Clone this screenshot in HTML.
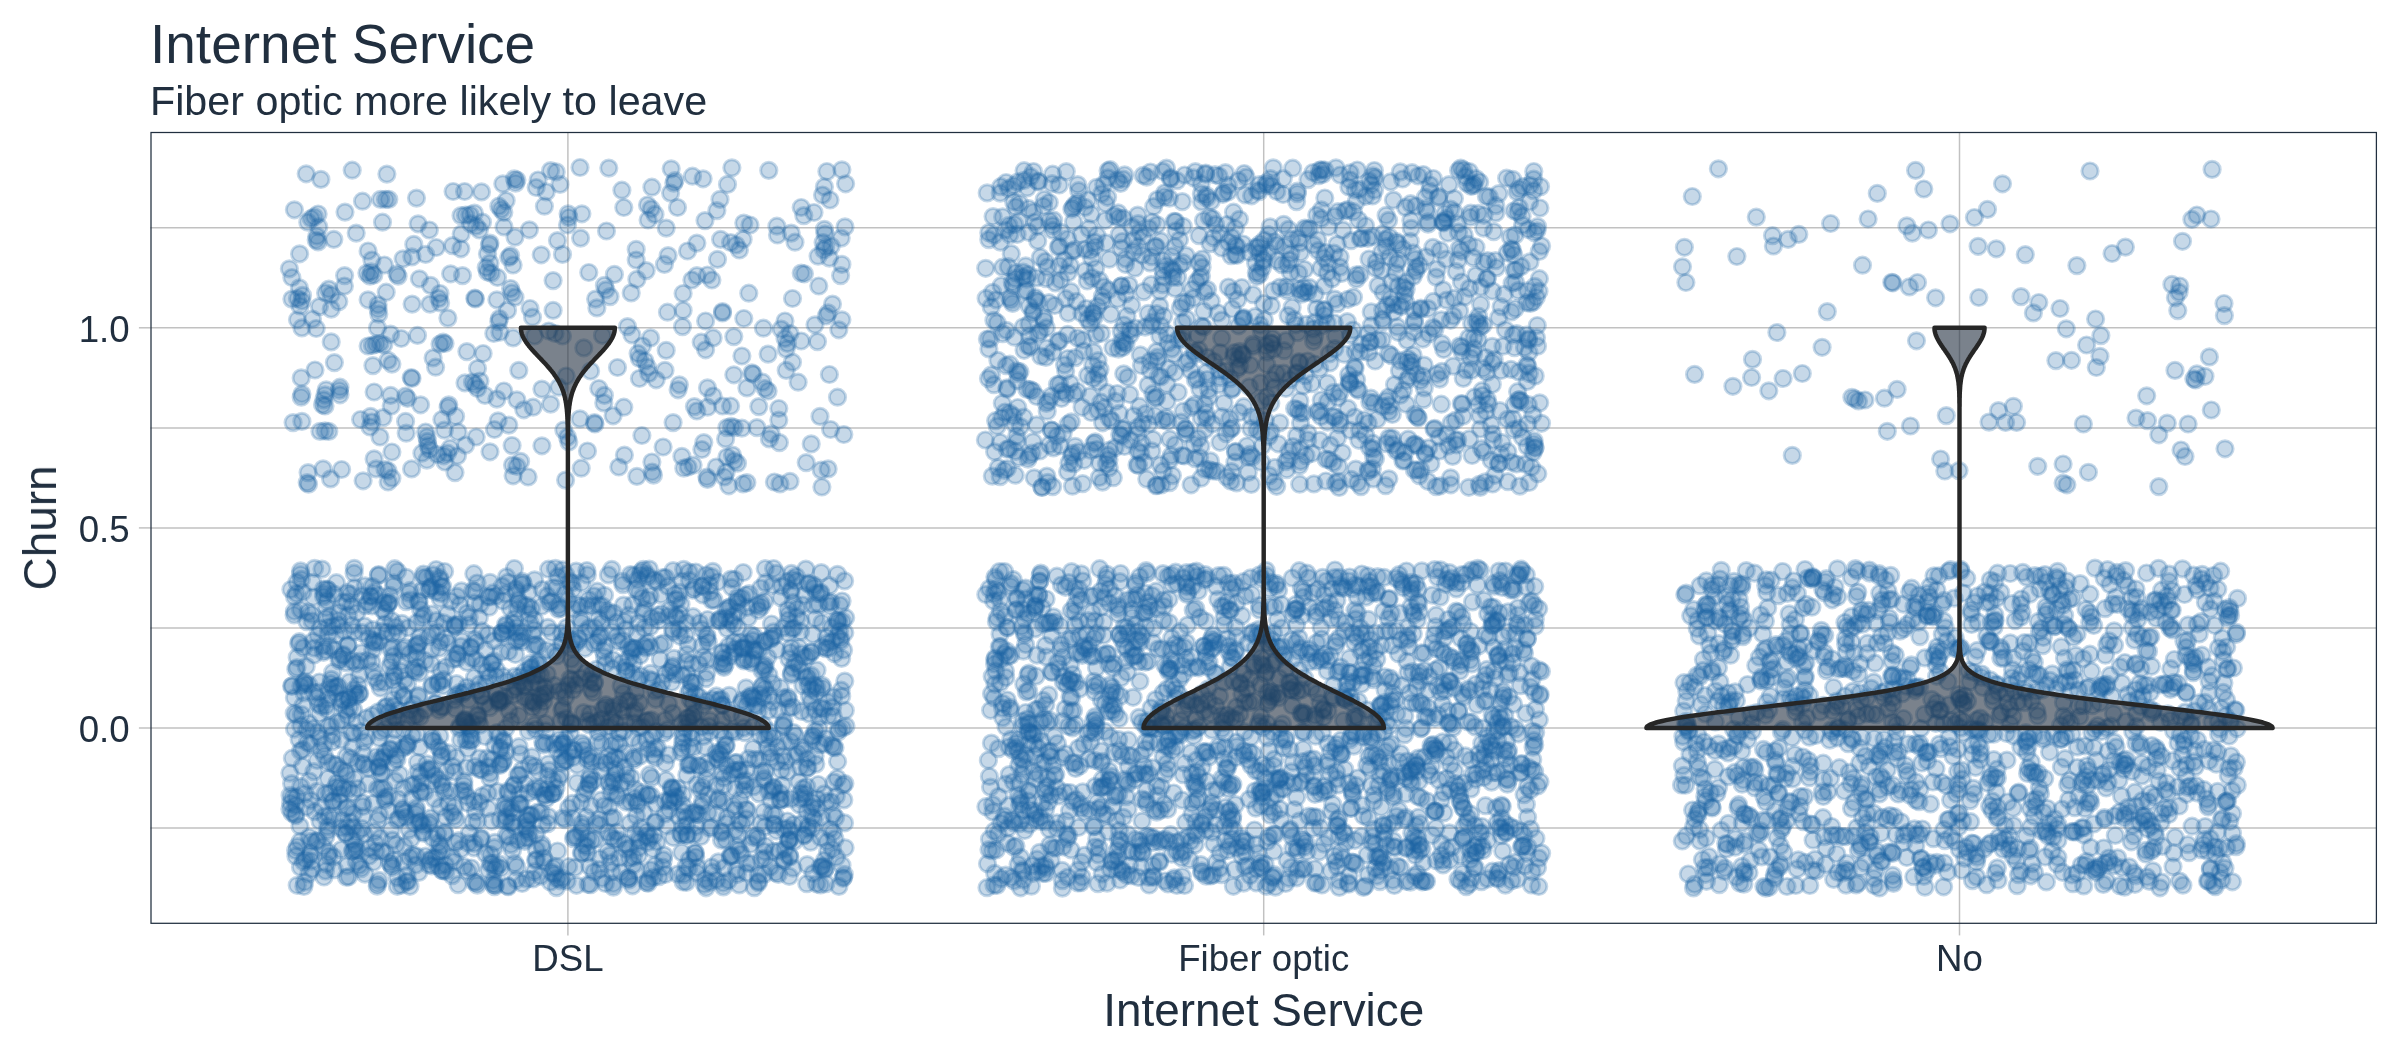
<!DOCTYPE html>
<html><head><meta charset="utf-8"><title>Internet Service</title>
<style>html,body{margin:0;padding:0;background:#fff}svg{display:block}text{font-family:"Liberation Sans",sans-serif;fill:#212f3f}</style></head>
<body>
<svg width="2400" height="1050" viewBox="0 0 2400 1050">
<defs><filter id="f" filterUnits="userSpaceOnUse" x="0" y="0" width="2400" height="1050" color-interpolation-filters="sRGB"><feOffset dx="0" dy="0"/></filter></defs>
<rect width="2400" height="1050" fill="#fff"/>
<g filter="url(#f)"><text x="150" y="63" font-size="55">Internet Service</text></g>
<g filter="url(#f)"><text x="150" y="115" font-size="41.25">Fiber optic more likely to leave</text></g>
<g stroke="#c1c1c1" stroke-width="1.48" fill="none">
<path d="M150.4 828.0H2377.0"/>
<path d="M150.4 728.0H2377.0"/>
<path d="M150.4 628.0H2377.0"/>
<path d="M150.4 527.9H2377.0"/>
<path d="M150.4 427.9H2377.0"/>
<path d="M150.4 327.8H2377.0"/>
<path d="M150.4 227.8H2377.0"/>
<path d="M567.9 131.9V923.9"/>
<path d="M1263.7 131.9V923.9"/>
<path d="M1959.5 131.9V923.9"/>
<path d="M138.9 728.0H150.4"/>
<path d="M138.9 527.9H150.4"/>
<path d="M138.9 327.8H150.4"/>
<path d="M567.9 923.9V935.4"/>
<path d="M1263.7 923.9V935.4"/>
<path d="M1959.5 923.9V935.4"/>
</g>
<g fill="#1b63a5" fill-opacity=".25" stroke="#1b63a5" stroke-opacity=".25" stroke-width="2.95">
<circle cx="1994.1" cy="626.9" r="8.14"/><circle cx="1739.0" cy="584.8" r="8.14"/><circle cx="1060.3" cy="445.7" r="8.14"/><circle cx="1073.8" cy="463.7" r="8.14"/><circle cx="1098.1" cy="374.1" r="8.14"/><circle cx="1870.4" cy="837.0" r="8.14"/>
<circle cx="331.3" cy="679.4" r="8.14"/><circle cx="1380.1" cy="775.4" r="8.14"/><circle cx="1720.0" cy="579.0" r="8.14"/><circle cx="329.7" cy="792.9" r="8.14"/><circle cx="1434.6" cy="811.2" r="8.14"/><circle cx="841.6" cy="658.4" r="8.14"/>
<circle cx="1065.2" cy="709.0" r="8.14"/><circle cx="1460.7" cy="168.0" r="8.14"/><circle cx="1300.5" cy="423.1" r="8.14"/><circle cx="1541.5" cy="423.3" r="8.14"/><circle cx="1825.2" cy="581.9" r="8.14"/><circle cx="1411.8" cy="833.3" r="8.14"/>
<circle cx="548.4" cy="816.6" r="8.14"/><circle cx="1105.0" cy="731.4" r="8.14"/><circle cx="1236.0" cy="757.5" r="8.14"/><circle cx="1088.0" cy="733.1" r="8.14"/><circle cx="1270.1" cy="226.9" r="8.14"/><circle cx="1272.5" cy="338.7" r="8.14"/>
<circle cx="1291.8" cy="690.1" r="8.14"/><circle cx="2124.6" cy="887.2" r="8.14"/><circle cx="2170.0" cy="628.1" r="8.14"/><circle cx="1719.6" cy="863.8" r="8.14"/><circle cx="1862.1" cy="784.2" r="8.14"/><circle cx="1524.9" cy="624.9" r="8.14"/>
<circle cx="1327.4" cy="272.8" r="8.14"/><circle cx="365.0" cy="874.1" r="8.14"/><circle cx="1137.9" cy="427.4" r="8.14"/><circle cx="328.3" cy="698.7" r="8.14"/><circle cx="843.6" cy="877.3" r="8.14"/><circle cx="1127.4" cy="599.9" r="8.14"/>
<circle cx="1350.5" cy="697.0" r="8.14"/><circle cx="2006.9" cy="760.1" r="8.14"/><circle cx="2137.7" cy="619.8" r="8.14"/><circle cx="1539.1" cy="669.9" r="8.14"/><circle cx="1804.5" cy="796.6" r="8.14"/><circle cx="2226.7" cy="647.0" r="8.14"/>
<circle cx="1989.7" cy="806.2" r="8.14"/><circle cx="534.6" cy="620.3" r="8.14"/><circle cx="1004.4" cy="470.4" r="8.14"/><circle cx="2075.9" cy="655.3" r="8.14"/><circle cx="1507.3" cy="252.8" r="8.14"/><circle cx="777.0" cy="762.0" r="8.14"/>
<circle cx="571.3" cy="722.6" r="8.14"/><circle cx="515.9" cy="632.5" r="8.14"/><circle cx="739.6" cy="770.1" r="8.14"/><circle cx="1061.9" cy="391.3" r="8.14"/><circle cx="1138.4" cy="661.9" r="8.14"/><circle cx="1492.5" cy="871.2" r="8.14"/>
<circle cx="2221.8" cy="879.6" r="8.14"/><circle cx="673.0" cy="632.3" r="8.14"/><circle cx="443.6" cy="679.7" r="8.14"/><circle cx="1497.5" cy="740.4" r="8.14"/><circle cx="391.1" cy="829.8" r="8.14"/><circle cx="1942.3" cy="634.3" r="8.14"/>
<circle cx="1362.2" cy="675.0" r="8.14"/><circle cx="394.7" cy="568.7" r="8.14"/><circle cx="1019.4" cy="823.7" r="8.14"/><circle cx="1407.8" cy="627.9" r="8.14"/><circle cx="1790.2" cy="624.5" r="8.14"/><circle cx="623.5" cy="605.1" r="8.14"/>
<circle cx="533.0" cy="635.0" r="8.14"/><circle cx="1760.7" cy="830.8" r="8.14"/><circle cx="1071.1" cy="610.7" r="8.14"/><circle cx="1285.6" cy="738.3" r="8.14"/><circle cx="493.3" cy="884.3" r="8.14"/><circle cx="1091.3" cy="412.5" r="8.14"/>
<circle cx="1042.2" cy="607.9" r="8.14"/><circle cx="2141.2" cy="608.6" r="8.14"/><circle cx="310.8" cy="800.3" r="8.14"/><circle cx="504.9" cy="804.2" r="8.14"/><circle cx="1955.2" cy="724.1" r="8.14"/><circle cx="385.4" cy="800.1" r="8.14"/>
<circle cx="1500.8" cy="718.3" r="8.14"/><circle cx="1475.1" cy="867.3" r="8.14"/><circle cx="640.1" cy="755.9" r="8.14"/><circle cx="1270.8" cy="582.6" r="8.14"/><circle cx="808.7" cy="584.2" r="8.14"/><circle cx="2157.4" cy="751.0" r="8.14"/>
<circle cx="1700.9" cy="704.4" r="8.14"/><circle cx="1014.0" cy="847.1" r="8.14"/><circle cx="1831.6" cy="826.5" r="8.14"/><circle cx="1304.7" cy="846.8" r="8.14"/><circle cx="1470.2" cy="217.2" r="8.14"/><circle cx="586.9" cy="570.5" r="8.14"/>
<circle cx="1214.4" cy="673.1" r="8.14"/><circle cx="1267.4" cy="841.5" r="8.14"/><circle cx="1763.6" cy="651.0" r="8.14"/><circle cx="481.7" cy="769.8" r="8.14"/><circle cx="2031.6" cy="700.8" r="8.14"/><circle cx="1243.6" cy="317.7" r="8.14"/>
<circle cx="1414.4" cy="836.8" r="8.14"/><circle cx="424.6" cy="792.3" r="8.14"/><circle cx="1178.4" cy="339.1" r="8.14"/><circle cx="803.9" cy="835.7" r="8.14"/><circle cx="1433.3" cy="744.6" r="8.14"/><circle cx="1348.3" cy="580.9" r="8.14"/>
<circle cx="1071.6" cy="571.6" r="8.14"/><circle cx="625.6" cy="666.8" r="8.14"/><circle cx="1406.9" cy="661.4" r="8.14"/><circle cx="1505.5" cy="571.0" r="8.14"/><circle cx="655.9" cy="822.1" r="8.14"/><circle cx="1145.5" cy="413.6" r="8.14"/>
<circle cx="741.0" cy="703.1" r="8.14"/><circle cx="1234.9" cy="652.9" r="8.14"/><circle cx="752.6" cy="640.3" r="8.14"/><circle cx="1971.6" cy="624.5" r="8.14"/><circle cx="1107.1" cy="392.6" r="8.14"/><circle cx="1126.8" cy="875.3" r="8.14"/>
<circle cx="2109.1" cy="640.9" r="8.14"/><circle cx="1959.5" cy="719.5" r="8.14"/><circle cx="479.5" cy="769.5" r="8.14"/><circle cx="540.8" cy="674.8" r="8.14"/><circle cx="1482.1" cy="390.7" r="8.14"/><circle cx="289.9" cy="773.1" r="8.14"/>
<circle cx="1499.8" cy="660.8" r="8.14"/><circle cx="804.6" cy="793.9" r="8.14"/><circle cx="1286.8" cy="469.6" r="8.14"/><circle cx="1202.2" cy="259.0" r="8.14"/><circle cx="322.9" cy="645.9" r="8.14"/><circle cx="2132.7" cy="825.4" r="8.14"/>
<circle cx="1893.5" cy="883.4" r="8.14"/><circle cx="820.3" cy="593.6" r="8.14"/><circle cx="1442.3" cy="703.8" r="8.14"/><circle cx="1478.9" cy="753.8" r="8.14"/><circle cx="1096.8" cy="838.9" r="8.14"/><circle cx="993.7" cy="601.0" r="8.14"/>
<circle cx="646.5" cy="739.5" r="8.14"/><circle cx="1044.2" cy="199.5" r="8.14"/><circle cx="1208.3" cy="700.7" r="8.14"/><circle cx="809.5" cy="696.2" r="8.14"/><circle cx="1316.8" cy="882.7" r="8.14"/><circle cx="628.6" cy="877.9" r="8.14"/>
<circle cx="2106.9" cy="684.2" r="8.14"/><circle cx="1385.2" cy="631.2" r="8.14"/><circle cx="733.4" cy="624.5" r="8.14"/><circle cx="1423.5" cy="399.6" r="8.14"/><circle cx="764.0" cy="811.7" r="8.14"/><circle cx="1978.1" cy="729.4" r="8.14"/>
<circle cx="1290.5" cy="272.6" r="8.14"/><circle cx="343.4" cy="700.0" r="8.14"/><circle cx="328.0" cy="762.1" r="8.14"/><circle cx="1494.0" cy="624.0" r="8.14"/><circle cx="611.0" cy="792.5" r="8.14"/><circle cx="501.1" cy="652.3" r="8.14"/>
<circle cx="1876.0" cy="777.0" r="8.14"/><circle cx="1011.3" cy="253.7" r="8.14"/><circle cx="1347.0" cy="690.4" r="8.14"/><circle cx="1208.9" cy="397.0" r="8.14"/><circle cx="2237.5" cy="598.4" r="8.14"/><circle cx="1328.5" cy="227.0" r="8.14"/>
<circle cx="811.4" cy="651.8" r="8.14"/><circle cx="1078.7" cy="190.7" r="8.14"/><circle cx="1253.3" cy="346.5" r="8.14"/><circle cx="687.2" cy="835.4" r="8.14"/><circle cx="1007.7" cy="627.6" r="8.14"/><circle cx="1313.5" cy="786.7" r="8.14"/>
<circle cx="546.0" cy="743.2" r="8.14"/><circle cx="1038.0" cy="181.2" r="8.14"/><circle cx="1766.1" cy="802.2" r="8.14"/><circle cx="1030.1" cy="389.6" r="8.14"/><circle cx="1717.7" cy="701.1" r="8.14"/><circle cx="363.0" cy="763.6" r="8.14"/>
<circle cx="828.3" cy="715.8" r="8.14"/><circle cx="1128.1" cy="783.8" r="8.14"/><circle cx="1087.7" cy="200.0" r="8.14"/><circle cx="2182.4" cy="755.0" r="8.14"/><circle cx="558.7" cy="605.4" r="8.14"/><circle cx="1469.6" cy="690.8" r="8.14"/>
<circle cx="481.2" cy="695.9" r="8.14"/><circle cx="1301.6" cy="294.1" r="8.14"/><circle cx="1897.1" cy="758.6" r="8.14"/><circle cx="2053.0" cy="837.2" r="8.14"/><circle cx="1290.0" cy="689.5" r="8.14"/><circle cx="1198.6" cy="667.8" r="8.14"/>
<circle cx="1153.1" cy="877.5" r="8.14"/><circle cx="429.1" cy="589.7" r="8.14"/><circle cx="2236.3" cy="843.6" r="8.14"/><circle cx="1233.6" cy="583.2" r="8.14"/><circle cx="1764.0" cy="796.6" r="8.14"/><circle cx="333.4" cy="856.9" r="8.14"/>
<circle cx="472.0" cy="723.1" r="8.14"/><circle cx="1407.1" cy="380.3" r="8.14"/><circle cx="2193.5" cy="761.9" r="8.14"/><circle cx="1348.4" cy="681.6" r="8.14"/><circle cx="1887.9" cy="786.6" r="8.14"/><circle cx="1292.1" cy="307.4" r="8.14"/>
<circle cx="1106.8" cy="653.5" r="8.14"/><circle cx="493.0" cy="592.9" r="8.14"/><circle cx="1525.0" cy="865.7" r="8.14"/><circle cx="328.1" cy="778.5" r="8.14"/><circle cx="1501.3" cy="805.1" r="8.14"/><circle cx="1370.3" cy="737.5" r="8.14"/>
<circle cx="2105.4" cy="655.2" r="8.14"/><circle cx="2034.3" cy="662.4" r="8.14"/><circle cx="1502.3" cy="587.5" r="8.14"/><circle cx="1390.4" cy="298.6" r="8.14"/><circle cx="2060.6" cy="725.4" r="8.14"/><circle cx="378.1" cy="682.3" r="8.14"/>
<circle cx="1842.8" cy="872.9" r="8.14"/><circle cx="1365.1" cy="675.1" r="8.14"/><circle cx="2083.2" cy="658.8" r="8.14"/><circle cx="1919.6" cy="686.9" r="8.14"/><circle cx="2154.7" cy="832.0" r="8.14"/><circle cx="1340.1" cy="257.0" r="8.14"/>
<circle cx="485.1" cy="704.0" r="8.14"/><circle cx="593.0" cy="692.5" r="8.14"/><circle cx="831.3" cy="802.0" r="8.14"/><circle cx="1489.3" cy="196.8" r="8.14"/><circle cx="1347.7" cy="209.7" r="8.14"/><circle cx="2098.1" cy="780.5" r="8.14"/>
<circle cx="1920.2" cy="834.3" r="8.14"/><circle cx="1926.2" cy="752.9" r="8.14"/><circle cx="2209.2" cy="692.9" r="8.14"/><circle cx="1316.6" cy="642.8" r="8.14"/><circle cx="514.4" cy="568.5" r="8.14"/><circle cx="655.4" cy="757.8" r="8.14"/>
<circle cx="668.6" cy="616.1" r="8.14"/><circle cx="1977.5" cy="650.3" r="8.14"/><circle cx="665.3" cy="874.5" r="8.14"/><circle cx="1022.7" cy="721.0" r="8.14"/><circle cx="754.5" cy="651.2" r="8.14"/><circle cx="1440.6" cy="569.9" r="8.14"/>
<circle cx="410.0" cy="590.3" r="8.14"/><circle cx="1372.5" cy="196.0" r="8.14"/><circle cx="1167.6" cy="809.3" r="8.14"/><circle cx="1707.5" cy="617.4" r="8.14"/><circle cx="1121.3" cy="286.1" r="8.14"/><circle cx="1044.9" cy="789.6" r="8.14"/>
<circle cx="716.4" cy="695.9" r="8.14"/><circle cx="1270.5" cy="646.8" r="8.14"/><circle cx="527.7" cy="605.6" r="8.14"/><circle cx="1376.9" cy="876.1" r="8.14"/><circle cx="834.6" cy="653.6" r="8.14"/><circle cx="2081.5" cy="783.6" r="8.14"/>
<circle cx="306.7" cy="729.8" r="8.14"/><circle cx="1035.3" cy="608.5" r="8.14"/><circle cx="2217.4" cy="832.2" r="8.14"/><circle cx="1995.9" cy="683.9" r="8.14"/><circle cx="605.5" cy="646.8" r="8.14"/><circle cx="1077.7" cy="184.6" r="8.14"/>
<circle cx="2024.8" cy="689.2" r="8.14"/><circle cx="1388.8" cy="763.0" r="8.14"/><circle cx="1893.1" cy="880.4" r="8.14"/><circle cx="1765.7" cy="585.6" r="8.14"/><circle cx="1211.3" cy="649.6" r="8.14"/><circle cx="1523.9" cy="835.3" r="8.14"/>
<circle cx="768.8" cy="791.2" r="8.14"/><circle cx="1530.4" cy="303.4" r="8.14"/><circle cx="1487.2" cy="278.3" r="8.14"/><circle cx="295.8" cy="669.2" r="8.14"/><circle cx="336.6" cy="686.7" r="8.14"/><circle cx="833.7" cy="696.9" r="8.14"/>
<circle cx="1519.7" cy="672.7" r="8.14"/><circle cx="1321.0" cy="416.5" r="8.14"/><circle cx="1936.6" cy="676.3" r="8.14"/><circle cx="1431.1" cy="745.4" r="8.14"/><circle cx="529.6" cy="764.3" r="8.14"/><circle cx="594.6" cy="682.2" r="8.14"/>
<circle cx="1439.4" cy="667.6" r="8.14"/><circle cx="1703.3" cy="670.3" r="8.14"/><circle cx="1436.4" cy="860.7" r="8.14"/><circle cx="1145.7" cy="742.0" r="8.14"/><circle cx="1376.4" cy="261.8" r="8.14"/><circle cx="1881.0" cy="861.3" r="8.14"/>
<circle cx="1338.0" cy="397.7" r="8.14"/><circle cx="1891.6" cy="652.8" r="8.14"/><circle cx="2233.4" cy="668.0" r="8.14"/><circle cx="359.7" cy="693.6" r="8.14"/><circle cx="1341.8" cy="754.0" r="8.14"/><circle cx="1535.1" cy="447.1" r="8.14"/>
<circle cx="1524.1" cy="794.6" r="8.14"/><circle cx="1440.4" cy="692.1" r="8.14"/><circle cx="1685.5" cy="785.2" r="8.14"/><circle cx="1323.7" cy="310.2" r="8.14"/><circle cx="1851.5" cy="616.6" r="8.14"/><circle cx="1132.4" cy="617.4" r="8.14"/>
<circle cx="1113.3" cy="477.7" r="8.14"/><circle cx="576.5" cy="885.3" r="8.14"/><circle cx="1075.3" cy="357.6" r="8.14"/><circle cx="1539.0" cy="291.3" r="8.14"/><circle cx="1329.3" cy="353.9" r="8.14"/><circle cx="707.4" cy="762.8" r="8.14"/>
<circle cx="1076.1" cy="682.5" r="8.14"/><circle cx="1006.1" cy="182.5" r="8.14"/><circle cx="561.6" cy="632.9" r="8.14"/><circle cx="1712.3" cy="672.5" r="8.14"/><circle cx="325.5" cy="618.3" r="8.14"/><circle cx="1071.6" cy="697.9" r="8.14"/>
<circle cx="1131.8" cy="609.7" r="8.14"/><circle cx="1349.6" cy="577.0" r="8.14"/><circle cx="1191.3" cy="700.6" r="8.14"/><circle cx="474.0" cy="801.0" r="8.14"/><circle cx="456.8" cy="653.5" r="8.14"/><circle cx="1246.1" cy="177.1" r="8.14"/>
<circle cx="1909.9" cy="795.1" r="8.14"/><circle cx="1512.1" cy="283.3" r="8.14"/><circle cx="430.1" cy="587.6" r="8.14"/><circle cx="1230.9" cy="481.2" r="8.14"/><circle cx="690.9" cy="682.0" r="8.14"/><circle cx="1421.5" cy="652.8" r="8.14"/>
<circle cx="469.2" cy="617.4" r="8.14"/><circle cx="1418.8" cy="675.6" r="8.14"/><circle cx="1425.5" cy="454.3" r="8.14"/><circle cx="1298.6" cy="273.3" r="8.14"/><circle cx="2044.9" cy="574.5" r="8.14"/><circle cx="1483.5" cy="324.8" r="8.14"/>
<circle cx="1273.5" cy="632.7" r="8.14"/><circle cx="363.0" cy="806.5" r="8.14"/><circle cx="1049.4" cy="829.2" r="8.14"/><circle cx="432.1" cy="686.2" r="8.14"/><circle cx="1290.2" cy="829.1" r="8.14"/><circle cx="338.6" cy="620.1" r="8.14"/>
<circle cx="1261.0" cy="805.5" r="8.14"/><circle cx="1018.6" cy="221.2" r="8.14"/><circle cx="1106.9" cy="814.9" r="8.14"/><circle cx="1428.4" cy="690.7" r="8.14"/><circle cx="1107.8" cy="455.3" r="8.14"/><circle cx="1442.5" cy="221.7" r="8.14"/>
<circle cx="1313.9" cy="483.9" r="8.14"/><circle cx="773.6" cy="737.6" r="8.14"/><circle cx="1370.9" cy="398.2" r="8.14"/><circle cx="1148.1" cy="385.1" r="8.14"/><circle cx="548.1" cy="764.0" r="8.14"/><circle cx="1481.8" cy="743.4" r="8.14"/>
<circle cx="2223.0" cy="651.6" r="8.14"/><circle cx="1858.4" cy="850.1" r="8.14"/><circle cx="729.2" cy="695.3" r="8.14"/><circle cx="760.8" cy="823.1" r="8.14"/><circle cx="1327.3" cy="671.0" r="8.14"/><circle cx="1157.3" cy="199.6" r="8.14"/>
<circle cx="2121.9" cy="683.1" r="8.14"/><circle cx="1082.1" cy="877.0" r="8.14"/><circle cx="1389.2" cy="598.7" r="8.14"/><circle cx="549.3" cy="602.6" r="8.14"/><circle cx="2069.4" cy="681.0" r="8.14"/><circle cx="543.8" cy="794.9" r="8.14"/>
<circle cx="733.5" cy="805.7" r="8.14"/><circle cx="2232.4" cy="881.8" r="8.14"/><circle cx="1880.2" cy="758.1" r="8.14"/><circle cx="1325.9" cy="481.0" r="8.14"/><circle cx="1016.2" cy="743.3" r="8.14"/><circle cx="1446.8" cy="778.5" r="8.14"/>
<circle cx="448.2" cy="802.9" r="8.14"/><circle cx="347.5" cy="827.3" r="8.14"/><circle cx="1225.6" cy="807.3" r="8.14"/><circle cx="1466.0" cy="370.0" r="8.14"/><circle cx="518.1" cy="840.2" r="8.14"/><circle cx="2140.9" cy="668.8" r="8.14"/>
<circle cx="1846.8" cy="626.6" r="8.14"/><circle cx="1332.7" cy="804.4" r="8.14"/><circle cx="1940.5" cy="710.4" r="8.14"/><circle cx="737.3" cy="846.4" r="8.14"/><circle cx="1186.5" cy="302.3" r="8.14"/><circle cx="2154.1" cy="600.6" r="8.14"/>
<circle cx="636.4" cy="816.0" r="8.14"/><circle cx="1096.5" cy="667.8" r="8.14"/><circle cx="2146.6" cy="573.0" r="8.14"/><circle cx="1361.1" cy="634.1" r="8.14"/><circle cx="581.6" cy="743.0" r="8.14"/><circle cx="1957.7" cy="771.5" r="8.14"/>
<circle cx="2087.2" cy="688.4" r="8.14"/><circle cx="1410.9" cy="606.9" r="8.14"/><circle cx="1027.8" cy="723.6" r="8.14"/><circle cx="1159.3" cy="842.0" r="8.14"/><circle cx="336.4" cy="582.7" r="8.14"/><circle cx="485.6" cy="853.7" r="8.14"/>
<circle cx="1520.2" cy="831.2" r="8.14"/><circle cx="1961.7" cy="870.3" r="8.14"/><circle cx="479.3" cy="617.7" r="8.14"/><circle cx="1042.0" cy="487.1" r="8.14"/><circle cx="1099.1" cy="847.9" r="8.14"/><circle cx="1682.3" cy="841.0" r="8.14"/>
<circle cx="1436.2" cy="615.2" r="8.14"/><circle cx="347.7" cy="807.4" r="8.14"/><circle cx="442.6" cy="586.3" r="8.14"/><circle cx="1987.9" cy="783.2" r="8.14"/><circle cx="1239.2" cy="412.5" r="8.14"/><circle cx="2114.6" cy="742.4" r="8.14"/>
<circle cx="839.5" cy="631.0" r="8.14"/><circle cx="1153.7" cy="206.5" r="8.14"/><circle cx="1861.4" cy="610.0" r="8.14"/><circle cx="1015.3" cy="451.4" r="8.14"/><circle cx="440.8" cy="670.7" r="8.14"/><circle cx="1932.0" cy="615.7" r="8.14"/>
<circle cx="620.0" cy="704.0" r="8.14"/><circle cx="382.4" cy="773.2" r="8.14"/><circle cx="657.8" cy="615.7" r="8.14"/><circle cx="2191.0" cy="725.0" r="8.14"/><circle cx="1374.0" cy="794.8" r="8.14"/><circle cx="1512.5" cy="587.4" r="8.14"/>
<circle cx="1476.1" cy="851.7" r="8.14"/><circle cx="1029.3" cy="824.4" r="8.14"/><circle cx="1803.7" cy="698.1" r="8.14"/><circle cx="1786.9" cy="661.9" r="8.14"/><circle cx="697.5" cy="867.5" r="8.14"/><circle cx="1196.3" cy="760.2" r="8.14"/>
<circle cx="2065.5" cy="736.5" r="8.14"/><circle cx="2077.4" cy="767.5" r="8.14"/><circle cx="572.9" cy="589.3" r="8.14"/><circle cx="2178.0" cy="786.7" r="8.14"/><circle cx="1419.8" cy="823.6" r="8.14"/><circle cx="317.8" cy="635.3" r="8.14"/>
<circle cx="1216.2" cy="810.2" r="8.14"/><circle cx="2227.6" cy="800.8" r="8.14"/><circle cx="1351.1" cy="736.4" r="8.14"/><circle cx="1420.8" cy="309.3" r="8.14"/><circle cx="1786.2" cy="640.8" r="8.14"/><circle cx="1300.4" cy="252.6" r="8.14"/>
<circle cx="380.9" cy="731.6" r="8.14"/><circle cx="1686.8" cy="691.3" r="8.14"/><circle cx="373.3" cy="641.9" r="8.14"/><circle cx="2159.9" cy="684.9" r="8.14"/><circle cx="1496.4" cy="267.6" r="8.14"/><circle cx="319.5" cy="713.5" r="8.14"/>
<circle cx="1299.2" cy="362.8" r="8.14"/><circle cx="1791.2" cy="802.3" r="8.14"/><circle cx="739.3" cy="884.9" r="8.14"/><circle cx="1336.8" cy="600.6" r="8.14"/><circle cx="1767.7" cy="607.9" r="8.14"/><circle cx="1488.4" cy="404.0" r="8.14"/>
<circle cx="1978.0" cy="742.9" r="8.14"/><circle cx="1166.5" cy="168.1" r="8.14"/><circle cx="1422.2" cy="881.8" r="8.14"/><circle cx="1845.6" cy="643.9" r="8.14"/><circle cx="387.1" cy="632.0" r="8.14"/><circle cx="1223.8" cy="781.3" r="8.14"/>
<circle cx="501.8" cy="632.7" r="8.14"/><circle cx="681.8" cy="722.9" r="8.14"/><circle cx="1777.0" cy="646.3" r="8.14"/><circle cx="358.1" cy="685.2" r="8.14"/><circle cx="1200.8" cy="864.6" r="8.14"/><circle cx="1408.8" cy="646.7" r="8.14"/>
<circle cx="1399.6" cy="613.2" r="8.14"/><circle cx="1138.0" cy="632.1" r="8.14"/><circle cx="500.9" cy="868.2" r="8.14"/><circle cx="725.7" cy="745.9" r="8.14"/><circle cx="304.8" cy="681.5" r="8.14"/><circle cx="1495.4" cy="678.4" r="8.14"/>
<circle cx="660.3" cy="659.4" r="8.14"/><circle cx="638.6" cy="847.9" r="8.14"/><circle cx="1155.6" cy="699.6" r="8.14"/><circle cx="1879.4" cy="793.9" r="8.14"/><circle cx="1260.1" cy="792.7" r="8.14"/><circle cx="1493.7" cy="647.5" r="8.14"/>
<circle cx="1035.4" cy="299.8" r="8.14"/><circle cx="1340.6" cy="667.1" r="8.14"/><circle cx="1788.6" cy="651.4" r="8.14"/><circle cx="438.4" cy="866.2" r="8.14"/><circle cx="721.7" cy="652.8" r="8.14"/><circle cx="1267.1" cy="352.1" r="8.14"/>
<circle cx="738.7" cy="835.0" r="8.14"/><circle cx="304.0" cy="692.9" r="8.14"/><circle cx="1128.0" cy="809.2" r="8.14"/><circle cx="530.5" cy="815.2" r="8.14"/><circle cx="746.2" cy="818.8" r="8.14"/><circle cx="604.1" cy="805.8" r="8.14"/>
<circle cx="1537.6" cy="786.0" r="8.14"/><circle cx="1231.8" cy="785.8" r="8.14"/><circle cx="2114.2" cy="630.8" r="8.14"/><circle cx="1221.8" cy="248.0" r="8.14"/><circle cx="333.3" cy="819.3" r="8.14"/><circle cx="1428.2" cy="770.8" r="8.14"/>
<circle cx="717.8" cy="800.3" r="8.14"/><circle cx="1465.4" cy="755.9" r="8.14"/><circle cx="1297.5" cy="409.5" r="8.14"/><circle cx="1444.9" cy="690.6" r="8.14"/><circle cx="1417.2" cy="873.5" r="8.14"/><circle cx="2213.3" cy="884.9" r="8.14"/>
<circle cx="1179.5" cy="239.8" r="8.14"/><circle cx="2150.2" cy="612.0" r="8.14"/><circle cx="2209.1" cy="760.8" r="8.14"/><circle cx="1411.5" cy="366.0" r="8.14"/><circle cx="441.0" cy="750.4" r="8.14"/><circle cx="1117.9" cy="856.9" r="8.14"/>
<circle cx="2109.9" cy="584.5" r="8.14"/><circle cx="743.9" cy="660.9" r="8.14"/><circle cx="1033.4" cy="211.9" r="8.14"/><circle cx="1836.7" cy="853.8" r="8.14"/><circle cx="1101.1" cy="806.6" r="8.14"/><circle cx="1909.6" cy="592.0" r="8.14"/>
<circle cx="985.9" cy="806.7" r="8.14"/><circle cx="811.4" cy="652.4" r="8.14"/><circle cx="1102.2" cy="301.0" r="8.14"/><circle cx="611.8" cy="569.4" r="8.14"/><circle cx="534.6" cy="579.8" r="8.14"/><circle cx="294.4" cy="697.8" r="8.14"/>
<circle cx="1278.6" cy="590.0" r="8.14"/><circle cx="2104.4" cy="817.7" r="8.14"/><circle cx="1789.2" cy="801.7" r="8.14"/><circle cx="377.9" cy="820.2" r="8.14"/><circle cx="667.9" cy="586.4" r="8.14"/><circle cx="2193.3" cy="670.6" r="8.14"/>
<circle cx="585.0" cy="648.3" r="8.14"/><circle cx="1891.9" cy="852.2" r="8.14"/><circle cx="2052.9" cy="593.9" r="8.14"/><circle cx="568.6" cy="751.8" r="8.14"/><circle cx="2229.2" cy="607.6" r="8.14"/><circle cx="2034.0" cy="735.0" r="8.14"/>
<circle cx="1488.8" cy="636.6" r="8.14"/><circle cx="635.4" cy="648.5" r="8.14"/><circle cx="1875.7" cy="622.7" r="8.14"/><circle cx="1381.3" cy="645.4" r="8.14"/><circle cx="1481.8" cy="826.5" r="8.14"/><circle cx="1330.3" cy="445.2" r="8.14"/>
<circle cx="2049.5" cy="590.8" r="8.14"/><circle cx="1503.7" cy="695.0" r="8.14"/><circle cx="747.1" cy="810.1" r="8.14"/><circle cx="693.1" cy="616.7" r="8.14"/><circle cx="1023.4" cy="879.8" r="8.14"/><circle cx="1509.4" cy="864.5" r="8.14"/>
<circle cx="1533.1" cy="747.2" r="8.14"/><circle cx="558.5" cy="691.5" r="8.14"/><circle cx="811.1" cy="675.3" r="8.14"/><circle cx="317.6" cy="732.2" r="8.14"/><circle cx="1327.8" cy="401.5" r="8.14"/><circle cx="1537.6" cy="226.6" r="8.14"/>
<circle cx="306.3" cy="807.1" r="8.14"/><circle cx="1242.1" cy="354.0" r="8.14"/><circle cx="1409.9" cy="693.0" r="8.14"/><circle cx="1271.2" cy="798.3" r="8.14"/><circle cx="1731.9" cy="599.2" r="8.14"/><circle cx="1276.3" cy="585.4" r="8.14"/>
<circle cx="1534.7" cy="586.5" r="8.14"/><circle cx="1263.3" cy="727.7" r="8.14"/><circle cx="488.0" cy="808.4" r="8.14"/><circle cx="1187.7" cy="592.2" r="8.14"/><circle cx="737.5" cy="627.3" r="8.14"/><circle cx="1153.1" cy="439.5" r="8.14"/>
<circle cx="591.7" cy="762.2" r="8.14"/><circle cx="292.1" cy="813.0" r="8.14"/><circle cx="1428.0" cy="717.1" r="8.14"/><circle cx="1105.8" cy="242.9" r="8.14"/><circle cx="615.6" cy="769.4" r="8.14"/><circle cx="1110.2" cy="169.7" r="8.14"/>
<circle cx="1153.1" cy="865.6" r="8.14"/><circle cx="998.6" cy="796.5" r="8.14"/><circle cx="1892.1" cy="661.1" r="8.14"/><circle cx="1519.8" cy="486.1" r="8.14"/><circle cx="2003.1" cy="849.3" r="8.14"/><circle cx="1383.3" cy="824.8" r="8.14"/>
<circle cx="686.3" cy="817.4" r="8.14"/><circle cx="356.2" cy="721.8" r="8.14"/><circle cx="844.5" cy="822.9" r="8.14"/><circle cx="994.8" cy="659.8" r="8.14"/><circle cx="438.6" cy="681.5" r="8.14"/><circle cx="343.0" cy="655.7" r="8.14"/>
<circle cx="1371.2" cy="785.7" r="8.14"/><circle cx="2132.3" cy="615.0" r="8.14"/><circle cx="1103.7" cy="184.6" r="8.14"/><circle cx="547.2" cy="674.1" r="8.14"/><circle cx="1016.7" cy="436.0" r="8.14"/><circle cx="1486.6" cy="764.4" r="8.14"/>
<circle cx="1250.2" cy="875.5" r="8.14"/><circle cx="1360.9" cy="651.2" r="8.14"/><circle cx="1164.0" cy="606.5" r="8.14"/><circle cx="1289.9" cy="830.9" r="8.14"/><circle cx="1271.7" cy="185.7" r="8.14"/><circle cx="825.9" cy="738.5" r="8.14"/>
<circle cx="2062.0" cy="809.2" r="8.14"/><circle cx="1740.5" cy="606.8" r="8.14"/><circle cx="359.9" cy="661.2" r="8.14"/><circle cx="1882.8" cy="778.9" r="8.14"/><circle cx="1175.6" cy="746.9" r="8.14"/><circle cx="527.8" cy="815.0" r="8.14"/>
<circle cx="632.7" cy="673.5" r="8.14"/><circle cx="1265.8" cy="346.0" r="8.14"/><circle cx="1133.7" cy="251.7" r="8.14"/><circle cx="459.6" cy="692.7" r="8.14"/><circle cx="618.8" cy="732.7" r="8.14"/><circle cx="1227.4" cy="638.6" r="8.14"/>
<circle cx="1375.3" cy="868.4" r="8.14"/><circle cx="665.3" cy="720.1" r="8.14"/><circle cx="2146.1" cy="650.4" r="8.14"/><circle cx="1338.5" cy="466.5" r="8.14"/><circle cx="1180.2" cy="631.6" r="8.14"/><circle cx="1053.4" cy="447.9" r="8.14"/>
<circle cx="631.2" cy="777.6" r="8.14"/><circle cx="591.7" cy="757.7" r="8.14"/><circle cx="2124.7" cy="814.7" r="8.14"/><circle cx="1122.1" cy="756.1" r="8.14"/><circle cx="1271.7" cy="343.6" r="8.14"/><circle cx="1292.0" cy="640.3" r="8.14"/>
<circle cx="1074.5" cy="249.7" r="8.14"/><circle cx="1305.2" cy="375.7" r="8.14"/><circle cx="1505.7" cy="831.9" r="8.14"/><circle cx="525.2" cy="784.1" r="8.14"/><circle cx="604.5" cy="595.3" r="8.14"/><circle cx="445.7" cy="817.1" r="8.14"/>
<circle cx="1411.0" cy="772.2" r="8.14"/><circle cx="2172.1" cy="590.6" r="8.14"/><circle cx="1401.6" cy="306.4" r="8.14"/><circle cx="346.5" cy="756.3" r="8.14"/><circle cx="306.2" cy="666.4" r="8.14"/><circle cx="338.5" cy="625.0" r="8.14"/>
<circle cx="1348.9" cy="186.9" r="8.14"/><circle cx="542.8" cy="742.2" r="8.14"/><circle cx="1302.4" cy="731.6" r="8.14"/><circle cx="735.0" cy="809.9" r="8.14"/><circle cx="2029.5" cy="642.8" r="8.14"/><circle cx="1052.7" cy="486.6" r="8.14"/>
<circle cx="669.8" cy="671.3" r="8.14"/><circle cx="1131.5" cy="875.7" r="8.14"/><circle cx="446.4" cy="771.5" r="8.14"/><circle cx="1041.4" cy="763.3" r="8.14"/><circle cx="1028.7" cy="731.4" r="8.14"/><circle cx="1529.6" cy="201.9" r="8.14"/>
<circle cx="1700.0" cy="841.0" r="8.14"/><circle cx="2234.7" cy="709.6" r="8.14"/><circle cx="1372.2" cy="754.5" r="8.14"/><circle cx="1891.6" cy="675.6" r="8.14"/><circle cx="636.1" cy="589.2" r="8.14"/><circle cx="718.5" cy="620.4" r="8.14"/>
<circle cx="1145.4" cy="612.8" r="8.14"/><circle cx="1369.9" cy="768.4" r="8.14"/><circle cx="1102.4" cy="779.4" r="8.14"/><circle cx="1833.5" cy="594.5" r="8.14"/><circle cx="346.4" cy="662.7" r="8.14"/><circle cx="581.5" cy="582.8" r="8.14"/>
<circle cx="1529.0" cy="352.5" r="8.14"/><circle cx="1010.6" cy="655.4" r="8.14"/><circle cx="2190.8" cy="735.8" r="8.14"/><circle cx="1722.8" cy="651.9" r="8.14"/><circle cx="625.2" cy="843.6" r="8.14"/><circle cx="523.8" cy="685.9" r="8.14"/>
<circle cx="1116.2" cy="795.5" r="8.14"/><circle cx="1892.7" cy="697.5" r="8.14"/><circle cx="843.0" cy="878.3" r="8.14"/><circle cx="464.6" cy="719.2" r="8.14"/><circle cx="1881.1" cy="751.1" r="8.14"/><circle cx="1202.1" cy="267.3" r="8.14"/>
<circle cx="1107.0" cy="786.7" r="8.14"/><circle cx="1976.5" cy="862.3" r="8.14"/><circle cx="1383.1" cy="771.4" r="8.14"/><circle cx="674.0" cy="658.3" r="8.14"/><circle cx="1534.8" cy="286.4" r="8.14"/><circle cx="1725.7" cy="843.5" r="8.14"/>
<circle cx="1355.9" cy="733.6" r="8.14"/><circle cx="368.8" cy="638.1" r="8.14"/><circle cx="503.2" cy="741.6" r="8.14"/><circle cx="1434.8" cy="718.4" r="8.14"/><circle cx="1400.5" cy="580.6" r="8.14"/><circle cx="1832.4" cy="711.0" r="8.14"/>
<circle cx="1111.9" cy="861.9" r="8.14"/><circle cx="1134.5" cy="656.4" r="8.14"/><circle cx="2136.5" cy="597.3" r="8.14"/><circle cx="595.4" cy="822.9" r="8.14"/><circle cx="466.7" cy="796.3" r="8.14"/><circle cx="1135.5" cy="839.4" r="8.14"/>
<circle cx="1436.2" cy="648.7" r="8.14"/><circle cx="1354.7" cy="417.1" r="8.14"/><circle cx="398.8" cy="690.5" r="8.14"/><circle cx="470.9" cy="647.7" r="8.14"/><circle cx="1386.4" cy="443.7" r="8.14"/><circle cx="689.3" cy="859.5" r="8.14"/>
<circle cx="1038.2" cy="333.8" r="8.14"/><circle cx="1029.5" cy="335.9" r="8.14"/><circle cx="1749.0" cy="815.3" r="8.14"/><circle cx="1982.7" cy="687.4" r="8.14"/><circle cx="1092.8" cy="365.3" r="8.14"/><circle cx="2023.3" cy="651.3" r="8.14"/>
<circle cx="2167.9" cy="713.9" r="8.14"/><circle cx="1535.3" cy="619.3" r="8.14"/><circle cx="590.5" cy="884.6" r="8.14"/><circle cx="2030.8" cy="827.1" r="8.14"/><circle cx="1498.8" cy="463.3" r="8.14"/><circle cx="1499.1" cy="571.1" r="8.14"/>
<circle cx="308.8" cy="873.8" r="8.14"/><circle cx="1231.5" cy="589.1" r="8.14"/><circle cx="2058.1" cy="824.9" r="8.14"/><circle cx="1977.0" cy="719.9" r="8.14"/><circle cx="1377.9" cy="733.6" r="8.14"/><circle cx="1187.3" cy="700.5" r="8.14"/>
<circle cx="599.6" cy="869.5" r="8.14"/><circle cx="1467.9" cy="721.9" r="8.14"/><circle cx="1095.1" cy="716.5" r="8.14"/><circle cx="1184.5" cy="647.7" r="8.14"/><circle cx="1515.1" cy="235.1" r="8.14"/><circle cx="682.9" cy="805.2" r="8.14"/>
<circle cx="389.8" cy="748.8" r="8.14"/><circle cx="607.0" cy="727.2" r="8.14"/><circle cx="1371.4" cy="593.0" r="8.14"/><circle cx="378.5" cy="766.8" r="8.14"/><circle cx="764.0" cy="777.9" r="8.14"/><circle cx="1778.5" cy="595.6" r="8.14"/>
<circle cx="1157.5" cy="795.5" r="8.14"/><circle cx="1168.4" cy="739.7" r="8.14"/><circle cx="1121.6" cy="436.1" r="8.14"/><circle cx="640.2" cy="655.4" r="8.14"/><circle cx="1714.9" cy="769.3" r="8.14"/><circle cx="1114.2" cy="215.7" r="8.14"/>
<circle cx="1504.2" cy="294.4" r="8.14"/><circle cx="704.4" cy="884.4" r="8.14"/><circle cx="1313.5" cy="828.3" r="8.14"/><circle cx="1211.2" cy="201.2" r="8.14"/><circle cx="508.5" cy="792.6" r="8.14"/><circle cx="1201.6" cy="201.9" r="8.14"/>
<circle cx="1980.0" cy="730.8" r="8.14"/><circle cx="1211.2" cy="301.2" r="8.14"/><circle cx="324.1" cy="744.2" r="8.14"/><circle cx="1433.4" cy="301.4" r="8.14"/><circle cx="2110.8" cy="725.8" r="8.14"/><circle cx="2221.4" cy="708.5" r="8.14"/>
<circle cx="522.2" cy="581.4" r="8.14"/><circle cx="802.6" cy="605.0" r="8.14"/><circle cx="1156.4" cy="246.8" r="8.14"/><circle cx="1179.9" cy="265.3" r="8.14"/><circle cx="394.6" cy="676.2" r="8.14"/><circle cx="2066.8" cy="669.7" r="8.14"/>
<circle cx="1072.4" cy="453.4" r="8.14"/><circle cx="1046.1" cy="623.2" r="8.14"/><circle cx="496.5" cy="866.5" r="8.14"/><circle cx="395.5" cy="626.9" r="8.14"/><circle cx="1041.9" cy="803.2" r="8.14"/><circle cx="1112.9" cy="347.8" r="8.14"/>
<circle cx="1393.2" cy="794.1" r="8.14"/><circle cx="1538.7" cy="608.8" r="8.14"/><circle cx="409.7" cy="857.5" r="8.14"/><circle cx="308.1" cy="612.2" r="8.14"/><circle cx="2041.9" cy="690.1" r="8.14"/><circle cx="705.8" cy="678.7" r="8.14"/>
<circle cx="1687.1" cy="723.7" r="8.14"/><circle cx="1358.3" cy="701.3" r="8.14"/><circle cx="1998.9" cy="837.1" r="8.14"/><circle cx="423.4" cy="833.2" r="8.14"/><circle cx="1195.1" cy="729.4" r="8.14"/><circle cx="507.9" cy="582.3" r="8.14"/>
<circle cx="1192.4" cy="730.9" r="8.14"/><circle cx="1170.3" cy="669.1" r="8.14"/><circle cx="703.8" cy="656.6" r="8.14"/><circle cx="1093.4" cy="312.3" r="8.14"/><circle cx="525.2" cy="686.1" r="8.14"/><circle cx="644.2" cy="645.6" r="8.14"/>
<circle cx="615.2" cy="757.1" r="8.14"/><circle cx="1798.8" cy="813.6" r="8.14"/><circle cx="1280.7" cy="789.0" r="8.14"/><circle cx="1685.0" cy="726.0" r="8.14"/><circle cx="1068.1" cy="424.2" r="8.14"/><circle cx="1191.1" cy="484.8" r="8.14"/>
<circle cx="524.8" cy="697.4" r="8.14"/><circle cx="2083.7" cy="885.9" r="8.14"/><circle cx="1268.5" cy="234.7" r="8.14"/><circle cx="1797.3" cy="593.3" r="8.14"/><circle cx="1441.4" cy="319.8" r="8.14"/><circle cx="686.6" cy="654.4" r="8.14"/>
<circle cx="1148.9" cy="228.3" r="8.14"/><circle cx="380.5" cy="773.3" r="8.14"/><circle cx="1921.7" cy="763.0" r="8.14"/><circle cx="1126.0" cy="343.8" r="8.14"/><circle cx="694.5" cy="713.2" r="8.14"/><circle cx="1743.5" cy="767.5" r="8.14"/>
<circle cx="1271.3" cy="305.7" r="8.14"/><circle cx="1175.5" cy="689.3" r="8.14"/><circle cx="623.0" cy="710.7" r="8.14"/><circle cx="1842.1" cy="836.5" r="8.14"/><circle cx="1968.3" cy="852.4" r="8.14"/><circle cx="1080.8" cy="882.7" r="8.14"/>
<circle cx="1120.6" cy="573.5" r="8.14"/><circle cx="1285.8" cy="461.7" r="8.14"/><circle cx="1219.5" cy="696.1" r="8.14"/><circle cx="695.7" cy="857.0" r="8.14"/><circle cx="1433.3" cy="178.5" r="8.14"/><circle cx="440.2" cy="807.2" r="8.14"/>
<circle cx="317.8" cy="840.2" r="8.14"/><circle cx="341.4" cy="739.9" r="8.14"/><circle cx="2204.2" cy="749.4" r="8.14"/><circle cx="1973.7" cy="672.5" r="8.14"/><circle cx="1924.5" cy="714.4" r="8.14"/><circle cx="1071.6" cy="456.0" r="8.14"/>
<circle cx="1157.9" cy="608.6" r="8.14"/><circle cx="1020.4" cy="426.6" r="8.14"/><circle cx="662.9" cy="577.6" r="8.14"/><circle cx="2213.6" cy="575.5" r="8.14"/><circle cx="1522.5" cy="437.2" r="8.14"/><circle cx="1097.9" cy="883.6" r="8.14"/>
<circle cx="1150.2" cy="361.1" r="8.14"/><circle cx="1371.8" cy="842.5" r="8.14"/><circle cx="1360.4" cy="676.5" r="8.14"/><circle cx="1184.7" cy="175.0" r="8.14"/><circle cx="627.2" cy="671.1" r="8.14"/><circle cx="1687.5" cy="726.7" r="8.14"/>
<circle cx="1075.4" cy="724.3" r="8.14"/><circle cx="2091.8" cy="732.5" r="8.14"/><circle cx="2075.8" cy="831.8" r="8.14"/><circle cx="1014.5" cy="224.5" r="8.14"/><circle cx="542.3" cy="847.7" r="8.14"/><circle cx="1746.3" cy="570.6" r="8.14"/>
<circle cx="1526.6" cy="335.2" r="8.14"/><circle cx="1241.6" cy="855.7" r="8.14"/><circle cx="986.1" cy="298.4" r="8.14"/><circle cx="496.9" cy="732.5" r="8.14"/><circle cx="1441.3" cy="404.2" r="8.14"/><circle cx="735.3" cy="732.0" r="8.14"/>
<circle cx="1534.7" cy="744.9" r="8.14"/><circle cx="313.3" cy="597.0" r="8.14"/><circle cx="1902.2" cy="693.7" r="8.14"/><circle cx="2063.5" cy="716.1" r="8.14"/><circle cx="1339.2" cy="637.8" r="8.14"/><circle cx="1353.0" cy="330.0" r="8.14"/>
<circle cx="377.5" cy="883.8" r="8.14"/><circle cx="1936.8" cy="702.8" r="8.14"/><circle cx="1124.4" cy="446.5" r="8.14"/><circle cx="1055.5" cy="282.9" r="8.14"/><circle cx="764.7" cy="668.9" r="8.14"/><circle cx="373.1" cy="629.6" r="8.14"/>
<circle cx="1207.5" cy="289.6" r="8.14"/><circle cx="1369.8" cy="402.1" r="8.14"/><circle cx="1177.0" cy="180.7" r="8.14"/><circle cx="576.7" cy="836.6" r="8.14"/><circle cx="1174.9" cy="246.6" r="8.14"/><circle cx="1173.3" cy="271.2" r="8.14"/>
<circle cx="654.8" cy="822.0" r="8.14"/><circle cx="1810.1" cy="771.7" r="8.14"/><circle cx="1405.6" cy="207.4" r="8.14"/><circle cx="1741.3" cy="614.7" r="8.14"/><circle cx="1396.4" cy="450.9" r="8.14"/><circle cx="651.4" cy="719.9" r="8.14"/>
<circle cx="778.0" cy="710.2" r="8.14"/><circle cx="1345.0" cy="210.8" r="8.14"/><circle cx="1387.0" cy="305.3" r="8.14"/><circle cx="385.0" cy="707.5" r="8.14"/><circle cx="1151.9" cy="256.7" r="8.14"/><circle cx="721.6" cy="840.2" r="8.14"/>
<circle cx="1469.3" cy="883.9" r="8.14"/><circle cx="1461.6" cy="347.2" r="8.14"/><circle cx="1831.9" cy="659.2" r="8.14"/><circle cx="1068.9" cy="640.1" r="8.14"/><circle cx="1166.4" cy="265.9" r="8.14"/><circle cx="1334.8" cy="348.7" r="8.14"/>
<circle cx="1068.6" cy="835.6" r="8.14"/><circle cx="529.0" cy="613.9" r="8.14"/><circle cx="1423.2" cy="174.5" r="8.14"/><circle cx="990.5" cy="787.1" r="8.14"/><circle cx="1236.8" cy="848.0" r="8.14"/><circle cx="539.8" cy="787.9" r="8.14"/>
<circle cx="1257.9" cy="853.2" r="8.14"/><circle cx="1490.4" cy="607.0" r="8.14"/><circle cx="2161.0" cy="822.6" r="8.14"/><circle cx="2210.5" cy="609.1" r="8.14"/><circle cx="1738.7" cy="804.7" r="8.14"/><circle cx="1141.4" cy="365.5" r="8.14"/>
<circle cx="1337.0" cy="778.9" r="8.14"/><circle cx="1683.7" cy="711.1" r="8.14"/><circle cx="1230.3" cy="666.7" r="8.14"/><circle cx="1236.7" cy="636.9" r="8.14"/><circle cx="530.4" cy="668.5" r="8.14"/><circle cx="1185.7" cy="429.2" r="8.14"/>
<circle cx="1288.1" cy="315.6" r="8.14"/><circle cx="1775.1" cy="811.2" r="8.14"/><circle cx="1495.7" cy="212.9" r="8.14"/><circle cx="436.9" cy="631.9" r="8.14"/><circle cx="1435.3" cy="670.0" r="8.14"/><circle cx="1915.2" cy="687.6" r="8.14"/>
<circle cx="673.0" cy="665.9" r="8.14"/><circle cx="1068.0" cy="272.8" r="8.14"/><circle cx="1294.3" cy="319.6" r="8.14"/><circle cx="1458.5" cy="711.5" r="8.14"/><circle cx="1832.0" cy="732.3" r="8.14"/><circle cx="2166.0" cy="684.3" r="8.14"/>
<circle cx="1060.3" cy="625.8" r="8.14"/><circle cx="791.2" cy="798.8" r="8.14"/><circle cx="1418.9" cy="781.3" r="8.14"/><circle cx="814.0" cy="735.8" r="8.14"/><circle cx="1721.5" cy="696.0" r="8.14"/><circle cx="2210.3" cy="838.7" r="8.14"/>
<circle cx="2014.6" cy="691.4" r="8.14"/><circle cx="765.3" cy="858.3" r="8.14"/><circle cx="1510.5" cy="236.9" r="8.14"/><circle cx="314.7" cy="811.7" r="8.14"/><circle cx="1895.3" cy="655.1" r="8.14"/><circle cx="1446.7" cy="434.5" r="8.14"/>
<circle cx="1201.6" cy="326.0" r="8.14"/><circle cx="1261.4" cy="462.2" r="8.14"/><circle cx="497.2" cy="791.7" r="8.14"/><circle cx="683.6" cy="874.6" r="8.14"/><circle cx="706.9" cy="672.6" r="8.14"/><circle cx="1077.5" cy="595.8" r="8.14"/>
<circle cx="798.8" cy="647.3" r="8.14"/><circle cx="1729.7" cy="610.2" r="8.14"/><circle cx="1924.9" cy="657.9" r="8.14"/><circle cx="1381.8" cy="251.7" r="8.14"/><circle cx="1977.8" cy="595.8" r="8.14"/><circle cx="1409.8" cy="770.8" r="8.14"/>
<circle cx="1115.4" cy="713.6" r="8.14"/><circle cx="693.0" cy="703.0" r="8.14"/><circle cx="312.6" cy="582.4" r="8.14"/><circle cx="1437.2" cy="686.2" r="8.14"/><circle cx="1766.6" cy="820.5" r="8.14"/><circle cx="454.0" cy="816.5" r="8.14"/>
<circle cx="1826.5" cy="670.6" r="8.14"/><circle cx="642.2" cy="792.7" r="8.14"/><circle cx="616.7" cy="832.1" r="8.14"/><circle cx="1375.0" cy="177.7" r="8.14"/><circle cx="2226.5" cy="699.7" r="8.14"/><circle cx="649.3" cy="569.1" r="8.14"/>
<circle cx="1470.5" cy="631.5" r="8.14"/><circle cx="539.9" cy="708.7" r="8.14"/><circle cx="530.0" cy="663.7" r="8.14"/><circle cx="371.8" cy="662.1" r="8.14"/><circle cx="1227.2" cy="715.0" r="8.14"/><circle cx="1425.3" cy="453.2" r="8.14"/>
<circle cx="307.3" cy="742.5" r="8.14"/><circle cx="2000.8" cy="658.1" r="8.14"/><circle cx="1077.7" cy="202.6" r="8.14"/><circle cx="1501.1" cy="370.5" r="8.14"/><circle cx="1000.2" cy="476.6" r="8.14"/><circle cx="1454.4" cy="198.6" r="8.14"/>
<circle cx="788.8" cy="840.4" r="8.14"/><circle cx="333.5" cy="764.3" r="8.14"/><circle cx="1440.3" cy="485.8" r="8.14"/><circle cx="808.2" cy="826.3" r="8.14"/><circle cx="1374.0" cy="402.9" r="8.14"/><circle cx="1135.3" cy="328.1" r="8.14"/>
<circle cx="1035.7" cy="779.2" r="8.14"/><circle cx="474.4" cy="677.6" r="8.14"/><circle cx="290.6" cy="803.2" r="8.14"/><circle cx="1990.3" cy="602.3" r="8.14"/><circle cx="1277.1" cy="260.6" r="8.14"/><circle cx="1182.3" cy="201.6" r="8.14"/>
<circle cx="1398.0" cy="449.6" r="8.14"/><circle cx="1457.9" cy="223.9" r="8.14"/><circle cx="1391.6" cy="281.9" r="8.14"/><circle cx="2093.7" cy="625.5" r="8.14"/><circle cx="1303.1" cy="386.0" r="8.14"/><circle cx="1204.6" cy="429.9" r="8.14"/>
<circle cx="639.4" cy="702.9" r="8.14"/><circle cx="1836.7" cy="701.1" r="8.14"/><circle cx="624.5" cy="621.5" r="8.14"/><circle cx="1261.8" cy="632.2" r="8.14"/><circle cx="1914.5" cy="828.9" r="8.14"/><circle cx="1160.1" cy="291.4" r="8.14"/>
<circle cx="1314.7" cy="765.7" r="8.14"/><circle cx="409.0" cy="593.2" r="8.14"/><circle cx="2150.8" cy="636.8" r="8.14"/><circle cx="653.4" cy="754.9" r="8.14"/><circle cx="1942.7" cy="650.9" r="8.14"/><circle cx="843.8" cy="799.9" r="8.14"/>
<circle cx="1688.9" cy="730.2" r="8.14"/><circle cx="672.7" cy="629.5" r="8.14"/><circle cx="1761.4" cy="677.2" r="8.14"/><circle cx="1137.8" cy="450.8" r="8.14"/><circle cx="551.8" cy="632.5" r="8.14"/><circle cx="683.1" cy="882.0" r="8.14"/>
<circle cx="1255.9" cy="770.9" r="8.14"/><circle cx="1777.0" cy="773.4" r="8.14"/><circle cx="1505.4" cy="329.8" r="8.14"/><circle cx="1706.5" cy="881.3" r="8.14"/><circle cx="823.6" cy="709.2" r="8.14"/><circle cx="1118.6" cy="349.1" r="8.14"/>
<circle cx="1332.1" cy="589.0" r="8.14"/><circle cx="2020.9" cy="747.3" r="8.14"/><circle cx="2192.1" cy="826.2" r="8.14"/><circle cx="477.3" cy="885.1" r="8.14"/><circle cx="1414.1" cy="310.7" r="8.14"/><circle cx="1322.9" cy="709.9" r="8.14"/>
<circle cx="1191.3" cy="667.9" r="8.14"/><circle cx="1209.0" cy="662.2" r="8.14"/><circle cx="1442.7" cy="860.4" r="8.14"/><circle cx="651.4" cy="617.7" r="8.14"/><circle cx="1081.3" cy="573.8" r="8.14"/><circle cx="1105.6" cy="203.5" r="8.14"/>
<circle cx="1833.6" cy="687.5" r="8.14"/><circle cx="1180.3" cy="307.9" r="8.14"/><circle cx="2154.8" cy="796.6" r="8.14"/><circle cx="1367.8" cy="238.4" r="8.14"/><circle cx="348.6" cy="698.6" r="8.14"/><circle cx="466.4" cy="740.2" r="8.14"/>
<circle cx="1351.8" cy="789.8" r="8.14"/><circle cx="1482.2" cy="846.5" r="8.14"/><circle cx="1289.9" cy="749.5" r="8.14"/><circle cx="1538.7" cy="886.5" r="8.14"/><circle cx="1474.1" cy="184.0" r="8.14"/><circle cx="2010.3" cy="642.9" r="8.14"/>
<circle cx="1272.1" cy="876.7" r="8.14"/><circle cx="1270.5" cy="178.6" r="8.14"/><circle cx="1506.1" cy="832.7" r="8.14"/><circle cx="2032.2" cy="863.7" r="8.14"/><circle cx="2180.4" cy="734.9" r="8.14"/><circle cx="320.1" cy="821.4" r="8.14"/>
<circle cx="746.1" cy="687.9" r="8.14"/><circle cx="1260.9" cy="716.6" r="8.14"/><circle cx="516.0" cy="589.0" r="8.14"/><circle cx="1064.3" cy="260.0" r="8.14"/><circle cx="1372.4" cy="836.9" r="8.14"/><circle cx="1482.9" cy="728.1" r="8.14"/>
<circle cx="1036.6" cy="424.9" r="8.14"/><circle cx="1492.0" cy="749.2" r="8.14"/><circle cx="1439.7" cy="379.1" r="8.14"/><circle cx="502.6" cy="763.0" r="8.14"/><circle cx="1906.8" cy="857.5" r="8.14"/><circle cx="1273.7" cy="812.1" r="8.14"/>
<circle cx="1417.7" cy="838.2" r="8.14"/><circle cx="335.6" cy="787.2" r="8.14"/><circle cx="1962.4" cy="703.3" r="8.14"/><circle cx="406.2" cy="577.3" r="8.14"/><circle cx="1915.2" cy="690.8" r="8.14"/><circle cx="998.0" cy="591.7" r="8.14"/>
<circle cx="1435.0" cy="329.0" r="8.14"/><circle cx="1728.4" cy="706.3" r="8.14"/><circle cx="1330.8" cy="870.7" r="8.14"/><circle cx="566.3" cy="718.6" r="8.14"/><circle cx="1809.8" cy="885.5" r="8.14"/><circle cx="1940.8" cy="748.6" r="8.14"/>
<circle cx="1194.5" cy="404.7" r="8.14"/><circle cx="768.6" cy="710.4" r="8.14"/><circle cx="1449.0" cy="184.6" r="8.14"/><circle cx="1406.4" cy="847.2" r="8.14"/><circle cx="506.5" cy="835.4" r="8.14"/><circle cx="1023.8" cy="417.2" r="8.14"/>
<circle cx="1388.7" cy="353.6" r="8.14"/><circle cx="467.1" cy="662.4" r="8.14"/><circle cx="1533.1" cy="302.0" r="8.14"/><circle cx="2182.9" cy="885.2" r="8.14"/><circle cx="1707.7" cy="633.2" r="8.14"/><circle cx="454.8" cy="861.6" r="8.14"/>
<circle cx="2018.1" cy="793.4" r="8.14"/><circle cx="1159.7" cy="306.1" r="8.14"/><circle cx="1284.4" cy="246.4" r="8.14"/><circle cx="633.3" cy="864.9" r="8.14"/><circle cx="1120.5" cy="840.6" r="8.14"/><circle cx="314.2" cy="648.0" r="8.14"/>
<circle cx="600.5" cy="761.1" r="8.14"/><circle cx="1361.8" cy="574.0" r="8.14"/><circle cx="1280.6" cy="738.8" r="8.14"/><circle cx="731.8" cy="730.7" r="8.14"/><circle cx="1428.5" cy="708.0" r="8.14"/><circle cx="1515.4" cy="647.5" r="8.14"/>
<circle cx="416.5" cy="807.9" r="8.14"/><circle cx="2028.8" cy="738.0" r="8.14"/><circle cx="1273.3" cy="290.8" r="8.14"/><circle cx="556.5" cy="749.3" r="8.14"/><circle cx="1432.9" cy="247.4" r="8.14"/><circle cx="1270.6" cy="342.8" r="8.14"/>
<circle cx="642.6" cy="726.9" r="8.14"/><circle cx="1063.1" cy="433.4" r="8.14"/><circle cx="1259.2" cy="191.6" r="8.14"/><circle cx="380.3" cy="838.0" r="8.14"/><circle cx="1075.6" cy="768.5" r="8.14"/><circle cx="1123.3" cy="817.3" r="8.14"/>
<circle cx="1156.1" cy="485.7" r="8.14"/><circle cx="1251.1" cy="765.4" r="8.14"/><circle cx="378.2" cy="711.8" r="8.14"/><circle cx="1068.9" cy="463.0" r="8.14"/><circle cx="1203.7" cy="646.0" r="8.14"/><circle cx="1192.4" cy="586.3" r="8.14"/>
<circle cx="2039.5" cy="675.2" r="8.14"/><circle cx="1245.2" cy="194.8" r="8.14"/><circle cx="1384.3" cy="832.3" r="8.14"/><circle cx="838.4" cy="620.2" r="8.14"/><circle cx="1499.2" cy="827.3" r="8.14"/><circle cx="723.9" cy="667.5" r="8.14"/>
<circle cx="1533.9" cy="740.7" r="8.14"/><circle cx="1291.0" cy="867.5" r="8.14"/><circle cx="1163.3" cy="756.6" r="8.14"/><circle cx="1388.5" cy="397.0" r="8.14"/><circle cx="1171.2" cy="455.6" r="8.14"/><circle cx="1515.8" cy="862.1" r="8.14"/>
<circle cx="1126.1" cy="796.6" r="8.14"/><circle cx="1395.7" cy="272.8" r="8.14"/><circle cx="1927.3" cy="602.1" r="8.14"/><circle cx="2193.5" cy="575.2" r="8.14"/><circle cx="1175.2" cy="735.7" r="8.14"/><circle cx="328.0" cy="830.4" r="8.14"/>
<circle cx="1759.0" cy="850.2" r="8.14"/><circle cx="1505.5" cy="758.5" r="8.14"/><circle cx="2186.5" cy="765.0" r="8.14"/><circle cx="650.1" cy="596.1" r="8.14"/><circle cx="1915.8" cy="845.7" r="8.14"/><circle cx="747.0" cy="863.2" r="8.14"/>
<circle cx="1482.8" cy="769.9" r="8.14"/><circle cx="1771.1" cy="580.2" r="8.14"/><circle cx="1929.5" cy="597.0" r="8.14"/><circle cx="719.8" cy="621.2" r="8.14"/><circle cx="1123.7" cy="342.5" r="8.14"/><circle cx="1729.5" cy="747.7" r="8.14"/>
<circle cx="2199.2" cy="633.9" r="8.14"/><circle cx="1381.5" cy="270.3" r="8.14"/><circle cx="1922.9" cy="867.1" r="8.14"/><circle cx="1826.4" cy="578.7" r="8.14"/><circle cx="1368.5" cy="818.0" r="8.14"/><circle cx="1919.9" cy="789.1" r="8.14"/>
<circle cx="405.1" cy="812.8" r="8.14"/><circle cx="1183.2" cy="674.3" r="8.14"/><circle cx="1445.9" cy="259.2" r="8.14"/><circle cx="2140.2" cy="611.8" r="8.14"/><circle cx="613.4" cy="887.2" r="8.14"/><circle cx="2064.3" cy="624.5" r="8.14"/>
<circle cx="1960.9" cy="647.7" r="8.14"/><circle cx="294.5" cy="729.1" r="8.14"/><circle cx="1313.8" cy="759.0" r="8.14"/><circle cx="1272.7" cy="694.1" r="8.14"/><circle cx="685.4" cy="634.9" r="8.14"/><circle cx="765.5" cy="640.9" r="8.14"/>
<circle cx="1419.3" cy="612.0" r="8.14"/><circle cx="1265.0" cy="864.2" r="8.14"/><circle cx="1393.7" cy="822.9" r="8.14"/><circle cx="1406.3" cy="404.2" r="8.14"/><circle cx="1534.4" cy="605.5" r="8.14"/><circle cx="2194.4" cy="711.2" r="8.14"/>
<circle cx="1366.8" cy="709.8" r="8.14"/><circle cx="474.3" cy="843.4" r="8.14"/><circle cx="431.7" cy="649.7" r="8.14"/><circle cx="992.2" cy="850.7" r="8.14"/><circle cx="394.2" cy="706.1" r="8.14"/><circle cx="1182.1" cy="665.5" r="8.14"/>
<circle cx="1164.9" cy="665.4" r="8.14"/><circle cx="1321.2" cy="400.0" r="8.14"/><circle cx="2042.0" cy="831.0" r="8.14"/><circle cx="635.5" cy="709.8" r="8.14"/><circle cx="1193.5" cy="782.4" r="8.14"/><circle cx="1316.5" cy="611.9" r="8.14"/>
<circle cx="1958.1" cy="784.1" r="8.14"/><circle cx="1493.4" cy="718.1" r="8.14"/><circle cx="770.7" cy="639.4" r="8.14"/><circle cx="1379.1" cy="758.2" r="8.14"/><circle cx="1989.9" cy="778.4" r="8.14"/><circle cx="1198.8" cy="349.9" r="8.14"/>
<circle cx="798.1" cy="753.5" r="8.14"/><circle cx="744.8" cy="732.7" r="8.14"/><circle cx="511.0" cy="823.2" r="8.14"/><circle cx="561.1" cy="756.6" r="8.14"/><circle cx="1841.9" cy="668.4" r="8.14"/><circle cx="1277.5" cy="647.2" r="8.14"/>
<circle cx="1119.8" cy="750.6" r="8.14"/><circle cx="1471.4" cy="878.3" r="8.14"/><circle cx="1204.6" cy="404.8" r="8.14"/><circle cx="1045.9" cy="357.4" r="8.14"/><circle cx="489.5" cy="676.7" r="8.14"/><circle cx="1205.7" cy="413.3" r="8.14"/>
<circle cx="447.3" cy="614.1" r="8.14"/><circle cx="1170.4" cy="178.8" r="8.14"/><circle cx="1337.2" cy="244.3" r="8.14"/><circle cx="1266.5" cy="575.7" r="8.14"/><circle cx="1350.1" cy="739.6" r="8.14"/><circle cx="1206.8" cy="418.3" r="8.14"/>
<circle cx="336.4" cy="765.1" r="8.14"/><circle cx="1958.9" cy="694.5" r="8.14"/><circle cx="1428.0" cy="224.1" r="8.14"/><circle cx="547.2" cy="595.9" r="8.14"/><circle cx="754.0" cy="698.5" r="8.14"/><circle cx="1186.5" cy="572.7" r="8.14"/>
<circle cx="1085.0" cy="249.4" r="8.14"/><circle cx="404.4" cy="679.9" r="8.14"/><circle cx="313.9" cy="655.0" r="8.14"/><circle cx="2087.0" cy="785.9" r="8.14"/><circle cx="1419.7" cy="681.4" r="8.14"/><circle cx="1916.6" cy="608.7" r="8.14"/>
<circle cx="319.7" cy="737.6" r="8.14"/><circle cx="1230.3" cy="429.4" r="8.14"/><circle cx="1162.6" cy="284.6" r="8.14"/><circle cx="1743.7" cy="620.1" r="8.14"/><circle cx="1837.5" cy="568.8" r="8.14"/><circle cx="799.0" cy="781.8" r="8.14"/>
<circle cx="746.4" cy="872.9" r="8.14"/><circle cx="1396.6" cy="263.8" r="8.14"/><circle cx="1383.9" cy="862.0" r="8.14"/><circle cx="1434.7" cy="428.3" r="8.14"/><circle cx="2157.1" cy="770.3" r="8.14"/><circle cx="730.3" cy="855.9" r="8.14"/>
<circle cx="2228.3" cy="775.8" r="8.14"/><circle cx="1278.9" cy="779.0" r="8.14"/><circle cx="2225.8" cy="801.9" r="8.14"/><circle cx="494.1" cy="641.0" r="8.14"/><circle cx="1537.3" cy="325.5" r="8.14"/><circle cx="546.5" cy="650.3" r="8.14"/>
<circle cx="450.7" cy="791.3" r="8.14"/><circle cx="804.5" cy="835.0" r="8.14"/><circle cx="1205.8" cy="621.3" r="8.14"/><circle cx="1329.0" cy="459.7" r="8.14"/><circle cx="1727.4" cy="844.3" r="8.14"/><circle cx="1046.4" cy="403.4" r="8.14"/>
<circle cx="1413.2" cy="276.4" r="8.14"/><circle cx="1416.8" cy="469.8" r="8.14"/><circle cx="805.2" cy="798.4" r="8.14"/><circle cx="2057.4" cy="579.2" r="8.14"/><circle cx="422.3" cy="590.6" r="8.14"/><circle cx="1005.5" cy="671.0" r="8.14"/>
<circle cx="494.7" cy="745.2" r="8.14"/><circle cx="327.7" cy="826.7" r="8.14"/><circle cx="625.5" cy="722.5" r="8.14"/><circle cx="1208.5" cy="757.1" r="8.14"/><circle cx="1006.4" cy="330.4" r="8.14"/><circle cx="1420.7" cy="470.0" r="8.14"/>
<circle cx="837.9" cy="732.1" r="8.14"/><circle cx="1924.9" cy="887.1" r="8.14"/><circle cx="1090.5" cy="323.5" r="8.14"/><circle cx="573.9" cy="665.0" r="8.14"/><circle cx="1267.4" cy="723.7" r="8.14"/><circle cx="455.1" cy="626.8" r="8.14"/>
<circle cx="2007.6" cy="802.0" r="8.14"/><circle cx="1894.4" cy="816.7" r="8.14"/><circle cx="1196.4" cy="571.1" r="8.14"/><circle cx="1516.4" cy="464.0" r="8.14"/><circle cx="1214.0" cy="361.5" r="8.14"/><circle cx="2013.1" cy="855.9" r="8.14"/>
<circle cx="1980.6" cy="759.9" r="8.14"/><circle cx="406.1" cy="601.6" r="8.14"/><circle cx="2098.7" cy="690.2" r="8.14"/><circle cx="1185.7" cy="363.0" r="8.14"/><circle cx="1495.5" cy="750.8" r="8.14"/><circle cx="2106.5" cy="880.9" r="8.14"/>
<circle cx="1045.5" cy="821.7" r="8.14"/><circle cx="1503.4" cy="726.1" r="8.14"/><circle cx="608.4" cy="782.1" r="8.14"/><circle cx="612.4" cy="668.5" r="8.14"/><circle cx="1225.7" cy="720.1" r="8.14"/><circle cx="1759.4" cy="657.2" r="8.14"/>
<circle cx="1286.7" cy="781.2" r="8.14"/><circle cx="1417.6" cy="446.2" r="8.14"/><circle cx="2201.3" cy="849.7" r="8.14"/><circle cx="1045.9" cy="278.6" r="8.14"/><circle cx="1782.7" cy="571.5" r="8.14"/><circle cx="764.1" cy="874.4" r="8.14"/>
<circle cx="541.0" cy="698.1" r="8.14"/><circle cx="985.8" cy="594.5" r="8.14"/><circle cx="1536.5" cy="337.7" r="8.14"/><circle cx="561.9" cy="878.1" r="8.14"/><circle cx="1706.2" cy="838.0" r="8.14"/><circle cx="1879.2" cy="573.7" r="8.14"/>
<circle cx="1375.8" cy="268.3" r="8.14"/><circle cx="469.1" cy="624.7" r="8.14"/><circle cx="677.7" cy="599.4" r="8.14"/><circle cx="289.9" cy="809.0" r="8.14"/><circle cx="1711.7" cy="806.6" r="8.14"/><circle cx="494.4" cy="847.7" r="8.14"/>
<circle cx="1118.6" cy="794.8" r="8.14"/><circle cx="1288.5" cy="229.4" r="8.14"/><circle cx="1169.0" cy="599.2" r="8.14"/><circle cx="1888.2" cy="708.9" r="8.14"/><circle cx="1946.8" cy="640.8" r="8.14"/><circle cx="380.4" cy="688.0" r="8.14"/>
<circle cx="720.3" cy="618.5" r="8.14"/><circle cx="1782.7" cy="826.6" r="8.14"/><circle cx="1480.7" cy="304.5" r="8.14"/><circle cx="1856.2" cy="884.9" r="8.14"/><circle cx="488.1" cy="596.6" r="8.14"/><circle cx="629.5" cy="657.8" r="8.14"/>
<circle cx="1709.7" cy="644.9" r="8.14"/><circle cx="1534.9" cy="448.5" r="8.14"/><circle cx="1249.4" cy="386.8" r="8.14"/><circle cx="808.3" cy="583.2" r="8.14"/><circle cx="1067.7" cy="334.3" r="8.14"/><circle cx="1327.5" cy="761.5" r="8.14"/>
<circle cx="442.8" cy="870.7" r="8.14"/><circle cx="392.7" cy="647.4" r="8.14"/><circle cx="1736.3" cy="877.1" r="8.14"/><circle cx="1041.9" cy="487.5" r="8.14"/><circle cx="1053.0" cy="230.3" r="8.14"/><circle cx="507.3" cy="681.6" r="8.14"/>
<circle cx="1329.4" cy="602.7" r="8.14"/><circle cx="764.7" cy="601.2" r="8.14"/><circle cx="1404.5" cy="734.7" r="8.14"/><circle cx="1109.4" cy="603.0" r="8.14"/><circle cx="1450.8" cy="484.8" r="8.14"/><circle cx="1377.0" cy="591.6" r="8.14"/>
<circle cx="668.4" cy="703.8" r="8.14"/><circle cx="1957.7" cy="813.9" r="8.14"/><circle cx="2147.6" cy="828.8" r="8.14"/><circle cx="837.6" cy="761.5" r="8.14"/><circle cx="2232.5" cy="833.3" r="8.14"/><circle cx="297.0" cy="582.2" r="8.14"/>
<circle cx="1242.8" cy="319.8" r="8.14"/><circle cx="393.4" cy="680.5" r="8.14"/><circle cx="797.0" cy="616.9" r="8.14"/><circle cx="2068.7" cy="671.1" r="8.14"/><circle cx="568.6" cy="807.8" r="8.14"/><circle cx="498.9" cy="736.0" r="8.14"/>
<circle cx="998.1" cy="833.7" r="8.14"/><circle cx="520.4" cy="753.8" r="8.14"/><circle cx="725.3" cy="664.1" r="8.14"/><circle cx="1330.5" cy="751.8" r="8.14"/><circle cx="1686.1" cy="593.1" r="8.14"/><circle cx="2230.5" cy="615.5" r="8.14"/>
<circle cx="1350.1" cy="172.8" r="8.14"/><circle cx="460.9" cy="849.2" r="8.14"/><circle cx="1134.9" cy="773.9" r="8.14"/><circle cx="737.1" cy="601.2" r="8.14"/><circle cx="545.1" cy="795.0" r="8.14"/><circle cx="384.7" cy="624.1" r="8.14"/>
<circle cx="1992.2" cy="810.7" r="8.14"/><circle cx="532.6" cy="707.4" r="8.14"/><circle cx="726.6" cy="765.5" r="8.14"/><circle cx="788.5" cy="614.6" r="8.14"/><circle cx="432.4" cy="857.9" r="8.14"/><circle cx="996.2" cy="849.9" r="8.14"/>
<circle cx="1409.1" cy="376.7" r="8.14"/><circle cx="835.0" cy="838.9" r="8.14"/><circle cx="1076.5" cy="301.4" r="8.14"/><circle cx="1205.9" cy="650.3" r="8.14"/><circle cx="1434.0" cy="429.3" r="8.14"/><circle cx="1253.1" cy="294.7" r="8.14"/>
<circle cx="827.3" cy="841.6" r="8.14"/><circle cx="1228.4" cy="583.1" r="8.14"/><circle cx="396.0" cy="844.7" r="8.14"/><circle cx="831.9" cy="745.0" r="8.14"/><circle cx="544.2" cy="861.3" r="8.14"/><circle cx="1324.6" cy="309.6" r="8.14"/>
<circle cx="1072.9" cy="207.5" r="8.14"/><circle cx="1111.5" cy="691.8" r="8.14"/><circle cx="1081.2" cy="808.1" r="8.14"/><circle cx="1212.1" cy="790.7" r="8.14"/><circle cx="1153.2" cy="642.7" r="8.14"/><circle cx="844.9" cy="783.5" r="8.14"/>
<circle cx="552.2" cy="793.7" r="8.14"/><circle cx="1320.0" cy="440.3" r="8.14"/><circle cx="1118.7" cy="217.9" r="8.14"/><circle cx="1039.7" cy="852.3" r="8.14"/><circle cx="732.0" cy="855.4" r="8.14"/><circle cx="1313.0" cy="329.0" r="8.14"/>
<circle cx="1005.7" cy="677.5" r="8.14"/><circle cx="1254.4" cy="663.9" r="8.14"/><circle cx="1354.9" cy="610.2" r="8.14"/><circle cx="1314.7" cy="785.9" r="8.14"/><circle cx="801.1" cy="671.4" r="8.14"/><circle cx="1228.0" cy="818.9" r="8.14"/>
<circle cx="416.8" cy="652.2" r="8.14"/><circle cx="488.2" cy="766.7" r="8.14"/><circle cx="1136.2" cy="655.5" r="8.14"/><circle cx="2168.1" cy="792.5" r="8.14"/><circle cx="310.5" cy="744.3" r="8.14"/><circle cx="671.4" cy="787.4" r="8.14"/>
<circle cx="1812.5" cy="824.7" r="8.14"/><circle cx="413.6" cy="716.0" r="8.14"/><circle cx="1088.4" cy="620.7" r="8.14"/><circle cx="1773.3" cy="668.7" r="8.14"/><circle cx="458.1" cy="654.1" r="8.14"/><circle cx="1135.8" cy="599.5" r="8.14"/>
<circle cx="991.4" cy="374.9" r="8.14"/><circle cx="1299.5" cy="465.6" r="8.14"/><circle cx="722.5" cy="750.0" r="8.14"/><circle cx="1908.0" cy="775.3" r="8.14"/><circle cx="1482.4" cy="395.5" r="8.14"/><circle cx="1940.2" cy="671.6" r="8.14"/>
<circle cx="1024.1" cy="350.3" r="8.14"/><circle cx="505.5" cy="820.9" r="8.14"/><circle cx="2080.2" cy="583.6" r="8.14"/><circle cx="1402.9" cy="461.0" r="8.14"/><circle cx="1534.2" cy="440.8" r="8.14"/><circle cx="1918.5" cy="622.1" r="8.14"/>
<circle cx="2095.0" cy="568.1" r="8.14"/><circle cx="1405.5" cy="793.9" r="8.14"/><circle cx="1348.7" cy="884.2" r="8.14"/><circle cx="1016.5" cy="609.8" r="8.14"/><circle cx="1510.9" cy="369.4" r="8.14"/><circle cx="472.8" cy="590.8" r="8.14"/>
<circle cx="826.6" cy="637.4" r="8.14"/><circle cx="1186.8" cy="586.5" r="8.14"/><circle cx="1006.5" cy="650.9" r="8.14"/><circle cx="343.6" cy="788.2" r="8.14"/><circle cx="1526.3" cy="574.7" r="8.14"/><circle cx="1917.0" cy="603.4" r="8.14"/>
<circle cx="357.6" cy="762.6" r="8.14"/><circle cx="2012.5" cy="669.8" r="8.14"/><circle cx="1121.3" cy="331.4" r="8.14"/><circle cx="1026.4" cy="691.9" r="8.14"/><circle cx="1014.7" cy="424.3" r="8.14"/><circle cx="1109.4" cy="779.4" r="8.14"/>
<circle cx="1141.6" cy="866.7" r="8.14"/><circle cx="1333.3" cy="462.6" r="8.14"/><circle cx="1400.3" cy="171.9" r="8.14"/><circle cx="613.9" cy="817.9" r="8.14"/><circle cx="352.5" cy="747.1" r="8.14"/><circle cx="1503.8" cy="749.8" r="8.14"/>
<circle cx="329.3" cy="815.7" r="8.14"/><circle cx="1046.1" cy="599.0" r="8.14"/><circle cx="1203.5" cy="220.6" r="8.14"/><circle cx="1062.0" cy="870.3" r="8.14"/><circle cx="439.2" cy="648.1" r="8.14"/><circle cx="1294.4" cy="809.5" r="8.14"/>
<circle cx="2043.3" cy="637.5" r="8.14"/><circle cx="2065.7" cy="587.7" r="8.14"/><circle cx="1335.1" cy="417.2" r="8.14"/><circle cx="751.1" cy="634.9" r="8.14"/><circle cx="2160.3" cy="601.3" r="8.14"/><circle cx="1335.5" cy="861.3" r="8.14"/>
<circle cx="407.2" cy="746.3" r="8.14"/><circle cx="313.4" cy="692.2" r="8.14"/><circle cx="1502.9" cy="636.8" r="8.14"/><circle cx="1009.8" cy="234.6" r="8.14"/><circle cx="756.6" cy="835.5" r="8.14"/><circle cx="587.3" cy="759.4" r="8.14"/>
<circle cx="1222.0" cy="416.7" r="8.14"/><circle cx="1463.8" cy="808.5" r="8.14"/><circle cx="1480.2" cy="487.4" r="8.14"/><circle cx="479.6" cy="802.7" r="8.14"/><circle cx="675.3" cy="616.1" r="8.14"/><circle cx="1225.4" cy="172.6" r="8.14"/>
<circle cx="425.8" cy="856.2" r="8.14"/><circle cx="1823.0" cy="817.7" r="8.14"/><circle cx="1071.9" cy="209.2" r="8.14"/><circle cx="770.8" cy="800.5" r="8.14"/><circle cx="1054.7" cy="305.5" r="8.14"/><circle cx="1530.1" cy="185.3" r="8.14"/>
<circle cx="1462.1" cy="693.9" r="8.14"/><circle cx="1499.2" cy="870.5" r="8.14"/><circle cx="1314.7" cy="364.0" r="8.14"/><circle cx="1383.1" cy="233.6" r="8.14"/><circle cx="1038.4" cy="181.9" r="8.14"/><circle cx="996.9" cy="885.4" r="8.14"/>
<circle cx="2043.4" cy="739.2" r="8.14"/><circle cx="805.9" cy="569.1" r="8.14"/><circle cx="1198.4" cy="798.3" r="8.14"/><circle cx="1216.8" cy="471.3" r="8.14"/><circle cx="1383.8" cy="838.5" r="8.14"/><circle cx="1830.5" cy="778.4" r="8.14"/>
<circle cx="1127.0" cy="649.2" r="8.14"/><circle cx="589.2" cy="783.9" r="8.14"/><circle cx="1477.9" cy="843.8" r="8.14"/><circle cx="1023.3" cy="651.1" r="8.14"/><circle cx="1408.0" cy="672.8" r="8.14"/><circle cx="590.4" cy="775.9" r="8.14"/>
<circle cx="1523.3" cy="650.0" r="8.14"/><circle cx="616.8" cy="794.5" r="8.14"/><circle cx="601.6" cy="743.5" r="8.14"/><circle cx="1868.9" cy="841.3" r="8.14"/><circle cx="1186.4" cy="433.8" r="8.14"/><circle cx="1294.6" cy="408.5" r="8.14"/>
<circle cx="994.2" cy="831.2" r="8.14"/><circle cx="623.3" cy="693.4" r="8.14"/><circle cx="1782.9" cy="729.4" r="8.14"/><circle cx="531.4" cy="814.9" r="8.14"/><circle cx="1029.3" cy="455.8" r="8.14"/><circle cx="1147.9" cy="602.3" r="8.14"/>
<circle cx="1099.7" cy="463.3" r="8.14"/><circle cx="1216.0" cy="673.9" r="8.14"/><circle cx="1520.9" cy="763.5" r="8.14"/><circle cx="992.9" cy="811.9" r="8.14"/><circle cx="1508.1" cy="611.9" r="8.14"/><circle cx="1165.2" cy="839.4" r="8.14"/>
<circle cx="1314.8" cy="882.9" r="8.14"/><circle cx="1203.9" cy="646.3" r="8.14"/><circle cx="311.0" cy="853.0" r="8.14"/><circle cx="1420.8" cy="308.1" r="8.14"/><circle cx="1534.6" cy="771.2" r="8.14"/><circle cx="2186.0" cy="655.5" r="8.14"/>
<circle cx="1980.2" cy="718.0" r="8.14"/><circle cx="2123.6" cy="760.7" r="8.14"/><circle cx="681.8" cy="852.5" r="8.14"/><circle cx="1125.9" cy="661.0" r="8.14"/><circle cx="1040.3" cy="821.3" r="8.14"/><circle cx="431.1" cy="769.2" r="8.14"/>
<circle cx="1056.6" cy="787.5" r="8.14"/><circle cx="1062.0" cy="757.5" r="8.14"/><circle cx="1462.6" cy="838.8" r="8.14"/><circle cx="1688.3" cy="874.0" r="8.14"/><circle cx="432.0" cy="684.9" r="8.14"/><circle cx="1936.9" cy="651.4" r="8.14"/>
<circle cx="1813.1" cy="840.2" r="8.14"/><circle cx="1805.3" cy="676.1" r="8.14"/><circle cx="608.2" cy="613.6" r="8.14"/><circle cx="1485.2" cy="481.8" r="8.14"/><circle cx="1996.6" cy="598.2" r="8.14"/><circle cx="394.0" cy="582.8" r="8.14"/>
<circle cx="1098.0" cy="360.6" r="8.14"/><circle cx="477.1" cy="690.5" r="8.14"/><circle cx="302.7" cy="592.0" r="8.14"/><circle cx="554.4" cy="793.2" r="8.14"/><circle cx="1324.8" cy="170.1" r="8.14"/><circle cx="1093.9" cy="681.3" r="8.14"/>
<circle cx="637.3" cy="870.2" r="8.14"/><circle cx="1845.3" cy="836.7" r="8.14"/><circle cx="365.2" cy="585.9" r="8.14"/><circle cx="739.2" cy="850.1" r="8.14"/><circle cx="1206.1" cy="656.7" r="8.14"/><circle cx="2135.4" cy="664.9" r="8.14"/>
<circle cx="499.9" cy="765.5" r="8.14"/><circle cx="1779.0" cy="747.9" r="8.14"/><circle cx="1373.8" cy="679.6" r="8.14"/><circle cx="364.6" cy="764.9" r="8.14"/><circle cx="686.2" cy="661.4" r="8.14"/><circle cx="1858.1" cy="622.8" r="8.14"/>
<circle cx="1087.3" cy="281.0" r="8.14"/><circle cx="1413.2" cy="850.0" r="8.14"/><circle cx="529.4" cy="701.3" r="8.14"/><circle cx="1268.9" cy="436.4" r="8.14"/><circle cx="1118.2" cy="868.6" r="8.14"/><circle cx="747.4" cy="660.3" r="8.14"/>
<circle cx="560.4" cy="608.3" r="8.14"/><circle cx="1356.3" cy="201.6" r="8.14"/><circle cx="1073.1" cy="801.4" r="8.14"/><circle cx="1069.9" cy="679.7" r="8.14"/><circle cx="706.1" cy="887.8" r="8.14"/><circle cx="399.0" cy="818.3" r="8.14"/>
<circle cx="547.2" cy="788.8" r="8.14"/><circle cx="993.9" cy="320.4" r="8.14"/><circle cx="1430.9" cy="463.6" r="8.14"/><circle cx="769.4" cy="695.1" r="8.14"/><circle cx="1743.9" cy="884.1" r="8.14"/><circle cx="1389.6" cy="257.0" r="8.14"/>
<circle cx="1733.5" cy="729.3" r="8.14"/><circle cx="2090.7" cy="802.8" r="8.14"/><circle cx="1142.3" cy="423.5" r="8.14"/><circle cx="723.5" cy="777.7" r="8.14"/><circle cx="473.9" cy="847.8" r="8.14"/><circle cx="2006.3" cy="692.9" r="8.14"/>
<circle cx="806.8" cy="786.5" r="8.14"/><circle cx="1100.9" cy="591.0" r="8.14"/><circle cx="1532.7" cy="759.5" r="8.14"/><circle cx="1231.9" cy="427.9" r="8.14"/><circle cx="985.7" cy="268.3" r="8.14"/><circle cx="625.9" cy="629.3" r="8.14"/>
<circle cx="1161.9" cy="711.3" r="8.14"/><circle cx="1371.3" cy="184.6" r="8.14"/><circle cx="594.7" cy="839.4" r="8.14"/><circle cx="764.0" cy="641.5" r="8.14"/><circle cx="2119.8" cy="885.6" r="8.14"/><circle cx="835.0" cy="747.7" r="8.14"/>
<circle cx="507.2" cy="807.8" r="8.14"/><circle cx="1286.0" cy="668.9" r="8.14"/><circle cx="1129.6" cy="865.2" r="8.14"/><circle cx="433.2" cy="574.8" r="8.14"/><circle cx="1507.5" cy="419.4" r="8.14"/><circle cx="1161.1" cy="376.8" r="8.14"/>
<circle cx="462.3" cy="641.2" r="8.14"/><circle cx="2073.5" cy="670.4" r="8.14"/><circle cx="2161.7" cy="590.2" r="8.14"/><circle cx="1382.4" cy="319.0" r="8.14"/><circle cx="1142.0" cy="799.2" r="8.14"/><circle cx="1256.3" cy="272.7" r="8.14"/>
<circle cx="1251.3" cy="416.5" r="8.14"/><circle cx="1407.0" cy="636.7" r="8.14"/><circle cx="1540.5" cy="186.6" r="8.14"/><circle cx="528.8" cy="592.3" r="8.14"/><circle cx="1851.4" cy="738.3" r="8.14"/><circle cx="605.3" cy="883.5" r="8.14"/>
<circle cx="1273.3" cy="167.8" r="8.14"/><circle cx="1958.3" cy="789.5" r="8.14"/><circle cx="796.2" cy="576.3" r="8.14"/><circle cx="1413.6" cy="614.6" r="8.14"/><circle cx="2045.9" cy="606.9" r="8.14"/><circle cx="1119.3" cy="830.3" r="8.14"/>
<circle cx="1898.3" cy="794.0" r="8.14"/><circle cx="562.9" cy="817.9" r="8.14"/><circle cx="1718.0" cy="585.2" r="8.14"/><circle cx="1335.9" cy="641.9" r="8.14"/><circle cx="1993.8" cy="734.1" r="8.14"/><circle cx="1370.3" cy="342.2" r="8.14"/>
<circle cx="1384.1" cy="577.4" r="8.14"/><circle cx="1530.0" cy="261.9" r="8.14"/><circle cx="1210.4" cy="460.9" r="8.14"/><circle cx="651.6" cy="777.7" r="8.14"/><circle cx="1005.5" cy="784.1" r="8.14"/><circle cx="1224.1" cy="617.0" r="8.14"/>
<circle cx="696.8" cy="872.9" r="8.14"/><circle cx="760.1" cy="694.7" r="8.14"/><circle cx="1531.5" cy="467.2" r="8.14"/><circle cx="466.9" cy="613.1" r="8.14"/><circle cx="802.9" cy="685.6" r="8.14"/><circle cx="540.6" cy="876.1" r="8.14"/>
<circle cx="1506.4" cy="662.1" r="8.14"/><circle cx="1071.0" cy="849.8" r="8.14"/><circle cx="1145.1" cy="327.1" r="8.14"/><circle cx="1787.5" cy="808.6" r="8.14"/><circle cx="2201.1" cy="621.6" r="8.14"/><circle cx="1789.1" cy="613.9" r="8.14"/>
<circle cx="1850.7" cy="783.7" r="8.14"/><circle cx="506.5" cy="751.6" r="8.14"/><circle cx="1293.9" cy="783.3" r="8.14"/><circle cx="631.3" cy="648.9" r="8.14"/><circle cx="1743.9" cy="844.2" r="8.14"/><circle cx="1127.0" cy="627.6" r="8.14"/>
<circle cx="379.0" cy="880.4" r="8.14"/><circle cx="2216.3" cy="764.2" r="8.14"/><circle cx="1094.3" cy="685.8" r="8.14"/><circle cx="1269.5" cy="475.6" r="8.14"/><circle cx="367.7" cy="660.1" r="8.14"/><circle cx="1162.2" cy="725.2" r="8.14"/>
<circle cx="1132.0" cy="226.8" r="8.14"/><circle cx="597.3" cy="591.1" r="8.14"/><circle cx="1262.3" cy="445.7" r="8.14"/><circle cx="1090.0" cy="396.1" r="8.14"/><circle cx="662.8" cy="867.2" r="8.14"/><circle cx="1420.2" cy="702.3" r="8.14"/>
<circle cx="729.8" cy="656.4" r="8.14"/><circle cx="1233.8" cy="356.2" r="8.14"/><circle cx="1049.3" cy="221.0" r="8.14"/><circle cx="321.3" cy="706.3" r="8.14"/><circle cx="1504.7" cy="715.6" r="8.14"/><circle cx="1541.4" cy="671.5" r="8.14"/>
<circle cx="1219.1" cy="370.4" r="8.14"/><circle cx="988.4" cy="760.2" r="8.14"/><circle cx="800.5" cy="793.3" r="8.14"/><circle cx="402.5" cy="649.7" r="8.14"/><circle cx="664.0" cy="733.2" r="8.14"/><circle cx="1311.6" cy="383.6" r="8.14"/>
<circle cx="1105.3" cy="220.3" r="8.14"/><circle cx="2107.6" cy="569.7" r="8.14"/><circle cx="746.6" cy="705.4" r="8.14"/><circle cx="1881.0" cy="833.3" r="8.14"/><circle cx="416.9" cy="733.7" r="8.14"/><circle cx="1021.7" cy="626.6" r="8.14"/>
<circle cx="442.1" cy="755.3" r="8.14"/><circle cx="1119.2" cy="234.5" r="8.14"/><circle cx="1389.2" cy="726.1" r="8.14"/><circle cx="1428.9" cy="333.6" r="8.14"/><circle cx="2170.8" cy="668.7" r="8.14"/><circle cx="1841.5" cy="706.0" r="8.14"/>
<circle cx="1334.5" cy="855.8" r="8.14"/><circle cx="570.0" cy="678.5" r="8.14"/><circle cx="1196.6" cy="800.3" r="8.14"/><circle cx="1028.8" cy="208.7" r="8.14"/><circle cx="481.9" cy="630.9" r="8.14"/><circle cx="1170.5" cy="834.6" r="8.14"/>
<circle cx="1140.3" cy="354.9" r="8.14"/><circle cx="460.8" cy="646.5" r="8.14"/><circle cx="451.3" cy="812.5" r="8.14"/><circle cx="1024.7" cy="830.5" r="8.14"/><circle cx="633.2" cy="648.2" r="8.14"/><circle cx="1032.0" cy="733.9" r="8.14"/>
<circle cx="1347.3" cy="321.6" r="8.14"/><circle cx="1864.7" cy="862.6" r="8.14"/><circle cx="362.6" cy="816.7" r="8.14"/><circle cx="682.3" cy="675.2" r="8.14"/><circle cx="1385.6" cy="485.7" r="8.14"/><circle cx="2137.8" cy="698.6" r="8.14"/>
<circle cx="1881.8" cy="600.2" r="8.14"/><circle cx="1013.3" cy="416.1" r="8.14"/><circle cx="2110.2" cy="675.4" r="8.14"/><circle cx="1400.3" cy="867.5" r="8.14"/><circle cx="1009.8" cy="364.2" r="8.14"/><circle cx="816.6" cy="883.8" r="8.14"/>
<circle cx="2000.6" cy="647.5" r="8.14"/><circle cx="2116.9" cy="572.3" r="8.14"/><circle cx="2237.3" cy="785.1" r="8.14"/><circle cx="519.7" cy="804.5" r="8.14"/><circle cx="1075.2" cy="446.3" r="8.14"/><circle cx="1539.2" cy="251.5" r="8.14"/>
<circle cx="1039.4" cy="774.5" r="8.14"/><circle cx="1350.1" cy="180.0" r="8.14"/><circle cx="384.1" cy="682.3" r="8.14"/><circle cx="1236.4" cy="603.2" r="8.14"/><circle cx="1018.8" cy="765.3" r="8.14"/><circle cx="1520.3" cy="773.0" r="8.14"/>
<circle cx="1013.1" cy="750.1" r="8.14"/><circle cx="1756.7" cy="712.5" r="8.14"/><circle cx="1123.9" cy="325.0" r="8.14"/><circle cx="1335.6" cy="748.1" r="8.14"/><circle cx="1481.5" cy="881.7" r="8.14"/><circle cx="1316.7" cy="215.1" r="8.14"/>
<circle cx="1198.7" cy="776.6" r="8.14"/><circle cx="510.9" cy="721.2" r="8.14"/><circle cx="394.8" cy="730.0" r="8.14"/><circle cx="1023.4" cy="326.8" r="8.14"/><circle cx="1155.0" cy="415.6" r="8.14"/><circle cx="1388.6" cy="220.3" r="8.14"/>
<circle cx="1323.4" cy="709.0" r="8.14"/><circle cx="560.8" cy="720.7" r="8.14"/><circle cx="339.6" cy="802.1" r="8.14"/><circle cx="1466.2" cy="574.6" r="8.14"/><circle cx="1760.7" cy="679.5" r="8.14"/><circle cx="1997.4" cy="867.9" r="8.14"/>
<circle cx="2142.9" cy="696.0" r="8.14"/><circle cx="997.9" cy="360.4" r="8.14"/><circle cx="379.2" cy="738.0" r="8.14"/><circle cx="1046.1" cy="793.4" r="8.14"/><circle cx="1474.7" cy="571.7" r="8.14"/><circle cx="1177.6" cy="277.4" r="8.14"/>
<circle cx="1107.0" cy="574.4" r="8.14"/><circle cx="2109.5" cy="769.9" r="8.14"/><circle cx="734.8" cy="649.0" r="8.14"/><circle cx="1238.2" cy="358.9" r="8.14"/><circle cx="621.1" cy="685.9" r="8.14"/><circle cx="1349.3" cy="672.7" r="8.14"/>
<circle cx="1287.7" cy="264.4" r="8.14"/><circle cx="2141.8" cy="763.3" r="8.14"/><circle cx="1467.2" cy="643.5" r="8.14"/><circle cx="591.6" cy="840.5" r="8.14"/><circle cx="1719.9" cy="618.9" r="8.14"/><circle cx="417.8" cy="772.3" r="8.14"/>
<circle cx="333.2" cy="800.8" r="8.14"/><circle cx="1207.5" cy="379.5" r="8.14"/><circle cx="1967.5" cy="701.3" r="8.14"/><circle cx="2158.5" cy="568.3" r="8.14"/><circle cx="442.1" cy="785.9" r="8.14"/><circle cx="319.4" cy="682.0" r="8.14"/>
<circle cx="1241.8" cy="615.6" r="8.14"/><circle cx="1531.9" cy="770.1" r="8.14"/><circle cx="1214.4" cy="640.9" r="8.14"/><circle cx="1157.1" cy="224.8" r="8.14"/><circle cx="2115.3" cy="835.4" r="8.14"/><circle cx="1143.2" cy="237.1" r="8.14"/>
<circle cx="1248.2" cy="457.2" r="8.14"/><circle cx="1235.4" cy="452.0" r="8.14"/><circle cx="1322.6" cy="577.3" r="8.14"/><circle cx="742.6" cy="648.2" r="8.14"/><circle cx="1392.3" cy="438.1" r="8.14"/><circle cx="1204.1" cy="710.7" r="8.14"/>
<circle cx="300.8" cy="725.7" r="8.14"/><circle cx="1057.0" cy="822.9" r="8.14"/><circle cx="1204.3" cy="579.8" r="8.14"/><circle cx="1327.9" cy="711.1" r="8.14"/><circle cx="1418.1" cy="176.0" r="8.14"/><circle cx="1499.5" cy="613.2" r="8.14"/>
<circle cx="1460.6" cy="665.3" r="8.14"/><circle cx="780.0" cy="793.0" r="8.14"/><circle cx="1477.7" cy="568.3" r="8.14"/><circle cx="1113.9" cy="705.4" r="8.14"/><circle cx="1485.7" cy="357.5" r="8.14"/><circle cx="1773.5" cy="785.3" r="8.14"/>
<circle cx="1087.8" cy="375.4" r="8.14"/><circle cx="793.2" cy="602.5" r="8.14"/><circle cx="1280.7" cy="777.5" r="8.14"/><circle cx="1905.2" cy="765.3" r="8.14"/><circle cx="415.7" cy="813.9" r="8.14"/><circle cx="1243.6" cy="883.1" r="8.14"/>
<circle cx="1228.5" cy="651.1" r="8.14"/><circle cx="1383.3" cy="292.6" r="8.14"/><circle cx="1780.2" cy="866.4" r="8.14"/><circle cx="474.6" cy="602.9" r="8.14"/><circle cx="1045.6" cy="809.3" r="8.14"/><circle cx="1146.0" cy="775.0" r="8.14"/>
<circle cx="415.8" cy="645.8" r="8.14"/><circle cx="1404.0" cy="772.4" r="8.14"/><circle cx="1017.4" cy="380.7" r="8.14"/><circle cx="538.2" cy="646.0" r="8.14"/><circle cx="1095.0" cy="847.0" r="8.14"/><circle cx="706.9" cy="769.2" r="8.14"/>
<circle cx="1292.5" cy="659.4" r="8.14"/><circle cx="1240.0" cy="682.7" r="8.14"/><circle cx="756.9" cy="605.1" r="8.14"/><circle cx="640.1" cy="841.2" r="8.14"/><circle cx="1770.3" cy="696.2" r="8.14"/><circle cx="2186.4" cy="692.8" r="8.14"/>
<circle cx="2081.7" cy="827.9" r="8.14"/><circle cx="1022.1" cy="774.5" r="8.14"/><circle cx="2153.6" cy="848.1" r="8.14"/><circle cx="1526.8" cy="302.7" r="8.14"/><circle cx="1239.9" cy="366.1" r="8.14"/><circle cx="1217.2" cy="750.5" r="8.14"/>
<circle cx="1114.0" cy="663.8" r="8.14"/><circle cx="1942.5" cy="603.7" r="8.14"/><circle cx="397.3" cy="886.3" r="8.14"/><circle cx="550.4" cy="882.0" r="8.14"/><circle cx="1210.9" cy="807.5" r="8.14"/><circle cx="1031.4" cy="886.2" r="8.14"/>
<circle cx="1236.6" cy="746.6" r="8.14"/><circle cx="680.1" cy="614.4" r="8.14"/><circle cx="707.1" cy="660.1" r="8.14"/><circle cx="1418.3" cy="417.8" r="8.14"/><circle cx="1181.4" cy="840.0" r="8.14"/><circle cx="746.9" cy="769.5" r="8.14"/>
<circle cx="2224.9" cy="609.4" r="8.14"/><circle cx="1108.6" cy="290.2" r="8.14"/><circle cx="1234.2" cy="352.5" r="8.14"/><circle cx="1276.8" cy="781.4" r="8.14"/><circle cx="1366.2" cy="632.9" r="8.14"/><circle cx="2214.2" cy="601.1" r="8.14"/>
<circle cx="1228.5" cy="811.6" r="8.14"/><circle cx="1468.3" cy="688.9" r="8.14"/><circle cx="1884.1" cy="739.4" r="8.14"/><circle cx="1394.5" cy="384.6" r="8.14"/><circle cx="1409.9" cy="780.5" r="8.14"/><circle cx="1393.8" cy="846.8" r="8.14"/>
<circle cx="991.2" cy="306.9" r="8.14"/><circle cx="990.6" cy="710.3" r="8.14"/><circle cx="620.8" cy="872.2" r="8.14"/><circle cx="416.2" cy="810.8" r="8.14"/><circle cx="1881.8" cy="604.2" r="8.14"/><circle cx="1444.1" cy="653.8" r="8.14"/>
<circle cx="518.6" cy="803.6" r="8.14"/><circle cx="1388.9" cy="478.8" r="8.14"/><circle cx="1197.9" cy="335.3" r="8.14"/><circle cx="581.0" cy="801.9" r="8.14"/><circle cx="1432.2" cy="835.3" r="8.14"/><circle cx="2005.1" cy="825.4" r="8.14"/>
<circle cx="1878.4" cy="755.4" r="8.14"/><circle cx="1343.0" cy="230.1" r="8.14"/><circle cx="1355.1" cy="368.3" r="8.14"/><circle cx="1464.6" cy="296.9" r="8.14"/><circle cx="456.5" cy="683.6" r="8.14"/><circle cx="763.4" cy="725.2" r="8.14"/>
<circle cx="2151.9" cy="713.3" r="8.14"/><circle cx="1304.5" cy="269.5" r="8.14"/><circle cx="1174.9" cy="372.3" r="8.14"/><circle cx="615.6" cy="723.0" r="8.14"/><circle cx="765.2" cy="738.6" r="8.14"/><circle cx="1273.9" cy="851.2" r="8.14"/>
<circle cx="1232.6" cy="388.4" r="8.14"/><circle cx="621.7" cy="663.1" r="8.14"/><circle cx="347.2" cy="592.6" r="8.14"/><circle cx="1007.3" cy="700.0" r="8.14"/><circle cx="800.0" cy="767.0" r="8.14"/><circle cx="2234.2" cy="768.1" r="8.14"/>
<circle cx="587.4" cy="853.2" r="8.14"/><circle cx="1518.3" cy="290.6" r="8.14"/><circle cx="541.0" cy="812.4" r="8.14"/><circle cx="1243.1" cy="318.5" r="8.14"/><circle cx="1352.8" cy="633.3" r="8.14"/><circle cx="1994.8" cy="581.9" r="8.14"/>
<circle cx="487.2" cy="758.2" r="8.14"/><circle cx="1514.5" cy="404.4" r="8.14"/><circle cx="1354.1" cy="719.4" r="8.14"/><circle cx="1141.7" cy="722.3" r="8.14"/><circle cx="1269.7" cy="588.7" r="8.14"/><circle cx="1048.7" cy="694.9" r="8.14"/>
<circle cx="1302.0" cy="715.0" r="8.14"/><circle cx="1121.8" cy="340.8" r="8.14"/><circle cx="393.5" cy="586.1" r="8.14"/><circle cx="1164.5" cy="804.2" r="8.14"/><circle cx="1376.2" cy="856.5" r="8.14"/><circle cx="1028.2" cy="743.6" r="8.14"/>
<circle cx="1110.5" cy="737.2" r="8.14"/><circle cx="563.2" cy="743.5" r="8.14"/><circle cx="1539.7" cy="402.8" r="8.14"/><circle cx="1067.8" cy="238.9" r="8.14"/><circle cx="1990.0" cy="593.5" r="8.14"/><circle cx="523.3" cy="632.4" r="8.14"/>
<circle cx="418.0" cy="667.5" r="8.14"/><circle cx="1191.9" cy="407.3" r="8.14"/><circle cx="2228.3" cy="615.5" r="8.14"/><circle cx="1418.5" cy="603.6" r="8.14"/><circle cx="2026.3" cy="742.0" r="8.14"/><circle cx="1135.7" cy="640.9" r="8.14"/>
<circle cx="1469.9" cy="849.4" r="8.14"/><circle cx="2193.3" cy="672.7" r="8.14"/><circle cx="1483.1" cy="368.6" r="8.14"/><circle cx="304.7" cy="684.3" r="8.14"/><circle cx="485.9" cy="682.9" r="8.14"/><circle cx="637.3" cy="801.5" r="8.14"/>
<circle cx="1350.4" cy="334.7" r="8.14"/><circle cx="1315.6" cy="736.2" r="8.14"/><circle cx="350.9" cy="732.3" r="8.14"/><circle cx="311.0" cy="841.3" r="8.14"/><circle cx="2201.9" cy="655.2" r="8.14"/><circle cx="2073.0" cy="831.9" r="8.14"/>
<circle cx="1035.4" cy="297.5" r="8.14"/><circle cx="1144.1" cy="773.3" r="8.14"/><circle cx="1052.3" cy="848.1" r="8.14"/><circle cx="1191.9" cy="814.0" r="8.14"/><circle cx="1135.5" cy="582.7" r="8.14"/><circle cx="514.7" cy="676.4" r="8.14"/>
<circle cx="1254.5" cy="830.0" r="8.14"/><circle cx="470.6" cy="729.7" r="8.14"/><circle cx="349.5" cy="681.8" r="8.14"/><circle cx="406.4" cy="881.8" r="8.14"/><circle cx="1313.7" cy="776.5" r="8.14"/><circle cx="2038.4" cy="773.2" r="8.14"/>
<circle cx="2083.1" cy="780.1" r="8.14"/><circle cx="1162.9" cy="171.4" r="8.14"/><circle cx="1140.5" cy="641.9" r="8.14"/><circle cx="682.8" cy="826.8" r="8.14"/><circle cx="718.7" cy="798.0" r="8.14"/><circle cx="1431.1" cy="749.2" r="8.14"/>
<circle cx="2229.8" cy="721.1" r="8.14"/><circle cx="1992.8" cy="696.0" r="8.14"/><circle cx="372.2" cy="606.0" r="8.14"/><circle cx="1363.0" cy="737.0" r="8.14"/><circle cx="384.1" cy="601.9" r="8.14"/><circle cx="1067.0" cy="684.9" r="8.14"/>
<circle cx="372.7" cy="649.9" r="8.14"/><circle cx="1944.2" cy="863.0" r="8.14"/><circle cx="722.1" cy="773.2" r="8.14"/><circle cx="379.4" cy="814.9" r="8.14"/><circle cx="1919.9" cy="636.6" r="8.14"/><circle cx="749.2" cy="593.6" r="8.14"/>
<circle cx="1280.0" cy="287.1" r="8.14"/><circle cx="1938.9" cy="575.8" r="8.14"/><circle cx="1306.0" cy="455.6" r="8.14"/><circle cx="538.9" cy="664.9" r="8.14"/><circle cx="1095.7" cy="727.4" r="8.14"/><circle cx="2046.0" cy="582.2" r="8.14"/>
<circle cx="510.5" cy="608.5" r="8.14"/><circle cx="1472.5" cy="601.9" r="8.14"/><circle cx="1313.0" cy="172.5" r="8.14"/><circle cx="2174.0" cy="682.4" r="8.14"/><circle cx="1933.6" cy="708.8" r="8.14"/><circle cx="1415.1" cy="444.0" r="8.14"/>
<circle cx="1369.8" cy="341.9" r="8.14"/><circle cx="1175.1" cy="644.1" r="8.14"/><circle cx="1706.4" cy="580.8" r="8.14"/><circle cx="765.5" cy="582.7" r="8.14"/><circle cx="433.7" cy="741.5" r="8.14"/><circle cx="2123.6" cy="580.4" r="8.14"/>
<circle cx="822.0" cy="817.8" r="8.14"/><circle cx="1159.5" cy="862.3" r="8.14"/><circle cx="1523.9" cy="845.8" r="8.14"/><circle cx="1693.5" cy="826.9" r="8.14"/><circle cx="1081.9" cy="313.5" r="8.14"/><circle cx="1417.9" cy="589.0" r="8.14"/>
<circle cx="389.1" cy="602.8" r="8.14"/><circle cx="754.3" cy="636.4" r="8.14"/><circle cx="1168.1" cy="769.2" r="8.14"/><circle cx="1998.3" cy="816.7" r="8.14"/><circle cx="534.6" cy="766.3" r="8.14"/><circle cx="1503.1" cy="691.8" r="8.14"/>
<circle cx="1735.2" cy="847.2" r="8.14"/><circle cx="2028.9" cy="850.6" r="8.14"/><circle cx="1011.2" cy="300.4" r="8.14"/><circle cx="2089.9" cy="654.2" r="8.14"/><circle cx="1792.5" cy="702.2" r="8.14"/><circle cx="1201.8" cy="870.9" r="8.14"/>
<circle cx="1219.0" cy="384.7" r="8.14"/><circle cx="1493.5" cy="607.4" r="8.14"/><circle cx="1178.6" cy="694.0" r="8.14"/><circle cx="1283.2" cy="747.6" r="8.14"/><circle cx="2132.8" cy="731.7" r="8.14"/><circle cx="1707.1" cy="603.9" r="8.14"/>
<circle cx="1455.6" cy="440.0" r="8.14"/><circle cx="1357.3" cy="170.0" r="8.14"/><circle cx="2179.2" cy="806.0" r="8.14"/><circle cx="1231.1" cy="255.7" r="8.14"/><circle cx="1381.1" cy="704.4" r="8.14"/><circle cx="1450.6" cy="581.5" r="8.14"/>
<circle cx="2033.9" cy="772.3" r="8.14"/><circle cx="1147.2" cy="573.2" r="8.14"/><circle cx="2057.3" cy="864.2" r="8.14"/><circle cx="337.3" cy="722.7" r="8.14"/><circle cx="1766.7" cy="680.4" r="8.14"/><circle cx="1943.8" cy="621.2" r="8.14"/>
<circle cx="1150.1" cy="741.9" r="8.14"/><circle cx="814.3" cy="819.2" r="8.14"/><circle cx="1143.2" cy="612.8" r="8.14"/><circle cx="1023.0" cy="759.8" r="8.14"/><circle cx="1990.0" cy="640.8" r="8.14"/><circle cx="401.4" cy="885.2" r="8.14"/>
<circle cx="2204.9" cy="702.4" r="8.14"/><circle cx="613.7" cy="710.2" r="8.14"/><circle cx="1098.9" cy="381.8" r="8.14"/><circle cx="1202.2" cy="767.4" r="8.14"/><circle cx="1029.0" cy="324.0" r="8.14"/><circle cx="1487.6" cy="737.4" r="8.14"/>
<circle cx="1492.4" cy="362.8" r="8.14"/><circle cx="2136.4" cy="726.5" r="8.14"/><circle cx="719.9" cy="730.4" r="8.14"/><circle cx="507.6" cy="885.9" r="8.14"/><circle cx="1032.6" cy="390.8" r="8.14"/><circle cx="514.4" cy="619.0" r="8.14"/>
<circle cx="1417.5" cy="601.5" r="8.14"/><circle cx="1521.7" cy="764.3" r="8.14"/><circle cx="1038.5" cy="595.1" r="8.14"/><circle cx="757.3" cy="706.0" r="8.14"/><circle cx="1046.7" cy="786.3" r="8.14"/><circle cx="1259.0" cy="629.4" r="8.14"/>
<circle cx="1227.8" cy="850.3" r="8.14"/><circle cx="425.2" cy="709.7" r="8.14"/><circle cx="1755.8" cy="665.5" r="8.14"/><circle cx="752.7" cy="837.2" r="8.14"/><circle cx="702.1" cy="586.0" r="8.14"/><circle cx="519.4" cy="775.0" r="8.14"/>
<circle cx="826.9" cy="643.4" r="8.14"/><circle cx="681.7" cy="748.7" r="8.14"/><circle cx="1766.5" cy="752.3" r="8.14"/><circle cx="1072.1" cy="637.6" r="8.14"/><circle cx="1954.1" cy="598.2" r="8.14"/><circle cx="1183.2" cy="226.4" r="8.14"/>
<circle cx="1030.5" cy="347.0" r="8.14"/><circle cx="1867.0" cy="813.2" r="8.14"/><circle cx="1321.4" cy="209.8" r="8.14"/><circle cx="303.4" cy="647.6" r="8.14"/><circle cx="993.9" cy="384.7" r="8.14"/><circle cx="1220.0" cy="233.6" r="8.14"/>
<circle cx="1271.9" cy="697.0" r="8.14"/><circle cx="628.8" cy="615.2" r="8.14"/><circle cx="730.8" cy="774.3" r="8.14"/><circle cx="340.6" cy="769.4" r="8.14"/><circle cx="1502.0" cy="583.0" r="8.14"/><circle cx="572.5" cy="803.4" r="8.14"/>
<circle cx="1684.0" cy="775.4" r="8.14"/><circle cx="622.4" cy="640.3" r="8.14"/><circle cx="354.3" cy="568.3" r="8.14"/><circle cx="607.5" cy="851.5" r="8.14"/><circle cx="761.4" cy="606.8" r="8.14"/><circle cx="1035.0" cy="814.2" r="8.14"/>
<circle cx="1458.5" cy="232.1" r="8.14"/><circle cx="1284.2" cy="350.7" r="8.14"/><circle cx="1206.4" cy="195.3" r="8.14"/><circle cx="1446.6" cy="756.8" r="8.14"/><circle cx="2235.8" cy="710.3" r="8.14"/><circle cx="1331.0" cy="618.7" r="8.14"/>
<circle cx="1943.8" cy="829.7" r="8.14"/><circle cx="1368.2" cy="333.5" r="8.14"/><circle cx="2145.9" cy="854.0" r="8.14"/><circle cx="1107.6" cy="197.3" r="8.14"/><circle cx="829.9" cy="829.0" r="8.14"/><circle cx="2204.3" cy="839.6" r="8.14"/>
<circle cx="1299.0" cy="638.1" r="8.14"/><circle cx="1837.9" cy="872.5" r="8.14"/><circle cx="1158.2" cy="649.1" r="8.14"/><circle cx="1487.6" cy="260.5" r="8.14"/><circle cx="418.5" cy="695.1" r="8.14"/><circle cx="1025.8" cy="598.8" r="8.14"/>
<circle cx="1937.3" cy="647.0" r="8.14"/><circle cx="783.5" cy="726.2" r="8.14"/><circle cx="1392.9" cy="444.6" r="8.14"/><circle cx="646.9" cy="831.7" r="8.14"/><circle cx="659.0" cy="876.7" r="8.14"/><circle cx="1061.1" cy="644.6" r="8.14"/>
<circle cx="1244.9" cy="866.5" r="8.14"/><circle cx="1527.9" cy="846.9" r="8.14"/><circle cx="1309.5" cy="229.1" r="8.14"/><circle cx="346.6" cy="602.2" r="8.14"/><circle cx="1198.3" cy="438.4" r="8.14"/><circle cx="1735.2" cy="691.9" r="8.14"/>
<circle cx="469.3" cy="833.2" r="8.14"/><circle cx="1091.0" cy="730.7" r="8.14"/><circle cx="1172.6" cy="277.4" r="8.14"/><circle cx="1096.8" cy="633.7" r="8.14"/><circle cx="1119.1" cy="846.1" r="8.14"/><circle cx="339.1" cy="660.7" r="8.14"/>
<circle cx="1437.0" cy="374.1" r="8.14"/><circle cx="292.5" cy="797.2" r="8.14"/><circle cx="2091.6" cy="780.3" r="8.14"/><circle cx="2077.1" cy="633.9" r="8.14"/><circle cx="598.5" cy="618.4" r="8.14"/><circle cx="1161.4" cy="840.1" r="8.14"/>
<circle cx="1262.1" cy="764.8" r="8.14"/><circle cx="355.9" cy="696.4" r="8.14"/><circle cx="1000.1" cy="599.8" r="8.14"/><circle cx="1143.2" cy="175.4" r="8.14"/><circle cx="681.8" cy="581.0" r="8.14"/><circle cx="1317.4" cy="411.6" r="8.14"/>
<circle cx="1697.7" cy="620.4" r="8.14"/><circle cx="638.4" cy="679.3" r="8.14"/><circle cx="992.3" cy="476.1" r="8.14"/><circle cx="1497.1" cy="772.7" r="8.14"/><circle cx="1156.9" cy="786.0" r="8.14"/><circle cx="1505.4" cy="885.1" r="8.14"/>
<circle cx="1848.1" cy="743.7" r="8.14"/><circle cx="685.1" cy="727.8" r="8.14"/><circle cx="1487.8" cy="840.4" r="8.14"/><circle cx="716.2" cy="785.3" r="8.14"/><circle cx="1115.2" cy="596.2" r="8.14"/><circle cx="836.3" cy="796.1" r="8.14"/>
<circle cx="2003.8" cy="658.2" r="8.14"/><circle cx="1742.0" cy="866.4" r="8.14"/><circle cx="1109.3" cy="259.2" r="8.14"/><circle cx="1923.2" cy="867.4" r="8.14"/><circle cx="474.8" cy="766.6" r="8.14"/><circle cx="1406.2" cy="282.3" r="8.14"/>
<circle cx="2148.5" cy="651.4" r="8.14"/><circle cx="1805.0" cy="569.5" r="8.14"/><circle cx="744.0" cy="790.6" r="8.14"/><circle cx="1441.2" cy="650.3" r="8.14"/><circle cx="1711.9" cy="670.1" r="8.14"/><circle cx="343.6" cy="654.7" r="8.14"/>
<circle cx="1531.4" cy="601.2" r="8.14"/><circle cx="1339.5" cy="577.4" r="8.14"/><circle cx="683.3" cy="733.0" r="8.14"/><circle cx="1510.5" cy="764.6" r="8.14"/><circle cx="1337.2" cy="820.3" r="8.14"/><circle cx="1105.6" cy="584.6" r="8.14"/>
<circle cx="1071.3" cy="421.8" r="8.14"/><circle cx="1964.1" cy="704.4" r="8.14"/><circle cx="587.6" cy="720.7" r="8.14"/><circle cx="361.4" cy="652.9" r="8.14"/><circle cx="1399.2" cy="761.6" r="8.14"/><circle cx="1293.0" cy="614.3" r="8.14"/>
<circle cx="1185.3" cy="428.9" r="8.14"/><circle cx="1098.1" cy="854.8" r="8.14"/><circle cx="1474.2" cy="348.6" r="8.14"/><circle cx="1203.7" cy="311.2" r="8.14"/><circle cx="701.3" cy="806.2" r="8.14"/><circle cx="519.3" cy="794.1" r="8.14"/>
<circle cx="1320.6" cy="793.1" r="8.14"/><circle cx="401.9" cy="623.3" r="8.14"/><circle cx="565.5" cy="697.3" r="8.14"/><circle cx="1232.7" cy="816.3" r="8.14"/><circle cx="1460.8" cy="802.4" r="8.14"/><circle cx="709.8" cy="828.5" r="8.14"/>
<circle cx="788.4" cy="620.0" r="8.14"/><circle cx="1716.9" cy="793.5" r="8.14"/><circle cx="2057.3" cy="828.9" r="8.14"/><circle cx="1186.1" cy="255.6" r="8.14"/><circle cx="1777.1" cy="837.6" r="8.14"/><circle cx="1135.7" cy="624.9" r="8.14"/>
<circle cx="811.5" cy="807.1" r="8.14"/><circle cx="534.2" cy="702.6" r="8.14"/><circle cx="1412.1" cy="172.7" r="8.14"/><circle cx="1239.8" cy="714.0" r="8.14"/><circle cx="1038.4" cy="748.2" r="8.14"/><circle cx="1028.3" cy="732.1" r="8.14"/>
<circle cx="1121.3" cy="677.8" r="8.14"/><circle cx="1415.9" cy="583.7" r="8.14"/><circle cx="1269.2" cy="883.5" r="8.14"/><circle cx="1370.6" cy="639.9" r="8.14"/><circle cx="398.4" cy="799.0" r="8.14"/><circle cx="1497.4" cy="822.7" r="8.14"/>
<circle cx="1997.4" cy="777.9" r="8.14"/><circle cx="1792.0" cy="737.5" r="8.14"/><circle cx="1483.7" cy="680.9" r="8.14"/><circle cx="1927.3" cy="615.5" r="8.14"/><circle cx="387.8" cy="604.3" r="8.14"/><circle cx="1824.7" cy="635.3" r="8.14"/>
<circle cx="1189.5" cy="859.6" r="8.14"/><circle cx="1268.9" cy="837.1" r="8.14"/><circle cx="1097.6" cy="306.3" r="8.14"/><circle cx="2217.7" cy="791.4" r="8.14"/><circle cx="1752.4" cy="731.3" r="8.14"/><circle cx="1008.9" cy="225.4" r="8.14"/>
<circle cx="1715.1" cy="750.8" r="8.14"/><circle cx="1527.4" cy="638.4" r="8.14"/><circle cx="1821.3" cy="630.3" r="8.14"/><circle cx="1161.2" cy="786.7" r="8.14"/><circle cx="2008.9" cy="835.8" r="8.14"/><circle cx="1048.1" cy="751.9" r="8.14"/>
<circle cx="1266.6" cy="672.1" r="8.14"/><circle cx="1223.7" cy="575.3" r="8.14"/><circle cx="1944.8" cy="840.6" r="8.14"/><circle cx="498.9" cy="703.0" r="8.14"/><circle cx="1051.2" cy="795.3" r="8.14"/><circle cx="439.0" cy="852.4" r="8.14"/>
<circle cx="1858.3" cy="674.4" r="8.14"/><circle cx="513.5" cy="623.6" r="8.14"/><circle cx="2035.8" cy="805.8" r="8.14"/><circle cx="2057.9" cy="840.5" r="8.14"/><circle cx="1991.1" cy="842.6" r="8.14"/><circle cx="668.7" cy="754.8" r="8.14"/>
<circle cx="1360.2" cy="238.5" r="8.14"/><circle cx="1355.2" cy="715.9" r="8.14"/><circle cx="1498.3" cy="873.2" r="8.14"/><circle cx="1964.8" cy="858.4" r="8.14"/><circle cx="512.8" cy="822.5" r="8.14"/><circle cx="1450.3" cy="681.1" r="8.14"/>
<circle cx="1912.5" cy="619.3" r="8.14"/><circle cx="524.9" cy="838.3" r="8.14"/><circle cx="1745.4" cy="814.5" r="8.14"/><circle cx="1526.4" cy="804.4" r="8.14"/><circle cx="634.6" cy="798.2" r="8.14"/><circle cx="1368.1" cy="471.7" r="8.14"/>
<circle cx="774.4" cy="636.0" r="8.14"/><circle cx="2230.9" cy="755.9" r="8.14"/><circle cx="1353.0" cy="682.7" r="8.14"/><circle cx="1458.5" cy="786.4" r="8.14"/><circle cx="1736.4" cy="700.7" r="8.14"/><circle cx="789.6" cy="855.9" r="8.14"/>
<circle cx="332.7" cy="672.4" r="8.14"/><circle cx="690.0" cy="699.2" r="8.14"/><circle cx="1028.7" cy="690.8" r="8.14"/><circle cx="2144.3" cy="685.5" r="8.14"/><circle cx="1314.9" cy="869.0" r="8.14"/><circle cx="1372.9" cy="175.8" r="8.14"/>
<circle cx="2089.8" cy="622.4" r="8.14"/><circle cx="1224.0" cy="402.8" r="8.14"/><circle cx="1463.9" cy="826.6" r="8.14"/><circle cx="1000.1" cy="634.2" r="8.14"/><circle cx="1068.6" cy="726.3" r="8.14"/><circle cx="1173.6" cy="880.1" r="8.14"/>
<circle cx="816.5" cy="593.3" r="8.14"/><circle cx="1085.1" cy="648.5" r="8.14"/><circle cx="1121.3" cy="248.4" r="8.14"/><circle cx="820.5" cy="837.5" r="8.14"/><circle cx="1353.8" cy="746.1" r="8.14"/><circle cx="1325.7" cy="252.5" r="8.14"/>
<circle cx="2227.7" cy="618.1" r="8.14"/><circle cx="1700.3" cy="777.5" r="8.14"/><circle cx="1417.2" cy="619.9" r="8.14"/><circle cx="375.6" cy="643.3" r="8.14"/><circle cx="1414.8" cy="876.4" r="8.14"/><circle cx="1742.9" cy="636.7" r="8.14"/>
<circle cx="2149.4" cy="881.4" r="8.14"/><circle cx="2150.5" cy="793.6" r="8.14"/><circle cx="1224.0" cy="682.2" r="8.14"/><circle cx="1797.2" cy="868.9" r="8.14"/><circle cx="415.6" cy="865.0" r="8.14"/><circle cx="1455.6" cy="420.2" r="8.14"/>
<circle cx="686.2" cy="866.3" r="8.14"/><circle cx="1137.5" cy="773.3" r="8.14"/><circle cx="2069.6" cy="780.5" r="8.14"/><circle cx="1512.9" cy="419.0" r="8.14"/><circle cx="1512.4" cy="250.1" r="8.14"/><circle cx="1069.5" cy="810.7" r="8.14"/>
<circle cx="1302.7" cy="869.4" r="8.14"/><circle cx="1372.6" cy="443.1" r="8.14"/><circle cx="773.4" cy="787.0" r="8.14"/><circle cx="1371.2" cy="311.9" r="8.14"/><circle cx="348.7" cy="876.8" r="8.14"/><circle cx="1013.3" cy="579.7" r="8.14"/>
<circle cx="300.0" cy="826.1" r="8.14"/><circle cx="1508.3" cy="780.0" r="8.14"/><circle cx="477.4" cy="714.6" r="8.14"/><circle cx="1424.5" cy="670.7" r="8.14"/><circle cx="1865.5" cy="799.1" r="8.14"/><circle cx="1524.5" cy="347.6" r="8.14"/>
<circle cx="313.0" cy="641.3" r="8.14"/><circle cx="1266.2" cy="570.5" r="8.14"/><circle cx="1308.7" cy="816.2" r="8.14"/><circle cx="822.2" cy="867.2" r="8.14"/><circle cx="792.0" cy="628.7" r="8.14"/><circle cx="1959.3" cy="813.0" r="8.14"/>
<circle cx="1970.2" cy="800.6" r="8.14"/><circle cx="388.2" cy="602.8" r="8.14"/><circle cx="1032.4" cy="865.6" r="8.14"/><circle cx="845.3" cy="710.4" r="8.14"/><circle cx="565.0" cy="593.8" r="8.14"/><circle cx="1016.1" cy="747.7" r="8.14"/>
<circle cx="1340.0" cy="267.1" r="8.14"/><circle cx="1471.8" cy="854.6" r="8.14"/><circle cx="1365.9" cy="597.1" r="8.14"/><circle cx="2135.8" cy="875.8" r="8.14"/><circle cx="2072.5" cy="831.3" r="8.14"/><circle cx="1763.5" cy="749.4" r="8.14"/>
<circle cx="1177.5" cy="734.6" r="8.14"/><circle cx="1273.4" cy="834.2" r="8.14"/><circle cx="2072.0" cy="875.0" r="8.14"/><circle cx="399.5" cy="774.5" r="8.14"/><circle cx="2001.3" cy="712.6" r="8.14"/><circle cx="1354.5" cy="367.1" r="8.14"/>
<circle cx="1951.4" cy="720.7" r="8.14"/><circle cx="801.0" cy="621.0" r="8.14"/><circle cx="1263.4" cy="665.9" r="8.14"/><circle cx="1973.2" cy="788.4" r="8.14"/><circle cx="1404.8" cy="819.7" r="8.14"/><circle cx="735.4" cy="788.5" r="8.14"/>
<circle cx="686.4" cy="622.6" r="8.14"/><circle cx="1397.5" cy="777.2" r="8.14"/><circle cx="1412.0" cy="584.7" r="8.14"/><circle cx="1393.7" cy="312.0" r="8.14"/><circle cx="1267.6" cy="737.9" r="8.14"/><circle cx="1511.6" cy="880.6" r="8.14"/>
<circle cx="1241.8" cy="287.5" r="8.14"/><circle cx="1112.6" cy="806.3" r="8.14"/><circle cx="1404.6" cy="452.5" r="8.14"/><circle cx="1274.3" cy="759.3" r="8.14"/><circle cx="1132.3" cy="599.2" r="8.14"/><circle cx="795.5" cy="662.5" r="8.14"/>
<circle cx="1333.5" cy="685.2" r="8.14"/><circle cx="1152.4" cy="767.8" r="8.14"/><circle cx="1051.4" cy="395.9" r="8.14"/><circle cx="1055.8" cy="774.4" r="8.14"/><circle cx="1169.2" cy="622.6" r="8.14"/><circle cx="1770.5" cy="670.0" r="8.14"/>
<circle cx="1231.1" cy="657.1" r="8.14"/><circle cx="744.6" cy="648.2" r="8.14"/><circle cx="1845.7" cy="729.9" r="8.14"/><circle cx="1418.6" cy="817.1" r="8.14"/><circle cx="1889.2" cy="599.8" r="8.14"/><circle cx="1832.2" cy="599.8" r="8.14"/>
<circle cx="476.3" cy="882.7" r="8.14"/><circle cx="607.9" cy="611.1" r="8.14"/><circle cx="776.9" cy="649.8" r="8.14"/><circle cx="571.2" cy="724.5" r="8.14"/><circle cx="699.7" cy="622.9" r="8.14"/><circle cx="1949.3" cy="819.4" r="8.14"/>
<circle cx="1874.2" cy="885.5" r="8.14"/><circle cx="2201.6" cy="579.2" r="8.14"/><circle cx="1428.2" cy="308.6" r="8.14"/><circle cx="367.8" cy="783.9" r="8.14"/><circle cx="619.2" cy="858.0" r="8.14"/><circle cx="1051.7" cy="635.5" r="8.14"/>
<circle cx="670.2" cy="609.6" r="8.14"/><circle cx="1885.2" cy="747.3" r="8.14"/><circle cx="819.3" cy="717.2" r="8.14"/><circle cx="526.7" cy="830.0" r="8.14"/><circle cx="632.5" cy="651.2" r="8.14"/><circle cx="1385.2" cy="751.7" r="8.14"/>
<circle cx="1073.2" cy="681.9" r="8.14"/><circle cx="1528.5" cy="339.9" r="8.14"/><circle cx="661.6" cy="613.7" r="8.14"/><circle cx="1434.7" cy="811.0" r="8.14"/><circle cx="353.4" cy="850.3" r="8.14"/><circle cx="1082.8" cy="791.8" r="8.14"/>
<circle cx="1857.4" cy="571.0" r="8.14"/><circle cx="1267.5" cy="642.8" r="8.14"/><circle cx="1975.7" cy="854.3" r="8.14"/><circle cx="809.4" cy="713.9" r="8.14"/><circle cx="1292.3" cy="578.0" r="8.14"/><circle cx="422.2" cy="618.2" r="8.14"/>
<circle cx="1334.6" cy="577.5" r="8.14"/><circle cx="1270.5" cy="815.2" r="8.14"/><circle cx="354.0" cy="689.8" r="8.14"/><circle cx="487.9" cy="793.2" r="8.14"/><circle cx="543.8" cy="701.5" r="8.14"/><circle cx="2116.5" cy="575.7" r="8.14"/>
<circle cx="1386.8" cy="845.1" r="8.14"/><circle cx="682.8" cy="794.6" r="8.14"/><circle cx="1516.8" cy="574.6" r="8.14"/><circle cx="1528.5" cy="767.6" r="8.14"/><circle cx="1158.5" cy="376.4" r="8.14"/><circle cx="504.5" cy="808.3" r="8.14"/>
<circle cx="1383.1" cy="825.8" r="8.14"/><circle cx="1034.2" cy="744.4" r="8.14"/><circle cx="1017.2" cy="599.0" r="8.14"/><circle cx="443.8" cy="622.8" r="8.14"/><circle cx="600.7" cy="635.2" r="8.14"/><circle cx="1386.3" cy="400.7" r="8.14"/>
<circle cx="1336.6" cy="744.5" r="8.14"/><circle cx="1437.1" cy="750.2" r="8.14"/><circle cx="491.9" cy="663.2" r="8.14"/><circle cx="1151.2" cy="325.5" r="8.14"/><circle cx="432.0" cy="781.5" r="8.14"/><circle cx="2114.5" cy="645.2" r="8.14"/>
<circle cx="1275.2" cy="778.5" r="8.14"/><circle cx="455.3" cy="842.9" r="8.14"/><circle cx="2047.5" cy="808.5" r="8.14"/><circle cx="1070.4" cy="383.6" r="8.14"/><circle cx="1718.7" cy="643.7" r="8.14"/><circle cx="1183.2" cy="774.7" r="8.14"/>
<circle cx="1351.2" cy="479.4" r="8.14"/><circle cx="1188.5" cy="359.9" r="8.14"/><circle cx="1481.5" cy="448.7" r="8.14"/><circle cx="1228.3" cy="242.2" r="8.14"/><circle cx="2100.2" cy="865.6" r="8.14"/><circle cx="1443.7" cy="684.7" r="8.14"/>
<circle cx="1529.1" cy="482.5" r="8.14"/><circle cx="1051.3" cy="430.0" r="8.14"/><circle cx="992.2" cy="676.4" r="8.14"/><circle cx="1102.5" cy="482.1" r="8.14"/><circle cx="578.7" cy="637.8" r="8.14"/><circle cx="493.3" cy="880.5" r="8.14"/>
<circle cx="1206.4" cy="372.4" r="8.14"/><circle cx="1724.3" cy="649.3" r="8.14"/><circle cx="1783.1" cy="645.3" r="8.14"/><circle cx="2172.2" cy="610.2" r="8.14"/><circle cx="1105.0" cy="704.0" r="8.14"/><circle cx="601.1" cy="719.5" r="8.14"/>
<circle cx="2044.7" cy="778.6" r="8.14"/><circle cx="1435.0" cy="747.5" r="8.14"/><circle cx="1424.2" cy="653.3" r="8.14"/><circle cx="1132.8" cy="851.9" r="8.14"/><circle cx="1247.1" cy="688.9" r="8.14"/><circle cx="1726.8" cy="603.9" r="8.14"/>
<circle cx="1259.6" cy="771.5" r="8.14"/><circle cx="1875.2" cy="870.2" r="8.14"/><circle cx="2126.2" cy="759.3" r="8.14"/><circle cx="1493.8" cy="730.9" r="8.14"/><circle cx="1440.3" cy="250.3" r="8.14"/><circle cx="1148.6" cy="773.8" r="8.14"/>
<circle cx="665.7" cy="577.5" r="8.14"/><circle cx="1964.7" cy="696.0" r="8.14"/><circle cx="645.7" cy="648.0" r="8.14"/><circle cx="2018.7" cy="792.2" r="8.14"/><circle cx="783.7" cy="697.9" r="8.14"/><circle cx="562.7" cy="569.9" r="8.14"/>
<circle cx="1933.4" cy="838.7" r="8.14"/><circle cx="1225.5" cy="371.2" r="8.14"/><circle cx="1235.3" cy="245.0" r="8.14"/><circle cx="536.5" cy="859.7" r="8.14"/><circle cx="736.7" cy="762.3" r="8.14"/><circle cx="590.9" cy="805.7" r="8.14"/>
<circle cx="1391.2" cy="744.0" r="8.14"/><circle cx="2150.3" cy="692.5" r="8.14"/><circle cx="348.6" cy="789.0" r="8.14"/><circle cx="1193.7" cy="177.8" r="8.14"/><circle cx="328.2" cy="634.2" r="8.14"/><circle cx="506.0" cy="728.1" r="8.14"/>
<circle cx="710.0" cy="731.8" r="8.14"/><circle cx="650.8" cy="870.0" r="8.14"/><circle cx="1171.5" cy="268.9" r="8.14"/><circle cx="1059.6" cy="340.6" r="8.14"/><circle cx="2172.8" cy="760.6" r="8.14"/><circle cx="1118.1" cy="212.8" r="8.14"/>
<circle cx="2001.5" cy="650.3" r="8.14"/><circle cx="2197.1" cy="792.8" r="8.14"/><circle cx="467.9" cy="803.2" r="8.14"/><circle cx="1169.4" cy="841.9" r="8.14"/><circle cx="2087.1" cy="765.8" r="8.14"/><circle cx="2232.0" cy="790.8" r="8.14"/>
<circle cx="1911.2" cy="789.6" r="8.14"/><circle cx="1134.6" cy="779.6" r="8.14"/><circle cx="1162.7" cy="420.0" r="8.14"/><circle cx="807.7" cy="676.7" r="8.14"/><circle cx="495.0" cy="869.5" r="8.14"/><circle cx="712.8" cy="571.3" r="8.14"/>
<circle cx="1118.2" cy="613.8" r="8.14"/><circle cx="1213.5" cy="237.6" r="8.14"/><circle cx="1224.3" cy="624.5" r="8.14"/><circle cx="1705.6" cy="605.4" r="8.14"/><circle cx="494.5" cy="886.6" r="8.14"/><circle cx="1035.7" cy="709.5" r="8.14"/>
<circle cx="1343.6" cy="720.7" r="8.14"/><circle cx="1472.1" cy="455.5" r="8.14"/><circle cx="1434.7" cy="634.8" r="8.14"/><circle cx="2203.9" cy="789.7" r="8.14"/><circle cx="1535.4" cy="709.3" r="8.14"/><circle cx="1382.4" cy="406.4" r="8.14"/>
<circle cx="1418.2" cy="845.0" r="8.14"/><circle cx="1037.3" cy="733.3" r="8.14"/><circle cx="2020.9" cy="871.0" r="8.14"/><circle cx="1051.0" cy="860.4" r="8.14"/><circle cx="1517.7" cy="212.0" r="8.14"/><circle cx="1388.4" cy="618.6" r="8.14"/>
<circle cx="721.6" cy="832.7" r="8.14"/><circle cx="1197.6" cy="666.5" r="8.14"/><circle cx="626.7" cy="774.4" r="8.14"/><circle cx="1340.9" cy="755.0" r="8.14"/><circle cx="1127.8" cy="377.3" r="8.14"/><circle cx="403.7" cy="862.1" r="8.14"/>
<circle cx="438.7" cy="779.3" r="8.14"/><circle cx="602.1" cy="878.3" r="8.14"/><circle cx="1273.6" cy="349.3" r="8.14"/><circle cx="692.6" cy="590.1" r="8.14"/><circle cx="1471.6" cy="663.9" r="8.14"/><circle cx="2156.2" cy="618.3" r="8.14"/>
<circle cx="2012.1" cy="603.7" r="8.14"/><circle cx="1022.3" cy="869.9" r="8.14"/><circle cx="736.4" cy="870.3" r="8.14"/><circle cx="1425.1" cy="881.3" r="8.14"/><circle cx="2085.0" cy="808.7" r="8.14"/><circle cx="1378.4" cy="858.3" r="8.14"/>
<circle cx="308.4" cy="684.3" r="8.14"/><circle cx="1011.2" cy="583.5" r="8.14"/><circle cx="1502.5" cy="727.4" r="8.14"/><circle cx="1980.4" cy="753.7" r="8.14"/><circle cx="405.9" cy="817.3" r="8.14"/><circle cx="1991.3" cy="641.8" r="8.14"/>
<circle cx="643.3" cy="569.3" r="8.14"/><circle cx="1195.0" cy="844.7" r="8.14"/><circle cx="378.7" cy="574.6" r="8.14"/><circle cx="637.2" cy="633.4" r="8.14"/><circle cx="339.8" cy="658.6" r="8.14"/><circle cx="2135.9" cy="805.9" r="8.14"/>
<circle cx="608.4" cy="574.9" r="8.14"/><circle cx="556.5" cy="887.6" r="8.14"/><circle cx="820.1" cy="867.0" r="8.14"/><circle cx="1038.4" cy="709.2" r="8.14"/><circle cx="378.3" cy="595.1" r="8.14"/><circle cx="721.7" cy="831.2" r="8.14"/>
<circle cx="1372.4" cy="468.7" r="8.14"/><circle cx="994.2" cy="594.2" r="8.14"/><circle cx="2104.6" cy="819.5" r="8.14"/><circle cx="1356.6" cy="379.7" r="8.14"/><circle cx="1693.5" cy="887.9" r="8.14"/><circle cx="2056.4" cy="577.1" r="8.14"/>
<circle cx="1913.8" cy="876.7" r="8.14"/><circle cx="1311.4" cy="687.7" r="8.14"/><circle cx="663.9" cy="855.1" r="8.14"/><circle cx="2229.1" cy="736.0" r="8.14"/><circle cx="1971.9" cy="728.9" r="8.14"/><circle cx="516.2" cy="591.8" r="8.14"/>
<circle cx="669.3" cy="801.0" r="8.14"/><circle cx="1009.1" cy="746.8" r="8.14"/><circle cx="613.2" cy="883.8" r="8.14"/><circle cx="816.6" cy="692.5" r="8.14"/><circle cx="1128.4" cy="766.5" r="8.14"/><circle cx="2073.5" cy="637.2" r="8.14"/>
<circle cx="366.5" cy="718.2" r="8.14"/><circle cx="1044.2" cy="320.8" r="8.14"/><circle cx="545.4" cy="723.7" r="8.14"/><circle cx="1065.4" cy="587.3" r="8.14"/><circle cx="1150.3" cy="836.8" r="8.14"/><circle cx="1889.7" cy="815.5" r="8.14"/>
<circle cx="2151.8" cy="745.5" r="8.14"/><circle cx="1170.7" cy="177.7" r="8.14"/><circle cx="1406.2" cy="289.3" r="8.14"/><circle cx="1446.6" cy="300.2" r="8.14"/><circle cx="1102.2" cy="761.3" r="8.14"/><circle cx="1783.2" cy="698.9" r="8.14"/>
<circle cx="353.6" cy="709.8" r="8.14"/><circle cx="1794.9" cy="754.6" r="8.14"/><circle cx="730.0" cy="606.8" r="8.14"/><circle cx="1150.5" cy="172.0" r="8.14"/><circle cx="1357.0" cy="388.8" r="8.14"/><circle cx="388.8" cy="810.7" r="8.14"/>
<circle cx="432.1" cy="737.3" r="8.14"/><circle cx="1731.1" cy="700.6" r="8.14"/><circle cx="1860.7" cy="867.7" r="8.14"/><circle cx="834.0" cy="782.1" r="8.14"/><circle cx="1172.4" cy="475.6" r="8.14"/><circle cx="568.1" cy="685.1" r="8.14"/>
<circle cx="1369.7" cy="581.7" r="8.14"/><circle cx="1299.3" cy="570.7" r="8.14"/><circle cx="1469.3" cy="171.5" r="8.14"/><circle cx="318.7" cy="704.1" r="8.14"/><circle cx="1860.4" cy="663.6" r="8.14"/><circle cx="1411.2" cy="592.9" r="8.14"/>
<circle cx="1119.2" cy="413.3" r="8.14"/><circle cx="677.8" cy="788.1" r="8.14"/><circle cx="1337.3" cy="303.7" r="8.14"/><circle cx="316.9" cy="791.3" r="8.14"/><circle cx="2070.5" cy="722.6" r="8.14"/><circle cx="401.0" cy="671.3" r="8.14"/>
<circle cx="332.4" cy="735.3" r="8.14"/><circle cx="1251.2" cy="484.4" r="8.14"/><circle cx="2103.3" cy="884.4" r="8.14"/><circle cx="1076.5" cy="653.3" r="8.14"/><circle cx="1735.7" cy="838.9" r="8.14"/><circle cx="480.4" cy="604.1" r="8.14"/>
<circle cx="341.2" cy="849.6" r="8.14"/><circle cx="643.4" cy="612.3" r="8.14"/><circle cx="735.1" cy="762.8" r="8.14"/><circle cx="1818.9" cy="642.1" r="8.14"/><circle cx="456.2" cy="695.6" r="8.14"/><circle cx="1509.5" cy="673.0" r="8.14"/>
<circle cx="1267.5" cy="703.5" r="8.14"/><circle cx="1167.2" cy="333.9" r="8.14"/><circle cx="804.8" cy="595.4" r="8.14"/><circle cx="1250.7" cy="577.8" r="8.14"/><circle cx="1242.9" cy="840.8" r="8.14"/><circle cx="2031.5" cy="771.9" r="8.14"/>
<circle cx="1195.2" cy="786.2" r="8.14"/><circle cx="1040.8" cy="573.1" r="8.14"/><circle cx="1341.7" cy="273.4" r="8.14"/><circle cx="490.7" cy="854.5" r="8.14"/><circle cx="702.5" cy="586.4" r="8.14"/><circle cx="1380.0" cy="705.8" r="8.14"/>
<circle cx="1974.4" cy="602.6" r="8.14"/><circle cx="1730.5" cy="655.2" r="8.14"/><circle cx="599.6" cy="858.6" r="8.14"/><circle cx="1173.7" cy="793.0" r="8.14"/><circle cx="2064.5" cy="658.2" r="8.14"/><circle cx="1148.2" cy="313.4" r="8.14"/>
<circle cx="1985.0" cy="722.2" r="8.14"/><circle cx="1894.2" cy="752.4" r="8.14"/><circle cx="1467.1" cy="822.2" r="8.14"/><circle cx="1718.3" cy="743.8" r="8.14"/><circle cx="1857.3" cy="709.6" r="8.14"/><circle cx="495.0" cy="842.3" r="8.14"/>
<circle cx="1718.6" cy="787.6" r="8.14"/><circle cx="1321.3" cy="326.1" r="8.14"/><circle cx="665.4" cy="674.1" r="8.14"/><circle cx="1414.3" cy="470.0" r="8.14"/><circle cx="1948.8" cy="704.8" r="8.14"/><circle cx="1167.9" cy="576.4" r="8.14"/>
<circle cx="537.7" cy="812.0" r="8.14"/><circle cx="2123.7" cy="769.3" r="8.14"/><circle cx="521.9" cy="770.1" r="8.14"/><circle cx="1317.7" cy="589.0" r="8.14"/><circle cx="1201.9" cy="822.6" r="8.14"/><circle cx="807.8" cy="656.2" r="8.14"/>
<circle cx="1275.2" cy="242.0" r="8.14"/><circle cx="1123.2" cy="179.2" r="8.14"/><circle cx="500.0" cy="764.0" r="8.14"/><circle cx="2099.8" cy="702.8" r="8.14"/><circle cx="1304.0" cy="287.8" r="8.14"/><circle cx="1024.2" cy="767.2" r="8.14"/>
<circle cx="1435.7" cy="626.6" r="8.14"/><circle cx="753.1" cy="748.7" r="8.14"/><circle cx="801.3" cy="653.9" r="8.14"/><circle cx="698.2" cy="765.1" r="8.14"/><circle cx="1390.9" cy="705.7" r="8.14"/><circle cx="316.5" cy="697.8" r="8.14"/>
<circle cx="1340.1" cy="752.6" r="8.14"/><circle cx="1120.5" cy="183.4" r="8.14"/><circle cx="2100.7" cy="685.9" r="8.14"/><circle cx="390.7" cy="749.9" r="8.14"/><circle cx="2015.1" cy="620.7" r="8.14"/><circle cx="1250.8" cy="737.3" r="8.14"/>
<circle cx="812.9" cy="634.3" r="8.14"/><circle cx="1180.0" cy="735.2" r="8.14"/><circle cx="1903.4" cy="718.5" r="8.14"/><circle cx="1018.1" cy="864.5" r="8.14"/><circle cx="1407.2" cy="340.4" r="8.14"/><circle cx="1052.8" cy="352.0" r="8.14"/>
<circle cx="2049.3" cy="823.4" r="8.14"/><circle cx="1285.9" cy="388.5" r="8.14"/><circle cx="1522.9" cy="186.5" r="8.14"/><circle cx="1062.4" cy="880.7" r="8.14"/><circle cx="1473.3" cy="257.6" r="8.14"/><circle cx="1165.4" cy="745.8" r="8.14"/>
<circle cx="1261.1" cy="330.1" r="8.14"/><circle cx="1514.2" cy="270.3" r="8.14"/><circle cx="1065.7" cy="371.1" r="8.14"/><circle cx="1838.6" cy="669.2" r="8.14"/><circle cx="2086.0" cy="609.3" r="8.14"/><circle cx="1040.4" cy="257.2" r="8.14"/>
<circle cx="2197.4" cy="740.2" r="8.14"/><circle cx="1233.7" cy="829.7" r="8.14"/><circle cx="1359.4" cy="189.3" r="8.14"/><circle cx="1770.2" cy="857.0" r="8.14"/><circle cx="2161.5" cy="813.5" r="8.14"/><circle cx="731.0" cy="579.1" r="8.14"/>
<circle cx="2067.7" cy="784.7" r="8.14"/><circle cx="1270.3" cy="691.1" r="8.14"/><circle cx="2189.1" cy="852.7" r="8.14"/><circle cx="2218.7" cy="734.3" r="8.14"/><circle cx="783.6" cy="861.1" r="8.14"/><circle cx="1494.2" cy="359.5" r="8.14"/>
<circle cx="1705.9" cy="800.6" r="8.14"/><circle cx="1365.6" cy="196.3" r="8.14"/><circle cx="1301.9" cy="781.1" r="8.14"/><circle cx="845.1" cy="847.8" r="8.14"/><circle cx="1369.0" cy="259.0" r="8.14"/><circle cx="473.8" cy="573.7" r="8.14"/>
<circle cx="1319.9" cy="411.2" r="8.14"/><circle cx="1501.3" cy="827.9" r="8.14"/><circle cx="1391.0" cy="613.3" r="8.14"/><circle cx="1300.0" cy="783.1" r="8.14"/><circle cx="764.7" cy="688.7" r="8.14"/><circle cx="1042.9" cy="624.1" r="8.14"/>
<circle cx="838.9" cy="886.4" r="8.14"/><circle cx="1338.4" cy="619.3" r="8.14"/><circle cx="520.3" cy="681.2" r="8.14"/><circle cx="672.2" cy="668.0" r="8.14"/><circle cx="2010.1" cy="724.3" r="8.14"/><circle cx="663.4" cy="859.9" r="8.14"/>
<circle cx="1095.8" cy="334.8" r="8.14"/><circle cx="793.0" cy="707.0" r="8.14"/><circle cx="625.4" cy="670.5" r="8.14"/><circle cx="1167.1" cy="763.3" r="8.14"/><circle cx="1321.5" cy="639.0" r="8.14"/><circle cx="1533.7" cy="190.7" r="8.14"/>
<circle cx="1343.6" cy="831.8" r="8.14"/><circle cx="1920.9" cy="728.4" r="8.14"/><circle cx="1295.6" cy="324.8" r="8.14"/><circle cx="1380.6" cy="870.5" r="8.14"/><circle cx="611.1" cy="837.2" r="8.14"/><circle cx="1303.3" cy="712.3" r="8.14"/>
<circle cx="306.9" cy="621.6" r="8.14"/><circle cx="351.8" cy="625.1" r="8.14"/><circle cx="1881.3" cy="636.1" r="8.14"/><circle cx="1261.4" cy="578.7" r="8.14"/><circle cx="1103.6" cy="786.0" r="8.14"/><circle cx="2067.7" cy="627.2" r="8.14"/>
<circle cx="1448.3" cy="619.5" r="8.14"/><circle cx="2106.2" cy="788.0" r="8.14"/><circle cx="2018.5" cy="874.7" r="8.14"/><circle cx="718.4" cy="861.9" r="8.14"/><circle cx="1235.4" cy="254.4" r="8.14"/><circle cx="2219.4" cy="848.4" r="8.14"/>
<circle cx="1822.8" cy="589.8" r="8.14"/><circle cx="2125.6" cy="570.6" r="8.14"/><circle cx="644.5" cy="609.1" r="8.14"/><circle cx="511.3" cy="808.9" r="8.14"/><circle cx="393.0" cy="743.5" r="8.14"/><circle cx="518.0" cy="640.2" r="8.14"/>
<circle cx="1282.6" cy="646.5" r="8.14"/><circle cx="1324.8" cy="786.3" r="8.14"/><circle cx="516.6" cy="866.7" r="8.14"/><circle cx="2072.9" cy="883.7" r="8.14"/><circle cx="359.5" cy="675.0" r="8.14"/><circle cx="1322.2" cy="732.8" r="8.14"/>
<circle cx="2030.8" cy="875.8" r="8.14"/><circle cx="1190.7" cy="841.2" r="8.14"/><circle cx="1028.0" cy="675.1" r="8.14"/><circle cx="1176.9" cy="885.5" r="8.14"/><circle cx="385.4" cy="752.3" r="8.14"/><circle cx="2096.0" cy="872.4" r="8.14"/>
<circle cx="1392.7" cy="303.8" r="8.14"/><circle cx="687.2" cy="674.1" r="8.14"/><circle cx="1507.5" cy="675.2" r="8.14"/><circle cx="438.4" cy="842.9" r="8.14"/><circle cx="1130.4" cy="440.2" r="8.14"/><circle cx="683.7" cy="569.4" r="8.14"/>
<circle cx="1330.1" cy="362.8" r="8.14"/><circle cx="1487.2" cy="399.3" r="8.14"/><circle cx="491.8" cy="759.5" r="8.14"/><circle cx="1526.8" cy="364.8" r="8.14"/><circle cx="2036.6" cy="674.0" r="8.14"/><circle cx="2185.9" cy="692.2" r="8.14"/>
<circle cx="1307.7" cy="440.0" r="8.14"/><circle cx="1137.7" cy="215.1" r="8.14"/><circle cx="2045.0" cy="829.6" r="8.14"/><circle cx="1408.3" cy="439.1" r="8.14"/><circle cx="463.9" cy="781.1" r="8.14"/><circle cx="2173.7" cy="730.9" r="8.14"/>
<circle cx="2105.2" cy="863.5" r="8.14"/><circle cx="1516.9" cy="191.8" r="8.14"/><circle cx="375.3" cy="843.1" r="8.14"/><circle cx="531.6" cy="608.7" r="8.14"/><circle cx="1007.1" cy="387.9" r="8.14"/><circle cx="1000.5" cy="242.1" r="8.14"/>
<circle cx="1177.3" cy="583.6" r="8.14"/><circle cx="1844.5" cy="791.1" r="8.14"/><circle cx="1886.8" cy="690.3" r="8.14"/><circle cx="1277.5" cy="619.7" r="8.14"/><circle cx="2135.0" cy="884.3" r="8.14"/><circle cx="354.3" cy="779.0" r="8.14"/>
<circle cx="658.9" cy="689.5" r="8.14"/><circle cx="1283.4" cy="789.0" r="8.14"/><circle cx="431.0" cy="817.9" r="8.14"/><circle cx="1380.2" cy="857.1" r="8.14"/><circle cx="1505.4" cy="648.9" r="8.14"/><circle cx="439.2" cy="710.3" r="8.14"/>
<circle cx="1029.5" cy="809.3" r="8.14"/><circle cx="1139.3" cy="840.8" r="8.14"/><circle cx="1474.1" cy="337.8" r="8.14"/><circle cx="2194.8" cy="750.9" r="8.14"/><circle cx="436.2" cy="569.5" r="8.14"/><circle cx="1402.0" cy="685.5" r="8.14"/>
<circle cx="1391.5" cy="355.7" r="8.14"/><circle cx="1012.2" cy="820.1" r="8.14"/><circle cx="1475.7" cy="779.3" r="8.14"/><circle cx="1432.6" cy="643.1" r="8.14"/><circle cx="1221.1" cy="715.7" r="8.14"/><circle cx="297.2" cy="885.3" r="8.14"/>
<circle cx="1875.9" cy="755.4" r="8.14"/><circle cx="468.4" cy="843.1" r="8.14"/><circle cx="844.6" cy="580.9" r="8.14"/><circle cx="375.7" cy="851.4" r="8.14"/><circle cx="1119.2" cy="718.5" r="8.14"/><circle cx="351.9" cy="605.6" r="8.14"/>
<circle cx="548.6" cy="569.2" r="8.14"/><circle cx="1350.5" cy="808.3" r="8.14"/><circle cx="1362.1" cy="805.3" r="8.14"/><circle cx="1809.3" cy="777.7" r="8.14"/><circle cx="560.0" cy="739.3" r="8.14"/><circle cx="2029.0" cy="669.6" r="8.14"/>
<circle cx="1441.2" cy="799.9" r="8.14"/><circle cx="1243.5" cy="751.2" r="8.14"/><circle cx="1933.1" cy="617.0" r="8.14"/><circle cx="1413.0" cy="842.4" r="8.14"/><circle cx="628.3" cy="877.9" r="8.14"/><circle cx="1144.3" cy="462.0" r="8.14"/>
<circle cx="1020.0" cy="371.7" r="8.14"/><circle cx="588.2" cy="884.4" r="8.14"/><circle cx="1817.8" cy="640.8" r="8.14"/><circle cx="1403.3" cy="390.4" r="8.14"/><circle cx="1705.2" cy="789.0" r="8.14"/><circle cx="1299.0" cy="361.6" r="8.14"/>
<circle cx="1149.5" cy="606.3" r="8.14"/><circle cx="1411.6" cy="702.9" r="8.14"/><circle cx="787.5" cy="821.0" r="8.14"/><circle cx="605.5" cy="663.9" r="8.14"/><circle cx="1733.9" cy="746.1" r="8.14"/><circle cx="2165.4" cy="790.1" r="8.14"/>
<circle cx="1532.0" cy="871.8" r="8.14"/><circle cx="787.4" cy="771.6" r="8.14"/><circle cx="440.1" cy="580.1" r="8.14"/><circle cx="689.0" cy="722.1" r="8.14"/><circle cx="1381.5" cy="705.9" r="8.14"/><circle cx="1234.9" cy="462.2" r="8.14"/>
<circle cx="1443.1" cy="289.9" r="8.14"/><circle cx="354.2" cy="693.1" r="8.14"/><circle cx="1094.9" cy="733.0" r="8.14"/><circle cx="2108.1" cy="751.0" r="8.14"/><circle cx="1403.8" cy="286.9" r="8.14"/><circle cx="706.1" cy="575.0" r="8.14"/>
<circle cx="822.2" cy="685.3" r="8.14"/><circle cx="1168.2" cy="343.0" r="8.14"/><circle cx="1867.6" cy="643.2" r="8.14"/><circle cx="2236.2" cy="634.3" r="8.14"/><circle cx="708.2" cy="642.2" r="8.14"/><circle cx="1221.9" cy="778.4" r="8.14"/>
<circle cx="811.2" cy="702.0" r="8.14"/><circle cx="1300.7" cy="461.3" r="8.14"/><circle cx="1447.0" cy="579.5" r="8.14"/><circle cx="1936.8" cy="862.3" r="8.14"/><circle cx="837.5" cy="574.3" r="8.14"/><circle cx="1448.4" cy="723.1" r="8.14"/>
<circle cx="1259.8" cy="274.1" r="8.14"/><circle cx="689.1" cy="572.1" r="8.14"/><circle cx="1765.4" cy="621.1" r="8.14"/><circle cx="1505.2" cy="823.3" r="8.14"/><circle cx="1483.8" cy="777.5" r="8.14"/><circle cx="1697.8" cy="734.8" r="8.14"/>
<circle cx="2017.6" cy="680.2" r="8.14"/><circle cx="825.9" cy="883.6" r="8.14"/><circle cx="1744.6" cy="841.2" r="8.14"/><circle cx="1760.8" cy="782.9" r="8.14"/><circle cx="1111.9" cy="860.2" r="8.14"/><circle cx="397.4" cy="571.3" r="8.14"/>
<circle cx="1128.2" cy="632.6" r="8.14"/><circle cx="1775.1" cy="760.4" r="8.14"/><circle cx="1059.7" cy="246.2" r="8.14"/><circle cx="1360.1" cy="274.6" r="8.14"/><circle cx="1138.1" cy="640.1" r="8.14"/><circle cx="1072.5" cy="486.2" r="8.14"/>
<circle cx="1469.4" cy="438.9" r="8.14"/><circle cx="667.3" cy="729.6" r="8.14"/><circle cx="1463.3" cy="623.8" r="8.14"/><circle cx="1747.6" cy="684.5" r="8.14"/><circle cx="1769.2" cy="887.3" r="8.14"/><circle cx="2158.9" cy="781.1" r="8.14"/>
<circle cx="440.6" cy="641.6" r="8.14"/><circle cx="1115.9" cy="693.1" r="8.14"/><circle cx="1868.4" cy="610.4" r="8.14"/><circle cx="1515.9" cy="270.0" r="8.14"/><circle cx="1743.8" cy="813.9" r="8.14"/><circle cx="534.9" cy="787.8" r="8.14"/>
<circle cx="647.6" cy="599.6" r="8.14"/><circle cx="443.3" cy="706.9" r="8.14"/><circle cx="1100.6" cy="788.3" r="8.14"/><circle cx="1381.2" cy="807.3" r="8.14"/><circle cx="2142.5" cy="816.6" r="8.14"/><circle cx="1815.1" cy="859.3" r="8.14"/>
<circle cx="1480.7" cy="287.1" r="8.14"/><circle cx="1096.9" cy="235.3" r="8.14"/><circle cx="1861.5" cy="793.5" r="8.14"/><circle cx="2186.3" cy="647.5" r="8.14"/><circle cx="2129.7" cy="701.4" r="8.14"/><circle cx="1860.7" cy="846.7" r="8.14"/>
<circle cx="2202.2" cy="574.3" r="8.14"/><circle cx="477.1" cy="583.0" r="8.14"/><circle cx="2156.3" cy="599.8" r="8.14"/><circle cx="1866.9" cy="800.2" r="8.14"/><circle cx="688.7" cy="747.7" r="8.14"/><circle cx="1341.1" cy="587.7" r="8.14"/>
<circle cx="1697.2" cy="628.5" r="8.14"/><circle cx="1352.2" cy="588.7" r="8.14"/><circle cx="440.3" cy="845.5" r="8.14"/><circle cx="1397.9" cy="243.6" r="8.14"/><circle cx="1338.8" cy="818.4" r="8.14"/><circle cx="764.1" cy="851.5" r="8.14"/>
<circle cx="1132.0" cy="656.3" r="8.14"/><circle cx="1326.3" cy="607.5" r="8.14"/><circle cx="601.6" cy="623.1" r="8.14"/><circle cx="1001.1" cy="285.7" r="8.14"/><circle cx="745.6" cy="809.1" r="8.14"/><circle cx="1765.8" cy="888.1" r="8.14"/>
<circle cx="1497.8" cy="656.5" r="8.14"/><circle cx="1421.9" cy="570.8" r="8.14"/><circle cx="577.0" cy="782.8" r="8.14"/><circle cx="458.9" cy="623.6" r="8.14"/><circle cx="593.8" cy="643.7" r="8.14"/><circle cx="2210.4" cy="869.4" r="8.14"/>
<circle cx="388.3" cy="796.3" r="8.14"/><circle cx="630.2" cy="823.1" r="8.14"/><circle cx="1528.3" cy="404.7" r="8.14"/><circle cx="1397.4" cy="326.9" r="8.14"/><circle cx="1235.7" cy="451.3" r="8.14"/><circle cx="326.5" cy="864.1" r="8.14"/>
<circle cx="1890.7" cy="575.4" r="8.14"/><circle cx="1300.6" cy="648.3" r="8.14"/><circle cx="686.5" cy="825.2" r="8.14"/><circle cx="1000.3" cy="442.5" r="8.14"/><circle cx="754.7" cy="759.4" r="8.14"/><circle cx="1390.9" cy="869.1" r="8.14"/>
<circle cx="1874.2" cy="738.4" r="8.14"/><circle cx="1278.3" cy="443.8" r="8.14"/><circle cx="1008.9" cy="188.6" r="8.14"/><circle cx="1754.5" cy="573.1" r="8.14"/><circle cx="801.4" cy="711.4" r="8.14"/><circle cx="1795.6" cy="653.8" r="8.14"/>
<circle cx="460.7" cy="739.9" r="8.14"/><circle cx="1048.6" cy="801.8" r="8.14"/><circle cx="1454.3" cy="298.4" r="8.14"/><circle cx="2195.5" cy="657.4" r="8.14"/><circle cx="1326.4" cy="581.0" r="8.14"/><circle cx="1517.6" cy="391.7" r="8.14"/>
<circle cx="1287.2" cy="860.4" r="8.14"/><circle cx="2149.9" cy="709.4" r="8.14"/><circle cx="1063.4" cy="676.4" r="8.14"/><circle cx="1475.0" cy="825.7" r="8.14"/><circle cx="411.7" cy="798.5" r="8.14"/><circle cx="393.5" cy="655.9" r="8.14"/>
<circle cx="1539.4" cy="278.7" r="8.14"/><circle cx="784.0" cy="742.2" r="8.14"/><circle cx="580.6" cy="606.4" r="8.14"/><circle cx="1900.9" cy="790.7" r="8.14"/><circle cx="1289.1" cy="878.3" r="8.14"/><circle cx="1095.1" cy="620.8" r="8.14"/>
<circle cx="1421.2" cy="798.0" r="8.14"/><circle cx="1937.9" cy="659.6" r="8.14"/><circle cx="472.7" cy="822.0" r="8.14"/><circle cx="1521.2" cy="401.3" r="8.14"/><circle cx="1145.1" cy="593.1" r="8.14"/><circle cx="2220.1" cy="872.1" r="8.14"/>
<circle cx="1339.6" cy="671.3" r="8.14"/><circle cx="1710.4" cy="792.7" r="8.14"/><circle cx="999.3" cy="646.7" r="8.14"/><circle cx="1461.9" cy="582.6" r="8.14"/><circle cx="619.2" cy="743.9" r="8.14"/><circle cx="1127.2" cy="672.3" r="8.14"/>
<circle cx="2173.6" cy="686.9" r="8.14"/><circle cx="738.2" cy="770.2" r="8.14"/><circle cx="2025.4" cy="692.1" r="8.14"/><circle cx="770.1" cy="867.0" r="8.14"/><circle cx="1698.0" cy="814.9" r="8.14"/><circle cx="1072.7" cy="674.5" r="8.14"/>
<circle cx="1889.5" cy="622.3" r="8.14"/><circle cx="705.1" cy="747.1" r="8.14"/><circle cx="695.7" cy="572.0" r="8.14"/><circle cx="1396.5" cy="241.6" r="8.14"/><circle cx="842.0" cy="865.2" r="8.14"/><circle cx="1976.6" cy="876.9" r="8.14"/>
<circle cx="1447.7" cy="710.8" r="8.14"/><circle cx="993.9" cy="235.1" r="8.14"/><circle cx="1522.3" cy="845.7" r="8.14"/><circle cx="1113.9" cy="752.7" r="8.14"/><circle cx="444.6" cy="571.5" r="8.14"/><circle cx="1344.4" cy="630.9" r="8.14"/>
<circle cx="742.7" cy="781.4" r="8.14"/><circle cx="1096.9" cy="862.5" r="8.14"/><circle cx="1038.1" cy="301.6" r="8.14"/><circle cx="1150.1" cy="262.9" r="8.14"/><circle cx="688.2" cy="764.9" r="8.14"/><circle cx="2222.6" cy="818.2" r="8.14"/>
<circle cx="1002.7" cy="267.2" r="8.14"/><circle cx="1355.4" cy="189.9" r="8.14"/><circle cx="1934.6" cy="613.7" r="8.14"/><circle cx="2042.8" cy="645.6" r="8.14"/><circle cx="807.9" cy="767.8" r="8.14"/><circle cx="626.3" cy="802.1" r="8.14"/>
<circle cx="1419.3" cy="475.6" r="8.14"/><circle cx="1803.8" cy="646.3" r="8.14"/><circle cx="1447.9" cy="233.0" r="8.14"/><circle cx="294.2" cy="713.2" r="8.14"/><circle cx="514.1" cy="784.9" r="8.14"/><circle cx="821.3" cy="572.6" r="8.14"/>
<circle cx="1377.6" cy="576.7" r="8.14"/><circle cx="467.7" cy="871.2" r="8.14"/><circle cx="757.5" cy="838.3" r="8.14"/><circle cx="1405.6" cy="302.2" r="8.14"/><circle cx="1785.1" cy="778.8" r="8.14"/><circle cx="1118.7" cy="739.6" r="8.14"/>
<circle cx="654.0" cy="835.2" r="8.14"/><circle cx="2148.5" cy="820.3" r="8.14"/><circle cx="1340.2" cy="175.0" r="8.14"/><circle cx="1052.6" cy="174.2" r="8.14"/><circle cx="693.3" cy="747.5" r="8.14"/><circle cx="997.2" cy="617.7" r="8.14"/>
<circle cx="615.6" cy="773.9" r="8.14"/><circle cx="1396.3" cy="578.4" r="8.14"/><circle cx="1793.6" cy="581.0" r="8.14"/><circle cx="820.5" cy="885.0" r="8.14"/><circle cx="1046.9" cy="476.1" r="8.14"/><circle cx="1540.1" cy="694.2" r="8.14"/>
<circle cx="1077.9" cy="870.4" r="8.14"/><circle cx="1358.0" cy="717.8" r="8.14"/><circle cx="1292.0" cy="836.8" r="8.14"/><circle cx="1710.8" cy="653.1" r="8.14"/><circle cx="1712.1" cy="585.3" r="8.14"/><circle cx="1790.3" cy="634.3" r="8.14"/>
<circle cx="1397.2" cy="865.8" r="8.14"/><circle cx="2193.7" cy="664.2" r="8.14"/><circle cx="733.9" cy="642.0" r="8.14"/><circle cx="1050.7" cy="756.5" r="8.14"/><circle cx="513.7" cy="690.2" r="8.14"/><circle cx="353.3" cy="813.6" r="8.14"/>
<circle cx="1851.5" cy="577.6" r="8.14"/><circle cx="1514.5" cy="347.6" r="8.14"/><circle cx="420.3" cy="775.0" r="8.14"/><circle cx="453.1" cy="659.4" r="8.14"/><circle cx="1171.4" cy="574.9" r="8.14"/><circle cx="1164.5" cy="193.0" r="8.14"/>
<circle cx="2085.1" cy="745.8" r="8.14"/><circle cx="1430.4" cy="775.3" r="8.14"/><circle cx="1816.3" cy="870.9" r="8.14"/><circle cx="1231.8" cy="838.9" r="8.14"/><circle cx="1392.3" cy="414.5" r="8.14"/><circle cx="2104.2" cy="578.3" r="8.14"/>
<circle cx="2136.1" cy="663.5" r="8.14"/><circle cx="1328.3" cy="790.1" r="8.14"/><circle cx="587.9" cy="755.1" r="8.14"/><circle cx="451.9" cy="857.1" r="8.14"/><circle cx="517.9" cy="775.1" r="8.14"/><circle cx="389.1" cy="720.5" r="8.14"/>
<circle cx="1203.1" cy="751.8" r="8.14"/><circle cx="1122.1" cy="428.9" r="8.14"/><circle cx="1483.8" cy="262.6" r="8.14"/><circle cx="300.5" cy="867.2" r="8.14"/><circle cx="1102.6" cy="422.8" r="8.14"/><circle cx="1451.8" cy="847.3" r="8.14"/>
<circle cx="1267.9" cy="252.3" r="8.14"/><circle cx="1024.1" cy="170.7" r="8.14"/><circle cx="658.6" cy="620.5" r="8.14"/><circle cx="1236.6" cy="482.9" r="8.14"/><circle cx="2124.7" cy="764.7" r="8.14"/><circle cx="336.2" cy="692.7" r="8.14"/>
<circle cx="1478.1" cy="213.3" r="8.14"/><circle cx="1023.0" cy="609.4" r="8.14"/><circle cx="1272.1" cy="664.1" r="8.14"/><circle cx="515.4" cy="654.5" r="8.14"/><circle cx="364.7" cy="626.2" r="8.14"/><circle cx="782.7" cy="755.8" r="8.14"/>
<circle cx="1327.4" cy="383.1" r="8.14"/><circle cx="414.4" cy="784.0" r="8.14"/><circle cx="1407.2" cy="761.2" r="8.14"/><circle cx="1484.2" cy="756.0" r="8.14"/><circle cx="1120.5" cy="696.1" r="8.14"/><circle cx="1081.4" cy="862.3" r="8.14"/>
<circle cx="1000.5" cy="610.8" r="8.14"/><circle cx="1877.2" cy="643.0" r="8.14"/><circle cx="1784.4" cy="688.2" r="8.14"/><circle cx="1219.6" cy="868.2" r="8.14"/><circle cx="1962.2" cy="779.2" r="8.14"/><circle cx="373.0" cy="671.4" r="8.14"/>
<circle cx="1709.0" cy="856.7" r="8.14"/><circle cx="1250.8" cy="428.6" r="8.14"/><circle cx="1093.5" cy="721.1" r="8.14"/><circle cx="1069.6" cy="680.8" r="8.14"/><circle cx="1939.4" cy="744.1" r="8.14"/><circle cx="1373.0" cy="448.9" r="8.14"/>
<circle cx="1078.3" cy="827.4" r="8.14"/><circle cx="1281.9" cy="264.7" r="8.14"/><circle cx="2151.7" cy="825.8" r="8.14"/><circle cx="699.2" cy="814.7" r="8.14"/><circle cx="324.0" cy="877.0" r="8.14"/><circle cx="1862.1" cy="737.4" r="8.14"/>
<circle cx="1029.0" cy="673.1" r="8.14"/><circle cx="1006.3" cy="365.7" r="8.14"/><circle cx="1506.6" cy="178.2" r="8.14"/><circle cx="1077.4" cy="391.5" r="8.14"/><circle cx="1206.8" cy="197.9" r="8.14"/><circle cx="1958.1" cy="649.5" r="8.14"/>
<circle cx="807.4" cy="829.1" r="8.14"/><circle cx="707.9" cy="795.1" r="8.14"/><circle cx="357.2" cy="832.6" r="8.14"/><circle cx="836.3" cy="857.2" r="8.14"/><circle cx="814.3" cy="685.2" r="8.14"/><circle cx="655.3" cy="690.9" r="8.14"/>
<circle cx="1009.9" cy="298.0" r="8.14"/><circle cx="2219.8" cy="728.6" r="8.14"/><circle cx="816.7" cy="687.1" r="8.14"/><circle cx="2220.6" cy="571.2" r="8.14"/><circle cx="1191.6" cy="773.6" r="8.14"/><circle cx="2079.7" cy="716.5" r="8.14"/>
<circle cx="1355.8" cy="864.1" r="8.14"/><circle cx="1117.8" cy="605.8" r="8.14"/><circle cx="292.3" cy="685.9" r="8.14"/><circle cx="581.8" cy="823.7" r="8.14"/><circle cx="353.4" cy="733.5" r="8.14"/><circle cx="481.0" cy="839.1" r="8.14"/>
<circle cx="1307.1" cy="851.5" r="8.14"/><circle cx="1514.1" cy="210.8" r="8.14"/><circle cx="1386.1" cy="215.4" r="8.14"/><circle cx="808.6" cy="685.5" r="8.14"/><circle cx="1382.1" cy="339.8" r="8.14"/><circle cx="1390.7" cy="181.8" r="8.14"/>
<circle cx="1256.5" cy="636.5" r="8.14"/><circle cx="1498.8" cy="193.6" r="8.14"/><circle cx="1205.0" cy="469.2" r="8.14"/><circle cx="1201.9" cy="824.9" r="8.14"/><circle cx="1511.3" cy="462.1" r="8.14"/><circle cx="541.6" cy="606.2" r="8.14"/>
<circle cx="657.4" cy="747.8" r="8.14"/><circle cx="703.4" cy="736.4" r="8.14"/><circle cx="1195.4" cy="171.6" r="8.14"/><circle cx="1259.6" cy="574.9" r="8.14"/><circle cx="1347.9" cy="408.4" r="8.14"/><circle cx="742.1" cy="824.1" r="8.14"/>
<circle cx="1875.0" cy="663.2" r="8.14"/><circle cx="406.3" cy="745.2" r="8.14"/><circle cx="1412.0" cy="769.0" r="8.14"/><circle cx="593.9" cy="780.5" r="8.14"/><circle cx="653.5" cy="877.2" r="8.14"/><circle cx="2056.5" cy="689.5" r="8.14"/>
<circle cx="820.8" cy="707.8" r="8.14"/><circle cx="1322.6" cy="608.9" r="8.14"/><circle cx="750.3" cy="844.4" r="8.14"/><circle cx="468.5" cy="699.9" r="8.14"/><circle cx="1053.4" cy="765.5" r="8.14"/><circle cx="1327.9" cy="743.5" r="8.14"/>
<circle cx="1109.3" cy="450.2" r="8.14"/><circle cx="1065.3" cy="753.8" r="8.14"/><circle cx="1276.8" cy="191.5" r="8.14"/><circle cx="638.3" cy="622.8" r="8.14"/><circle cx="1148.6" cy="877.5" r="8.14"/><circle cx="1217.9" cy="313.0" r="8.14"/>
<circle cx="1909.8" cy="667.8" r="8.14"/><circle cx="1335.7" cy="336.3" r="8.14"/><circle cx="1415.0" cy="414.4" r="8.14"/><circle cx="1708.7" cy="746.5" r="8.14"/><circle cx="553.2" cy="780.7" r="8.14"/><circle cx="1812.6" cy="870.4" r="8.14"/>
<circle cx="482.1" cy="795.8" r="8.14"/><circle cx="321.9" cy="806.8" r="8.14"/><circle cx="439.5" cy="577.6" r="8.14"/><circle cx="1856.5" cy="596.5" r="8.14"/><circle cx="1406.4" cy="571.0" r="8.14"/><circle cx="597.4" cy="641.7" r="8.14"/>
<circle cx="574.1" cy="750.1" r="8.14"/><circle cx="1460.6" cy="855.7" r="8.14"/><circle cx="989.5" cy="839.2" r="8.14"/><circle cx="1207.5" cy="357.3" r="8.14"/><circle cx="1462.5" cy="404.0" r="8.14"/><circle cx="1532.9" cy="414.7" r="8.14"/>
<circle cx="1704.7" cy="611.3" r="8.14"/><circle cx="1900.9" cy="821.8" r="8.14"/><circle cx="1402.5" cy="583.7" r="8.14"/><circle cx="647.5" cy="795.1" r="8.14"/><circle cx="1264.3" cy="240.2" r="8.14"/><circle cx="1486.9" cy="372.4" r="8.14"/>
<circle cx="551.6" cy="601.1" r="8.14"/><circle cx="294.1" cy="614.9" r="8.14"/><circle cx="1040.2" cy="817.0" r="8.14"/><circle cx="679.2" cy="629.3" r="8.14"/><circle cx="1084.5" cy="855.4" r="8.14"/><circle cx="790.7" cy="590.1" r="8.14"/>
<circle cx="1872.3" cy="713.9" r="8.14"/><circle cx="534.0" cy="645.7" r="8.14"/><circle cx="419.2" cy="672.8" r="8.14"/><circle cx="1355.9" cy="785.4" r="8.14"/><circle cx="1083.9" cy="744.2" r="8.14"/><circle cx="1340.0" cy="392.2" r="8.14"/>
<circle cx="1316.6" cy="817.2" r="8.14"/><circle cx="1229.7" cy="610.3" r="8.14"/><circle cx="681.0" cy="604.3" r="8.14"/><circle cx="640.7" cy="675.9" r="8.14"/><circle cx="454.5" cy="807.1" r="8.14"/><circle cx="1824.0" cy="656.6" r="8.14"/>
<circle cx="2117.5" cy="604.3" r="8.14"/><circle cx="716.5" cy="758.3" r="8.14"/><circle cx="1451.3" cy="723.6" r="8.14"/><circle cx="1110.4" cy="704.9" r="8.14"/><circle cx="743.3" cy="658.9" r="8.14"/><circle cx="368.4" cy="768.4" r="8.14"/>
<circle cx="1497.1" cy="620.5" r="8.14"/><circle cx="1499.9" cy="410.7" r="8.14"/><circle cx="1520.3" cy="685.7" r="8.14"/><circle cx="1852.8" cy="691.4" r="8.14"/><circle cx="1705.8" cy="617.8" r="8.14"/><circle cx="718.6" cy="700.4" r="8.14"/>
<circle cx="1275.4" cy="887.1" r="8.14"/><circle cx="1070.0" cy="697.0" r="8.14"/><circle cx="1972.5" cy="880.6" r="8.14"/><circle cx="1851.6" cy="642.1" r="8.14"/><circle cx="1708.4" cy="867.5" r="8.14"/><circle cx="1977.9" cy="622.1" r="8.14"/>
<circle cx="1754.8" cy="787.7" r="8.14"/><circle cx="1017.1" cy="441.7" r="8.14"/><circle cx="558.5" cy="778.7" r="8.14"/><circle cx="1221.6" cy="874.6" r="8.14"/><circle cx="503.7" cy="759.9" r="8.14"/><circle cx="309.4" cy="781.1" r="8.14"/>
<circle cx="2129.2" cy="866.8" r="8.14"/><circle cx="1328.4" cy="837.6" r="8.14"/><circle cx="1162.3" cy="648.8" r="8.14"/><circle cx="1453.1" cy="727.6" r="8.14"/><circle cx="1728.9" cy="703.0" r="8.14"/><circle cx="840.1" cy="605.2" r="8.14"/>
<circle cx="624.5" cy="767.1" r="8.14"/><circle cx="1501.0" cy="454.2" r="8.14"/><circle cx="1513.5" cy="704.1" r="8.14"/><circle cx="1392.3" cy="645.5" r="8.14"/><circle cx="1436.1" cy="277.1" r="8.14"/><circle cx="493.6" cy="660.8" r="8.14"/>
<circle cx="382.0" cy="631.3" r="8.14"/><circle cx="1443.9" cy="812.8" r="8.14"/><circle cx="1372.5" cy="676.9" r="8.14"/><circle cx="695.5" cy="853.0" r="8.14"/><circle cx="2170.3" cy="720.4" r="8.14"/><circle cx="609.7" cy="855.3" r="8.14"/>
<circle cx="448.1" cy="643.0" r="8.14"/><circle cx="1107.1" cy="883.1" r="8.14"/><circle cx="295.7" cy="815.7" r="8.14"/><circle cx="1109.1" cy="770.9" r="8.14"/><circle cx="993.1" cy="216.6" r="8.14"/><circle cx="682.7" cy="742.6" r="8.14"/>
<circle cx="1368.1" cy="575.8" r="8.14"/><circle cx="1115.5" cy="401.4" r="8.14"/><circle cx="2036.9" cy="710.7" r="8.14"/><circle cx="790.6" cy="741.3" r="8.14"/><circle cx="2236.4" cy="762.1" r="8.14"/><circle cx="1227.0" cy="224.5" r="8.14"/>
<circle cx="496.4" cy="669.8" r="8.14"/><circle cx="998.5" cy="748.6" r="8.14"/><circle cx="1502.7" cy="851.0" r="8.14"/><circle cx="1243.8" cy="406.7" r="8.14"/><circle cx="1338.3" cy="784.8" r="8.14"/><circle cx="1715.4" cy="691.1" r="8.14"/>
<circle cx="837.0" cy="636.8" r="8.14"/><circle cx="1324.1" cy="257.8" r="8.14"/><circle cx="1229.8" cy="846.0" r="8.14"/><circle cx="1959.8" cy="648.6" r="8.14"/><circle cx="1971.4" cy="613.4" r="8.14"/><circle cx="572.9" cy="757.5" r="8.14"/>
<circle cx="1686.2" cy="700.9" r="8.14"/><circle cx="2168.3" cy="600.5" r="8.14"/><circle cx="1230.2" cy="827.7" r="8.14"/><circle cx="1525.6" cy="464.2" r="8.14"/><circle cx="1851.6" cy="808.4" r="8.14"/><circle cx="612.8" cy="779.3" r="8.14"/>
<circle cx="1157.4" cy="360.5" r="8.14"/><circle cx="1426.2" cy="256.9" r="8.14"/><circle cx="1480.2" cy="327.3" r="8.14"/><circle cx="752.9" cy="727.0" r="8.14"/><circle cx="2057.9" cy="857.2" r="8.14"/><circle cx="1311.5" cy="652.8" r="8.14"/>
<circle cx="1424.1" cy="365.1" r="8.14"/><circle cx="2197.4" cy="589.8" r="8.14"/><circle cx="1048.0" cy="778.4" r="8.14"/><circle cx="1775.9" cy="644.6" r="8.14"/><circle cx="410.1" cy="710.0" r="8.14"/><circle cx="1389.7" cy="630.8" r="8.14"/>
<circle cx="332.2" cy="741.7" r="8.14"/><circle cx="995.7" cy="589.0" r="8.14"/><circle cx="636.2" cy="692.0" r="8.14"/><circle cx="1109.3" cy="467.7" r="8.14"/><circle cx="1469.5" cy="288.4" r="8.14"/><circle cx="1039.8" cy="451.0" r="8.14"/>
<circle cx="827.8" cy="602.4" r="8.14"/><circle cx="1369.5" cy="447.6" r="8.14"/><circle cx="2170.6" cy="689.4" r="8.14"/><circle cx="1109.5" cy="589.0" r="8.14"/><circle cx="1375.2" cy="361.0" r="8.14"/><circle cx="806.3" cy="678.1" r="8.14"/>
<circle cx="378.4" cy="575.4" r="8.14"/><circle cx="1084.2" cy="460.3" r="8.14"/><circle cx="1279.1" cy="678.1" r="8.14"/><circle cx="1711.9" cy="589.5" r="8.14"/><circle cx="674.5" cy="796.4" r="8.14"/><circle cx="1106.4" cy="578.3" r="8.14"/>
<circle cx="2208.5" cy="804.1" r="8.14"/><circle cx="1471.3" cy="722.3" r="8.14"/><circle cx="1479.3" cy="833.0" r="8.14"/><circle cx="765.2" cy="568.7" r="8.14"/><circle cx="1093.4" cy="656.0" r="8.14"/><circle cx="712.5" cy="872.2" r="8.14"/>
<circle cx="1395.2" cy="700.2" r="8.14"/><circle cx="1205.5" cy="174.2" r="8.14"/><circle cx="1159.8" cy="336.1" r="8.14"/><circle cx="1174.4" cy="877.8" r="8.14"/><circle cx="2139.9" cy="743.2" r="8.14"/><circle cx="408.1" cy="627.8" r="8.14"/>
<circle cx="1351.0" cy="240.7" r="8.14"/><circle cx="1232.5" cy="819.4" r="8.14"/><circle cx="1712.3" cy="808.0" r="8.14"/><circle cx="1081.2" cy="234.5" r="8.14"/><circle cx="1360.2" cy="352.0" r="8.14"/><circle cx="442.7" cy="850.7" r="8.14"/>
<circle cx="2089.0" cy="686.8" r="8.14"/><circle cx="1810.1" cy="765.8" r="8.14"/><circle cx="391.7" cy="661.5" r="8.14"/><circle cx="1730.0" cy="585.7" r="8.14"/><circle cx="771.7" cy="790.0" r="8.14"/><circle cx="471.2" cy="868.0" r="8.14"/>
<circle cx="688.6" cy="692.1" r="8.14"/><circle cx="724.4" cy="737.8" r="8.14"/><circle cx="1062.6" cy="721.2" r="8.14"/><circle cx="453.9" cy="624.8" r="8.14"/><circle cx="776.5" cy="830.8" r="8.14"/><circle cx="801.3" cy="746.8" r="8.14"/>
<circle cx="693.7" cy="720.0" r="8.14"/><circle cx="416.6" cy="715.6" r="8.14"/><circle cx="536.5" cy="663.1" r="8.14"/><circle cx="2137.4" cy="633.8" r="8.14"/><circle cx="633.5" cy="663.1" r="8.14"/><circle cx="347.2" cy="865.8" r="8.14"/>
<circle cx="462.6" cy="693.6" r="8.14"/><circle cx="1100.9" cy="607.5" r="8.14"/><circle cx="1007.1" cy="389.2" r="8.14"/><circle cx="383.9" cy="788.9" r="8.14"/><circle cx="1051.3" cy="671.7" r="8.14"/><circle cx="1109.9" cy="685.2" r="8.14"/>
<circle cx="491.6" cy="821.1" r="8.14"/><circle cx="592.3" cy="606.2" r="8.14"/><circle cx="598.3" cy="732.4" r="8.14"/><circle cx="300.3" cy="841.3" r="8.14"/><circle cx="1191.2" cy="656.9" r="8.14"/><circle cx="506.6" cy="576.8" r="8.14"/>
<circle cx="312.1" cy="621.0" r="8.14"/><circle cx="1092.3" cy="612.7" r="8.14"/><circle cx="1314.5" cy="336.6" r="8.14"/><circle cx="1989.0" cy="844.3" r="8.14"/><circle cx="1292.7" cy="168.2" r="8.14"/><circle cx="1018.9" cy="738.9" r="8.14"/>
<circle cx="1316.6" cy="308.6" r="8.14"/><circle cx="1023.0" cy="590.1" r="8.14"/><circle cx="1255.0" cy="316.7" r="8.14"/><circle cx="1302.1" cy="615.7" r="8.14"/><circle cx="1182.7" cy="322.5" r="8.14"/><circle cx="1028.1" cy="459.1" r="8.14"/>
<circle cx="1795.8" cy="885.5" r="8.14"/><circle cx="346.8" cy="775.2" r="8.14"/><circle cx="353.2" cy="827.0" r="8.14"/><circle cx="1927.4" cy="760.9" r="8.14"/><circle cx="1413.7" cy="332.1" r="8.14"/><circle cx="2140.3" cy="823.2" r="8.14"/>
<circle cx="1262.0" cy="868.0" r="8.14"/><circle cx="1927.1" cy="752.3" r="8.14"/><circle cx="1220.1" cy="377.6" r="8.14"/><circle cx="2028.3" cy="768.2" r="8.14"/><circle cx="560.9" cy="774.5" r="8.14"/><circle cx="1324.9" cy="654.4" r="8.14"/>
<circle cx="320.8" cy="750.2" r="8.14"/><circle cx="1426.9" cy="211.5" r="8.14"/><circle cx="647.6" cy="794.7" r="8.14"/><circle cx="1844.7" cy="665.6" r="8.14"/><circle cx="475.5" cy="811.7" r="8.14"/><circle cx="391.8" cy="620.7" r="8.14"/>
<circle cx="389.5" cy="862.6" r="8.14"/><circle cx="1197.4" cy="789.2" r="8.14"/><circle cx="1960.5" cy="569.3" r="8.14"/><circle cx="670.2" cy="798.7" r="8.14"/><circle cx="786.9" cy="581.5" r="8.14"/><circle cx="1718.5" cy="667.7" r="8.14"/>
<circle cx="683.1" cy="738.2" r="8.14"/><circle cx="1090.5" cy="742.3" r="8.14"/><circle cx="691.6" cy="682.6" r="8.14"/><circle cx="1365.7" cy="435.2" r="8.14"/><circle cx="1226.2" cy="433.6" r="8.14"/><circle cx="1169.9" cy="439.1" r="8.14"/>
<circle cx="1076.1" cy="799.5" r="8.14"/><circle cx="1847.8" cy="720.8" r="8.14"/><circle cx="1201.0" cy="703.9" r="8.14"/><circle cx="1128.3" cy="834.5" r="8.14"/><circle cx="1223.7" cy="192.7" r="8.14"/><circle cx="537.4" cy="674.9" r="8.14"/>
<circle cx="1036.2" cy="819.3" r="8.14"/><circle cx="1760.6" cy="614.9" r="8.14"/><circle cx="1800.9" cy="695.6" r="8.14"/><circle cx="1865.4" cy="756.2" r="8.14"/><circle cx="1411.4" cy="361.6" r="8.14"/><circle cx="2208.0" cy="667.0" r="8.14"/>
<circle cx="702.2" cy="629.6" r="8.14"/><circle cx="1478.8" cy="645.6" r="8.14"/><circle cx="1145.5" cy="749.1" r="8.14"/><circle cx="1394.9" cy="847.4" r="8.14"/><circle cx="1718.9" cy="617.4" r="8.14"/><circle cx="420.3" cy="791.0" r="8.14"/>
<circle cx="418.2" cy="696.9" r="8.14"/><circle cx="1854.3" cy="802.1" r="8.14"/><circle cx="1750.4" cy="767.2" r="8.14"/><circle cx="1802.8" cy="704.8" r="8.14"/><circle cx="301.4" cy="579.4" r="8.14"/><circle cx="1101.6" cy="193.8" r="8.14"/>
<circle cx="1215.9" cy="706.0" r="8.14"/><circle cx="1421.9" cy="727.8" r="8.14"/><circle cx="1732.4" cy="630.1" r="8.14"/><circle cx="491.2" cy="663.3" r="8.14"/><circle cx="500.0" cy="819.8" r="8.14"/><circle cx="515.2" cy="827.3" r="8.14"/>
<circle cx="1535.7" cy="732.6" r="8.14"/><circle cx="2214.7" cy="847.0" r="8.14"/><circle cx="1473.9" cy="867.8" r="8.14"/><circle cx="2021.3" cy="599.0" r="8.14"/><circle cx="1167.9" cy="740.1" r="8.14"/><circle cx="360.9" cy="731.7" r="8.14"/>
<circle cx="1001.8" cy="417.9" r="8.14"/><circle cx="561.8" cy="709.9" r="8.14"/><circle cx="1236.2" cy="742.2" r="8.14"/><circle cx="611.3" cy="745.2" r="8.14"/><circle cx="1860.6" cy="844.3" r="8.14"/><circle cx="1193.8" cy="736.0" r="8.14"/>
<circle cx="584.1" cy="794.0" r="8.14"/><circle cx="1148.2" cy="611.1" r="8.14"/><circle cx="2126.1" cy="721.3" r="8.14"/><circle cx="1852.9" cy="739.7" r="8.14"/><circle cx="2022.1" cy="612.5" r="8.14"/><circle cx="388.8" cy="712.1" r="8.14"/>
<circle cx="1519.2" cy="207.5" r="8.14"/><circle cx="1024.9" cy="291.1" r="8.14"/><circle cx="1201.0" cy="446.3" r="8.14"/><circle cx="517.1" cy="627.3" r="8.14"/><circle cx="696.8" cy="784.4" r="8.14"/><circle cx="1458.6" cy="170.5" r="8.14"/>
<circle cx="436.3" cy="591.9" r="8.14"/><circle cx="1699.6" cy="829.4" r="8.14"/><circle cx="1734.8" cy="772.4" r="8.14"/><circle cx="675.6" cy="599.9" r="8.14"/><circle cx="1275.0" cy="467.5" r="8.14"/><circle cx="1535.9" cy="838.4" r="8.14"/>
<circle cx="1015.8" cy="272.7" r="8.14"/><circle cx="2106.1" cy="687.0" r="8.14"/><circle cx="1095.3" cy="441.8" r="8.14"/><circle cx="1990.3" cy="580.0" r="8.14"/><circle cx="1888.0" cy="591.0" r="8.14"/><circle cx="1239.4" cy="219.3" r="8.14"/>
<circle cx="2121.6" cy="796.1" r="8.14"/><circle cx="1476.4" cy="773.7" r="8.14"/><circle cx="652.7" cy="680.6" r="8.14"/><circle cx="1372.6" cy="236.4" r="8.14"/><circle cx="543.6" cy="858.0" r="8.14"/><circle cx="1995.3" cy="778.0" r="8.14"/>
<circle cx="641.5" cy="571.6" r="8.14"/><circle cx="1227.6" cy="601.4" r="8.14"/><circle cx="425.0" cy="660.5" r="8.14"/><circle cx="1221.7" cy="320.1" r="8.14"/><circle cx="1256.2" cy="882.8" r="8.14"/><circle cx="1056.9" cy="576.2" r="8.14"/>
<circle cx="349.5" cy="707.2" r="8.14"/><circle cx="1089.3" cy="645.3" r="8.14"/><circle cx="1980.3" cy="747.9" r="8.14"/><circle cx="2206.6" cy="799.0" r="8.14"/><circle cx="1402.9" cy="587.5" r="8.14"/><circle cx="2053.3" cy="735.3" r="8.14"/>
<circle cx="513.8" cy="785.5" r="8.14"/><circle cx="445.7" cy="865.1" r="8.14"/><circle cx="1270.8" cy="431.6" r="8.14"/><circle cx="1159.5" cy="711.9" r="8.14"/><circle cx="1508.0" cy="481.7" r="8.14"/><circle cx="1012.5" cy="303.4" r="8.14"/>
<circle cx="1212.1" cy="730.1" r="8.14"/><circle cx="634.2" cy="759.6" r="8.14"/><circle cx="1296.5" cy="625.2" r="8.14"/><circle cx="1472.8" cy="774.4" r="8.14"/><circle cx="1153.7" cy="628.3" r="8.14"/><circle cx="780.4" cy="687.7" r="8.14"/>
<circle cx="989.4" cy="588.6" r="8.14"/><circle cx="563.0" cy="743.4" r="8.14"/><circle cx="1213.0" cy="635.6" r="8.14"/><circle cx="428.6" cy="636.6" r="8.14"/><circle cx="995.8" cy="579.6" r="8.14"/><circle cx="2131.3" cy="841.8" r="8.14"/>
<circle cx="599.3" cy="819.1" r="8.14"/><circle cx="815.6" cy="618.4" r="8.14"/><circle cx="309.1" cy="837.1" r="8.14"/><circle cx="1930.4" cy="803.9" r="8.14"/><circle cx="1070.2" cy="265.5" r="8.14"/><circle cx="1321.2" cy="218.6" r="8.14"/>
<circle cx="1252.8" cy="344.1" r="8.14"/><circle cx="1778.2" cy="793.6" r="8.14"/><circle cx="794.0" cy="628.2" r="8.14"/><circle cx="1406.2" cy="728.3" r="8.14"/><circle cx="557.8" cy="576.7" r="8.14"/><circle cx="822.5" cy="688.2" r="8.14"/>
<circle cx="1033.0" cy="313.3" r="8.14"/><circle cx="1474.9" cy="726.8" r="8.14"/><circle cx="764.8" cy="826.7" r="8.14"/><circle cx="1855.5" cy="568.6" r="8.14"/><circle cx="680.1" cy="636.3" r="8.14"/><circle cx="1521.4" cy="847.1" r="8.14"/>
<circle cx="2157.9" cy="610.5" r="8.14"/><circle cx="1033.1" cy="441.8" r="8.14"/><circle cx="1086.5" cy="633.8" r="8.14"/><circle cx="819.0" cy="728.7" r="8.14"/><circle cx="2028.0" cy="745.9" r="8.14"/><circle cx="1798.8" cy="648.7" r="8.14"/>
<circle cx="1446.4" cy="218.7" r="8.14"/><circle cx="1184.8" cy="763.4" r="8.14"/><circle cx="1143.7" cy="291.6" r="8.14"/><circle cx="1215.0" cy="174.6" r="8.14"/><circle cx="1985.0" cy="591.8" r="8.14"/><circle cx="1420.6" cy="728.6" r="8.14"/>
<circle cx="2046.7" cy="685.1" r="8.14"/><circle cx="1266.0" cy="787.8" r="8.14"/><circle cx="1209.9" cy="713.5" r="8.14"/><circle cx="1296.6" cy="797.3" r="8.14"/><circle cx="1196.4" cy="282.1" r="8.14"/><circle cx="758.5" cy="882.7" r="8.14"/>
<circle cx="1000.9" cy="823.1" r="8.14"/><circle cx="1327.1" cy="323.0" r="8.14"/><circle cx="1175.6" cy="221.5" r="8.14"/><circle cx="505.5" cy="624.6" r="8.14"/><circle cx="557.6" cy="851.0" r="8.14"/><circle cx="1018.4" cy="751.1" r="8.14"/>
<circle cx="1788.1" cy="677.9" r="8.14"/><circle cx="1271.3" cy="640.3" r="8.14"/><circle cx="622.9" cy="584.7" r="8.14"/><circle cx="337.0" cy="782.8" r="8.14"/><circle cx="352.3" cy="851.5" r="8.14"/><circle cx="475.2" cy="591.4" r="8.14"/>
<circle cx="1954.9" cy="841.3" r="8.14"/><circle cx="1229.9" cy="418.7" r="8.14"/><circle cx="1766.8" cy="592.4" r="8.14"/><circle cx="783.9" cy="798.9" r="8.14"/><circle cx="2010.3" cy="684.6" r="8.14"/><circle cx="1235.6" cy="627.4" r="8.14"/>
<circle cx="457.1" cy="596.3" r="8.14"/><circle cx="594.0" cy="596.0" r="8.14"/><circle cx="758.5" cy="874.7" r="8.14"/><circle cx="1278.3" cy="697.9" r="8.14"/><circle cx="1415.8" cy="825.9" r="8.14"/><circle cx="1791.1" cy="654.6" r="8.14"/>
<circle cx="1246.9" cy="446.0" r="8.14"/><circle cx="434.5" cy="799.1" r="8.14"/><circle cx="1158.6" cy="743.6" r="8.14"/><circle cx="1102.8" cy="654.8" r="8.14"/><circle cx="435.9" cy="703.1" r="8.14"/><circle cx="1169.3" cy="198.2" r="8.14"/>
<circle cx="1094.0" cy="443.4" r="8.14"/><circle cx="1073.6" cy="710.6" r="8.14"/><circle cx="2061.0" cy="739.4" r="8.14"/><circle cx="330.8" cy="683.7" r="8.14"/><circle cx="1404.5" cy="294.9" r="8.14"/><circle cx="1018.1" cy="795.2" r="8.14"/>
<circle cx="477.4" cy="821.2" r="8.14"/><circle cx="1892.9" cy="785.3" r="8.14"/><circle cx="485.4" cy="650.2" r="8.14"/><circle cx="324.8" cy="816.2" r="8.14"/><circle cx="334.2" cy="687.8" r="8.14"/><circle cx="1489.8" cy="742.2" r="8.14"/>
<circle cx="1498.7" cy="317.6" r="8.14"/><circle cx="1297.3" cy="193.7" r="8.14"/><circle cx="1972.3" cy="754.2" r="8.14"/><circle cx="334.5" cy="650.0" r="8.14"/><circle cx="1413.4" cy="444.8" r="8.14"/><circle cx="1205.3" cy="574.6" r="8.14"/>
<circle cx="2226.6" cy="847.7" r="8.14"/><circle cx="595.0" cy="627.7" r="8.14"/><circle cx="644.4" cy="628.3" r="8.14"/><circle cx="1117.4" cy="180.1" r="8.14"/><circle cx="1289.9" cy="260.1" r="8.14"/><circle cx="2095.4" cy="868.1" r="8.14"/>
<circle cx="345.6" cy="710.0" r="8.14"/><circle cx="1052.6" cy="225.6" r="8.14"/><circle cx="1083.7" cy="351.1" r="8.14"/><circle cx="1328.2" cy="263.4" r="8.14"/><circle cx="1383.6" cy="611.1" r="8.14"/><circle cx="1036.6" cy="396.5" r="8.14"/>
<circle cx="1138.1" cy="223.6" r="8.14"/><circle cx="829.9" cy="606.0" r="8.14"/><circle cx="1449.0" cy="722.1" r="8.14"/><circle cx="1123.6" cy="218.3" r="8.14"/><circle cx="1496.0" cy="807.9" r="8.14"/><circle cx="323.6" cy="596.7" r="8.14"/>
<circle cx="392.5" cy="840.2" r="8.14"/><circle cx="1089.4" cy="809.6" r="8.14"/><circle cx="1512.9" cy="663.2" r="8.14"/><circle cx="1094.7" cy="242.1" r="8.14"/><circle cx="836.5" cy="620.5" r="8.14"/><circle cx="1339.6" cy="424.6" r="8.14"/>
<circle cx="1171.8" cy="854.2" r="8.14"/><circle cx="1196.8" cy="771.8" r="8.14"/><circle cx="1741.7" cy="751.1" r="8.14"/><circle cx="1253.8" cy="701.1" r="8.14"/><circle cx="1248.2" cy="472.4" r="8.14"/><circle cx="2162.4" cy="846.4" r="8.14"/>
<circle cx="1059.1" cy="795.8" r="8.14"/><circle cx="380.3" cy="758.8" r="8.14"/><circle cx="732.6" cy="616.1" r="8.14"/><circle cx="1347.9" cy="299.3" r="8.14"/><circle cx="738.1" cy="612.3" r="8.14"/><circle cx="1389.2" cy="405.7" r="8.14"/>
<circle cx="1690.1" cy="754.4" r="8.14"/><circle cx="722.5" cy="705.4" r="8.14"/><circle cx="1996.8" cy="685.1" r="8.14"/><circle cx="1387.4" cy="791.8" r="8.14"/><circle cx="1510.9" cy="726.5" r="8.14"/><circle cx="1481.9" cy="688.9" r="8.14"/>
<circle cx="831.0" cy="602.1" r="8.14"/><circle cx="1094.1" cy="317.4" r="8.14"/><circle cx="1511.3" cy="311.9" r="8.14"/><circle cx="1099.7" cy="568.7" r="8.14"/><circle cx="1055.8" cy="848.0" r="8.14"/><circle cx="578.9" cy="640.2" r="8.14"/>
<circle cx="1339.1" cy="880.3" r="8.14"/><circle cx="1955.2" cy="637.7" r="8.14"/><circle cx="1416.8" cy="374.0" r="8.14"/><circle cx="1238.7" cy="325.8" r="8.14"/><circle cx="2171.0" cy="610.3" r="8.14"/><circle cx="1704.8" cy="796.6" r="8.14"/>
<circle cx="2147.9" cy="685.0" r="8.14"/><circle cx="1260.5" cy="382.8" r="8.14"/><circle cx="723.4" cy="801.7" r="8.14"/><circle cx="1029.3" cy="306.1" r="8.14"/><circle cx="1321.1" cy="627.7" r="8.14"/><circle cx="1274.4" cy="874.6" r="8.14"/>
<circle cx="1296.0" cy="642.9" r="8.14"/><circle cx="1866.9" cy="697.7" r="8.14"/><circle cx="1740.0" cy="883.1" r="8.14"/><circle cx="1414.4" cy="322.7" r="8.14"/><circle cx="777.5" cy="746.9" r="8.14"/><circle cx="1533.1" cy="452.5" r="8.14"/>
<circle cx="2172.5" cy="629.9" r="8.14"/><circle cx="1289.0" cy="451.4" r="8.14"/><circle cx="1693.7" cy="609.7" r="8.14"/><circle cx="1285.6" cy="883.5" r="8.14"/><circle cx="692.6" cy="715.5" r="8.14"/><circle cx="1121.9" cy="639.0" r="8.14"/>
<circle cx="582.6" cy="827.4" r="8.14"/><circle cx="458.1" cy="884.6" r="8.14"/><circle cx="1438.8" cy="780.2" r="8.14"/><circle cx="580.4" cy="618.7" r="8.14"/><circle cx="1154.2" cy="809.7" r="8.14"/><circle cx="988.8" cy="232.7" r="8.14"/>
<circle cx="660.3" cy="644.7" r="8.14"/><circle cx="355.1" cy="844.5" r="8.14"/><circle cx="1425.9" cy="208.7" r="8.14"/><circle cx="1726.3" cy="596.3" r="8.14"/><circle cx="1282.5" cy="723.9" r="8.14"/><circle cx="1963.2" cy="593.0" r="8.14"/>
<circle cx="1378.2" cy="722.0" r="8.14"/><circle cx="1138.5" cy="465.2" r="8.14"/><circle cx="589.9" cy="866.8" r="8.14"/><circle cx="1142.1" cy="821.1" r="8.14"/><circle cx="656.0" cy="731.5" r="8.14"/><circle cx="1911.6" cy="588.2" r="8.14"/>
<circle cx="629.4" cy="858.3" r="8.14"/><circle cx="1975.3" cy="656.8" r="8.14"/><circle cx="436.4" cy="620.6" r="8.14"/><circle cx="1850.6" cy="629.1" r="8.14"/><circle cx="1298.2" cy="238.3" r="8.14"/><circle cx="1270.8" cy="403.3" r="8.14"/>
<circle cx="1454.6" cy="750.2" r="8.14"/><circle cx="1032.0" cy="453.1" r="8.14"/><circle cx="1094.5" cy="760.3" r="8.14"/><circle cx="1365.6" cy="225.9" r="8.14"/><circle cx="1893.3" cy="674.8" r="8.14"/><circle cx="2205.4" cy="602.5" r="8.14"/>
<circle cx="1485.8" cy="675.0" r="8.14"/><circle cx="1356.6" cy="637.1" r="8.14"/><circle cx="1849.3" cy="772.4" r="8.14"/><circle cx="794.3" cy="841.1" r="8.14"/><circle cx="656.0" cy="804.1" r="8.14"/><circle cx="1309.2" cy="649.4" r="8.14"/>
<circle cx="1754.5" cy="782.5" r="8.14"/><circle cx="1769.7" cy="661.8" r="8.14"/><circle cx="1093.7" cy="352.1" r="8.14"/><circle cx="2223.2" cy="692.4" r="8.14"/><circle cx="1450.3" cy="764.6" r="8.14"/><circle cx="1368.3" cy="619.4" r="8.14"/>
<circle cx="1068.7" cy="582.5" r="8.14"/><circle cx="573.1" cy="818.2" r="8.14"/><circle cx="2160.8" cy="722.3" r="8.14"/><circle cx="1112.1" cy="687.5" r="8.14"/><circle cx="1526.1" cy="586.9" r="8.14"/><circle cx="412.9" cy="855.0" r="8.14"/>
<circle cx="1132.0" cy="756.6" r="8.14"/><circle cx="1355.7" cy="619.2" r="8.14"/><circle cx="1761.2" cy="681.2" r="8.14"/><circle cx="1201.8" cy="872.7" r="8.14"/><circle cx="501.6" cy="701.3" r="8.14"/><circle cx="409.3" cy="654.0" r="8.14"/>
<circle cx="1082.1" cy="407.3" r="8.14"/><circle cx="407.7" cy="719.5" r="8.14"/><circle cx="1049.0" cy="302.7" r="8.14"/><circle cx="1346.6" cy="684.0" r="8.14"/><circle cx="409.1" cy="829.7" r="8.14"/><circle cx="813.9" cy="587.9" r="8.14"/>
<circle cx="617.9" cy="796.7" r="8.14"/><circle cx="294.6" cy="596.9" r="8.14"/><circle cx="2047.7" cy="610.3" r="8.14"/><circle cx="687.0" cy="718.0" r="8.14"/><circle cx="1724.2" cy="871.5" r="8.14"/><circle cx="1108.0" cy="711.5" r="8.14"/>
<circle cx="648.1" cy="720.3" r="8.14"/><circle cx="1137.3" cy="595.0" r="8.14"/><circle cx="1043.8" cy="318.0" r="8.14"/><circle cx="1034.8" cy="594.8" r="8.14"/><circle cx="460.0" cy="604.8" r="8.14"/><circle cx="787.8" cy="828.3" r="8.14"/>
<circle cx="1540.0" cy="781.7" r="8.14"/><circle cx="326.3" cy="607.8" r="8.14"/><circle cx="1175.2" cy="444.9" r="8.14"/><circle cx="369.1" cy="856.0" r="8.14"/><circle cx="1002.6" cy="708.3" r="8.14"/><circle cx="654.2" cy="580.0" r="8.14"/>
<circle cx="356.2" cy="664.0" r="8.14"/><circle cx="701.7" cy="727.0" r="8.14"/><circle cx="300.9" cy="686.1" r="8.14"/><circle cx="1899.9" cy="631.2" r="8.14"/><circle cx="1781.1" cy="817.8" r="8.14"/><circle cx="327.0" cy="589.1" r="8.14"/>
<circle cx="1743.8" cy="871.0" r="8.14"/><circle cx="1981.5" cy="677.4" r="8.14"/><circle cx="1299.5" cy="670.0" r="8.14"/><circle cx="396.2" cy="755.6" r="8.14"/><circle cx="1303.3" cy="412.7" r="8.14"/><circle cx="1078.4" cy="748.1" r="8.14"/>
<circle cx="1450.5" cy="209.1" r="8.14"/><circle cx="295.6" cy="850.5" r="8.14"/><circle cx="1109.9" cy="695.2" r="8.14"/><circle cx="1098.7" cy="809.0" r="8.14"/><circle cx="373.4" cy="862.2" r="8.14"/><circle cx="1017.1" cy="234.4" r="8.14"/>
<circle cx="688.6" cy="868.4" r="8.14"/><circle cx="1450.0" cy="789.7" r="8.14"/><circle cx="1947.7" cy="872.1" r="8.14"/><circle cx="1686.4" cy="835.8" r="8.14"/><circle cx="647.5" cy="642.6" r="8.14"/><circle cx="1024.6" cy="634.6" r="8.14"/>
<circle cx="529.2" cy="832.7" r="8.14"/><circle cx="750.8" cy="863.3" r="8.14"/><circle cx="720.9" cy="755.5" r="8.14"/><circle cx="2182.5" cy="568.8" r="8.14"/><circle cx="568.6" cy="866.5" r="8.14"/><circle cx="2096.1" cy="760.4" r="8.14"/>
<circle cx="690.5" cy="691.2" r="8.14"/><circle cx="1966.7" cy="578.2" r="8.14"/><circle cx="1110.8" cy="314.1" r="8.14"/><circle cx="1503.0" cy="346.2" r="8.14"/><circle cx="1441.9" cy="343.7" r="8.14"/><circle cx="646.8" cy="882.6" r="8.14"/>
<circle cx="1349.6" cy="658.3" r="8.14"/><circle cx="997.2" cy="426.2" r="8.14"/><circle cx="1747.6" cy="739.8" r="8.14"/><circle cx="994.1" cy="697.8" r="8.14"/><circle cx="811.6" cy="689.2" r="8.14"/><circle cx="2169.2" cy="808.2" r="8.14"/>
<circle cx="1368.3" cy="874.9" r="8.14"/><circle cx="1001.3" cy="878.7" r="8.14"/><circle cx="1260.1" cy="243.9" r="8.14"/><circle cx="2115.7" cy="597.2" r="8.14"/><circle cx="547.9" cy="627.3" r="8.14"/><circle cx="1016.8" cy="597.7" r="8.14"/>
<circle cx="488.6" cy="870.4" r="8.14"/><circle cx="574.9" cy="867.5" r="8.14"/><circle cx="1372.6" cy="738.2" r="8.14"/><circle cx="1112.3" cy="710.7" r="8.14"/><circle cx="2225.0" cy="868.3" r="8.14"/><circle cx="1146.8" cy="479.1" r="8.14"/>
<circle cx="1232.9" cy="784.2" r="8.14"/><circle cx="2016.4" cy="861.0" r="8.14"/><circle cx="772.7" cy="683.6" r="8.14"/><circle cx="598.6" cy="605.2" r="8.14"/><circle cx="1461.2" cy="403.6" r="8.14"/><circle cx="1514.0" cy="590.0" r="8.14"/>
<circle cx="2089.7" cy="799.4" r="8.14"/><circle cx="2222.9" cy="863.1" r="8.14"/><circle cx="1108.8" cy="664.0" r="8.14"/><circle cx="2156.2" cy="758.7" r="8.14"/><circle cx="1088.9" cy="228.6" r="8.14"/><circle cx="1241.9" cy="694.1" r="8.14"/>
<circle cx="1024.5" cy="632.1" r="8.14"/><circle cx="514.8" cy="863.3" r="8.14"/><circle cx="1296.6" cy="201.6" r="8.14"/><circle cx="585.8" cy="672.7" r="8.14"/><circle cx="1451.5" cy="578.2" r="8.14"/><circle cx="699.1" cy="696.8" r="8.14"/>
<circle cx="825.8" cy="648.6" r="8.14"/><circle cx="1468.7" cy="337.9" r="8.14"/><circle cx="842.6" cy="727.9" r="8.14"/><circle cx="1019.6" cy="805.0" r="8.14"/><circle cx="1182.4" cy="339.8" r="8.14"/><circle cx="761.2" cy="603.5" r="8.14"/>
<circle cx="423.5" cy="577.1" r="8.14"/><circle cx="1682.4" cy="765.9" r="8.14"/><circle cx="429.0" cy="824.2" r="8.14"/><circle cx="1163.3" cy="620.2" r="8.14"/><circle cx="634.4" cy="723.0" r="8.14"/><circle cx="2180.3" cy="716.0" r="8.14"/>
<circle cx="825.2" cy="868.5" r="8.14"/><circle cx="1462.6" cy="873.3" r="8.14"/><circle cx="1442.7" cy="741.9" r="8.14"/><circle cx="1700.0" cy="585.7" r="8.14"/><circle cx="2208.1" cy="807.0" r="8.14"/><circle cx="441.5" cy="587.0" r="8.14"/>
<circle cx="1974.1" cy="793.9" r="8.14"/><circle cx="1866.4" cy="714.0" r="8.14"/><circle cx="534.5" cy="871.6" r="8.14"/><circle cx="1704.9" cy="695.6" r="8.14"/><circle cx="771.2" cy="637.8" r="8.14"/><circle cx="1439.3" cy="451.0" r="8.14"/>
<circle cx="341.7" cy="699.8" r="8.14"/><circle cx="2183.9" cy="641.3" r="8.14"/><circle cx="1480.4" cy="429.0" r="8.14"/><circle cx="1111.8" cy="420.8" r="8.14"/><circle cx="535.1" cy="790.6" r="8.14"/><circle cx="1147.2" cy="836.2" r="8.14"/>
<circle cx="2061.4" cy="767.0" r="8.14"/><circle cx="597.2" cy="721.7" r="8.14"/><circle cx="650.8" cy="795.3" r="8.14"/><circle cx="467.8" cy="748.7" r="8.14"/><circle cx="2075.0" cy="680.0" r="8.14"/><circle cx="806.9" cy="768.2" r="8.14"/>
<circle cx="2148.2" cy="801.7" r="8.14"/><circle cx="432.7" cy="838.3" r="8.14"/><circle cx="536.0" cy="644.5" r="8.14"/><circle cx="2114.0" cy="760.4" r="8.14"/><circle cx="710.4" cy="720.7" r="8.14"/><circle cx="1274.1" cy="482.1" r="8.14"/>
<circle cx="1467.8" cy="818.0" r="8.14"/><circle cx="1299.7" cy="484.2" r="8.14"/><circle cx="1457.7" cy="439.9" r="8.14"/><circle cx="1501.1" cy="835.6" r="8.14"/><circle cx="1025.8" cy="712.5" r="8.14"/><circle cx="1518.6" cy="576.3" r="8.14"/>
<circle cx="1356.4" cy="279.1" r="8.14"/><circle cx="1172.2" cy="750.5" r="8.14"/><circle cx="380.5" cy="788.6" r="8.14"/><circle cx="2007.8" cy="702.6" r="8.14"/><circle cx="1512.7" cy="179.3" r="8.14"/><circle cx="431.6" cy="586.5" r="8.14"/>
<circle cx="1233.0" cy="658.3" r="8.14"/><circle cx="813.0" cy="873.5" r="8.14"/><circle cx="1206.1" cy="876.1" r="8.14"/><circle cx="1167.7" cy="667.9" r="8.14"/><circle cx="1825.5" cy="864.4" r="8.14"/><circle cx="1101.5" cy="700.4" r="8.14"/>
<circle cx="2097.7" cy="725.7" r="8.14"/><circle cx="1400.4" cy="360.9" r="8.14"/><circle cx="763.2" cy="698.0" r="8.14"/><circle cx="1337.3" cy="866.8" r="8.14"/><circle cx="1067.8" cy="877.1" r="8.14"/><circle cx="1302.6" cy="761.5" r="8.14"/>
<circle cx="1518.4" cy="733.8" r="8.14"/><circle cx="1053.7" cy="220.2" r="8.14"/><circle cx="532.6" cy="701.3" r="8.14"/><circle cx="660.9" cy="594.6" r="8.14"/><circle cx="1478.3" cy="404.9" r="8.14"/><circle cx="2140.6" cy="746.4" r="8.14"/>
<circle cx="1459.6" cy="310.9" r="8.14"/><circle cx="1869.7" cy="573.1" r="8.14"/><circle cx="1419.2" cy="851.0" r="8.14"/><circle cx="992.6" cy="292.4" r="8.14"/><circle cx="1005.7" cy="875.1" r="8.14"/><circle cx="1508.8" cy="696.9" r="8.14"/>
<circle cx="666.1" cy="780.2" r="8.14"/><circle cx="291.6" cy="686.1" r="8.14"/><circle cx="1168.4" cy="746.5" r="8.14"/><circle cx="1462.6" cy="838.1" r="8.14"/><circle cx="509.0" cy="710.8" r="8.14"/><circle cx="1182.3" cy="800.1" r="8.14"/>
<circle cx="1035.1" cy="605.8" r="8.14"/><circle cx="1731.8" cy="631.5" r="8.14"/><circle cx="1195.4" cy="380.0" r="8.14"/><circle cx="1787.0" cy="886.5" r="8.14"/><circle cx="1340.6" cy="851.7" r="8.14"/><circle cx="2106.5" cy="727.8" r="8.14"/>
<circle cx="1884.6" cy="643.5" r="8.14"/><circle cx="1259.4" cy="605.5" r="8.14"/><circle cx="1449.1" cy="628.4" r="8.14"/><circle cx="1484.1" cy="600.3" r="8.14"/><circle cx="2215.6" cy="854.3" r="8.14"/><circle cx="748.6" cy="758.6" r="8.14"/>
<circle cx="393.5" cy="860.1" r="8.14"/><circle cx="583.1" cy="745.7" r="8.14"/><circle cx="1195.7" cy="821.5" r="8.14"/><circle cx="1723.4" cy="706.1" r="8.14"/><circle cx="1498.9" cy="714.0" r="8.14"/><circle cx="1796.9" cy="658.9" r="8.14"/>
<circle cx="2120.3" cy="763.1" r="8.14"/><circle cx="614.2" cy="839.5" r="8.14"/><circle cx="1163.0" cy="573.6" r="8.14"/><circle cx="1146.7" cy="177.1" r="8.14"/><circle cx="1301.3" cy="838.7" r="8.14"/><circle cx="1808.2" cy="760.3" r="8.14"/>
<circle cx="1219.5" cy="643.6" r="8.14"/><circle cx="1054.8" cy="621.9" r="8.14"/><circle cx="2045.2" cy="857.0" r="8.14"/><circle cx="1356.3" cy="274.9" r="8.14"/><circle cx="407.0" cy="875.0" r="8.14"/><circle cx="346.0" cy="833.4" r="8.14"/>
<circle cx="812.1" cy="739.9" r="8.14"/><circle cx="1156.4" cy="351.7" r="8.14"/><circle cx="1444.7" cy="631.3" r="8.14"/><circle cx="1771.4" cy="677.2" r="8.14"/><circle cx="420.3" cy="821.2" r="8.14"/><circle cx="1034.9" cy="755.9" r="8.14"/>
<circle cx="2011.8" cy="677.7" r="8.14"/><circle cx="709.5" cy="584.9" r="8.14"/><circle cx="1478.5" cy="316.2" r="8.14"/><circle cx="323.9" cy="593.7" r="8.14"/><circle cx="609.2" cy="806.5" r="8.14"/><circle cx="1379.4" cy="715.6" r="8.14"/>
<circle cx="1434.7" cy="569.6" r="8.14"/><circle cx="793.0" cy="868.2" r="8.14"/><circle cx="1879.3" cy="576.3" r="8.14"/><circle cx="1078.9" cy="589.2" r="8.14"/><circle cx="1896.0" cy="834.8" r="8.14"/><circle cx="1447.5" cy="630.4" r="8.14"/>
<circle cx="1330.3" cy="774.1" r="8.14"/><circle cx="807.3" cy="758.8" r="8.14"/><circle cx="760.2" cy="734.9" r="8.14"/><circle cx="2127.8" cy="694.6" r="8.14"/><circle cx="1180.7" cy="853.1" r="8.14"/><circle cx="394.1" cy="673.0" r="8.14"/>
<circle cx="1223.9" cy="758.7" r="8.14"/><circle cx="1241.5" cy="837.9" r="8.14"/><circle cx="403.6" cy="729.1" r="8.14"/><circle cx="520.4" cy="637.4" r="8.14"/><circle cx="594.1" cy="683.4" r="8.14"/><circle cx="842.9" cy="785.3" r="8.14"/>
<circle cx="537.6" cy="683.8" r="8.14"/><circle cx="1411.7" cy="783.4" r="8.14"/><circle cx="1288.5" cy="459.4" r="8.14"/><circle cx="1235.3" cy="228.5" r="8.14"/><circle cx="642.1" cy="597.9" r="8.14"/><circle cx="1309.1" cy="287.3" r="8.14"/>
<circle cx="1845.0" cy="696.2" r="8.14"/><circle cx="1419.4" cy="672.4" r="8.14"/><circle cx="555.4" cy="568.3" r="8.14"/><circle cx="724.0" cy="868.0" r="8.14"/><circle cx="2077.4" cy="746.9" r="8.14"/><circle cx="696.7" cy="814.1" r="8.14"/>
<circle cx="478.3" cy="720.0" r="8.14"/><circle cx="1126.5" cy="781.2" r="8.14"/><circle cx="1192.4" cy="803.3" r="8.14"/><circle cx="1934.0" cy="575.9" r="8.14"/><circle cx="1082.9" cy="340.0" r="8.14"/><circle cx="622.5" cy="581.3" r="8.14"/>
<circle cx="381.5" cy="851.2" r="8.14"/><circle cx="1487.7" cy="878.9" r="8.14"/><circle cx="1082.6" cy="483.6" r="8.14"/><circle cx="1959.5" cy="698.9" r="8.14"/><circle cx="1385.1" cy="690.1" r="8.14"/><circle cx="1373.9" cy="829.4" r="8.14"/>
<circle cx="1026.5" cy="279.2" r="8.14"/><circle cx="1384.4" cy="702.7" r="8.14"/><circle cx="1927.7" cy="611.9" r="8.14"/><circle cx="727.2" cy="817.7" r="8.14"/><circle cx="601.1" cy="800.1" r="8.14"/><circle cx="1307.4" cy="653.6" r="8.14"/>
<circle cx="1050.4" cy="751.2" r="8.14"/><circle cx="1290.4" cy="682.7" r="8.14"/><circle cx="544.9" cy="687.3" r="8.14"/><circle cx="1476.6" cy="852.5" r="8.14"/><circle cx="1527.8" cy="366.1" r="8.14"/><circle cx="1988.9" cy="641.1" r="8.14"/>
<circle cx="1052.2" cy="672.5" r="8.14"/><circle cx="740.0" cy="799.7" r="8.14"/><circle cx="1513.9" cy="429.6" r="8.14"/><circle cx="1257.4" cy="190.5" r="8.14"/><circle cx="815.1" cy="730.8" r="8.14"/><circle cx="1163.7" cy="316.3" r="8.14"/>
<circle cx="1052.1" cy="183.6" r="8.14"/><circle cx="1332.1" cy="278.7" r="8.14"/><circle cx="1857.6" cy="883.1" r="8.14"/><circle cx="1884.2" cy="698.0" r="8.14"/><circle cx="1199.8" cy="617.5" r="8.14"/><circle cx="1308.6" cy="578.0" r="8.14"/>
<circle cx="1945.3" cy="627.9" r="8.14"/><circle cx="1203.6" cy="327.1" r="8.14"/><circle cx="1907.7" cy="832.4" r="8.14"/><circle cx="1355.0" cy="585.0" r="8.14"/><circle cx="1513.9" cy="255.0" r="8.14"/><circle cx="1225.3" cy="840.6" r="8.14"/>
<circle cx="1407.0" cy="362.5" r="8.14"/><circle cx="2025.8" cy="740.5" r="8.14"/><circle cx="1462.0" cy="574.5" r="8.14"/><circle cx="803.6" cy="750.1" r="8.14"/><circle cx="1255.9" cy="844.6" r="8.14"/><circle cx="1683.7" cy="742.1" r="8.14"/>
<circle cx="565.9" cy="574.7" r="8.14"/><circle cx="1358.4" cy="390.3" r="8.14"/><circle cx="1853.3" cy="778.3" r="8.14"/><circle cx="1093.3" cy="378.5" r="8.14"/><circle cx="323.5" cy="652.3" r="8.14"/><circle cx="522.2" cy="883.5" r="8.14"/>
<circle cx="401.3" cy="661.7" r="8.14"/><circle cx="985.4" cy="440.0" r="8.14"/><circle cx="2213.7" cy="750.1" r="8.14"/><circle cx="1274.3" cy="387.7" r="8.14"/><circle cx="768.9" cy="674.8" r="8.14"/><circle cx="292.4" cy="758.2" r="8.14"/>
<circle cx="1458.5" cy="710.6" r="8.14"/><circle cx="832.2" cy="641.5" r="8.14"/><circle cx="1388.3" cy="824.2" r="8.14"/><circle cx="1006.0" cy="726.8" r="8.14"/><circle cx="1067.6" cy="471.7" r="8.14"/><circle cx="1259.7" cy="609.9" r="8.14"/>
<circle cx="1094.2" cy="638.2" r="8.14"/><circle cx="2068.7" cy="799.9" r="8.14"/><circle cx="496.3" cy="694.0" r="8.14"/><circle cx="343.0" cy="601.8" r="8.14"/><circle cx="1812.7" cy="577.8" r="8.14"/><circle cx="1002.7" cy="333.6" r="8.14"/>
<circle cx="1099.3" cy="477.5" r="8.14"/><circle cx="1471.6" cy="370.3" r="8.14"/><circle cx="1169.6" cy="482.6" r="8.14"/><circle cx="1260.4" cy="788.7" r="8.14"/><circle cx="1728.1" cy="752.9" r="8.14"/><circle cx="580.4" cy="678.4" r="8.14"/>
<circle cx="1441.3" cy="855.1" r="8.14"/><circle cx="1921.1" cy="858.3" r="8.14"/><circle cx="1916.0" cy="800.2" r="8.14"/><circle cx="1336.0" cy="167.8" r="8.14"/><circle cx="1179.8" cy="731.6" r="8.14"/><circle cx="1087.6" cy="319.4" r="8.14"/>
<circle cx="691.7" cy="663.9" r="8.14"/><circle cx="1096.2" cy="719.3" r="8.14"/><circle cx="1026.7" cy="389.1" r="8.14"/><circle cx="1009.4" cy="448.6" r="8.14"/><circle cx="1742.8" cy="633.8" r="8.14"/><circle cx="613.0" cy="659.8" r="8.14"/>
<circle cx="1266.6" cy="185.2" r="8.14"/><circle cx="1065.8" cy="298.7" r="8.14"/><circle cx="988.5" cy="378.6" r="8.14"/><circle cx="1461.4" cy="282.0" r="8.14"/><circle cx="1367.2" cy="854.7" r="8.14"/><circle cx="1193.9" cy="351.8" r="8.14"/>
<circle cx="1975.6" cy="767.4" r="8.14"/><circle cx="1260.7" cy="432.4" r="8.14"/><circle cx="1132.7" cy="648.6" r="8.14"/><circle cx="1481.5" cy="832.7" r="8.14"/><circle cx="773.5" cy="631.8" r="8.14"/><circle cx="384.7" cy="729.0" r="8.14"/>
<circle cx="1456.5" cy="582.7" r="8.14"/><circle cx="2078.5" cy="690.1" r="8.14"/><circle cx="802.9" cy="788.5" r="8.14"/><circle cx="2086.3" cy="776.3" r="8.14"/><circle cx="1330.4" cy="655.8" r="8.14"/><circle cx="737.8" cy="603.3" r="8.14"/>
<circle cx="1075.2" cy="605.0" r="8.14"/><circle cx="397.7" cy="710.4" r="8.14"/><circle cx="1199.6" cy="457.6" r="8.14"/><circle cx="1894.2" cy="741.6" r="8.14"/><circle cx="706.3" cy="701.2" r="8.14"/><circle cx="1456.6" cy="445.0" r="8.14"/>
<circle cx="1163.4" cy="600.2" r="8.14"/><circle cx="389.9" cy="595.3" r="8.14"/><circle cx="1360.9" cy="486.7" r="8.14"/><circle cx="1857.8" cy="716.7" r="8.14"/><circle cx="365.2" cy="605.7" r="8.14"/><circle cx="1059.2" cy="668.3" r="8.14"/>
<circle cx="1244.8" cy="701.8" r="8.14"/><circle cx="2091.6" cy="617.0" r="8.14"/><circle cx="1375.3" cy="650.4" r="8.14"/><circle cx="1950.9" cy="836.6" r="8.14"/><circle cx="456.3" cy="757.3" r="8.14"/><circle cx="2000.0" cy="715.5" r="8.14"/>
<circle cx="367.0" cy="737.0" r="8.14"/><circle cx="1539.9" cy="208.0" r="8.14"/><circle cx="1836.7" cy="835.3" r="8.14"/><circle cx="434.7" cy="703.5" r="8.14"/><circle cx="1470.3" cy="660.0" r="8.14"/><circle cx="989.4" cy="776.5" r="8.14"/>
<circle cx="390.4" cy="648.7" r="8.14"/><circle cx="1220.0" cy="442.3" r="8.14"/><circle cx="527.2" cy="820.2" r="8.14"/><circle cx="2136.0" cy="589.1" r="8.14"/><circle cx="1297.6" cy="332.6" r="8.14"/><circle cx="1911.3" cy="664.9" r="8.14"/>
<circle cx="768.9" cy="731.3" r="8.14"/><circle cx="602.8" cy="709.3" r="8.14"/><circle cx="1386.2" cy="246.7" r="8.14"/><circle cx="1238.5" cy="180.6" r="8.14"/><circle cx="2064.6" cy="615.4" r="8.14"/><circle cx="2074.7" cy="807.7" r="8.14"/>
<circle cx="1766.6" cy="702.4" r="8.14"/><circle cx="1253.1" cy="631.9" r="8.14"/><circle cx="1124.2" cy="645.7" r="8.14"/><circle cx="296.3" cy="714.9" r="8.14"/><circle cx="444.3" cy="831.9" r="8.14"/><circle cx="1073.5" cy="221.8" r="8.14"/>
<circle cx="1953.1" cy="756.2" r="8.14"/><circle cx="1382.7" cy="310.3" r="8.14"/><circle cx="1137.9" cy="852.6" r="8.14"/><circle cx="1335.6" cy="483.2" r="8.14"/><circle cx="1698.9" cy="768.2" r="8.14"/><circle cx="657.5" cy="581.9" r="8.14"/>
<circle cx="1891.6" cy="599.3" r="8.14"/><circle cx="416.7" cy="658.3" r="8.14"/><circle cx="1377.8" cy="339.9" r="8.14"/><circle cx="765.2" cy="665.4" r="8.14"/><circle cx="348.0" cy="644.9" r="8.14"/><circle cx="2127.7" cy="586.2" r="8.14"/>
<circle cx="1507.4" cy="784.2" r="8.14"/><circle cx="1093.4" cy="826.7" r="8.14"/><circle cx="1228.2" cy="185.4" r="8.14"/><circle cx="1960.7" cy="727.9" r="8.14"/><circle cx="680.8" cy="834.1" r="8.14"/><circle cx="1460.7" cy="881.3" r="8.14"/>
<circle cx="490.0" cy="582.3" r="8.14"/><circle cx="1869.1" cy="766.5" r="8.14"/><circle cx="356.8" cy="612.8" r="8.14"/><circle cx="1333.4" cy="392.6" r="8.14"/><circle cx="1530.5" cy="687.0" r="8.14"/><circle cx="1354.9" cy="840.4" r="8.14"/>
<circle cx="1275.7" cy="660.9" r="8.14"/><circle cx="328.2" cy="589.9" r="8.14"/><circle cx="737.7" cy="597.3" r="8.14"/><circle cx="2049.6" cy="752.0" r="8.14"/><circle cx="1944.1" cy="600.3" r="8.14"/><circle cx="630.5" cy="574.5" r="8.14"/>
<circle cx="1063.1" cy="657.0" r="8.14"/><circle cx="583.7" cy="844.7" r="8.14"/><circle cx="1009.7" cy="413.1" r="8.14"/><circle cx="1480.3" cy="570.2" r="8.14"/><circle cx="454.9" cy="625.7" r="8.14"/><circle cx="1255.8" cy="808.2" r="8.14"/>
<circle cx="1684.8" cy="594.8" r="8.14"/><circle cx="1364.8" cy="661.1" r="8.14"/><circle cx="1013.7" cy="201.9" r="8.14"/><circle cx="1315.9" cy="616.4" r="8.14"/><circle cx="325.5" cy="871.0" r="8.14"/><circle cx="299.1" cy="739.5" r="8.14"/>
<circle cx="1996.2" cy="791.9" r="8.14"/><circle cx="383.7" cy="757.1" r="8.14"/><circle cx="1129.8" cy="394.5" r="8.14"/><circle cx="1444.0" cy="638.4" r="8.14"/><circle cx="1349.2" cy="380.7" r="8.14"/><circle cx="1393.4" cy="200.1" r="8.14"/>
<circle cx="1285.4" cy="740.4" r="8.14"/><circle cx="1407.7" cy="358.5" r="8.14"/><circle cx="1040.8" cy="356.2" r="8.14"/><circle cx="1181.9" cy="455.5" r="8.14"/><circle cx="1142.2" cy="255.2" r="8.14"/><circle cx="1965.7" cy="847.3" r="8.14"/>
<circle cx="702.6" cy="594.8" r="8.14"/><circle cx="496.2" cy="676.5" r="8.14"/><circle cx="1349.6" cy="382.8" r="8.14"/><circle cx="716.1" cy="752.7" r="8.14"/><circle cx="1795.7" cy="712.0" r="8.14"/><circle cx="318.8" cy="692.2" r="8.14"/>
<circle cx="2103.7" cy="848.0" r="8.14"/><circle cx="1490.5" cy="689.8" r="8.14"/><circle cx="1829.7" cy="740.1" r="8.14"/><circle cx="368.4" cy="602.4" r="8.14"/><circle cx="1315.0" cy="715.3" r="8.14"/><circle cx="572.0" cy="680.2" r="8.14"/>
<circle cx="610.6" cy="785.8" r="8.14"/><circle cx="1357.7" cy="482.8" r="8.14"/><circle cx="456.9" cy="658.6" r="8.14"/><circle cx="1220.0" cy="352.5" r="8.14"/><circle cx="805.5" cy="657.1" r="8.14"/><circle cx="1230.3" cy="378.6" r="8.14"/>
<circle cx="1781.4" cy="731.9" r="8.14"/><circle cx="340.7" cy="703.2" r="8.14"/><circle cx="1334.3" cy="323.0" r="8.14"/><circle cx="794.9" cy="755.7" r="8.14"/><circle cx="1201.1" cy="183.8" r="8.14"/><circle cx="2131.8" cy="597.5" r="8.14"/>
<circle cx="828.6" cy="648.1" r="8.14"/><circle cx="1312.1" cy="453.3" r="8.14"/><circle cx="776.5" cy="573.4" r="8.14"/><circle cx="1156.7" cy="313.7" r="8.14"/><circle cx="1152.4" cy="322.1" r="8.14"/><circle cx="1317.4" cy="693.4" r="8.14"/>
<circle cx="1379.6" cy="762.0" r="8.14"/><circle cx="1450.5" cy="320.3" r="8.14"/><circle cx="1388.9" cy="411.5" r="8.14"/><circle cx="516.7" cy="687.4" r="8.14"/><circle cx="1777.7" cy="774.9" r="8.14"/><circle cx="1879.6" cy="789.5" r="8.14"/>
<circle cx="326.0" cy="705.7" r="8.14"/><circle cx="2218.3" cy="721.7" r="8.14"/><circle cx="1537.5" cy="867.8" r="8.14"/><circle cx="801.7" cy="823.7" r="8.14"/><circle cx="2093.9" cy="747.5" r="8.14"/><circle cx="568.0" cy="600.2" r="8.14"/>
<circle cx="1161.1" cy="241.2" r="8.14"/><circle cx="711.5" cy="867.1" r="8.14"/><circle cx="362.4" cy="802.9" r="8.14"/><circle cx="407.9" cy="881.2" r="8.14"/><circle cx="556.0" cy="866.3" r="8.14"/><circle cx="999.5" cy="571.5" r="8.14"/>
<circle cx="299.4" cy="641.7" r="8.14"/><circle cx="1176.0" cy="230.8" r="8.14"/><circle cx="1537.0" cy="230.8" r="8.14"/><circle cx="1454.4" cy="771.1" r="8.14"/><circle cx="1066.0" cy="821.0" r="8.14"/><circle cx="1326.0" cy="459.2" r="8.14"/>
<circle cx="997.2" cy="322.8" r="8.14"/><circle cx="2153.3" cy="710.8" r="8.14"/><circle cx="1454.2" cy="661.5" r="8.14"/><circle cx="610.7" cy="862.9" r="8.14"/><circle cx="1374.5" cy="190.2" r="8.14"/><circle cx="345.5" cy="833.4" r="8.14"/>
<circle cx="601.1" cy="771.0" r="8.14"/><circle cx="420.1" cy="717.2" r="8.14"/><circle cx="411.2" cy="838.7" r="8.14"/><circle cx="1216.3" cy="586.4" r="8.14"/><circle cx="1959.4" cy="849.5" r="8.14"/><circle cx="1485.5" cy="634.8" r="8.14"/>
<circle cx="301.6" cy="714.5" r="8.14"/><circle cx="1244.6" cy="731.6" r="8.14"/><circle cx="1459.6" cy="345.8" r="8.14"/><circle cx="355.6" cy="850.0" r="8.14"/><circle cx="739.9" cy="642.0" r="8.14"/><circle cx="615.7" cy="742.8" r="8.14"/>
<circle cx="389.8" cy="666.7" r="8.14"/><circle cx="1694.9" cy="819.3" r="8.14"/><circle cx="1282.9" cy="654.5" r="8.14"/><circle cx="412.1" cy="785.1" r="8.14"/><circle cx="1708.8" cy="605.6" r="8.14"/><circle cx="1525.9" cy="713.4" r="8.14"/>
<circle cx="2114.6" cy="816.0" r="8.14"/><circle cx="1169.6" cy="460.4" r="8.14"/><circle cx="431.9" cy="865.8" r="8.14"/><circle cx="1768.5" cy="785.7" r="8.14"/><circle cx="1493.7" cy="231.6" r="8.14"/><circle cx="1741.6" cy="587.1" r="8.14"/>
<circle cx="2061.3" cy="646.8" r="8.14"/><circle cx="1237.5" cy="368.7" r="8.14"/><circle cx="1375.5" cy="458.7" r="8.14"/><circle cx="1379.9" cy="881.6" r="8.14"/><circle cx="1391.0" cy="776.1" r="8.14"/><circle cx="1166.3" cy="417.6" r="8.14"/>
<circle cx="1538.9" cy="858.2" r="8.14"/><circle cx="517.7" cy="609.2" r="8.14"/><circle cx="2118.9" cy="780.2" r="8.14"/><circle cx="1004.0" cy="820.0" r="8.14"/><circle cx="825.0" cy="869.5" r="8.14"/><circle cx="2085.6" cy="865.1" r="8.14"/>
<circle cx="1199.1" cy="726.8" r="8.14"/><circle cx="1456.4" cy="588.9" r="8.14"/><circle cx="1014.1" cy="185.6" r="8.14"/><circle cx="1502.3" cy="806.6" r="8.14"/><circle cx="1292.9" cy="848.4" r="8.14"/><circle cx="1178.5" cy="646.7" r="8.14"/>
<circle cx="617.9" cy="641.3" r="8.14"/><circle cx="1212.0" cy="832.1" r="8.14"/><circle cx="2205.2" cy="826.5" r="8.14"/><circle cx="1080.2" cy="652.7" r="8.14"/><circle cx="1255.0" cy="791.0" r="8.14"/><circle cx="1327.5" cy="422.1" r="8.14"/>
<circle cx="1153.0" cy="842.4" r="8.14"/><circle cx="1334.9" cy="216.3" r="8.14"/><circle cx="562.9" cy="708.0" r="8.14"/><circle cx="2060.1" cy="589.0" r="8.14"/><circle cx="1027.7" cy="613.7" r="8.14"/><circle cx="1228.4" cy="287.0" r="8.14"/>
<circle cx="1139.7" cy="232.1" r="8.14"/><circle cx="1242.4" cy="846.5" r="8.14"/><circle cx="1050.2" cy="720.4" r="8.14"/><circle cx="1508.6" cy="750.5" r="8.14"/><circle cx="1208.7" cy="389.6" r="8.14"/><circle cx="1994.5" cy="621.1" r="8.14"/>
<circle cx="1164.1" cy="726.9" r="8.14"/><circle cx="650.6" cy="673.4" r="8.14"/><circle cx="290.1" cy="795.4" r="8.14"/><circle cx="1803.0" cy="757.0" r="8.14"/><circle cx="1117.8" cy="299.1" r="8.14"/><circle cx="1259.1" cy="722.3" r="8.14"/>
<circle cx="2159.9" cy="887.8" r="8.14"/><circle cx="1774.4" cy="878.2" r="8.14"/><circle cx="1946.3" cy="785.5" r="8.14"/><circle cx="1066.0" cy="393.8" r="8.14"/><circle cx="1196.5" cy="705.1" r="8.14"/><circle cx="1394.3" cy="885.5" r="8.14"/>
<circle cx="599.4" cy="636.7" r="8.14"/><circle cx="742.4" cy="700.1" r="8.14"/><circle cx="1075.0" cy="625.3" r="8.14"/><circle cx="2128.2" cy="609.0" r="8.14"/><circle cx="1049.3" cy="202.5" r="8.14"/><circle cx="1309.4" cy="661.7" r="8.14"/>
<circle cx="1318.1" cy="250.6" r="8.14"/><circle cx="2060.1" cy="683.2" r="8.14"/><circle cx="1948.6" cy="571.3" r="8.14"/><circle cx="1361.2" cy="344.1" r="8.14"/><circle cx="1233.4" cy="886.3" r="8.14"/><circle cx="503.6" cy="740.1" r="8.14"/>
<circle cx="833.2" cy="716.1" r="8.14"/><circle cx="987.2" cy="192.9" r="8.14"/><circle cx="1892.8" cy="703.5" r="8.14"/><circle cx="1781.3" cy="829.6" r="8.14"/><circle cx="466.2" cy="767.7" r="8.14"/><circle cx="1731.6" cy="640.8" r="8.14"/>
<circle cx="1527.3" cy="446.2" r="8.14"/><circle cx="618.3" cy="758.5" r="8.14"/><circle cx="1997.6" cy="573.2" r="8.14"/><circle cx="829.7" cy="585.6" r="8.14"/><circle cx="783.3" cy="724.9" r="8.14"/><circle cx="2077.3" cy="873.0" r="8.14"/>
<circle cx="314.6" cy="568.3" r="8.14"/><circle cx="2087.5" cy="802.8" r="8.14"/><circle cx="422.8" cy="825.2" r="8.14"/><circle cx="1091.0" cy="656.1" r="8.14"/><circle cx="990.3" cy="338.9" r="8.14"/><circle cx="2050.1" cy="680.4" r="8.14"/>
<circle cx="1224.5" cy="606.4" r="8.14"/><circle cx="1368.2" cy="423.0" r="8.14"/><circle cx="652.9" cy="849.1" r="8.14"/><circle cx="1973.8" cy="843.6" r="8.14"/><circle cx="1981.8" cy="674.0" r="8.14"/><circle cx="1853.1" cy="670.9" r="8.14"/>
<circle cx="412.2" cy="735.6" r="8.14"/><circle cx="1171.8" cy="256.1" r="8.14"/><circle cx="1537.8" cy="473.7" r="8.14"/><circle cx="1742.3" cy="822.9" r="8.14"/><circle cx="1235.8" cy="719.4" r="8.14"/><circle cx="1071.1" cy="291.7" r="8.14"/>
<circle cx="2033.2" cy="673.8" r="8.14"/><circle cx="535.5" cy="860.1" r="8.14"/><circle cx="832.6" cy="849.5" r="8.14"/><circle cx="374.3" cy="640.5" r="8.14"/><circle cx="662.0" cy="682.5" r="8.14"/><circle cx="1287.1" cy="290.6" r="8.14"/>
<circle cx="2185.9" cy="718.4" r="8.14"/><circle cx="1728.1" cy="776.7" r="8.14"/><circle cx="742.0" cy="716.8" r="8.14"/><circle cx="1209.4" cy="217.3" r="8.14"/><circle cx="1141.9" cy="851.5" r="8.14"/><circle cx="1908.2" cy="743.9" r="8.14"/>
<circle cx="322.0" cy="569.1" r="8.14"/><circle cx="1195.8" cy="608.5" r="8.14"/><circle cx="640.8" cy="827.8" r="8.14"/><circle cx="328.8" cy="688.6" r="8.14"/><circle cx="303.9" cy="886.5" r="8.14"/><circle cx="996.2" cy="299.8" r="8.14"/>
<circle cx="646.3" cy="836.4" r="8.14"/><circle cx="1933.7" cy="655.4" r="8.14"/><circle cx="1261.2" cy="657.8" r="8.14"/><circle cx="841.2" cy="690.2" r="8.14"/><circle cx="1045.9" cy="868.1" r="8.14"/><circle cx="1348.8" cy="782.7" r="8.14"/>
<circle cx="519.9" cy="676.7" r="8.14"/><circle cx="418.6" cy="601.1" r="8.14"/><circle cx="2046.7" cy="832.5" r="8.14"/><circle cx="1398.2" cy="332.3" r="8.14"/><circle cx="639.7" cy="743.0" r="8.14"/><circle cx="1374.4" cy="170.5" r="8.14"/>
<circle cx="482.0" cy="696.3" r="8.14"/><circle cx="1364.4" cy="732.6" r="8.14"/><circle cx="683.6" cy="811.9" r="8.14"/><circle cx="1932.9" cy="782.0" r="8.14"/><circle cx="531.9" cy="756.8" r="8.14"/><circle cx="1251.9" cy="594.5" r="8.14"/>
<circle cx="1028.7" cy="790.2" r="8.14"/><circle cx="673.0" cy="788.5" r="8.14"/><circle cx="1415.3" cy="762.2" r="8.14"/><circle cx="1197.1" cy="834.7" r="8.14"/><circle cx="692.2" cy="813.4" r="8.14"/><circle cx="1304.7" cy="228.1" r="8.14"/>
<circle cx="2124.9" cy="662.5" r="8.14"/><circle cx="2111.4" cy="696.3" r="8.14"/><circle cx="761.6" cy="771.6" r="8.14"/><circle cx="1776.0" cy="869.9" r="8.14"/><circle cx="1445.6" cy="584.4" r="8.14"/><circle cx="1741.3" cy="730.2" r="8.14"/>
<circle cx="558.3" cy="609.2" r="8.14"/><circle cx="1148.2" cy="661.3" r="8.14"/><circle cx="1049.0" cy="622.7" r="8.14"/><circle cx="1009.2" cy="774.6" r="8.14"/><circle cx="1281.6" cy="628.0" r="8.14"/><circle cx="1885.6" cy="580.0" r="8.14"/>
<circle cx="1108.1" cy="170.7" r="8.14"/><circle cx="374.8" cy="677.8" r="8.14"/><circle cx="1186.5" cy="318.8" r="8.14"/><circle cx="1046.9" cy="722.4" r="8.14"/><circle cx="1215.5" cy="224.6" r="8.14"/><circle cx="402.4" cy="810.6" r="8.14"/>
<circle cx="1271.9" cy="380.0" r="8.14"/><circle cx="1245.7" cy="853.0" r="8.14"/><circle cx="1485.5" cy="805.7" r="8.14"/><circle cx="1471.7" cy="652.2" r="8.14"/><circle cx="2039.5" cy="631.6" r="8.14"/><circle cx="2050.3" cy="624.6" r="8.14"/>
<circle cx="300.6" cy="570.8" r="8.14"/><circle cx="1035.3" cy="628.8" r="8.14"/><circle cx="1037.7" cy="240.9" r="8.14"/><circle cx="1148.7" cy="728.6" r="8.14"/><circle cx="1995.2" cy="620.2" r="8.14"/><circle cx="2013.1" cy="716.5" r="8.14"/>
<circle cx="2101.5" cy="731.5" r="8.14"/><circle cx="1258.5" cy="247.1" r="8.14"/><circle cx="1125.7" cy="258.9" r="8.14"/><circle cx="1368.8" cy="756.4" r="8.14"/><circle cx="1496.7" cy="877.8" r="8.14"/><circle cx="1120.1" cy="880.0" r="8.14"/>
<circle cx="486.7" cy="671.8" r="8.14"/><circle cx="1267.5" cy="691.9" r="8.14"/><circle cx="1798.4" cy="859.9" r="8.14"/><circle cx="774.4" cy="824.7" r="8.14"/><circle cx="2232.5" cy="813.6" r="8.14"/><circle cx="356.2" cy="861.8" r="8.14"/>
<circle cx="577.2" cy="764.9" r="8.14"/><circle cx="1399.4" cy="370.7" r="8.14"/><circle cx="461.5" cy="590.8" r="8.14"/><circle cx="1004.6" cy="571.5" r="8.14"/><circle cx="707.0" cy="638.2" r="8.14"/><circle cx="820.7" cy="592.3" r="8.14"/>
<circle cx="594.0" cy="872.0" r="8.14"/><circle cx="2065.1" cy="758.7" r="8.14"/><circle cx="431.5" cy="632.8" r="8.14"/><circle cx="1390.0" cy="678.0" r="8.14"/><circle cx="1033.7" cy="734.7" r="8.14"/><circle cx="397.2" cy="719.0" r="8.14"/>
<circle cx="2068.9" cy="629.0" r="8.14"/><circle cx="358.4" cy="851.2" r="8.14"/><circle cx="1297.3" cy="847.2" r="8.14"/><circle cx="1098.2" cy="410.6" r="8.14"/><circle cx="499.1" cy="699.6" r="8.14"/><circle cx="1892.3" cy="677.2" r="8.14"/>
<circle cx="640.2" cy="574.8" r="8.14"/><circle cx="1527.6" cy="817.3" r="8.14"/><circle cx="1096.8" cy="449.5" r="8.14"/><circle cx="1336.5" cy="771.7" r="8.14"/><circle cx="723.4" cy="886.9" r="8.14"/><circle cx="1506.6" cy="778.9" r="8.14"/>
<circle cx="611.0" cy="761.0" r="8.14"/><circle cx="1168.8" cy="368.6" r="8.14"/><circle cx="437.4" cy="834.3" r="8.14"/><circle cx="385.3" cy="612.5" r="8.14"/><circle cx="1223.3" cy="722.6" r="8.14"/><circle cx="487.9" cy="634.4" r="8.14"/>
<circle cx="1881.9" cy="692.5" r="8.14"/><circle cx="1487.7" cy="613.8" r="8.14"/><circle cx="1970.6" cy="821.7" r="8.14"/><circle cx="364.1" cy="741.9" r="8.14"/><circle cx="1449.5" cy="743.0" r="8.14"/><circle cx="535.6" cy="729.3" r="8.14"/>
<circle cx="1388.5" cy="599.0" r="8.14"/><circle cx="1800.1" cy="633.9" r="8.14"/><circle cx="807.2" cy="864.6" r="8.14"/><circle cx="1419.7" cy="845.2" r="8.14"/><circle cx="1699.4" cy="635.9" r="8.14"/><circle cx="720.6" cy="662.8" r="8.14"/>
<circle cx="728.3" cy="607.8" r="8.14"/><circle cx="759.1" cy="649.9" r="8.14"/><circle cx="1331.6" cy="811.5" r="8.14"/><circle cx="2164.2" cy="606.2" r="8.14"/><circle cx="2152.8" cy="870.8" r="8.14"/><circle cx="1039.5" cy="581.6" r="8.14"/>
<circle cx="1013.4" cy="781.8" r="8.14"/><circle cx="1876.7" cy="851.2" r="8.14"/><circle cx="1357.4" cy="597.3" r="8.14"/><circle cx="1807.8" cy="578.0" r="8.14"/><circle cx="1541.6" cy="246.0" r="8.14"/><circle cx="763.1" cy="666.6" r="8.14"/>
<circle cx="1070.0" cy="792.5" r="8.14"/><circle cx="1231.6" cy="237.2" r="8.14"/><circle cx="459.1" cy="728.3" r="8.14"/><circle cx="1151.1" cy="708.0" r="8.14"/><circle cx="526.1" cy="826.7" r="8.14"/><circle cx="1231.5" cy="389.6" r="8.14"/>
<circle cx="792.6" cy="579.3" r="8.14"/><circle cx="2124.5" cy="818.1" r="8.14"/><circle cx="1694.6" cy="884.4" r="8.14"/><circle cx="1893.3" cy="688.8" r="8.14"/><circle cx="1860.0" cy="748.2" r="8.14"/><circle cx="295.9" cy="856.2" r="8.14"/>
<circle cx="296.4" cy="593.5" r="8.14"/><circle cx="1498.4" cy="879.2" r="8.14"/><circle cx="1425.4" cy="716.7" r="8.14"/><circle cx="1300.1" cy="448.8" r="8.14"/><circle cx="2141.8" cy="775.9" r="8.14"/><circle cx="1484.3" cy="701.0" r="8.14"/>
<circle cx="741.2" cy="853.8" r="8.14"/><circle cx="1016.0" cy="846.0" r="8.14"/><circle cx="1957.7" cy="749.3" r="8.14"/><circle cx="1690.1" cy="682.7" r="8.14"/><circle cx="1193.8" cy="444.3" r="8.14"/><circle cx="1865.5" cy="832.6" r="8.14"/>
<circle cx="1303.2" cy="749.2" r="8.14"/><circle cx="571.3" cy="723.5" r="8.14"/><circle cx="518.7" cy="715.6" r="8.14"/><circle cx="303.5" cy="861.7" r="8.14"/><circle cx="501.4" cy="632.9" r="8.14"/><circle cx="439.8" cy="736.0" r="8.14"/>
<circle cx="1261.6" cy="664.1" r="8.14"/><circle cx="564.7" cy="761.1" r="8.14"/><circle cx="835.6" cy="817.6" r="8.14"/><circle cx="1410.3" cy="241.4" r="8.14"/><circle cx="2132.4" cy="627.6" r="8.14"/><circle cx="2091.4" cy="671.2" r="8.14"/>
<circle cx="787.6" cy="609.6" r="8.14"/><circle cx="2195.3" cy="766.7" r="8.14"/><circle cx="1005.1" cy="412.0" r="8.14"/><circle cx="1034.2" cy="477.8" r="8.14"/><circle cx="813.7" cy="605.0" r="8.14"/><circle cx="547.7" cy="823.6" r="8.14"/>
<circle cx="1369.3" cy="181.1" r="8.14"/><circle cx="2026.7" cy="577.2" r="8.14"/><circle cx="791.5" cy="673.2" r="8.14"/><circle cx="312.8" cy="728.5" r="8.14"/><circle cx="1182.3" cy="876.6" r="8.14"/><circle cx="2136.0" cy="743.2" r="8.14"/>
<circle cx="496.1" cy="596.0" r="8.14"/><circle cx="1873.8" cy="682.1" r="8.14"/><circle cx="1096.6" cy="187.4" r="8.14"/><circle cx="1243.7" cy="754.9" r="8.14"/><circle cx="1030.6" cy="176.7" r="8.14"/><circle cx="1000.2" cy="193.1" r="8.14"/>
<circle cx="2052.3" cy="673.8" r="8.14"/><circle cx="534.5" cy="725.1" r="8.14"/><circle cx="1961.9" cy="770.1" r="8.14"/><circle cx="745.8" cy="595.0" r="8.14"/><circle cx="2190.4" cy="786.0" r="8.14"/><circle cx="542.2" cy="589.5" r="8.14"/>
<circle cx="2037.8" cy="716.0" r="8.14"/><circle cx="507.7" cy="791.1" r="8.14"/><circle cx="445.9" cy="638.4" r="8.14"/><circle cx="695.6" cy="694.0" r="8.14"/><circle cx="573.3" cy="608.8" r="8.14"/><circle cx="476.2" cy="642.2" r="8.14"/>
<circle cx="549.0" cy="770.3" r="8.14"/><circle cx="1926.9" cy="870.2" r="8.14"/><circle cx="1498.1" cy="731.1" r="8.14"/><circle cx="2217.8" cy="589.2" r="8.14"/><circle cx="304.6" cy="882.2" r="8.14"/><circle cx="1344.2" cy="354.2" r="8.14"/>
<circle cx="554.3" cy="685.4" r="8.14"/><circle cx="1144.0" cy="765.8" r="8.14"/><circle cx="1376.0" cy="755.1" r="8.14"/><circle cx="1296.7" cy="373.5" r="8.14"/><circle cx="1247.9" cy="643.2" r="8.14"/><circle cx="1013.2" cy="285.4" r="8.14"/>
<circle cx="1492.7" cy="434.0" r="8.14"/><circle cx="1324.4" cy="315.5" r="8.14"/><circle cx="1522.5" cy="225.1" r="8.14"/><circle cx="2184.3" cy="745.1" r="8.14"/><circle cx="1299.2" cy="651.4" r="8.14"/><circle cx="1217.9" cy="599.3" r="8.14"/>
<circle cx="1426.5" cy="881.5" r="8.14"/><circle cx="1417.0" cy="770.9" r="8.14"/><circle cx="1175.6" cy="572.2" r="8.14"/><circle cx="532.0" cy="682.9" r="8.14"/><circle cx="1495.5" cy="260.7" r="8.14"/><circle cx="506.6" cy="629.9" r="8.14"/>
<circle cx="1694.6" cy="687.0" r="8.14"/><circle cx="303.0" cy="705.5" r="8.14"/><circle cx="1228.6" cy="763.9" r="8.14"/><circle cx="2164.5" cy="683.8" r="8.14"/><circle cx="1079.6" cy="636.2" r="8.14"/><circle cx="1759.4" cy="834.0" r="8.14"/>
<circle cx="1378.8" cy="785.4" r="8.14"/><circle cx="1357.3" cy="612.7" r="8.14"/><circle cx="1396.7" cy="713.4" r="8.14"/><circle cx="1464.2" cy="235.0" r="8.14"/><circle cx="1903.3" cy="678.1" r="8.14"/><circle cx="361.9" cy="595.9" r="8.14"/>
<circle cx="553.1" cy="867.8" r="8.14"/><circle cx="1195.2" cy="458.7" r="8.14"/><circle cx="1844.9" cy="622.5" r="8.14"/><circle cx="499.0" cy="700.0" r="8.14"/><circle cx="838.7" cy="729.2" r="8.14"/><circle cx="1498.0" cy="655.4" r="8.14"/>
<circle cx="1007.0" cy="627.3" r="8.14"/><circle cx="1296.7" cy="877.8" r="8.14"/><circle cx="518.4" cy="600.0" r="8.14"/><circle cx="1045.8" cy="704.8" r="8.14"/><circle cx="1303.2" cy="840.5" r="8.14"/><circle cx="806.9" cy="811.8" r="8.14"/>
<circle cx="1704.8" cy="867.5" r="8.14"/><circle cx="768.5" cy="735.7" r="8.14"/><circle cx="479.3" cy="758.2" r="8.14"/><circle cx="1038.0" cy="871.0" r="8.14"/><circle cx="431.9" cy="614.2" r="8.14"/><circle cx="1537.5" cy="346.2" r="8.14"/>
<circle cx="327.9" cy="726.6" r="8.14"/><circle cx="1047.9" cy="482.3" r="8.14"/><circle cx="1838.6" cy="727.4" r="8.14"/><circle cx="725.9" cy="823.6" r="8.14"/><circle cx="469.6" cy="740.9" r="8.14"/><circle cx="1743.3" cy="780.1" r="8.14"/>
<circle cx="1129.0" cy="285.1" r="8.14"/><circle cx="1935.6" cy="865.2" r="8.14"/><circle cx="1004.8" cy="816.2" r="8.14"/><circle cx="1019.5" cy="783.3" r="8.14"/><circle cx="2134.6" cy="640.1" r="8.14"/><circle cx="397.5" cy="877.7" r="8.14"/>
<circle cx="1093.6" cy="595.8" r="8.14"/><circle cx="1402.6" cy="179.0" r="8.14"/><circle cx="994.7" cy="873.4" r="8.14"/><circle cx="2022.8" cy="572.4" r="8.14"/><circle cx="465.5" cy="722.1" r="8.14"/><circle cx="1792.3" cy="587.7" r="8.14"/>
<circle cx="1476.1" cy="684.1" r="8.14"/><circle cx="633.8" cy="712.5" r="8.14"/><circle cx="1257.1" cy="276.5" r="8.14"/><circle cx="1827.9" cy="791.8" r="8.14"/><circle cx="313.9" cy="771.6" r="8.14"/><circle cx="1201.5" cy="276.1" r="8.14"/>
<circle cx="1067.8" cy="358.5" r="8.14"/><circle cx="1344.6" cy="834.1" r="8.14"/><circle cx="795.3" cy="736.0" r="8.14"/><circle cx="1904.0" cy="835.2" r="8.14"/><circle cx="1744.2" cy="873.3" r="8.14"/><circle cx="992.7" cy="804.6" r="8.14"/>
<circle cx="1199.0" cy="235.6" r="8.14"/><circle cx="1848.4" cy="718.9" r="8.14"/><circle cx="793.6" cy="824.5" r="8.14"/><circle cx="780.1" cy="800.1" r="8.14"/><circle cx="565.5" cy="739.3" r="8.14"/><circle cx="817.0" cy="670.2" r="8.14"/>
<circle cx="1201.4" cy="193.9" r="8.14"/><circle cx="1725.1" cy="624.0" r="8.14"/><circle cx="1361.5" cy="684.0" r="8.14"/><circle cx="1402.7" cy="248.8" r="8.14"/><circle cx="533.2" cy="675.6" r="8.14"/><circle cx="478.3" cy="715.6" r="8.14"/>
<circle cx="372.4" cy="586.5" r="8.14"/><circle cx="1968.6" cy="670.7" r="8.14"/><circle cx="1465.5" cy="176.6" r="8.14"/><circle cx="410.0" cy="886.3" r="8.14"/><circle cx="1422.5" cy="704.9" r="8.14"/><circle cx="323.6" cy="589.1" r="8.14"/>
<circle cx="2054.1" cy="626.7" r="8.14"/><circle cx="791.4" cy="573.4" r="8.14"/><circle cx="597.8" cy="741.2" r="8.14"/><circle cx="441.1" cy="756.8" r="8.14"/><circle cx="1461.3" cy="660.3" r="8.14"/><circle cx="573.0" cy="690.2" r="8.14"/>
<circle cx="1170.9" cy="660.1" r="8.14"/><circle cx="1811.9" cy="607.2" r="8.14"/><circle cx="1737.4" cy="775.5" r="8.14"/><circle cx="1101.2" cy="333.4" r="8.14"/><circle cx="1412.6" cy="611.5" r="8.14"/><circle cx="1061.5" cy="398.5" r="8.14"/>
<circle cx="1474.6" cy="397.2" r="8.14"/><circle cx="459.9" cy="725.6" r="8.14"/><circle cx="758.4" cy="610.3" r="8.14"/><circle cx="2188.1" cy="624.9" r="8.14"/><circle cx="1803.1" cy="608.0" r="8.14"/><circle cx="1152.1" cy="222.0" r="8.14"/>
<circle cx="324.4" cy="755.7" r="8.14"/><circle cx="1007.8" cy="828.1" r="8.14"/><circle cx="833.2" cy="814.5" r="8.14"/><circle cx="1063.1" cy="846.8" r="8.14"/><circle cx="1400.5" cy="640.0" r="8.14"/><circle cx="1513.3" cy="335.1" r="8.14"/>
<circle cx="1280.2" cy="728.5" r="8.14"/><circle cx="1276.2" cy="245.0" r="8.14"/><circle cx="327.5" cy="709.7" r="8.14"/><circle cx="1507.8" cy="451.7" r="8.14"/><circle cx="799.6" cy="804.9" r="8.14"/><circle cx="1025.7" cy="265.8" r="8.14"/>
<circle cx="773.6" cy="568.5" r="8.14"/><circle cx="1104.1" cy="597.7" r="8.14"/><circle cx="1236.0" cy="586.7" r="8.14"/><circle cx="1515.7" cy="728.7" r="8.14"/><circle cx="1493.9" cy="671.1" r="8.14"/><circle cx="1799.2" cy="657.0" r="8.14"/>
<circle cx="1838.0" cy="728.3" r="8.14"/><circle cx="1163.1" cy="270.6" r="8.14"/><circle cx="995.6" cy="420.7" r="8.14"/><circle cx="665.1" cy="813.9" r="8.14"/><circle cx="1353.5" cy="211.7" r="8.14"/><circle cx="1251.5" cy="633.5" r="8.14"/>
<circle cx="1339.2" cy="836.1" r="8.14"/><circle cx="1350.4" cy="430.3" r="8.14"/><circle cx="792.9" cy="668.0" r="8.14"/><circle cx="429.8" cy="860.2" r="8.14"/><circle cx="1243.0" cy="244.0" r="8.14"/><circle cx="2020.8" cy="617.2" r="8.14"/>
<circle cx="1443.7" cy="349.5" r="8.14"/><circle cx="1443.8" cy="222.8" r="8.14"/><circle cx="2083.4" cy="705.6" r="8.14"/><circle cx="677.8" cy="874.2" r="8.14"/><circle cx="1179.4" cy="679.2" r="8.14"/><circle cx="695.2" cy="812.0" r="8.14"/>
<circle cx="1205.7" cy="173.1" r="8.14"/><circle cx="575.7" cy="643.6" r="8.14"/><circle cx="1503.7" cy="769.9" r="8.14"/><circle cx="1307.9" cy="433.1" r="8.14"/><circle cx="522.0" cy="641.6" r="8.14"/><circle cx="1283.1" cy="194.5" r="8.14"/>
<circle cx="995.0" cy="684.3" r="8.14"/><circle cx="1494.4" cy="586.2" r="8.14"/><circle cx="1318.8" cy="175.7" r="8.14"/><circle cx="1460.6" cy="801.0" r="8.14"/><circle cx="2168.7" cy="814.4" r="8.14"/><circle cx="788.1" cy="699.4" r="8.14"/>
<circle cx="1123.7" cy="373.8" r="8.14"/><circle cx="686.9" cy="835.1" r="8.14"/><circle cx="1103.7" cy="622.2" r="8.14"/><circle cx="2147.1" cy="877.1" r="8.14"/><circle cx="612.7" cy="707.2" r="8.14"/><circle cx="1521.2" cy="266.5" r="8.14"/>
<circle cx="1184.4" cy="851.2" r="8.14"/><circle cx="426.9" cy="763.8" r="8.14"/><circle cx="1257.4" cy="417.0" r="8.14"/><circle cx="1792.4" cy="766.4" r="8.14"/><circle cx="1239.7" cy="351.4" r="8.14"/><circle cx="2195.9" cy="585.7" r="8.14"/>
<circle cx="528.5" cy="731.2" r="8.14"/><circle cx="1022.8" cy="810.5" r="8.14"/><circle cx="378.9" cy="767.4" r="8.14"/><circle cx="1528.4" cy="338.8" r="8.14"/><circle cx="1245.2" cy="596.0" r="8.14"/><circle cx="635.0" cy="789.1" r="8.14"/>
<circle cx="1028.7" cy="232.3" r="8.14"/><circle cx="1155.0" cy="246.3" r="8.14"/><circle cx="2221.3" cy="820.2" r="8.14"/><circle cx="1049.4" cy="444.7" r="8.14"/><circle cx="1474.5" cy="846.9" r="8.14"/><circle cx="2119.6" cy="812.0" r="8.14"/>
<circle cx="664.7" cy="801.1" r="8.14"/><circle cx="1458.2" cy="612.1" r="8.14"/><circle cx="831.5" cy="627.4" r="8.14"/><circle cx="519.2" cy="602.8" r="8.14"/><circle cx="594.0" cy="723.5" r="8.14"/><circle cx="552.2" cy="793.8" r="8.14"/>
<circle cx="728.7" cy="645.8" r="8.14"/><circle cx="731.8" cy="587.3" r="8.14"/><circle cx="1846.8" cy="863.4" r="8.14"/><circle cx="1321.7" cy="169.8" r="8.14"/><circle cx="2006.4" cy="733.3" r="8.14"/><circle cx="1281.4" cy="604.5" r="8.14"/>
<circle cx="304.9" cy="793.6" r="8.14"/><circle cx="2108.9" cy="861.9" r="8.14"/><circle cx="645.8" cy="721.3" r="8.14"/><circle cx="2140.8" cy="706.4" r="8.14"/><circle cx="2010.2" cy="573.5" r="8.14"/><circle cx="1014.0" cy="880.9" r="8.14"/>
<circle cx="1128.3" cy="850.9" r="8.14"/><circle cx="1826.2" cy="848.1" r="8.14"/><circle cx="838.2" cy="622.1" r="8.14"/><circle cx="1146.0" cy="800.3" r="8.14"/><circle cx="1249.1" cy="702.6" r="8.14"/><circle cx="1517.8" cy="615.2" r="8.14"/>
<circle cx="813.2" cy="802.7" r="8.14"/><circle cx="2145.9" cy="850.4" r="8.14"/><circle cx="2026.3" cy="836.2" r="8.14"/><circle cx="705.1" cy="879.2" r="8.14"/><circle cx="1454.3" cy="688.1" r="8.14"/><circle cx="2067.0" cy="719.3" r="8.14"/>
<circle cx="1994.8" cy="614.7" r="8.14"/><circle cx="1279.9" cy="422.8" r="8.14"/><circle cx="1212.5" cy="424.0" r="8.14"/><circle cx="1029.3" cy="723.9" r="8.14"/><circle cx="1256.9" cy="869.5" r="8.14"/><circle cx="756.2" cy="650.4" r="8.14"/>
<circle cx="722.2" cy="720.6" r="8.14"/><circle cx="1532.3" cy="731.0" r="8.14"/><circle cx="1837.4" cy="737.8" r="8.14"/><circle cx="2062.6" cy="605.1" r="8.14"/><circle cx="1438.1" cy="714.8" r="8.14"/><circle cx="1151.8" cy="450.9" r="8.14"/>
<circle cx="429.5" cy="822.0" r="8.14"/><circle cx="788.2" cy="633.3" r="8.14"/><circle cx="1963.8" cy="721.5" r="8.14"/><circle cx="821.9" cy="622.9" r="8.14"/><circle cx="466.8" cy="687.1" r="8.14"/><circle cx="1837.7" cy="596.7" r="8.14"/>
<circle cx="328.9" cy="852.6" r="8.14"/><circle cx="464.0" cy="866.7" r="8.14"/><circle cx="1339.1" cy="487.5" r="8.14"/><circle cx="824.5" cy="860.1" r="8.14"/><circle cx="1866.7" cy="823.4" r="8.14"/><circle cx="1079.5" cy="688.9" r="8.14"/>
<circle cx="1057.0" cy="436.2" r="8.14"/><circle cx="294.4" cy="611.4" r="8.14"/><circle cx="1493.2" cy="583.5" r="8.14"/><circle cx="1090.7" cy="596.5" r="8.14"/><circle cx="1283.6" cy="373.1" r="8.14"/><circle cx="844.8" cy="681.1" r="8.14"/>
<circle cx="2038.3" cy="621.6" r="8.14"/><circle cx="673.1" cy="570.6" r="8.14"/><circle cx="1519.2" cy="428.6" r="8.14"/><circle cx="1766.2" cy="648.4" r="8.14"/><circle cx="1491.3" cy="759.9" r="8.14"/><circle cx="1228.8" cy="788.9" r="8.14"/>
<circle cx="2045.9" cy="614.5" r="8.14"/><circle cx="2167.2" cy="596.2" r="8.14"/><circle cx="2112.7" cy="604.1" r="8.14"/><circle cx="1699.8" cy="676.6" r="8.14"/><circle cx="1218.5" cy="575.7" r="8.14"/><circle cx="758.2" cy="881.5" r="8.14"/>
<circle cx="1765.5" cy="715.3" r="8.14"/><circle cx="763.0" cy="685.0" r="8.14"/><circle cx="1301.4" cy="588.5" r="8.14"/><circle cx="1963.3" cy="733.1" r="8.14"/><circle cx="2081.3" cy="865.0" r="8.14"/><circle cx="1160.4" cy="810.1" r="8.14"/>
<circle cx="435.5" cy="857.8" r="8.14"/><circle cx="1286.5" cy="286.8" r="8.14"/><circle cx="827.6" cy="851.6" r="8.14"/><circle cx="1869.4" cy="570.0" r="8.14"/><circle cx="1353.3" cy="862.3" r="8.14"/><circle cx="297.4" cy="846.6" r="8.14"/>
<circle cx="1371.2" cy="325.5" r="8.14"/><circle cx="1184.5" cy="885.5" r="8.14"/><circle cx="556.0" cy="587.9" r="8.14"/><circle cx="1492.0" cy="619.6" r="8.14"/><circle cx="1950.6" cy="800.1" r="8.14"/><circle cx="1313.1" cy="593.0" r="8.14"/>
<circle cx="1515.5" cy="282.1" r="8.14"/><circle cx="1149.5" cy="727.9" r="8.14"/><circle cx="840.8" cy="640.9" r="8.14"/><circle cx="582.1" cy="852.8" r="8.14"/><circle cx="1005.2" cy="616.3" r="8.14"/><circle cx="1173.9" cy="354.3" r="8.14"/>
<circle cx="1086.3" cy="308.5" r="8.14"/><circle cx="1142.7" cy="852.9" r="8.14"/><circle cx="1205.9" cy="751.3" r="8.14"/><circle cx="1969.9" cy="681.6" r="8.14"/><circle cx="1361.5" cy="836.3" r="8.14"/><circle cx="1873.9" cy="878.1" r="8.14"/>
<circle cx="1533.7" cy="179.1" r="8.14"/><circle cx="1110.6" cy="869.5" r="8.14"/><circle cx="1484.0" cy="215.3" r="8.14"/><circle cx="1104.2" cy="407.6" r="8.14"/><circle cx="1726.4" cy="849.0" r="8.14"/><circle cx="1044.3" cy="718.6" r="8.14"/>
<circle cx="1323.8" cy="844.1" r="8.14"/><circle cx="1449.4" cy="832.9" r="8.14"/><circle cx="1831.8" cy="835.6" r="8.14"/><circle cx="1261.2" cy="401.0" r="8.14"/><circle cx="707.7" cy="619.5" r="8.14"/><circle cx="587.1" cy="846.7" r="8.14"/>
<circle cx="297.0" cy="667.6" r="8.14"/><circle cx="1151.1" cy="284.6" r="8.14"/><circle cx="552.8" cy="587.3" r="8.14"/><circle cx="2161.7" cy="882.2" r="8.14"/><circle cx="581.4" cy="853.3" r="8.14"/><circle cx="2056.7" cy="609.5" r="8.14"/>
<circle cx="1492.3" cy="626.0" r="8.14"/><circle cx="1064.5" cy="364.8" r="8.14"/><circle cx="1232.3" cy="309.0" r="8.14"/><circle cx="1400.3" cy="395.2" r="8.14"/><circle cx="1057.7" cy="662.6" r="8.14"/><circle cx="566.7" cy="635.3" r="8.14"/>
<circle cx="1339.6" cy="420.1" r="8.14"/><circle cx="1728.5" cy="823.3" r="8.14"/><circle cx="1299.9" cy="400.9" r="8.14"/><circle cx="730.5" cy="856.7" r="8.14"/><circle cx="1059.8" cy="384.2" r="8.14"/><circle cx="309.1" cy="723.4" r="8.14"/>
<circle cx="1363.1" cy="648.7" r="8.14"/><circle cx="774.0" cy="787.9" r="8.14"/><circle cx="1936.4" cy="665.0" r="8.14"/><circle cx="747.3" cy="607.4" r="8.14"/><circle cx="1156.5" cy="397.2" r="8.14"/><circle cx="1786.7" cy="773.2" r="8.14"/>
<circle cx="632.6" cy="738.0" r="8.14"/><circle cx="1960.8" cy="571.2" r="8.14"/><circle cx="1519.6" cy="574.5" r="8.14"/><circle cx="2132.1" cy="771.4" r="8.14"/><circle cx="1734.1" cy="581.3" r="8.14"/><circle cx="1279.8" cy="647.7" r="8.14"/>
<circle cx="1871.2" cy="688.3" r="8.14"/><circle cx="632.5" cy="885.8" r="8.14"/><circle cx="1907.1" cy="624.6" r="8.14"/><circle cx="1761.7" cy="856.8" r="8.14"/><circle cx="1375.6" cy="720.3" r="8.14"/><circle cx="1805.0" cy="730.3" r="8.14"/>
<circle cx="1015.8" cy="207.0" r="8.14"/><circle cx="1124.1" cy="429.5" r="8.14"/><circle cx="711.6" cy="576.6" r="8.14"/><circle cx="1299.8" cy="412.8" r="8.14"/><circle cx="1224.4" cy="826.1" r="8.14"/><circle cx="1355.8" cy="469.1" r="8.14"/>
<circle cx="403.9" cy="696.3" r="8.14"/><circle cx="1515.6" cy="634.2" r="8.14"/><circle cx="2010.5" cy="845.2" r="8.14"/><circle cx="2040.5" cy="793.7" r="8.14"/><circle cx="1010.1" cy="707.3" r="8.14"/><circle cx="1692.6" cy="810.0" r="8.14"/>
<circle cx="1454.3" cy="212.2" r="8.14"/><circle cx="2046.4" cy="881.9" r="8.14"/><circle cx="681.3" cy="834.6" r="8.14"/><circle cx="788.7" cy="840.7" r="8.14"/><circle cx="1340.8" cy="740.2" r="8.14"/><circle cx="1785.9" cy="680.2" r="8.14"/>
<circle cx="348.2" cy="615.2" r="8.14"/><circle cx="1181.6" cy="857.8" r="8.14"/><circle cx="754.3" cy="887.7" r="8.14"/><circle cx="1226.9" cy="477.1" r="8.14"/><circle cx="589.4" cy="724.9" r="8.14"/><circle cx="1876.9" cy="855.4" r="8.14"/>
<circle cx="1019.3" cy="457.4" r="8.14"/><circle cx="1276.7" cy="486.3" r="8.14"/><circle cx="2210.1" cy="588.0" r="8.14"/><circle cx="1051.7" cy="430.2" r="8.14"/><circle cx="1320.0" cy="703.3" r="8.14"/><circle cx="1313.2" cy="816.6" r="8.14"/>
<circle cx="1522.1" cy="216.4" r="8.14"/><circle cx="1091.7" cy="258.2" r="8.14"/><circle cx="1181.1" cy="422.1" r="8.14"/><circle cx="819.6" cy="744.7" r="8.14"/><circle cx="1415.5" cy="259.2" r="8.14"/><circle cx="2191.4" cy="723.1" r="8.14"/>
<circle cx="991.4" cy="743.1" r="8.14"/><circle cx="352.4" cy="660.9" r="8.14"/><circle cx="1303.6" cy="591.3" r="8.14"/><circle cx="2027.6" cy="773.5" r="8.14"/><circle cx="297.2" cy="657.4" r="8.14"/><circle cx="1415.8" cy="206.0" r="8.14"/>
<circle cx="773.7" cy="851.3" r="8.14"/><circle cx="1950.1" cy="746.7" r="8.14"/><circle cx="722.8" cy="664.6" r="8.14"/><circle cx="655.3" cy="748.7" r="8.14"/><circle cx="714.0" cy="599.9" r="8.14"/><circle cx="475.9" cy="659.7" r="8.14"/>
<circle cx="557.1" cy="878.5" r="8.14"/><circle cx="1168.5" cy="671.5" r="8.14"/><circle cx="1163.1" cy="692.8" r="8.14"/><circle cx="1015.6" cy="610.2" r="8.14"/><circle cx="1436.0" cy="828.0" r="8.14"/><circle cx="780.9" cy="597.6" r="8.14"/>
<circle cx="481.5" cy="664.7" r="8.14"/><circle cx="1485.3" cy="747.9" r="8.14"/><circle cx="1011.6" cy="877.6" r="8.14"/><circle cx="987.5" cy="863.7" r="8.14"/><circle cx="500.5" cy="749.6" r="8.14"/><circle cx="844.8" cy="632.8" r="8.14"/>
<circle cx="626.6" cy="781.7" r="8.14"/><circle cx="1138.4" cy="246.7" r="8.14"/><circle cx="1936.0" cy="768.7" r="8.14"/><circle cx="1530.4" cy="789.9" r="8.14"/><circle cx="1138.4" cy="877.5" r="8.14"/><circle cx="1789.9" cy="698.3" r="8.14"/>
<circle cx="416.3" cy="855.8" r="8.14"/><circle cx="589.5" cy="680.3" r="8.14"/><circle cx="1470.6" cy="814.2" r="8.14"/><circle cx="1315.0" cy="322.1" r="8.14"/><circle cx="1824.3" cy="836.6" r="8.14"/><circle cx="1101.1" cy="787.2" r="8.14"/>
<circle cx="1461.4" cy="251.3" r="8.14"/><circle cx="1163.0" cy="276.9" r="8.14"/><circle cx="357.6" cy="788.5" r="8.14"/><circle cx="1026.5" cy="290.5" r="8.14"/><circle cx="1463.5" cy="169.9" r="8.14"/><circle cx="573.5" cy="838.6" r="8.14"/>
<circle cx="374.1" cy="592.4" r="8.14"/><circle cx="1986.7" cy="884.7" r="8.14"/><circle cx="554.6" cy="651.7" r="8.14"/><circle cx="789.2" cy="876.4" r="8.14"/><circle cx="2236.5" cy="632.3" r="8.14"/><circle cx="1054.2" cy="775.6" r="8.14"/>
<circle cx="832.6" cy="707.3" r="8.14"/><circle cx="376.0" cy="756.9" r="8.14"/><circle cx="2013.5" cy="825.6" r="8.14"/><circle cx="1121.3" cy="285.8" r="8.14"/><circle cx="1517.0" cy="624.4" r="8.14"/><circle cx="1351.9" cy="862.1" r="8.14"/>
<circle cx="1962.6" cy="821.1" r="8.14"/><circle cx="1266.6" cy="364.3" r="8.14"/><circle cx="1388.8" cy="437.8" r="8.14"/><circle cx="1833.7" cy="879.4" r="8.14"/><circle cx="1141.1" cy="754.8" r="8.14"/><circle cx="1059.3" cy="265.7" r="8.14"/>
<circle cx="1114.9" cy="796.6" r="8.14"/><circle cx="1020.8" cy="802.3" r="8.14"/><circle cx="632.6" cy="604.7" r="8.14"/><circle cx="578.0" cy="604.8" r="8.14"/><circle cx="1297.2" cy="851.6" r="8.14"/><circle cx="2127.9" cy="807.3" r="8.14"/>
<circle cx="2078.7" cy="706.1" r="8.14"/><circle cx="1043.2" cy="700.4" r="8.14"/><circle cx="539.9" cy="695.8" r="8.14"/><circle cx="1260.6" cy="862.5" r="8.14"/><circle cx="1920.7" cy="858.8" r="8.14"/><circle cx="395.0" cy="781.1" r="8.14"/>
<circle cx="553.7" cy="743.7" r="8.14"/><circle cx="623.7" cy="731.4" r="8.14"/><circle cx="1170.9" cy="649.7" r="8.14"/><circle cx="1437.6" cy="577.3" r="8.14"/><circle cx="1283.3" cy="178.6" r="8.14"/><circle cx="2009.0" cy="849.1" r="8.14"/>
<circle cx="1795.9" cy="695.9" r="8.14"/><circle cx="1022.7" cy="726.0" r="8.14"/><circle cx="1317.7" cy="240.0" r="8.14"/><circle cx="1995.5" cy="873.0" r="8.14"/><circle cx="2071.9" cy="734.4" r="8.14"/><circle cx="1697.4" cy="761.9" r="8.14"/>
<circle cx="414.6" cy="823.3" r="8.14"/><circle cx="1518.0" cy="608.0" r="8.14"/><circle cx="1296.9" cy="691.6" r="8.14"/><circle cx="1186.0" cy="658.6" r="8.14"/><circle cx="723.2" cy="883.2" r="8.14"/><circle cx="428.4" cy="768.7" r="8.14"/>
<circle cx="1182.4" cy="302.7" r="8.14"/><circle cx="2103.0" cy="773.5" r="8.14"/><circle cx="1499.9" cy="580.5" r="8.14"/><circle cx="1269.6" cy="606.3" r="8.14"/><circle cx="1435.5" cy="811.3" r="8.14"/><circle cx="1404.1" cy="460.3" r="8.14"/>
<circle cx="1373.5" cy="666.2" r="8.14"/><circle cx="1183.2" cy="411.2" r="8.14"/><circle cx="1350.0" cy="383.6" r="8.14"/><circle cx="1037.6" cy="226.3" r="8.14"/><circle cx="1190.9" cy="752.7" r="8.14"/><circle cx="2032.0" cy="658.1" r="8.14"/>
<circle cx="344.4" cy="631.2" r="8.14"/><circle cx="596.4" cy="669.4" r="8.14"/><circle cx="1252.1" cy="457.1" r="8.14"/><circle cx="1804.9" cy="678.4" r="8.14"/><circle cx="472.5" cy="658.4" r="8.14"/><circle cx="1398.8" cy="305.4" r="8.14"/>
<circle cx="686.8" cy="774.9" r="8.14"/><circle cx="674.6" cy="594.3" r="8.14"/><circle cx="1156.8" cy="812.1" r="8.14"/><circle cx="994.6" cy="664.0" r="8.14"/><circle cx="311.5" cy="861.1" r="8.14"/><circle cx="1221.6" cy="606.3" r="8.14"/>
<circle cx="1090.9" cy="450.5" r="8.14"/><circle cx="1237.1" cy="246.5" r="8.14"/><circle cx="791.3" cy="647.6" r="8.14"/><circle cx="817.2" cy="808.5" r="8.14"/><circle cx="2061.0" cy="738.9" r="8.14"/><circle cx="1873.7" cy="813.4" r="8.14"/>
<circle cx="1196.0" cy="719.5" r="8.14"/><circle cx="1452.9" cy="626.6" r="8.14"/><circle cx="1449.9" cy="682.1" r="8.14"/><circle cx="1222.8" cy="194.3" r="8.14"/><circle cx="1527.2" cy="639.1" r="8.14"/><circle cx="524.6" cy="841.4" r="8.14"/>
<circle cx="2039.4" cy="788.3" r="8.14"/><circle cx="1008.3" cy="266.7" r="8.14"/><circle cx="700.1" cy="766.3" r="8.14"/><circle cx="1288.9" cy="682.4" r="8.14"/><circle cx="1025.6" cy="588.0" r="8.14"/><circle cx="728.5" cy="880.5" r="8.14"/>
<circle cx="1954.7" cy="648.3" r="8.14"/><circle cx="498.6" cy="700.6" r="8.14"/><circle cx="2083.5" cy="827.6" r="8.14"/><circle cx="1406.3" cy="881.4" r="8.14"/><circle cx="1416.2" cy="765.5" r="8.14"/><circle cx="608.3" cy="755.6" r="8.14"/>
<circle cx="1219.0" cy="176.0" r="8.14"/><circle cx="815.8" cy="764.1" r="8.14"/><circle cx="617.2" cy="635.8" r="8.14"/><circle cx="1990.2" cy="679.8" r="8.14"/><circle cx="1437.2" cy="269.1" r="8.14"/><circle cx="706.8" cy="635.2" r="8.14"/>
<circle cx="690.9" cy="764.9" r="8.14"/><circle cx="1085.3" cy="270.8" r="8.14"/><circle cx="726.4" cy="610.2" r="8.14"/><circle cx="1080.0" cy="765.6" r="8.14"/><circle cx="1531.5" cy="884.9" r="8.14"/><circle cx="329.9" cy="646.4" r="8.14"/>
<circle cx="1859.7" cy="763.0" r="8.14"/><circle cx="1140.8" cy="453.0" r="8.14"/><circle cx="994.6" cy="451.8" r="8.14"/><circle cx="1732.9" cy="636.5" r="8.14"/><circle cx="1438.9" cy="196.5" r="8.14"/><circle cx="350.7" cy="758.3" r="8.14"/>
<circle cx="1307.2" cy="228.8" r="8.14"/><circle cx="1103.3" cy="813.9" r="8.14"/><circle cx="1210.6" cy="876.0" r="8.14"/><circle cx="741.4" cy="648.4" r="8.14"/><circle cx="1405.5" cy="777.6" r="8.14"/><circle cx="1137.4" cy="433.8" r="8.14"/>
<circle cx="2084.1" cy="834.9" r="8.14"/><circle cx="1393.2" cy="693.3" r="8.14"/><circle cx="1811.0" cy="824.0" r="8.14"/><circle cx="463.9" cy="785.3" r="8.14"/><circle cx="1839.4" cy="767.7" r="8.14"/><circle cx="1133.3" cy="239.8" r="8.14"/>
<circle cx="354.0" cy="631.6" r="8.14"/><circle cx="1033.5" cy="612.5" r="8.14"/><circle cx="1492.6" cy="484.0" r="8.14"/><circle cx="421.1" cy="792.3" r="8.14"/><circle cx="1186.4" cy="642.6" r="8.14"/><circle cx="1854.1" cy="652.9" r="8.14"/>
<circle cx="1438.2" cy="197.8" r="8.14"/><circle cx="1231.5" cy="471.6" r="8.14"/><circle cx="1175.0" cy="288.4" r="8.14"/><circle cx="1776.0" cy="763.3" r="8.14"/><circle cx="1161.5" cy="724.5" r="8.14"/><circle cx="1681.5" cy="784.9" r="8.14"/>
<circle cx="1464.2" cy="783.1" r="8.14"/><circle cx="353.0" cy="792.9" r="8.14"/><circle cx="1164.5" cy="196.7" r="8.14"/><circle cx="650.3" cy="646.8" r="8.14"/><circle cx="1199.0" cy="262.7" r="8.14"/><circle cx="1813.0" cy="577.9" r="8.14"/>
<circle cx="2047.9" cy="835.8" r="8.14"/><circle cx="1071.0" cy="711.0" r="8.14"/><circle cx="696.4" cy="826.3" r="8.14"/><circle cx="2187.6" cy="787.3" r="8.14"/><circle cx="2197.4" cy="624.0" r="8.14"/><circle cx="1213.8" cy="843.7" r="8.14"/>
<circle cx="1453.1" cy="366.2" r="8.14"/><circle cx="1183.4" cy="710.4" r="8.14"/><circle cx="1721.2" cy="570.3" r="8.14"/><circle cx="1377.2" cy="419.2" r="8.14"/><circle cx="413.0" cy="669.3" r="8.14"/><circle cx="1046.4" cy="656.9" r="8.14"/>
<circle cx="347.5" cy="715.8" r="8.14"/><circle cx="1358.0" cy="778.0" r="8.14"/><circle cx="639.0" cy="727.9" r="8.14"/><circle cx="812.4" cy="816.7" r="8.14"/><circle cx="1353.5" cy="297.2" r="8.14"/><circle cx="1461.0" cy="638.5" r="8.14"/>
<circle cx="2116.1" cy="747.2" r="8.14"/><circle cx="1142.0" cy="845.3" r="8.14"/><circle cx="2036.6" cy="798.8" r="8.14"/><circle cx="1046.3" cy="327.9" r="8.14"/><circle cx="2203.7" cy="844.7" r="8.14"/><circle cx="1281.0" cy="819.5" r="8.14"/>
<circle cx="1443.0" cy="864.9" r="8.14"/><circle cx="317.2" cy="760.5" r="8.14"/><circle cx="1276.3" cy="794.5" r="8.14"/><circle cx="1914.0" cy="606.5" r="8.14"/><circle cx="1230.4" cy="609.9" r="8.14"/><circle cx="330.0" cy="616.2" r="8.14"/>
<circle cx="1368.7" cy="352.5" r="8.14"/><circle cx="530.0" cy="623.4" r="8.14"/><circle cx="1102.3" cy="296.6" r="8.14"/><circle cx="1531.9" cy="679.4" r="8.14"/><circle cx="1861.6" cy="613.5" r="8.14"/><circle cx="726.3" cy="745.1" r="8.14"/>
<circle cx="2061.4" cy="600.5" r="8.14"/><circle cx="1524.5" cy="653.0" r="8.14"/><circle cx="302.9" cy="749.5" r="8.14"/><circle cx="1958.9" cy="826.8" r="8.14"/><circle cx="502.3" cy="586.2" r="8.14"/><circle cx="352.3" cy="839.9" r="8.14"/>
<circle cx="2014.1" cy="736.1" r="8.14"/><circle cx="1412.4" cy="671.6" r="8.14"/><circle cx="1146.1" cy="570.6" r="8.14"/><circle cx="770.6" cy="757.4" r="8.14"/><circle cx="328.6" cy="856.0" r="8.14"/><circle cx="2054.6" cy="818.9" r="8.14"/>
<circle cx="1492.5" cy="291.0" r="8.14"/><circle cx="827.9" cy="701.9" r="8.14"/><circle cx="1715.3" cy="722.0" r="8.14"/><circle cx="1390.0" cy="780.1" r="8.14"/><circle cx="1061.0" cy="232.3" r="8.14"/><circle cx="1321.5" cy="660.1" r="8.14"/>
<circle cx="1025.6" cy="644.5" r="8.14"/><circle cx="1036.0" cy="676.1" r="8.14"/><circle cx="1473.4" cy="354.1" r="8.14"/><circle cx="605.9" cy="704.5" r="8.14"/><circle cx="723.6" cy="785.4" r="8.14"/><circle cx="589.4" cy="627.8" r="8.14"/>
<circle cx="1697.7" cy="812.7" r="8.14"/><circle cx="1307.6" cy="361.0" r="8.14"/><circle cx="810.6" cy="842.2" r="8.14"/><circle cx="1458.0" cy="791.0" r="8.14"/><circle cx="2086.6" cy="861.4" r="8.14"/><circle cx="1324.8" cy="198.0" r="8.14"/>
<circle cx="2078.9" cy="796.2" r="8.14"/><circle cx="1942.0" cy="782.5" r="8.14"/><circle cx="1066.7" cy="834.0" r="8.14"/><circle cx="419.0" cy="602.2" r="8.14"/><circle cx="1272.7" cy="732.4" r="8.14"/><circle cx="2148.1" cy="766.6" r="8.14"/>
<circle cx="1002.8" cy="717.8" r="8.14"/><circle cx="2180.0" cy="768.3" r="8.14"/><circle cx="1410.6" cy="203.7" r="8.14"/><circle cx="1196.8" cy="576.4" r="8.14"/><circle cx="2223.9" cy="682.9" r="8.14"/><circle cx="1389.3" cy="236.9" r="8.14"/>
<circle cx="1187.6" cy="704.6" r="8.14"/><circle cx="1146.0" cy="726.8" r="8.14"/><circle cx="1004.6" cy="653.7" r="8.14"/><circle cx="1413.1" cy="355.1" r="8.14"/><circle cx="2129.8" cy="812.6" r="8.14"/><circle cx="426.4" cy="577.7" r="8.14"/>
<circle cx="711.9" cy="600.4" r="8.14"/><circle cx="1263.9" cy="259.2" r="8.14"/><circle cx="1757.0" cy="833.1" r="8.14"/><circle cx="2237.1" cy="728.6" r="8.14"/><circle cx="1168.0" cy="884.0" r="8.14"/><circle cx="545.9" cy="730.9" r="8.14"/>
<circle cx="1283.7" cy="224.3" r="8.14"/><circle cx="1486.4" cy="196.5" r="8.14"/><circle cx="1045.4" cy="865.1" r="8.14"/><circle cx="1233.2" cy="291.5" r="8.14"/><circle cx="1519.6" cy="399.7" r="8.14"/><circle cx="824.2" cy="793.8" r="8.14"/>
<circle cx="1702.4" cy="859.7" r="8.14"/><circle cx="1129.8" cy="329.9" r="8.14"/><circle cx="699.0" cy="664.1" r="8.14"/><circle cx="1411.1" cy="582.3" r="8.14"/><circle cx="1479.9" cy="415.5" r="8.14"/><circle cx="2169.2" cy="581.6" r="8.14"/>
<circle cx="1139.9" cy="681.3" r="8.14"/><circle cx="589.4" cy="784.9" r="8.14"/><circle cx="2207.5" cy="881.0" r="8.14"/><circle cx="783.7" cy="828.9" r="8.14"/><circle cx="1296.6" cy="435.9" r="8.14"/><circle cx="2169.2" cy="574.2" r="8.14"/>
<circle cx="1762.8" cy="633.9" r="8.14"/><circle cx="2103.5" cy="684.8" r="8.14"/><circle cx="2164.7" cy="808.7" r="8.14"/><circle cx="1212.7" cy="470.8" r="8.14"/><circle cx="1771.1" cy="660.1" r="8.14"/><circle cx="1206.7" cy="578.6" r="8.14"/>
<circle cx="1041.3" cy="740.8" r="8.14"/><circle cx="1903.5" cy="604.1" r="8.14"/><circle cx="504.8" cy="697.3" r="8.14"/><circle cx="1805.1" cy="690.2" r="8.14"/><circle cx="1102.2" cy="873.9" r="8.14"/><circle cx="1320.3" cy="827.8" r="8.14"/>
<circle cx="1276.3" cy="373.3" r="8.14"/><circle cx="759.3" cy="759.6" r="8.14"/><circle cx="694.8" cy="852.7" r="8.14"/><circle cx="1090.4" cy="250.5" r="8.14"/><circle cx="396.9" cy="759.5" r="8.14"/><circle cx="1929.3" cy="752.0" r="8.14"/>
<circle cx="1174.3" cy="221.3" r="8.14"/><circle cx="1061.3" cy="649.8" r="8.14"/><circle cx="1118.6" cy="839.3" r="8.14"/><circle cx="1886.8" cy="819.4" r="8.14"/><circle cx="2226.2" cy="801.4" r="8.14"/><circle cx="1305.7" cy="842.6" r="8.14"/>
<circle cx="1413.3" cy="633.8" r="8.14"/><circle cx="1778.8" cy="793.0" r="8.14"/><circle cx="495.4" cy="884.9" r="8.14"/><circle cx="1467.0" cy="183.5" r="8.14"/><circle cx="1703.8" cy="741.9" r="8.14"/><circle cx="334.3" cy="869.6" r="8.14"/>
<circle cx="1903.6" cy="842.3" r="8.14"/><circle cx="1345.4" cy="699.7" r="8.14"/><circle cx="1335.0" cy="570.0" r="8.14"/><circle cx="833.2" cy="832.2" r="8.14"/><circle cx="1304.9" cy="767.3" r="8.14"/><circle cx="2021.8" cy="673.8" r="8.14"/>
<circle cx="512.8" cy="812.4" r="8.14"/><circle cx="1431.5" cy="765.9" r="8.14"/><circle cx="1750.8" cy="714.1" r="8.14"/><circle cx="2024.6" cy="642.5" r="8.14"/><circle cx="846.0" cy="726.1" r="8.14"/><circle cx="1299.5" cy="820.8" r="8.14"/>
<circle cx="1248.2" cy="759.9" r="8.14"/><circle cx="1262.2" cy="792.4" r="8.14"/><circle cx="2093.7" cy="824.0" r="8.14"/><circle cx="587.3" cy="574.9" r="8.14"/><circle cx="1452.7" cy="456.4" r="8.14"/><circle cx="1100.0" cy="369.4" r="8.14"/>
<circle cx="1023.3" cy="272.2" r="8.14"/><circle cx="1002.7" cy="216.9" r="8.14"/><circle cx="1408.2" cy="639.5" r="8.14"/><circle cx="1333.1" cy="416.4" r="8.14"/><circle cx="1898.8" cy="677.4" r="8.14"/><circle cx="1319.6" cy="368.6" r="8.14"/>
<circle cx="1028.7" cy="791.3" r="8.14"/><circle cx="1492.2" cy="715.2" r="8.14"/><circle cx="1028.0" cy="801.1" r="8.14"/><circle cx="1986.8" cy="636.1" r="8.14"/><circle cx="1483.6" cy="228.1" r="8.14"/><circle cx="1104.0" cy="286.9" r="8.14"/>
<circle cx="398.4" cy="632.7" r="8.14"/><circle cx="602.3" cy="605.8" r="8.14"/><circle cx="1892.7" cy="875.4" r="8.14"/><circle cx="1486.9" cy="279.2" r="8.14"/><circle cx="1364.5" cy="419.8" r="8.14"/><circle cx="1416.2" cy="765.0" r="8.14"/>
<circle cx="1470.9" cy="788.9" r="8.14"/><circle cx="1099.4" cy="280.4" r="8.14"/><circle cx="669.4" cy="809.7" r="8.14"/><circle cx="842.3" cy="621.4" r="8.14"/><circle cx="392.3" cy="633.9" r="8.14"/><circle cx="700.9" cy="836.5" r="8.14"/>
<circle cx="1081.1" cy="600.0" r="8.14"/><circle cx="1915.7" cy="743.9" r="8.14"/><circle cx="448.4" cy="752.8" r="8.14"/><circle cx="2144.4" cy="815.9" r="8.14"/><circle cx="1486.4" cy="700.7" r="8.14"/><circle cx="1236.8" cy="255.4" r="8.14"/>
<circle cx="1860.0" cy="692.9" r="8.14"/><circle cx="1047.2" cy="411.2" r="8.14"/><circle cx="1997.2" cy="818.0" r="8.14"/><circle cx="1007.3" cy="843.1" r="8.14"/><circle cx="1462.0" cy="351.6" r="8.14"/><circle cx="1686.2" cy="721.4" r="8.14"/>
<circle cx="1892.6" cy="853.4" r="8.14"/><circle cx="611.1" cy="817.9" r="8.14"/><circle cx="611.2" cy="719.3" r="8.14"/><circle cx="1255.3" cy="648.3" r="8.14"/><circle cx="1297.4" cy="191.1" r="8.14"/><circle cx="648.5" cy="879.6" r="8.14"/>
<circle cx="506.4" cy="625.8" r="8.14"/><circle cx="1082.8" cy="581.0" r="8.14"/><circle cx="1251.6" cy="195.8" r="8.14"/><circle cx="702.6" cy="786.7" r="8.14"/><circle cx="1209.3" cy="810.4" r="8.14"/><circle cx="464.7" cy="720.2" r="8.14"/>
<circle cx="1018.3" cy="373.7" r="8.14"/><circle cx="1521.0" cy="772.0" r="8.14"/><circle cx="1976.5" cy="730.6" r="8.14"/><circle cx="1000.7" cy="186.7" r="8.14"/><circle cx="1249.1" cy="752.1" r="8.14"/><circle cx="1187.0" cy="594.5" r="8.14"/>
<circle cx="2135.6" cy="689.9" r="8.14"/><circle cx="1719.3" cy="884.6" r="8.14"/><circle cx="327.0" cy="600.8" r="8.14"/><circle cx="1366.9" cy="765.4" r="8.14"/><circle cx="2072.4" cy="598.2" r="8.14"/><circle cx="815.2" cy="709.9" r="8.14"/>
<circle cx="1213.0" cy="647.8" r="8.14"/><circle cx="753.5" cy="786.7" r="8.14"/><circle cx="638.4" cy="855.6" r="8.14"/><circle cx="1383.2" cy="321.7" r="8.14"/><circle cx="1337.7" cy="825.9" r="8.14"/><circle cx="442.1" cy="783.2" r="8.14"/>
<circle cx="1998.0" cy="880.2" r="8.14"/><circle cx="565.2" cy="819.6" r="8.14"/><circle cx="472.1" cy="740.0" r="8.14"/><circle cx="1186.5" cy="583.2" r="8.14"/><circle cx="2229.7" cy="821.5" r="8.14"/><circle cx="1521.7" cy="570.8" r="8.14"/>
<circle cx="571.4" cy="659.0" r="8.14"/><circle cx="361.1" cy="868.6" r="8.14"/><circle cx="1476.0" cy="178.6" r="8.14"/><circle cx="2063.4" cy="702.6" r="8.14"/><circle cx="996.4" cy="621.8" r="8.14"/><circle cx="1045.9" cy="873.4" r="8.14"/>
<circle cx="586.2" cy="789.1" r="8.14"/><circle cx="2161.6" cy="756.2" r="8.14"/><circle cx="1117.0" cy="850.8" r="8.14"/><circle cx="1384.0" cy="731.6" r="8.14"/><circle cx="655.8" cy="699.3" r="8.14"/><circle cx="1352.9" cy="732.4" r="8.14"/>
<circle cx="1250.0" cy="454.1" r="8.14"/><circle cx="2017.2" cy="885.6" r="8.14"/><circle cx="1392.8" cy="880.3" r="8.14"/><circle cx="1297.7" cy="869.4" r="8.14"/><circle cx="347.7" cy="645.5" r="8.14"/><circle cx="1369.6" cy="657.5" r="8.14"/>
<circle cx="421.5" cy="782.6" r="8.14"/><circle cx="772.0" cy="813.4" r="8.14"/><circle cx="562.1" cy="644.5" r="8.14"/><circle cx="1997.1" cy="769.2" r="8.14"/><circle cx="454.7" cy="771.8" r="8.14"/><circle cx="785.4" cy="761.5" r="8.14"/>
<circle cx="2179.7" cy="881.1" r="8.14"/><circle cx="2042.5" cy="736.0" r="8.14"/><circle cx="1498.6" cy="654.4" r="8.14"/><circle cx="1410.4" cy="882.1" r="8.14"/><circle cx="1417.8" cy="796.4" r="8.14"/><circle cx="1063.4" cy="682.3" r="8.14"/>
<circle cx="589.2" cy="779.0" r="8.14"/><circle cx="591.1" cy="689.2" r="8.14"/><circle cx="1044.3" cy="761.8" r="8.14"/><circle cx="650.3" cy="626.7" r="8.14"/><circle cx="991.5" cy="693.7" r="8.14"/><circle cx="464.4" cy="790.9" r="8.14"/>
<circle cx="1247.6" cy="865.9" r="8.14"/><circle cx="1410.9" cy="220.5" r="8.14"/><circle cx="1057.4" cy="384.6" r="8.14"/><circle cx="1034.4" cy="811.2" r="8.14"/><circle cx="1260.2" cy="866.8" r="8.14"/><circle cx="323.3" cy="846.7" r="8.14"/>
<circle cx="520.9" cy="803.4" r="8.14"/><circle cx="783.4" cy="627.7" r="8.14"/><circle cx="463.8" cy="721.4" r="8.14"/><circle cx="572.0" cy="583.0" r="8.14"/><circle cx="2039.9" cy="589.0" r="8.14"/><circle cx="758.2" cy="711.4" r="8.14"/>
<circle cx="1070.3" cy="664.9" r="8.14"/><circle cx="1391.8" cy="700.7" r="8.14"/><circle cx="1468.8" cy="487.3" r="8.14"/><circle cx="1738.9" cy="617.4" r="8.14"/><circle cx="1358.6" cy="220.0" r="8.14"/><circle cx="1292.3" cy="705.5" r="8.14"/>
<circle cx="2070.0" cy="691.2" r="8.14"/><circle cx="1429.3" cy="676.9" r="8.14"/><circle cx="727.2" cy="628.7" r="8.14"/><circle cx="2230.8" cy="722.2" r="8.14"/><circle cx="325.3" cy="793.9" r="8.14"/><circle cx="1307.0" cy="573.2" r="8.14"/>
<circle cx="1846.4" cy="651.8" r="8.14"/><circle cx="1204.5" cy="292.1" r="8.14"/><circle cx="1415.3" cy="855.3" r="8.14"/><circle cx="1823.2" cy="763.2" r="8.14"/><circle cx="1245.9" cy="841.4" r="8.14"/><circle cx="1342.3" cy="452.8" r="8.14"/>
<circle cx="2209.1" cy="681.3" r="8.14"/><circle cx="1262.4" cy="267.8" r="8.14"/><circle cx="1291.4" cy="239.5" r="8.14"/><circle cx="2187.4" cy="640.8" r="8.14"/><circle cx="1236.3" cy="649.9" r="8.14"/><circle cx="1750.8" cy="817.9" r="8.14"/>
<circle cx="1806.8" cy="717.6" r="8.14"/><circle cx="1458.1" cy="260.1" r="8.14"/><circle cx="2218.5" cy="647.8" r="8.14"/><circle cx="1243.0" cy="355.2" r="8.14"/><circle cx="1199.7" cy="277.8" r="8.14"/><circle cx="1017.8" cy="407.5" r="8.14"/>
<circle cx="1020.5" cy="857.4" r="8.14"/><circle cx="1072.6" cy="727.9" r="8.14"/><circle cx="1960.4" cy="698.6" r="8.14"/><circle cx="1201.8" cy="693.9" r="8.14"/><circle cx="1039.7" cy="581.2" r="8.14"/><circle cx="475.0" cy="639.5" r="8.14"/>
<circle cx="300.4" cy="751.0" r="8.14"/><circle cx="743.2" cy="572.5" r="8.14"/><circle cx="1470.7" cy="213.1" r="8.14"/><circle cx="1279.7" cy="778.7" r="8.14"/><circle cx="1473.2" cy="185.6" r="8.14"/><circle cx="1146.5" cy="790.6" r="8.14"/>
<circle cx="1696.1" cy="743.8" r="8.14"/><circle cx="770.1" cy="753.3" r="8.14"/><circle cx="2174.3" cy="659.5" r="8.14"/><circle cx="2089.7" cy="613.0" r="8.14"/><circle cx="1309.6" cy="759.6" r="8.14"/><circle cx="1041.5" cy="866.1" r="8.14"/>
<circle cx="2210.4" cy="868.2" r="8.14"/><circle cx="1943.5" cy="723.6" r="8.14"/><circle cx="519.0" cy="746.6" r="8.14"/><circle cx="1139.7" cy="576.7" r="8.14"/><circle cx="2017.9" cy="701.7" r="8.14"/><circle cx="1931.7" cy="699.3" r="8.14"/>
<circle cx="2148.9" cy="637.8" r="8.14"/><circle cx="1216.3" cy="862.4" r="8.14"/><circle cx="1250.2" cy="678.7" r="8.14"/><circle cx="796.4" cy="581.2" r="8.14"/><circle cx="2030.1" cy="848.3" r="8.14"/><circle cx="1167.0" cy="384.2" r="8.14"/>
<circle cx="1378.1" cy="285.6" r="8.14"/><circle cx="1091.2" cy="214.1" r="8.14"/><circle cx="341.7" cy="720.2" r="8.14"/><circle cx="1027.3" cy="187.8" r="8.14"/><circle cx="454.4" cy="700.0" r="8.14"/><circle cx="445.9" cy="871.4" r="8.14"/>
<circle cx="1040.3" cy="575.2" r="8.14"/><circle cx="708.8" cy="726.2" r="8.14"/><circle cx="1470.3" cy="760.0" r="8.14"/><circle cx="826.6" cy="801.7" r="8.14"/><circle cx="1294.4" cy="609.9" r="8.14"/><circle cx="1411.2" cy="589.4" r="8.14"/>
<circle cx="1255.6" cy="262.9" r="8.14"/><circle cx="1073.7" cy="393.9" r="8.14"/><circle cx="1444.8" cy="213.7" r="8.14"/><circle cx="1036.5" cy="277.9" r="8.14"/><circle cx="790.2" cy="652.5" r="8.14"/><circle cx="647.9" cy="577.3" r="8.14"/>
<circle cx="1167.7" cy="421.5" r="8.14"/><circle cx="629.5" cy="847.9" r="8.14"/><circle cx="673.3" cy="837.5" r="8.14"/><circle cx="1228.6" cy="784.0" r="8.14"/><circle cx="1947.9" cy="681.5" r="8.14"/><circle cx="2229.0" cy="768.3" r="8.14"/>
<circle cx="2135.0" cy="792.2" r="8.14"/><circle cx="637.6" cy="804.8" r="8.14"/><circle cx="1096.0" cy="724.7" r="8.14"/><circle cx="1084.5" cy="812.0" r="8.14"/><circle cx="500.5" cy="747.5" r="8.14"/><circle cx="822.5" cy="865.9" r="8.14"/>
<circle cx="1263.3" cy="261.4" r="8.14"/><circle cx="1106.4" cy="463.8" r="8.14"/><circle cx="1477.5" cy="584.9" r="8.14"/><circle cx="300.5" cy="574.3" r="8.14"/><circle cx="542.6" cy="824.8" r="8.14"/><circle cx="1476.0" cy="247.2" r="8.14"/>
<circle cx="2184.3" cy="740.4" r="8.14"/><circle cx="452.6" cy="766.3" r="8.14"/><circle cx="1436.0" cy="749.4" r="8.14"/><circle cx="1455.5" cy="783.5" r="8.14"/><circle cx="1002.3" cy="403.3" r="8.14"/><circle cx="1379.5" cy="854.5" r="8.14"/>
<circle cx="746.3" cy="780.6" r="8.14"/><circle cx="725.8" cy="617.8" r="8.14"/><circle cx="1263.6" cy="303.5" r="8.14"/><circle cx="676.7" cy="617.7" r="8.14"/><circle cx="1122.0" cy="870.0" r="8.14"/><circle cx="1845.5" cy="869.6" r="8.14"/>
<circle cx="1300.9" cy="713.0" r="8.14"/><circle cx="2222.3" cy="638.2" r="8.14"/><circle cx="336.0" cy="634.7" r="8.14"/><circle cx="1486.0" cy="411.5" r="8.14"/><circle cx="1422.1" cy="849.0" r="8.14"/><circle cx="382.5" cy="609.7" r="8.14"/>
<circle cx="1208.1" cy="667.3" r="8.14"/><circle cx="2173.6" cy="852.8" r="8.14"/><circle cx="616.5" cy="622.4" r="8.14"/><circle cx="561.3" cy="745.5" r="8.14"/><circle cx="1252.9" cy="753.7" r="8.14"/><circle cx="761.9" cy="670.5" r="8.14"/>
<circle cx="1304.2" cy="292.1" r="8.14"/><circle cx="2132.1" cy="610.8" r="8.14"/><circle cx="1462.8" cy="807.6" r="8.14"/><circle cx="1391.5" cy="779.4" r="8.14"/><circle cx="1078.6" cy="451.9" r="8.14"/><circle cx="1082.2" cy="655.3" r="8.14"/>
<circle cx="765.2" cy="771.3" r="8.14"/><circle cx="340.5" cy="794.5" r="8.14"/><circle cx="1483.1" cy="850.3" r="8.14"/><circle cx="2035.0" cy="575.6" r="8.14"/><circle cx="643.7" cy="812.2" r="8.14"/><circle cx="1057.9" cy="341.7" r="8.14"/>
<circle cx="1183.2" cy="262.7" r="8.14"/><circle cx="1387.5" cy="788.8" r="8.14"/><circle cx="1028.3" cy="274.5" r="8.14"/><circle cx="403.6" cy="788.2" r="8.14"/><circle cx="1916.0" cy="781.9" r="8.14"/><circle cx="2212.0" cy="722.2" r="8.14"/>
<circle cx="1157.1" cy="485.3" r="8.14"/><circle cx="1812.6" cy="576.7" r="8.14"/><circle cx="1188.0" cy="836.7" r="8.14"/><circle cx="346.4" cy="877.2" r="8.14"/><circle cx="1429.7" cy="191.2" r="8.14"/><circle cx="468.7" cy="727.0" r="8.14"/>
<circle cx="1506.7" cy="741.1" r="8.14"/><circle cx="328.3" cy="627.0" r="8.14"/><circle cx="1539.3" cy="719.8" r="8.14"/><circle cx="1083.7" cy="646.2" r="8.14"/><circle cx="379.2" cy="641.5" r="8.14"/><circle cx="1354.3" cy="642.5" r="8.14"/>
<circle cx="1210.0" cy="243.6" r="8.14"/><circle cx="1153.5" cy="837.8" r="8.14"/><circle cx="1015.2" cy="475.2" r="8.14"/><circle cx="1742.1" cy="784.2" r="8.14"/><circle cx="1231.5" cy="718.2" r="8.14"/><circle cx="1361.6" cy="238.1" r="8.14"/>
<circle cx="1352.2" cy="792.5" r="8.14"/><circle cx="1049.7" cy="845.0" r="8.14"/><circle cx="1315.6" cy="718.8" r="8.14"/><circle cx="743.6" cy="727.9" r="8.14"/><circle cx="1344.7" cy="769.4" r="8.14"/><circle cx="1171.8" cy="348.8" r="8.14"/>
<circle cx="2184.5" cy="594.5" r="8.14"/><circle cx="822.1" cy="647.1" r="8.14"/><circle cx="1845.5" cy="638.5" r="8.14"/><circle cx="1997.5" cy="807.2" r="8.14"/><circle cx="1234.6" cy="869.5" r="8.14"/><circle cx="1424.3" cy="387.9" r="8.14"/>
<circle cx="1428.8" cy="447.8" r="8.14"/><circle cx="521.4" cy="584.3" r="8.14"/><circle cx="1511.0" cy="589.9" r="8.14"/><circle cx="1476.0" cy="275.3" r="8.14"/><circle cx="1478.1" cy="339.7" r="8.14"/><circle cx="1369.4" cy="647.4" r="8.14"/>
<circle cx="523.3" cy="583.7" r="8.14"/><circle cx="393.3" cy="699.4" r="8.14"/><circle cx="541.7" cy="844.3" r="8.14"/><circle cx="1427.9" cy="221.8" r="8.14"/><circle cx="1088.4" cy="649.1" r="8.14"/><circle cx="2102.7" cy="775.3" r="8.14"/>
<circle cx="694.9" cy="682.4" r="8.14"/><circle cx="785.0" cy="848.8" r="8.14"/><circle cx="1508.9" cy="631.8" r="8.14"/><circle cx="1986.7" cy="602.5" r="8.14"/><circle cx="2136.5" cy="713.8" r="8.14"/><circle cx="2236.1" cy="846.6" r="8.14"/>
<circle cx="1304.4" cy="732.3" r="8.14"/><circle cx="1854.7" cy="626.2" r="8.14"/><circle cx="1103.4" cy="635.2" r="8.14"/><circle cx="708.0" cy="812.5" r="8.14"/><circle cx="1762.3" cy="820.3" r="8.14"/><circle cx="1451.2" cy="422.9" r="8.14"/>
<circle cx="761.4" cy="687.2" r="8.14"/><circle cx="528.4" cy="792.9" r="8.14"/><circle cx="1738.0" cy="735.5" r="8.14"/><circle cx="689.1" cy="717.7" r="8.14"/><circle cx="1335.6" cy="646.2" r="8.14"/><circle cx="1398.9" cy="574.7" r="8.14"/>
<circle cx="490.0" cy="597.0" r="8.14"/><circle cx="1021.9" cy="819.7" r="8.14"/><circle cx="479.9" cy="725.3" r="8.14"/><circle cx="751.4" cy="662.8" r="8.14"/><circle cx="1193.3" cy="298.1" r="8.14"/><circle cx="1306.3" cy="774.5" r="8.14"/>
<circle cx="1420.5" cy="380.6" r="8.14"/><circle cx="1848.1" cy="871.4" r="8.14"/><circle cx="2067.1" cy="581.2" r="8.14"/><circle cx="1220.0" cy="853.1" r="8.14"/><circle cx="639.2" cy="592.1" r="8.14"/><circle cx="370.6" cy="595.9" r="8.14"/>
<circle cx="1388.5" cy="746.2" r="8.14"/><circle cx="1045.3" cy="261.5" r="8.14"/><circle cx="2057.7" cy="571.4" r="8.14"/><circle cx="1095.2" cy="246.8" r="8.14"/><circle cx="1441.3" cy="843.5" r="8.14"/><circle cx="692.3" cy="738.0" r="8.14"/>
<circle cx="2108.8" cy="858.0" r="8.14"/><circle cx="1151.4" cy="727.6" r="8.14"/><circle cx="1135.4" cy="585.1" r="8.14"/><circle cx="1705.5" cy="874.3" r="8.14"/><circle cx="626.0" cy="849.5" r="8.14"/><circle cx="346.3" cy="808.6" r="8.14"/>
<circle cx="1491.2" cy="460.3" r="8.14"/><circle cx="780.8" cy="799.9" r="8.14"/><circle cx="1749.0" cy="872.7" r="8.14"/><circle cx="611.8" cy="871.8" r="8.14"/><circle cx="1923.9" cy="876.4" r="8.14"/><circle cx="377.4" cy="788.9" r="8.14"/>
<circle cx="1139.0" cy="717.4" r="8.14"/><circle cx="586.5" cy="817.1" r="8.14"/><circle cx="1876.4" cy="714.6" r="8.14"/><circle cx="1249.2" cy="799.3" r="8.14"/><circle cx="1803.8" cy="665.7" r="8.14"/><circle cx="671.4" cy="788.7" r="8.14"/>
<circle cx="1742.0" cy="584.0" r="8.14"/><circle cx="793.5" cy="732.5" r="8.14"/><circle cx="1497.1" cy="621.9" r="8.14"/><circle cx="1047.5" cy="267.2" r="8.14"/><circle cx="833.5" cy="747.2" r="8.14"/><circle cx="716.8" cy="813.8" r="8.14"/>
<circle cx="1196.4" cy="783.3" r="8.14"/><circle cx="638.0" cy="579.9" r="8.14"/><circle cx="1306.5" cy="324.4" r="8.14"/><circle cx="1197.2" cy="378.4" r="8.14"/><circle cx="761.6" cy="859.1" r="8.14"/><circle cx="446.0" cy="666.9" r="8.14"/>
<circle cx="1286.0" cy="340.6" r="8.14"/><circle cx="1878.3" cy="610.6" r="8.14"/><circle cx="748.3" cy="617.6" r="8.14"/><circle cx="1828.0" cy="667.0" r="8.14"/><circle cx="1703.0" cy="778.6" r="8.14"/><circle cx="492.3" cy="863.7" r="8.14"/>
<circle cx="1450.1" cy="860.1" r="8.14"/><circle cx="1856.8" cy="827.8" r="8.14"/><circle cx="359.0" cy="693.7" r="8.14"/><circle cx="1862.5" cy="624.2" r="8.14"/><circle cx="1786.7" cy="820.6" r="8.14"/><circle cx="427.5" cy="770.5" r="8.14"/>
<circle cx="302.4" cy="766.4" r="8.14"/><circle cx="1463.6" cy="696.8" r="8.14"/><circle cx="1095.6" cy="268.6" r="8.14"/><circle cx="1293.0" cy="446.5" r="8.14"/><circle cx="988.8" cy="239.6" r="8.14"/><circle cx="1779.4" cy="819.5" r="8.14"/>
<circle cx="2069.1" cy="599.5" r="8.14"/><circle cx="419.3" cy="822.6" r="8.14"/><circle cx="422.9" cy="831.6" r="8.14"/><circle cx="1303.4" cy="597.1" r="8.14"/><circle cx="1456.2" cy="271.7" r="8.14"/><circle cx="1699.3" cy="809.3" r="8.14"/>
<circle cx="730.4" cy="620.7" r="8.14"/><circle cx="671.8" cy="682.3" r="8.14"/><circle cx="672.6" cy="713.1" r="8.14"/><circle cx="581.5" cy="623.0" r="8.14"/><circle cx="649.9" cy="837.8" r="8.14"/><circle cx="1253.7" cy="666.4" r="8.14"/>
<circle cx="1350.5" cy="672.8" r="8.14"/><circle cx="1111.4" cy="776.4" r="8.14"/><circle cx="1130.3" cy="334.7" r="8.14"/><circle cx="1213.1" cy="875.0" r="8.14"/><circle cx="781.7" cy="586.1" r="8.14"/><circle cx="1045.6" cy="645.5" r="8.14"/>
<circle cx="1715.5" cy="621.0" r="8.14"/><circle cx="1780.3" cy="845.9" r="8.14"/><circle cx="1928.1" cy="593.4" r="8.14"/><circle cx="1012.3" cy="282.2" r="8.14"/><circle cx="800.6" cy="631.6" r="8.14"/><circle cx="1999.5" cy="842.1" r="8.14"/>
<circle cx="782.2" cy="785.0" r="8.14"/><circle cx="1906.5" cy="771.2" r="8.14"/><circle cx="702.7" cy="801.4" r="8.14"/><circle cx="1201.1" cy="478.2" r="8.14"/><circle cx="798.4" cy="664.4" r="8.14"/><circle cx="2227.6" cy="668.7" r="8.14"/>
<circle cx="1119.7" cy="434.8" r="8.14"/><circle cx="1265.3" cy="674.1" r="8.14"/><circle cx="1150.2" cy="370.4" r="8.14"/><circle cx="629.3" cy="701.0" r="8.14"/><circle cx="2055.2" cy="626.2" r="8.14"/><circle cx="2025.9" cy="732.6" r="8.14"/>
<circle cx="1348.2" cy="882.8" r="8.14"/><circle cx="1010.9" cy="739.3" r="8.14"/><circle cx="1418.3" cy="758.1" r="8.14"/><circle cx="1077.8" cy="882.9" r="8.14"/><circle cx="1682.9" cy="736.4" r="8.14"/><circle cx="819.0" cy="604.7" r="8.14"/>
<circle cx="546.2" cy="798.8" r="8.14"/><circle cx="679.3" cy="592.3" r="8.14"/><circle cx="1728.1" cy="693.0" r="8.14"/><circle cx="1240.6" cy="684.2" r="8.14"/><circle cx="1015.4" cy="278.7" r="8.14"/><circle cx="1195.5" cy="354.1" r="8.14"/>
<circle cx="791.0" cy="591.8" r="8.14"/><circle cx="515.7" cy="641.5" r="8.14"/><circle cx="721.0" cy="699.1" r="8.14"/><circle cx="1471.0" cy="186.3" r="8.14"/><circle cx="1124.5" cy="779.4" r="8.14"/><circle cx="1190.7" cy="370.5" r="8.14"/>
<circle cx="1000.2" cy="659.9" r="8.14"/><circle cx="534.5" cy="629.8" r="8.14"/><circle cx="1436.2" cy="486.6" r="8.14"/><circle cx="1972.3" cy="745.5" r="8.14"/><circle cx="1273.3" cy="877.8" r="8.14"/><circle cx="1119.6" cy="634.2" r="8.14"/>
<circle cx="1100.8" cy="762.8" r="8.14"/><circle cx="652.4" cy="736.5" r="8.14"/><circle cx="1907.4" cy="679.2" r="8.14"/><circle cx="844.3" cy="874.3" r="8.14"/><circle cx="1422.8" cy="339.1" r="8.14"/><circle cx="1141.6" cy="443.2" r="8.14"/>
<circle cx="2052.0" cy="594.8" r="8.14"/><circle cx="1243.5" cy="581.7" r="8.14"/><circle cx="1787.4" cy="593.4" r="8.14"/><circle cx="1264.4" cy="320.1" r="8.14"/><circle cx="633.3" cy="857.3" r="8.14"/><circle cx="1257.2" cy="430.2" r="8.14"/>
<circle cx="1266.8" cy="397.0" r="8.14"/><circle cx="428.7" cy="864.6" r="8.14"/><circle cx="1008.0" cy="656.3" r="8.14"/><circle cx="712.3" cy="699.4" r="8.14"/><circle cx="812.6" cy="828.2" r="8.14"/><circle cx="1993.1" cy="701.0" r="8.14"/>
<circle cx="1703.4" cy="659.5" r="8.14"/><circle cx="1072.2" cy="763.0" r="8.14"/><circle cx="691.4" cy="731.6" r="8.14"/><circle cx="1930.2" cy="862.9" r="8.14"/><circle cx="1400.8" cy="753.7" r="8.14"/><circle cx="2041.2" cy="628.5" r="8.14"/>
<circle cx="2013.1" cy="808.1" r="8.14"/><circle cx="1212.1" cy="802.7" r="8.14"/><circle cx="1476.4" cy="320.9" r="8.14"/><circle cx="1192.0" cy="289.5" r="8.14"/><circle cx="1521.0" cy="569.2" r="8.14"/><circle cx="1896.6" cy="732.1" r="8.14"/>
<circle cx="296.5" cy="796.9" r="8.14"/><circle cx="815.1" cy="756.1" r="8.14"/><circle cx="1780.5" cy="863.7" r="8.14"/><circle cx="1430.1" cy="185.0" r="8.14"/><circle cx="628.7" cy="880.2" r="8.14"/><circle cx="1334.8" cy="299.1" r="8.14"/>
<circle cx="381.5" cy="760.9" r="8.14"/><circle cx="1125.9" cy="293.7" r="8.14"/><circle cx="1109.0" cy="459.8" r="8.14"/><circle cx="1195.0" cy="831.6" r="8.14"/><circle cx="1074.7" cy="612.3" r="8.14"/><circle cx="745.9" cy="785.1" r="8.14"/>
<circle cx="2214.8" cy="625.5" r="8.14"/><circle cx="1072.3" cy="251.2" r="8.14"/><circle cx="677.6" cy="797.7" r="8.14"/><circle cx="1152.9" cy="393.7" r="8.14"/><circle cx="993.9" cy="885.1" r="8.14"/><circle cx="1449.4" cy="572.6" r="8.14"/>
<circle cx="1020.0" cy="798.8" r="8.14"/><circle cx="2105.1" cy="608.7" r="8.14"/><circle cx="1204.9" cy="816.9" r="8.14"/><circle cx="1754.9" cy="770.0" r="8.14"/><circle cx="1260.4" cy="684.4" r="8.14"/><circle cx="1730.0" cy="612.7" r="8.14"/>
<circle cx="1023.8" cy="684.2" r="8.14"/><circle cx="1192.6" cy="572.3" r="8.14"/><circle cx="806.8" cy="883.7" r="8.14"/><circle cx="1991.4" cy="622.2" r="8.14"/><circle cx="2166.0" cy="622.0" r="8.14"/><circle cx="1043.4" cy="206.2" r="8.14"/>
<circle cx="1259.4" cy="253.1" r="8.14"/><circle cx="1398.7" cy="810.4" r="8.14"/><circle cx="1023.2" cy="277.0" r="8.14"/><circle cx="2198.7" cy="702.8" r="8.14"/><circle cx="1176.6" cy="851.0" r="8.14"/><circle cx="1229.9" cy="810.3" r="8.14"/>
<circle cx="1882.3" cy="817.3" r="8.14"/><circle cx="1324.5" cy="790.9" r="8.14"/><circle cx="1097.4" cy="802.3" r="8.14"/><circle cx="1459.2" cy="248.6" r="8.14"/><circle cx="1007.1" cy="449.1" r="8.14"/><circle cx="576.7" cy="684.7" r="8.14"/>
<circle cx="1371.1" cy="741.4" r="8.14"/><circle cx="325.6" cy="650.4" r="8.14"/><circle cx="1259.3" cy="184.6" r="8.14"/><circle cx="1449.5" cy="656.4" r="8.14"/><circle cx="1159.2" cy="861.2" r="8.14"/><circle cx="1345.9" cy="842.2" r="8.14"/>
<circle cx="2092.4" cy="705.6" r="8.14"/><circle cx="1154.8" cy="728.5" r="8.14"/><circle cx="1316.2" cy="661.2" r="8.14"/><circle cx="1386.1" cy="711.8" r="8.14"/><circle cx="440.3" cy="598.8" r="8.14"/><circle cx="1992.4" cy="801.2" r="8.14"/>
<circle cx="2134.0" cy="835.6" r="8.14"/><circle cx="1176.8" cy="842.0" r="8.14"/><circle cx="2126.1" cy="764.6" r="8.14"/><circle cx="1458.0" cy="879.2" r="8.14"/><circle cx="416.6" cy="622.7" r="8.14"/><circle cx="1384.7" cy="676.9" r="8.14"/>
<circle cx="291.6" cy="783.6" r="8.14"/><circle cx="303.4" cy="683.2" r="8.14"/><circle cx="845.7" cy="617.7" r="8.14"/><circle cx="1337.3" cy="672.2" r="8.14"/><circle cx="508.2" cy="886.7" r="8.14"/><circle cx="1738.7" cy="717.8" r="8.14"/>
<circle cx="1305.0" cy="714.3" r="8.14"/><circle cx="1163.1" cy="260.5" r="8.14"/><circle cx="1528.0" cy="229.3" r="8.14"/><circle cx="741.8" cy="598.1" r="8.14"/><circle cx="2134.0" cy="872.9" r="8.14"/><circle cx="1466.3" cy="886.7" r="8.14"/>
<circle cx="791.2" cy="674.8" r="8.14"/><circle cx="536.1" cy="834.2" r="8.14"/><circle cx="2090.7" cy="847.5" r="8.14"/><circle cx="442.0" cy="870.5" r="8.14"/><circle cx="1010.8" cy="586.4" r="8.14"/><circle cx="1684.0" cy="682.7" r="8.14"/>
<circle cx="1092.0" cy="277.6" r="8.14"/><circle cx="1888.8" cy="852.1" r="8.14"/><circle cx="2212.0" cy="675.7" r="8.14"/><circle cx="1800.6" cy="633.2" r="8.14"/><circle cx="2122.2" cy="867.8" r="8.14"/><circle cx="796.9" cy="608.8" r="8.14"/>
<circle cx="1233.3" cy="681.3" r="8.14"/><circle cx="1146.1" cy="626.7" r="8.14"/><circle cx="1094.8" cy="826.4" r="8.14"/><circle cx="1108.2" cy="654.2" r="8.14"/><circle cx="781.3" cy="770.2" r="8.14"/><circle cx="1453.3" cy="658.5" r="8.14"/>
<circle cx="1518.1" cy="626.3" r="8.14"/><circle cx="373.0" cy="803.5" r="8.14"/><circle cx="1880.2" cy="775.7" r="8.14"/><circle cx="1129.1" cy="755.5" r="8.14"/><circle cx="1463.3" cy="378.4" r="8.14"/><circle cx="404.2" cy="846.2" r="8.14"/>
<circle cx="1338.0" cy="211.6" r="8.14"/><circle cx="431.2" cy="663.8" r="8.14"/><circle cx="1262.8" cy="791.7" r="8.14"/><circle cx="1805.3" cy="862.3" r="8.14"/><circle cx="1867.2" cy="614.1" r="8.14"/><circle cx="1529.3" cy="373.4" r="8.14"/>
<circle cx="384.8" cy="797.6" r="8.14"/><circle cx="1515.3" cy="308.6" r="8.14"/><circle cx="1133.1" cy="697.3" r="8.14"/><circle cx="538.6" cy="771.4" r="8.14"/><circle cx="2117.7" cy="857.9" r="8.14"/><circle cx="765.3" cy="845.9" r="8.14"/>
<circle cx="1269.2" cy="750.5" r="8.14"/><circle cx="1805.9" cy="662.8" r="8.14"/><circle cx="413.5" cy="704.3" r="8.14"/><circle cx="1125.4" cy="264.3" r="8.14"/><circle cx="1824.5" cy="652.7" r="8.14"/><circle cx="719.4" cy="753.7" r="8.14"/>
<circle cx="1721.2" cy="830.4" r="8.14"/><circle cx="1448.5" cy="445.8" r="8.14"/><circle cx="1268.4" cy="807.2" r="8.14"/><circle cx="554.4" cy="874.4" r="8.14"/><circle cx="1775.1" cy="751.0" r="8.14"/><circle cx="1157.6" cy="357.1" r="8.14"/>
<circle cx="1279.8" cy="809.1" r="8.14"/><circle cx="402.5" cy="808.6" r="8.14"/><circle cx="1501.5" cy="818.1" r="8.14"/><circle cx="566.0" cy="760.3" r="8.14"/><circle cx="613.7" cy="613.0" r="8.14"/><circle cx="1183.4" cy="578.0" r="8.14"/>
<circle cx="2013.7" cy="658.6" r="8.14"/><circle cx="1165.2" cy="881.0" r="8.14"/><circle cx="1719.9" cy="681.9" r="8.14"/><circle cx="1470.2" cy="859.9" r="8.14"/><circle cx="1362.1" cy="669.9" r="8.14"/><circle cx="556.1" cy="787.7" r="8.14"/>
<circle cx="1956.3" cy="793.8" r="8.14"/><circle cx="1243.6" cy="673.5" r="8.14"/><circle cx="1411.2" cy="228.3" r="8.14"/><circle cx="1935.8" cy="723.3" r="8.14"/><circle cx="1000.5" cy="682.7" r="8.14"/><circle cx="1094.7" cy="691.6" r="8.14"/>
<circle cx="1724.9" cy="868.1" r="8.14"/><circle cx="1462.9" cy="416.1" r="8.14"/><circle cx="1304.6" cy="678.2" r="8.14"/><circle cx="1774.3" cy="875.0" r="8.14"/><circle cx="1171.7" cy="638.2" r="8.14"/><circle cx="734.6" cy="579.3" r="8.14"/>
<circle cx="1035.4" cy="606.0" r="8.14"/><circle cx="988.9" cy="348.9" r="8.14"/><circle cx="1061.4" cy="585.0" r="8.14"/><circle cx="1416.6" cy="686.9" r="8.14"/><circle cx="1936.9" cy="590.1" r="8.14"/><circle cx="1018.0" cy="181.9" r="8.14"/>
<circle cx="1502.8" cy="698.0" r="8.14"/><circle cx="1333.8" cy="253.1" r="8.14"/><circle cx="403.3" cy="695.9" r="8.14"/><circle cx="1224.8" cy="747.2" r="8.14"/><circle cx="1518.9" cy="371.9" r="8.14"/><circle cx="1423.2" cy="862.7" r="8.14"/>
<circle cx="419.7" cy="747.3" r="8.14"/><circle cx="564.0" cy="690.7" r="8.14"/><circle cx="1198.2" cy="590.9" r="8.14"/><circle cx="2175.1" cy="837.2" r="8.14"/><circle cx="1308.0" cy="179.6" r="8.14"/><circle cx="1432.4" cy="595.1" r="8.14"/>
<circle cx="1916.7" cy="834.8" r="8.14"/><circle cx="499.7" cy="864.2" r="8.14"/><circle cx="1413.0" cy="252.8" r="8.14"/><circle cx="737.3" cy="874.3" r="8.14"/><circle cx="2062.6" cy="872.3" r="8.14"/><circle cx="1862.6" cy="817.6" r="8.14"/>
<circle cx="1342.0" cy="585.5" r="8.14"/><circle cx="688.2" cy="644.5" r="8.14"/><circle cx="1450.6" cy="477.8" r="8.14"/><circle cx="1290.2" cy="379.6" r="8.14"/><circle cx="1260.2" cy="325.0" r="8.14"/><circle cx="1148.7" cy="424.0" r="8.14"/>
<circle cx="647.1" cy="574.9" r="8.14"/><circle cx="290.9" cy="589.5" r="8.14"/><circle cx="771.5" cy="624.0" r="8.14"/><circle cx="1424.3" cy="757.1" r="8.14"/><circle cx="733.9" cy="652.3" r="8.14"/><circle cx="485.0" cy="736.5" r="8.14"/>
<circle cx="2106.8" cy="644.7" r="8.14"/><circle cx="1444.0" cy="792.4" r="8.14"/><circle cx="1054.5" cy="736.8" r="8.14"/><circle cx="823.9" cy="744.1" r="8.14"/><circle cx="689.4" cy="580.3" r="8.14"/><circle cx="1025.8" cy="754.9" r="8.14"/>
<circle cx="362.1" cy="828.5" r="8.14"/><circle cx="1122.6" cy="872.0" r="8.14"/><circle cx="511.0" cy="844.6" r="8.14"/><circle cx="386.1" cy="852.6" r="8.14"/><circle cx="1803.3" cy="821.7" r="8.14"/><circle cx="627.3" cy="700.8" r="8.14"/>
<circle cx="767.4" cy="747.6" r="8.14"/><circle cx="1375.8" cy="633.2" r="8.14"/><circle cx="813.9" cy="585.2" r="8.14"/><circle cx="334.3" cy="594.2" r="8.14"/><circle cx="331.0" cy="725.9" r="8.14"/><circle cx="1266.4" cy="182.8" r="8.14"/>
<circle cx="342.3" cy="820.0" r="8.14"/><circle cx="1360.3" cy="628.0" r="8.14"/><circle cx="339.4" cy="787.4" r="8.14"/><circle cx="764.0" cy="780.5" r="8.14"/><circle cx="840.2" cy="638.3" r="8.14"/><circle cx="2034.4" cy="872.1" r="8.14"/>
<circle cx="1059.2" cy="185.0" r="8.14"/><circle cx="1008.8" cy="805.7" r="8.14"/><circle cx="391.7" cy="865.2" r="8.14"/><circle cx="300.6" cy="609.8" r="8.14"/><circle cx="1139.6" cy="406.4" r="8.14"/><circle cx="1889.4" cy="618.2" r="8.14"/>
<circle cx="1062.4" cy="888.1" r="8.14"/><circle cx="1815.9" cy="735.4" r="8.14"/><circle cx="1034.9" cy="222.0" r="8.14"/><circle cx="2089.9" cy="594.2" r="8.14"/><circle cx="1013.8" cy="822.7" r="8.14"/><circle cx="2170.8" cy="626.5" r="8.14"/>
<circle cx="440.9" cy="593.5" r="8.14"/><circle cx="583.6" cy="712.6" r="8.14"/><circle cx="1697.1" cy="675.3" r="8.14"/><circle cx="1309.2" cy="607.0" r="8.14"/><circle cx="1033.2" cy="873.3" r="8.14"/><circle cx="533.0" cy="879.0" r="8.14"/>
<circle cx="1237.5" cy="299.7" r="8.14"/><circle cx="295.8" cy="805.2" r="8.14"/><circle cx="789.3" cy="839.3" r="8.14"/><circle cx="434.7" cy="775.4" r="8.14"/><circle cx="340.6" cy="827.9" r="8.14"/><circle cx="1170.1" cy="669.7" r="8.14"/>
<circle cx="2186.5" cy="794.3" r="8.14"/><circle cx="627.9" cy="646.5" r="8.14"/><circle cx="569.7" cy="581.3" r="8.14"/><circle cx="789.0" cy="658.9" r="8.14"/><circle cx="556.8" cy="656.0" r="8.14"/><circle cx="1845.8" cy="668.7" r="8.14"/>
<circle cx="675.6" cy="674.5" r="8.14"/><circle cx="1019.5" cy="203.4" r="8.14"/><circle cx="1977.2" cy="857.4" r="8.14"/><circle cx="1705.3" cy="713.9" r="8.14"/><circle cx="392.1" cy="867.3" r="8.14"/><circle cx="1714.8" cy="596.2" r="8.14"/>
<circle cx="461.1" cy="790.8" r="8.14"/><circle cx="1493.2" cy="440.0" r="8.14"/><circle cx="2113.5" cy="713.8" r="8.14"/><circle cx="310.3" cy="855.6" r="8.14"/><circle cx="1382.7" cy="864.0" r="8.14"/><circle cx="363.1" cy="753.3" r="8.14"/>
<circle cx="1483.8" cy="451.6" r="8.14"/><circle cx="1860.9" cy="786.9" r="8.14"/><circle cx="1763.9" cy="886.5" r="8.14"/><circle cx="1949.1" cy="737.2" r="8.14"/><circle cx="574.6" cy="836.8" r="8.14"/><circle cx="1527.9" cy="423.8" r="8.14"/>
<circle cx="2207.6" cy="851.1" r="8.14"/><circle cx="1991.3" cy="775.7" r="8.14"/><circle cx="2139.5" cy="683.7" r="8.14"/><circle cx="571.4" cy="648.4" r="8.14"/><circle cx="1296.1" cy="609.2" r="8.14"/><circle cx="444.8" cy="833.7" r="8.14"/>
<circle cx="1528.9" cy="603.4" r="8.14"/><circle cx="1393.2" cy="840.8" r="8.14"/><circle cx="300.8" cy="786.6" r="8.14"/><circle cx="1823.3" cy="779.9" r="8.14"/><circle cx="1853.6" cy="836.5" r="8.14"/><circle cx="1373.7" cy="801.3" r="8.14"/>
<circle cx="503.1" cy="676.4" r="8.14"/><circle cx="1494.9" cy="475.3" r="8.14"/><circle cx="316.2" cy="841.5" r="8.14"/><circle cx="1321.9" cy="885.0" r="8.14"/><circle cx="1376.1" cy="593.3" r="8.14"/><circle cx="2000.7" cy="592.3" r="8.14"/>
<circle cx="1518.3" cy="400.1" r="8.14"/><circle cx="1166.9" cy="401.2" r="8.14"/><circle cx="1124.1" cy="626.8" r="8.14"/><circle cx="502.9" cy="601.0" r="8.14"/><circle cx="1042.9" cy="873.5" r="8.14"/><circle cx="790.5" cy="831.0" r="8.14"/>
<circle cx="1879.4" cy="888.0" r="8.14"/><circle cx="581.2" cy="832.8" r="8.14"/><circle cx="1443.7" cy="221.8" r="8.14"/><circle cx="1172.4" cy="686.1" r="8.14"/><circle cx="1290.8" cy="253.6" r="8.14"/><circle cx="345.4" cy="771.9" r="8.14"/>
<circle cx="2017.6" cy="848.7" r="8.14"/><circle cx="1541.6" cy="853.2" r="8.14"/><circle cx="417.7" cy="644.6" r="8.14"/><circle cx="1210.9" cy="642.3" r="8.14"/><circle cx="1074.5" cy="762.9" r="8.14"/><circle cx="1294.0" cy="686.7" r="8.14"/>
<circle cx="1088.7" cy="759.2" r="8.14"/><circle cx="525.1" cy="605.9" r="8.14"/><circle cx="1116.5" cy="820.9" r="8.14"/><circle cx="812.1" cy="736.6" r="8.14"/><circle cx="586.8" cy="605.5" r="8.14"/><circle cx="1222.0" cy="728.7" r="8.14"/>
<circle cx="1293.0" cy="762.2" r="8.14"/><circle cx="752.8" cy="659.1" r="8.14"/><circle cx="1835.0" cy="587.1" r="8.14"/><circle cx="1093.0" cy="314.0" r="8.14"/><circle cx="1337.3" cy="825.6" r="8.14"/><circle cx="1527.3" cy="381.4" r="8.14"/>
<circle cx="1867.0" cy="653.4" r="8.14"/><circle cx="1507.5" cy="752.4" r="8.14"/><circle cx="364.0" cy="834.3" r="8.14"/><circle cx="1749.4" cy="628.0" r="8.14"/><circle cx="1405.8" cy="817.3" r="8.14"/><circle cx="1175.2" cy="697.7" r="8.14"/>
<circle cx="2031.2" cy="761.8" r="8.14"/><circle cx="638.6" cy="838.6" r="8.14"/><circle cx="1468.4" cy="244.4" r="8.14"/><circle cx="1491.1" cy="424.9" r="8.14"/><circle cx="576.2" cy="571.1" r="8.14"/><circle cx="2178.1" cy="683.4" r="8.14"/>
<circle cx="2208.9" cy="709.6" r="8.14"/><circle cx="1998.2" cy="691.7" r="8.14"/><circle cx="528.4" cy="838.0" r="8.14"/><circle cx="1228.2" cy="191.8" r="8.14"/><circle cx="693.9" cy="834.4" r="8.14"/><circle cx="605.7" cy="763.5" r="8.14"/>
<circle cx="298.6" cy="643.6" r="8.14"/><circle cx="1493.0" cy="772.7" r="8.14"/><circle cx="648.0" cy="748.9" r="8.14"/><circle cx="1831.4" cy="729.6" r="8.14"/><circle cx="1527.6" cy="290.8" r="8.14"/><circle cx="1338.1" cy="481.3" r="8.14"/>
<circle cx="418.5" cy="643.2" r="8.14"/><circle cx="1258.4" cy="725.4" r="8.14"/><circle cx="1461.7" cy="616.7" r="8.14"/><circle cx="2178.1" cy="742.9" r="8.14"/><circle cx="1465.1" cy="837.0" r="8.14"/><circle cx="1108.0" cy="177.9" r="8.14"/>
<circle cx="1185.7" cy="822.5" r="8.14"/><circle cx="995.7" cy="671.0" r="8.14"/><circle cx="1255.7" cy="247.4" r="8.14"/><circle cx="1448.4" cy="681.1" r="8.14"/><circle cx="1122.3" cy="241.5" r="8.14"/><circle cx="1487.2" cy="669.3" r="8.14"/>
<circle cx="1795.5" cy="706.8" r="8.14"/><circle cx="1299.7" cy="242.9" r="8.14"/><circle cx="1751.5" cy="723.8" r="8.14"/><circle cx="1332.4" cy="696.4" r="8.14"/><circle cx="788.0" cy="697.1" r="8.14"/><circle cx="1898.5" cy="751.3" r="8.14"/>
<circle cx="1349.2" cy="876.0" r="8.14"/><circle cx="1313.5" cy="341.3" r="8.14"/><circle cx="649.5" cy="774.7" r="8.14"/><circle cx="1930.1" cy="586.3" r="8.14"/><circle cx="1327.3" cy="765.1" r="8.14"/><circle cx="2191.3" cy="658.3" r="8.14"/>
<circle cx="394.3" cy="716.6" r="8.14"/><circle cx="989.0" cy="849.7" r="8.14"/><circle cx="423.8" cy="615.2" r="8.14"/><circle cx="350.8" cy="822.2" r="8.14"/><circle cx="1857.8" cy="592.1" r="8.14"/><circle cx="784.1" cy="859.4" r="8.14"/>
<circle cx="604.5" cy="657.4" r="8.14"/><circle cx="1993.8" cy="759.7" r="8.14"/><circle cx="2095.0" cy="729.4" r="8.14"/><circle cx="1128.3" cy="740.2" r="8.14"/><circle cx="1352.8" cy="795.3" r="8.14"/><circle cx="837.3" cy="778.3" r="8.14"/>
<circle cx="630.5" cy="801.9" r="8.14"/><circle cx="1534.0" cy="443.8" r="8.14"/><circle cx="1516.6" cy="333.6" r="8.14"/><circle cx="1221.7" cy="338.2" r="8.14"/><circle cx="440.8" cy="707.2" r="8.14"/><circle cx="1471.4" cy="570.1" r="8.14"/>
<circle cx="1261.3" cy="634.7" r="8.14"/><circle cx="1535.2" cy="626.1" r="8.14"/><circle cx="1479.7" cy="182.0" r="8.14"/><circle cx="605.7" cy="706.9" r="8.14"/><circle cx="417.6" cy="762.3" r="8.14"/><circle cx="2088.0" cy="770.2" r="8.14"/>
<circle cx="1233.5" cy="212.2" r="8.14"/><circle cx="2101.5" cy="687.5" r="8.14"/><circle cx="1491.5" cy="782.1" r="8.14"/><circle cx="420.5" cy="609.2" r="8.14"/><circle cx="800.7" cy="798.8" r="8.14"/><circle cx="700.6" cy="789.8" r="8.14"/>
<circle cx="1322.7" cy="174.4" r="8.14"/><circle cx="1209.5" cy="469.8" r="8.14"/><circle cx="599.9" cy="824.9" r="8.14"/><circle cx="1344.4" cy="698.8" r="8.14"/><circle cx="789.9" cy="856.9" r="8.14"/><circle cx="1423.2" cy="376.3" r="8.14"/>
<circle cx="1146.6" cy="803.6" r="8.14"/><circle cx="402.5" cy="748.4" r="8.14"/><circle cx="464.7" cy="691.7" r="8.14"/><circle cx="1441.9" cy="371.3" r="8.14"/><circle cx="1471.0" cy="649.9" r="8.14"/><circle cx="738.9" cy="821.1" r="8.14"/>
<circle cx="1115.0" cy="447.7" r="8.14"/><circle cx="452.2" cy="875.6" r="8.14"/><circle cx="1145.2" cy="662.2" r="8.14"/><circle cx="1315.0" cy="794.3" r="8.14"/><circle cx="1358.9" cy="440.3" r="8.14"/><circle cx="1517.1" cy="879.3" r="8.14"/>
<circle cx="1419.6" cy="265.5" r="8.14"/><circle cx="1193.2" cy="610.2" r="8.14"/><circle cx="1050.8" cy="622.4" r="8.14"/><circle cx="841.7" cy="696.3" r="8.14"/><circle cx="295.5" cy="814.2" r="8.14"/><circle cx="686.5" cy="882.3" r="8.14"/>
<circle cx="1348.7" cy="374.7" r="8.14"/><circle cx="1058.3" cy="247.1" r="8.14"/><circle cx="746.9" cy="642.9" r="8.14"/><circle cx="1502.1" cy="442.7" r="8.14"/><circle cx="2227.0" cy="669.1" r="8.14"/><circle cx="455.5" cy="708.7" r="8.14"/>
<circle cx="1324.5" cy="285.7" r="8.14"/><circle cx="583.6" cy="749.9" r="8.14"/><circle cx="1753.8" cy="767.2" r="8.14"/><circle cx="1513.9" cy="867.3" r="8.14"/><circle cx="1439.1" cy="437.3" r="8.14"/><circle cx="1028.2" cy="345.9" r="8.14"/>
<circle cx="479.2" cy="684.2" r="8.14"/><circle cx="1120.0" cy="581.7" r="8.14"/><circle cx="516.2" cy="879.6" r="8.14"/><circle cx="320.4" cy="628.5" r="8.14"/><circle cx="1943.6" cy="886.8" r="8.14"/><circle cx="1334.7" cy="610.4" r="8.14"/>
<circle cx="1822.3" cy="791.9" r="8.14"/><circle cx="1821.5" cy="634.6" r="8.14"/><circle cx="1971.8" cy="843.0" r="8.14"/><circle cx="1938.7" cy="657.6" r="8.14"/><circle cx="1074.9" cy="588.3" r="8.14"/><circle cx="678.9" cy="816.5" r="8.14"/>
<circle cx="1365.0" cy="886.0" r="8.14"/><circle cx="1229.1" cy="646.2" r="8.14"/><circle cx="709.6" cy="882.1" r="8.14"/><circle cx="566.7" cy="627.3" r="8.14"/><circle cx="1074.8" cy="204.8" r="8.14"/><circle cx="1846.1" cy="885.1" r="8.14"/>
<circle cx="1147.8" cy="720.8" r="8.14"/><circle cx="1274.6" cy="606.8" r="8.14"/><circle cx="2151.4" cy="851.0" r="8.14"/><circle cx="1134.8" cy="268.2" r="8.14"/><circle cx="456.0" cy="819.5" r="8.14"/><circle cx="1201.3" cy="417.9" r="8.14"/>
<circle cx="438.3" cy="747.0" r="8.14"/><circle cx="2145.2" cy="820.3" r="8.14"/><circle cx="418.8" cy="872.4" r="8.14"/><circle cx="2215.3" cy="886.7" r="8.14"/><circle cx="1492.3" cy="346.3" r="8.14"/><circle cx="784.1" cy="721.5" r="8.14"/>
<circle cx="1137.0" cy="464.9" r="8.14"/><circle cx="2040.3" cy="576.3" r="8.14"/><circle cx="451.0" cy="601.5" r="8.14"/><circle cx="1110.1" cy="780.3" r="8.14"/><circle cx="998.1" cy="467.7" r="8.14"/><circle cx="2009.7" cy="708.9" r="8.14"/>
<circle cx="1723.5" cy="749.7" r="8.14"/><circle cx="567.1" cy="881.1" r="8.14"/><circle cx="655.1" cy="865.3" r="8.14"/><circle cx="2185.0" cy="712.2" r="8.14"/><circle cx="1492.0" cy="624.7" r="8.14"/><circle cx="1697.3" cy="751.0" r="8.14"/>
<circle cx="1324.1" cy="595.0" r="8.14"/><circle cx="1892.4" cy="721.8" r="8.14"/><circle cx="1922.3" cy="829.0" r="8.14"/><circle cx="994.9" cy="577.1" r="8.14"/><circle cx="1178.1" cy="392.3" r="8.14"/><circle cx="1887.3" cy="769.8" r="8.14"/>
<circle cx="1375.5" cy="844.1" r="8.14"/><circle cx="1869.8" cy="842.1" r="8.14"/><circle cx="1033.5" cy="171.5" r="8.14"/><circle cx="2004.6" cy="839.2" r="8.14"/><circle cx="572.5" cy="640.7" r="8.14"/><circle cx="1916.7" cy="687.1" r="8.14"/>
<circle cx="444.3" cy="791.5" r="8.14"/><circle cx="1359.0" cy="586.3" r="8.14"/><circle cx="1205.8" cy="829.9" r="8.14"/><circle cx="1002.6" cy="703.5" r="8.14"/><circle cx="1142.0" cy="635.6" r="8.14"/><circle cx="1510.0" cy="826.3" r="8.14"/>
<circle cx="590.1" cy="714.0" r="8.14"/><circle cx="1117.3" cy="393.5" r="8.14"/><circle cx="666.8" cy="825.9" r="8.14"/><circle cx="536.3" cy="849.7" r="8.14"/><circle cx="665.4" cy="763.0" r="8.14"/><circle cx="1319.7" cy="170.2" r="8.14"/>
<circle cx="1182.1" cy="334.2" r="8.14"/><circle cx="1315.0" cy="294.2" r="8.14"/><circle cx="1114.7" cy="860.8" r="8.14"/><circle cx="754.7" cy="704.8" r="8.14"/><circle cx="722.6" cy="651.9" r="8.14"/><circle cx="1359.7" cy="430.3" r="8.14"/>
<circle cx="773.8" cy="824.2" r="8.14"/><circle cx="2026.8" cy="752.5" r="8.14"/><circle cx="1927.3" cy="616.1" r="8.14"/><circle cx="362.2" cy="632.6" r="8.14"/><circle cx="1276.2" cy="583.4" r="8.14"/><circle cx="1535.2" cy="375.9" r="8.14"/>
<circle cx="2142.3" cy="800.6" r="8.14"/><circle cx="1415.9" cy="267.9" r="8.14"/><circle cx="1919.0" cy="801.7" r="8.14"/><circle cx="1296.2" cy="604.3" r="8.14"/><circle cx="1539.8" cy="695.7" r="8.14"/><circle cx="1988.5" cy="734.5" r="8.14"/>
<circle cx="1100.9" cy="402.2" r="8.14"/><circle cx="560.7" cy="880.8" r="8.14"/><circle cx="1768.9" cy="709.9" r="8.14"/><circle cx="1118.4" cy="608.8" r="8.14"/><circle cx="1806.1" cy="604.4" r="8.14"/><circle cx="2114.2" cy="865.4" r="8.14"/>
<circle cx="1351.4" cy="808.2" r="8.14"/><circle cx="407.4" cy="684.3" r="8.14"/><circle cx="546.7" cy="692.5" r="8.14"/><circle cx="1184.3" cy="456.0" r="8.14"/><circle cx="1345.8" cy="622.9" r="8.14"/><circle cx="681.1" cy="752.3" r="8.14"/>
<circle cx="1164.9" cy="774.1" r="8.14"/><circle cx="1355.4" cy="351.6" r="8.14"/><circle cx="1919.8" cy="747.0" r="8.14"/><circle cx="1036.9" cy="655.1" r="8.14"/><circle cx="405.1" cy="647.3" r="8.14"/><circle cx="2030.0" cy="594.0" r="8.14"/>
<circle cx="1077.6" cy="338.0" r="8.14"/><circle cx="1296.9" cy="609.0" r="8.14"/><circle cx="1053.4" cy="616.8" r="8.14"/><circle cx="620.6" cy="784.4" r="8.14"/><circle cx="2187.8" cy="844.7" r="8.14"/><circle cx="611.9" cy="631.4" r="8.14"/>
<circle cx="1208.2" cy="688.8" r="8.14"/><circle cx="1218.6" cy="746.4" r="8.14"/><circle cx="1057.1" cy="828.8" r="8.14"/><circle cx="1514.7" cy="828.5" r="8.14"/><circle cx="1421.0" cy="880.5" r="8.14"/><circle cx="1163.1" cy="471.2" r="8.14"/>
<circle cx="332.9" cy="626.1" r="8.14"/><circle cx="1368.6" cy="469.3" r="8.14"/><circle cx="1471.7" cy="323.4" r="8.14"/><circle cx="1226.2" cy="768.0" r="8.14"/><circle cx="674.1" cy="801.6" r="8.14"/><circle cx="633.8" cy="575.7" r="8.14"/>
<circle cx="2120.1" cy="666.9" r="8.14"/><circle cx="817.2" cy="798.8" r="8.14"/><circle cx="502.7" cy="634.9" r="8.14"/><circle cx="2173.0" cy="866.6" r="8.14"/><circle cx="1795.4" cy="619.4" r="8.14"/><circle cx="1466.5" cy="644.5" r="8.14"/>
<circle cx="1124.6" cy="174.9" r="8.14"/><circle cx="1534.6" cy="692.6" r="8.14"/><circle cx="2023.9" cy="702.7" r="8.14"/><circle cx="1368.0" cy="585.8" r="8.14"/><circle cx="1250.0" cy="365.0" r="8.14"/><circle cx="1467.4" cy="648.8" r="8.14"/>
<circle cx="1812.5" cy="650.7" r="8.14"/><circle cx="634.5" cy="833.6" r="8.14"/><circle cx="1376.8" cy="659.1" r="8.14"/><circle cx="648.2" cy="883.2" r="8.14"/><circle cx="1299.0" cy="289.5" r="8.14"/><circle cx="1277.9" cy="693.9" r="8.14"/>
<circle cx="818.2" cy="784.5" r="8.14"/><circle cx="2030.4" cy="808.4" r="8.14"/><circle cx="1792.6" cy="778.9" r="8.14"/><circle cx="1249.2" cy="252.4" r="8.14"/><circle cx="2191.8" cy="661.5" r="8.14"/><circle cx="649.0" cy="679.1" r="8.14"/>
<circle cx="2032.5" cy="800.6" r="8.14"/><circle cx="722.0" cy="704.9" r="8.14"/><circle cx="733.6" cy="770.4" r="8.14"/><circle cx="760.7" cy="588.1" r="8.14"/><circle cx="1180.7" cy="720.5" r="8.14"/><circle cx="524.3" cy="671.7" r="8.14"/>
<circle cx="1533.8" cy="171.5" r="8.14"/><circle cx="1887.9" cy="632.7" r="8.14"/><circle cx="1149.2" cy="885.0" r="8.14"/><circle cx="1033.3" cy="311.0" r="8.14"/><circle cx="2223.5" cy="660.0" r="8.14"/><circle cx="474.3" cy="881.9" r="8.14"/>
<circle cx="2166.8" cy="782.8" r="8.14"/><circle cx="1217.2" cy="789.8" r="8.14"/><circle cx="752.7" cy="648.8" r="8.14"/><circle cx="603.5" cy="650.9" r="8.14"/><circle cx="1497.5" cy="722.8" r="8.14"/><circle cx="1206.6" cy="781.5" r="8.14"/>
<circle cx="1800.1" cy="806.4" r="8.14"/><circle cx="1235.5" cy="804.6" r="8.14"/><circle cx="775.0" cy="815.2" r="8.14"/><circle cx="338.3" cy="686.2" r="8.14"/><circle cx="1154.9" cy="398.2" r="8.14"/><circle cx="1363.5" cy="887.5" r="8.14"/>
<circle cx="1415.9" cy="271.0" r="8.14"/><circle cx="1736.5" cy="735.2" r="8.14"/><circle cx="1398.4" cy="653.7" r="8.14"/><circle cx="1373.5" cy="478.9" r="8.14"/><circle cx="1291.5" cy="771.8" r="8.14"/><circle cx="442.7" cy="685.9" r="8.14"/>
<circle cx="613.9" cy="781.9" r="8.14"/><circle cx="1836.0" cy="706.7" r="8.14"/><circle cx="1405.7" cy="848.5" r="8.14"/><circle cx="1244.2" cy="173.5" r="8.14"/><circle cx="1479.4" cy="484.3" r="8.14"/><circle cx="1947.7" cy="819.9" r="8.14"/>
<circle cx="387.0" cy="705.9" r="8.14"/><circle cx="1970.9" cy="609.9" r="8.14"/><circle cx="369.0" cy="848.4" r="8.14"/><circle cx="1033.7" cy="772.1" r="8.14"/><circle cx="531.4" cy="667.0" r="8.14"/><circle cx="1527.6" cy="786.8" r="8.14"/>
<circle cx="702.1" cy="645.6" r="8.14"/><circle cx="371.0" cy="596.5" r="8.14"/><circle cx="1879.8" cy="593.3" r="8.14"/><circle cx="585.2" cy="631.9" r="8.14"/><circle cx="408.0" cy="743.0" r="8.14"/><circle cx="618.0" cy="839.9" r="8.14"/>
<circle cx="470.8" cy="646.9" r="8.14"/><circle cx="1161.8" cy="707.9" r="8.14"/><circle cx="489.9" cy="773.2" r="8.14"/><circle cx="710.1" cy="591.7" r="8.14"/><circle cx="354.1" cy="573.2" r="8.14"/><circle cx="2093.0" cy="870.0" r="8.14"/>
<circle cx="526.7" cy="821.0" r="8.14"/><circle cx="2229.9" cy="610.6" r="8.14"/><circle cx="2196.0" cy="785.7" r="8.14"/><circle cx="1861.0" cy="700.8" r="8.14"/><circle cx="1432.9" cy="327.2" r="8.14"/><circle cx="772.4" cy="585.3" r="8.14"/>
<circle cx="1820.2" cy="711.9" r="8.14"/><circle cx="842.1" cy="601.0" r="8.14"/><circle cx="414.8" cy="671.4" r="8.14"/><circle cx="1478.5" cy="323.2" r="8.14"/><circle cx="1810.9" cy="579.3" r="8.14"/><circle cx="2065.9" cy="682.3" r="8.14"/>
<circle cx="312.1" cy="869.0" r="8.14"/><circle cx="2156.1" cy="748.1" r="8.14"/><circle cx="1320.9" cy="268.0" r="8.14"/><circle cx="1095.3" cy="786.3" r="8.14"/><circle cx="1005.1" cy="230.0" r="8.14"/><circle cx="703.2" cy="705.4" r="8.14"/>
<circle cx="1530.6" cy="829.0" r="8.14"/><circle cx="1459.8" cy="671.2" r="8.14"/><circle cx="2151.4" cy="666.3" r="8.14"/><circle cx="749.0" cy="697.9" r="8.14"/><circle cx="779.4" cy="850.8" r="8.14"/><circle cx="1327.3" cy="660.5" r="8.14"/>
<circle cx="759.0" cy="793.6" r="8.14"/><circle cx="2043.5" cy="812.5" r="8.14"/><circle cx="1343.9" cy="588.4" r="8.14"/><circle cx="2217.6" cy="752.3" r="8.14"/><circle cx="1896.5" cy="725.0" r="8.14"/><circle cx="648.0" cy="842.3" r="8.14"/>
<circle cx="1113.0" cy="668.0" r="8.14"/><circle cx="1323.5" cy="717.4" r="8.14"/><circle cx="1339.3" cy="887.4" r="8.14"/><circle cx="1275.0" cy="834.6" r="8.14"/><circle cx="1108.2" cy="831.7" r="8.14"/><circle cx="1739.1" cy="599.2" r="8.14"/>
<circle cx="1802.4" cy="722.3" r="8.14"/><circle cx="1296.6" cy="372.6" r="8.14"/><circle cx="350.1" cy="594.4" r="8.14"/><circle cx="1512.6" cy="654.0" r="8.14"/><circle cx="1766.2" cy="579.8" r="8.14"/><circle cx="1057.4" cy="743.5" r="8.14"/>
<circle cx="1266.8" cy="767.4" r="8.14"/><circle cx="1904.0" cy="628.7" r="8.14"/><circle cx="1000.6" cy="646.5" r="8.14"/><circle cx="1414.5" cy="320.5" r="8.14"/><circle cx="393.4" cy="763.3" r="8.14"/><circle cx="1067.3" cy="838.6" r="8.14"/>
<circle cx="1079.4" cy="621.4" r="8.14"/><circle cx="1396.3" cy="630.9" r="8.14"/><circle cx="1313.6" cy="244.9" r="8.14"/><circle cx="1024.1" cy="180.4" r="8.14"/><circle cx="1534.4" cy="232.7" r="8.14"/><circle cx="438.2" cy="683.4" r="8.14"/>
<circle cx="1167.2" cy="688.8" r="8.14"/><circle cx="374.1" cy="831.6" r="8.14"/><circle cx="767.6" cy="657.2" r="8.14"/><circle cx="1333.6" cy="698.7" r="8.14"/><circle cx="1385.7" cy="239.5" r="8.14"/><circle cx="1939.3" cy="710.6" r="8.14"/>
<circle cx="372.2" cy="715.4" r="8.14"/><circle cx="570.2" cy="732.7" r="8.14"/><circle cx="1800.3" cy="796.5" r="8.14"/><circle cx="1425.4" cy="197.4" r="8.14"/><circle cx="1175.2" cy="661.3" r="8.14"/><circle cx="1453.4" cy="316.0" r="8.14"/>
<circle cx="1284.3" cy="656.1" r="8.14"/><circle cx="1536.4" cy="297.1" r="8.14"/><circle cx="397.1" cy="820.0" r="8.14"/><circle cx="987.0" cy="887.7" r="8.14"/><circle cx="1273.8" cy="766.1" r="8.14"/><circle cx="772.3" cy="701.7" r="8.14"/>
<circle cx="1109.3" cy="418.3" r="8.14"/><circle cx="544.1" cy="694.4" r="8.14"/><circle cx="1498.8" cy="463.7" r="8.14"/><circle cx="1206.9" cy="752.5" r="8.14"/><circle cx="505.8" cy="593.9" r="8.14"/><circle cx="1690.7" cy="615.8" r="8.14"/>
<circle cx="1166.3" cy="716.1" r="8.14"/><circle cx="1100.9" cy="751.1" r="8.14"/><circle cx="2034.1" cy="816.2" r="8.14"/><circle cx="325.8" cy="836.8" r="8.14"/><circle cx="1477.0" cy="704.9" r="8.14"/><circle cx="750.8" cy="695.5" r="8.14"/>
<circle cx="1172.2" cy="584.3" r="8.14"/><circle cx="706.0" cy="779.5" r="8.14"/><circle cx="526.8" cy="879.1" r="8.14"/><circle cx="1809.5" cy="737.2" r="8.14"/><circle cx="1337.4" cy="438.0" r="8.14"/><circle cx="716.6" cy="879.8" r="8.14"/>
<circle cx="725.8" cy="839.9" r="8.14"/><circle cx="1688.4" cy="731.3" r="8.14"/><circle cx="1184.2" cy="727.7" r="8.14"/><circle cx="2205.8" cy="582.8" r="8.14"/><circle cx="1809.4" cy="695.4" r="8.14"/><circle cx="1127.0" cy="316.0" r="8.14"/>
<circle cx="1016.8" cy="370.9" r="8.14"/><circle cx="1446.6" cy="849.6" r="8.14"/><circle cx="778.3" cy="874.4" r="8.14"/><circle cx="348.9" cy="698.8" r="8.14"/><circle cx="1387.0" cy="722.2" r="8.14"/><circle cx="1492.3" cy="384.4" r="8.14"/>
<circle cx="689.4" cy="764.2" r="8.14"/><circle cx="775.9" cy="872.6" r="8.14"/><circle cx="1152.3" cy="595.5" r="8.14"/><circle cx="1416.5" cy="703.5" r="8.14"/><circle cx="1906.1" cy="686.2" r="8.14"/><circle cx="419.6" cy="636.8" r="8.14"/>
<circle cx="466.8" cy="723.9" r="8.14"/><circle cx="1531.5" cy="666.0" r="8.14"/><circle cx="573.2" cy="749.9" r="8.14"/><circle cx="735.3" cy="830.1" r="8.14"/><circle cx="1396.5" cy="816.3" r="8.14"/><circle cx="1398.4" cy="259.9" r="8.14"/>
<circle cx="1750.4" cy="860.6" r="8.14"/><circle cx="1160.9" cy="325.8" r="8.14"/><circle cx="508.8" cy="836.9" r="8.14"/><circle cx="489.8" cy="707.6" r="8.14"/><circle cx="1393.5" cy="797.1" r="8.14"/><circle cx="987.4" cy="339.0" r="8.14"/>
<circle cx="470.6" cy="736.1" r="8.14"/><circle cx="562.1" cy="762.8" r="8.14"/><circle cx="588.6" cy="599.6" r="8.14"/><circle cx="1343.0" cy="858.7" r="8.14"/><circle cx="338.9" cy="612.5" r="8.14"/><circle cx="1199.9" cy="388.9" r="8.14"/>
<circle cx="608.1" cy="832.5" r="8.14"/><circle cx="1160.6" cy="464.9" r="8.14"/><circle cx="1080.8" cy="804.3" r="8.14"/><circle cx="1501.1" cy="306.7" r="8.14"/><circle cx="717.6" cy="582.0" r="8.14"/><circle cx="1319.0" cy="851.8" r="8.14"/>
<circle cx="1351.2" cy="702.6" r="8.14"/><circle cx="1363.4" cy="815.8" r="8.14"/><circle cx="1020.5" cy="887.8" r="8.14"/><circle cx="1037.2" cy="859.1" r="8.14"/><circle cx="1343.6" cy="697.0" r="8.14"/><circle cx="359.2" cy="865.3" r="8.14"/>
<circle cx="2020.8" cy="604.3" r="8.14"/><circle cx="551.5" cy="872.4" r="8.14"/><circle cx="1456.1" cy="611.2" r="8.14"/><circle cx="548.0" cy="776.4" r="8.14"/><circle cx="1265.4" cy="420.5" r="8.14"/><circle cx="2208.6" cy="881.1" r="8.14"/>
<circle cx="506.1" cy="817.1" r="8.14"/><circle cx="1519.1" cy="189.0" r="8.14"/><circle cx="1301.5" cy="689.9" r="8.14"/><circle cx="1398.3" cy="286.0" r="8.14"/><circle cx="1227.3" cy="768.8" r="8.14"/><circle cx="1950.5" cy="569.7" r="8.14"/>
<circle cx="1269.2" cy="700.9" r="8.14"/><circle cx="1022.8" cy="871.4" r="8.14"/><circle cx="1040.5" cy="721.8" r="8.14"/><circle cx="2036.2" cy="691.3" r="8.14"/><circle cx="1392.1" cy="681.7" r="8.14"/><circle cx="731.2" cy="713.5" r="8.14"/>
<circle cx="2097.8" cy="868.7" r="8.14"/><circle cx="1064.3" cy="792.1" r="8.14"/><circle cx="1304.4" cy="868.4" r="8.14"/><circle cx="1007.4" cy="468.5" r="8.14"/><circle cx="2052.1" cy="850.7" r="8.14"/><circle cx="1470.4" cy="357.8" r="8.14"/>
<circle cx="423.4" cy="574.0" r="8.14"/><circle cx="1133.8" cy="415.8" r="8.14"/><circle cx="1479.7" cy="759.5" r="8.14"/><circle cx="332.5" cy="801.6" r="8.14"/><circle cx="843.6" cy="650.0" r="8.14"/><circle cx="1434.9" cy="754.3" r="8.14"/>
<circle cx="718.4" cy="760.5" r="8.14"/><circle cx="490.1" cy="863.5" r="8.14"/><circle cx="633.3" cy="757.6" r="8.14"/><circle cx="311.7" cy="614.4" r="8.14"/><circle cx="1919.0" cy="595.2" r="8.14"/><circle cx="1156.1" cy="591.2" r="8.14"/>
<circle cx="1153.1" cy="876.1" r="8.14"/><circle cx="1823.3" cy="796.5" r="8.14"/><circle cx="431.8" cy="740.1" r="8.14"/><circle cx="1161.4" cy="485.0" r="8.14"/><circle cx="2155.9" cy="837.0" r="8.14"/><circle cx="1823.4" cy="705.3" r="8.14"/>
<circle cx="664.2" cy="642.9" r="8.14"/><circle cx="752.4" cy="696.9" r="8.14"/><circle cx="1783.7" cy="852.3" r="8.14"/><circle cx="543.6" cy="744.8" r="8.14"/><circle cx="1211.5" cy="638.8" r="8.14"/><circle cx="512.5" cy="850.6" r="8.14"/>
<circle cx="2108.0" cy="782.6" r="8.14"/><circle cx="508.7" cy="651.5" r="8.14"/><circle cx="481.2" cy="837.7" r="8.14"/><circle cx="1321.0" cy="657.4" r="8.14"/><circle cx="624.7" cy="752.8" r="8.14"/><circle cx="1167.9" cy="724.3" r="8.14"/>
<circle cx="1404.7" cy="715.9" r="8.14"/><circle cx="1373.5" cy="456.5" r="8.14"/><circle cx="1371.8" cy="586.8" r="8.14"/><circle cx="1010.1" cy="709.6" r="8.14"/><circle cx="587.5" cy="838.1" r="8.14"/><circle cx="2142.8" cy="637.7" r="8.14"/>
<circle cx="657.0" cy="841.9" r="8.14"/><circle cx="1266.7" cy="635.6" r="8.14"/><circle cx="1131.6" cy="305.1" r="8.14"/><circle cx="789.2" cy="707.9" r="8.14"/><circle cx="1038.7" cy="595.3" r="8.14"/><circle cx="1490.9" cy="746.0" r="8.14"/>
<circle cx="1040.1" cy="331.2" r="8.14"/><circle cx="1020.3" cy="758.1" r="8.14"/><circle cx="694.4" cy="588.6" r="8.14"/><circle cx="1262.7" cy="797.2" r="8.14"/><circle cx="1307.7" cy="292.3" r="8.14"/><circle cx="490.0" cy="778.3" r="8.14"/>
<circle cx="1024.4" cy="619.2" r="8.14"/><circle cx="1459.5" cy="795.2" r="8.14"/><circle cx="305.5" cy="859.4" r="8.14"/><circle cx="1824.6" cy="592.6" r="8.14"/><circle cx="610.0" cy="726.7" r="8.14"/><circle cx="354.5" cy="587.6" r="8.14"/>
<circle cx="1212.7" cy="218.7" r="8.14"/><circle cx="1265.0" cy="778.1" r="8.14"/><circle cx="1224.9" cy="733.8" r="8.14"/><circle cx="489.1" cy="607.2" r="8.14"/><circle cx="1098.5" cy="684.2" r="8.14"/><circle cx="1187.5" cy="625.1" r="8.14"/>
<circle cx="2225.4" cy="716.0" r="8.14"/><circle cx="539.0" cy="661.5" r="8.14"/><circle cx="1526.9" cy="853.3" r="8.14"/><circle cx="1427.9" cy="481.3" r="8.14"/><circle cx="1984.5" cy="848.8" r="8.14"/><circle cx="592.3" cy="673.6" r="8.14"/>
<circle cx="1500.7" cy="703.4" r="8.14"/><circle cx="723.3" cy="658.5" r="8.14"/><circle cx="1068.2" cy="313.1" r="8.14"/><circle cx="1919.9" cy="743.5" r="8.14"/><circle cx="1266.3" cy="886.3" r="8.14"/><circle cx="1511.2" cy="248.8" r="8.14"/>
<circle cx="1495.8" cy="205.6" r="8.14"/><circle cx="1427.3" cy="801.2" r="8.14"/><circle cx="561.7" cy="642.0" r="8.14"/><circle cx="410.3" cy="600.2" r="8.14"/><circle cx="711.1" cy="826.7" r="8.14"/><circle cx="377.2" cy="886.1" r="8.14"/>
<circle cx="513.9" cy="694.9" r="8.14"/><circle cx="1738.0" cy="807.5" r="8.14"/><circle cx="458.5" cy="840.7" r="8.14"/><circle cx="1048.6" cy="401.1" r="8.14"/><circle cx="1014.4" cy="337.2" r="8.14"/><circle cx="2186.0" cy="776.0" r="8.14"/>
<circle cx="1881.9" cy="861.3" r="8.14"/><circle cx="1060.4" cy="280.0" r="8.14"/><circle cx="1215.9" cy="824.6" r="8.14"/><circle cx="1440.2" cy="597.1" r="8.14"/><circle cx="1066.3" cy="171.6" r="8.14"/><circle cx="1122.9" cy="347.5" r="8.14"/>
<circle cx="995.1" cy="658.0" r="8.14"/><circle cx="1085.0" cy="207.4" r="8.14"/><circle cx="1119.4" cy="634.9" r="8.14"/><circle cx="528.1" cy="674.5" r="8.14"/><circle cx="1046.9" cy="348.2" r="8.14"/><circle cx="1417.4" cy="416.9" r="8.14"/>
<circle cx="1236.3" cy="707.1" r="8.14"/><circle cx="2036.3" cy="776.6" r="8.14"/><circle cx="1027.8" cy="719.0" r="8.14"/><circle cx="1718.4" cy="168.8" r="8.14"/><circle cx="1692.3" cy="196.5" r="8.14"/><circle cx="1756.3" cy="217.1" r="8.14"/>
<circle cx="1915.6" cy="170.4" r="8.14"/><circle cx="1923.8" cy="189.0" r="8.14"/><circle cx="1877.3" cy="193.4" r="8.14"/><circle cx="1868.1" cy="219.0" r="8.14"/><circle cx="1830.6" cy="223.5" r="8.14"/><circle cx="1950.0" cy="223.8" r="8.14"/>
<circle cx="1906.9" cy="225.9" r="8.14"/><circle cx="1912.3" cy="233.1" r="8.14"/><circle cx="1928.4" cy="230.0" r="8.14"/><circle cx="1772.5" cy="235.6" r="8.14"/><circle cx="1773.4" cy="246.0" r="8.14"/><circle cx="1788.1" cy="239.4" r="8.14"/>
<circle cx="1798.8" cy="234.4" r="8.14"/><circle cx="1684.4" cy="247.3" r="8.14"/><circle cx="1736.9" cy="256.5" r="8.14"/><circle cx="1682.5" cy="266.8" r="8.14"/><circle cx="1862.5" cy="265.2" r="8.14"/><circle cx="1685.9" cy="282.5" r="8.14"/>
<circle cx="1891.8" cy="282.3" r="8.14"/><circle cx="1892.8" cy="282.8" r="8.14"/><circle cx="1909.4" cy="286.9" r="8.14"/><circle cx="1917.5" cy="282.5" r="8.14"/><circle cx="1935.6" cy="297.8" r="8.14"/><circle cx="1827.3" cy="311.6" r="8.14"/>
<circle cx="1776.9" cy="332.5" r="8.14"/><circle cx="1916.5" cy="340.8" r="8.14"/><circle cx="1822.1" cy="347.3" r="8.14"/><circle cx="1752.5" cy="359.4" r="8.14"/><circle cx="1694.6" cy="374.4" r="8.14"/><circle cx="1751.6" cy="377.5" r="8.14"/>
<circle cx="1732.9" cy="386.3" r="8.14"/><circle cx="1783.1" cy="378.5" r="8.14"/><circle cx="1802.3" cy="373.5" r="8.14"/><circle cx="1768.8" cy="390.8" r="8.14"/><circle cx="1897.1" cy="389.4" r="8.14"/><circle cx="1884.4" cy="398.2" r="8.14"/>
<circle cx="1851.9" cy="397.3" r="8.14"/><circle cx="1855.0" cy="398.8" r="8.14"/><circle cx="1858.5" cy="401.0" r="8.14"/><circle cx="1865.0" cy="400.0" r="8.14"/><circle cx="1946.3" cy="415.6" r="8.14"/><circle cx="1910.4" cy="426.0" r="8.14"/>
<circle cx="1887.3" cy="431.3" r="8.14"/><circle cx="1792.3" cy="455.4" r="8.14"/><circle cx="1940.6" cy="459.0" r="8.14"/><circle cx="1944.8" cy="471.0" r="8.14"/><circle cx="1959.0" cy="470.6" r="8.14"/><circle cx="2002.5" cy="183.8" r="8.14"/>
<circle cx="1987.5" cy="209.4" r="8.14"/><circle cx="1974.4" cy="217.5" r="8.14"/><circle cx="2090.0" cy="171.0" r="8.14"/><circle cx="2212.1" cy="169.4" r="8.14"/><circle cx="2196.9" cy="215.0" r="8.14"/><circle cx="2191.9" cy="219.4" r="8.14"/>
<circle cx="2211.0" cy="219.0" r="8.14"/><circle cx="1978.1" cy="246.3" r="8.14"/><circle cx="1996.3" cy="248.8" r="8.14"/><circle cx="2025.3" cy="254.6" r="8.14"/><circle cx="2076.9" cy="265.6" r="8.14"/><circle cx="2112.1" cy="253.5" r="8.14"/>
<circle cx="2125.4" cy="247.1" r="8.14"/><circle cx="2182.5" cy="241.3" r="8.14"/><circle cx="1978.8" cy="297.5" r="8.14"/><circle cx="2021.0" cy="296.6" r="8.14"/><circle cx="2038.8" cy="302.5" r="8.14"/><circle cx="2033.4" cy="312.9" r="8.14"/>
<circle cx="2060.0" cy="308.5" r="8.14"/><circle cx="2095.6" cy="319.0" r="8.14"/><circle cx="2066.3" cy="328.8" r="8.14"/><circle cx="2100.9" cy="335.6" r="8.14"/><circle cx="2086.6" cy="345.0" r="8.14"/><circle cx="2100.0" cy="356.3" r="8.14"/>
<circle cx="2096.3" cy="367.5" r="8.14"/><circle cx="2055.9" cy="360.6" r="8.14"/><circle cx="2071.5" cy="360.3" r="8.14"/><circle cx="2171.9" cy="284.4" r="8.14"/><circle cx="2179.8" cy="286.0" r="8.14"/><circle cx="2179.1" cy="292.3" r="8.14"/>
<circle cx="2175.4" cy="297.8" r="8.14"/><circle cx="2177.8" cy="310.6" r="8.14"/><circle cx="2224.0" cy="303.5" r="8.14"/><circle cx="2224.4" cy="315.6" r="8.14"/><circle cx="2209.4" cy="356.9" r="8.14"/><circle cx="2175.0" cy="370.4" r="8.14"/>
<circle cx="2196.9" cy="373.8" r="8.14"/><circle cx="2193.8" cy="378.8" r="8.14"/><circle cx="2195.6" cy="380.0" r="8.14"/><circle cx="2205.0" cy="376.3" r="8.14"/><circle cx="2146.7" cy="395.8" r="8.14"/><circle cx="2013.4" cy="406.3" r="8.14"/>
<circle cx="1998.5" cy="410.6" r="8.14"/><circle cx="1989.0" cy="422.1" r="8.14"/><circle cx="2005.6" cy="422.5" r="8.14"/><circle cx="2016.6" cy="422.5" r="8.14"/><circle cx="2083.4" cy="424.0" r="8.14"/><circle cx="2136.0" cy="418.1" r="8.14"/>
<circle cx="2147.5" cy="420.6" r="8.14"/><circle cx="2167.3" cy="423.1" r="8.14"/><circle cx="2188.1" cy="424.0" r="8.14"/><circle cx="2211.3" cy="410.0" r="8.14"/><circle cx="2158.8" cy="434.8" r="8.14"/><circle cx="2181.0" cy="450.0" r="8.14"/>
<circle cx="2185.0" cy="456.5" r="8.14"/><circle cx="2225.0" cy="448.8" r="8.14"/><circle cx="2037.8" cy="466.3" r="8.14"/><circle cx="2063.1" cy="464.0" r="8.14"/><circle cx="2088.4" cy="472.3" r="8.14"/><circle cx="2063.1" cy="483.1" r="8.14"/>
<circle cx="2066.9" cy="484.8" r="8.14"/><circle cx="2158.8" cy="486.6" r="8.14"/><circle cx="306.2" cy="173.8" r="8.14"/><circle cx="320.9" cy="179.4" r="8.14"/><circle cx="352.2" cy="170.2" r="8.14"/><circle cx="386.9" cy="174.1" r="8.14"/>
<circle cx="453.1" cy="191.5" r="8.14"/><circle cx="464.6" cy="191.5" r="8.14"/><circle cx="481.5" cy="191.9" r="8.14"/><circle cx="502.8" cy="183.8" r="8.14"/><circle cx="514.4" cy="178.8" r="8.14"/><circle cx="516.9" cy="180.0" r="8.14"/>
<circle cx="515.6" cy="183.1" r="8.14"/><circle cx="538.1" cy="180.0" r="8.14"/><circle cx="536.2" cy="187.5" r="8.14"/><circle cx="550.6" cy="170.6" r="8.14"/><circle cx="556.2" cy="171.9" r="8.14"/><circle cx="560.0" cy="184.4" r="8.14"/>
<circle cx="546.2" cy="191.9" r="8.14"/><circle cx="544.4" cy="206.2" r="8.14"/><circle cx="362.5" cy="201.2" r="8.14"/><circle cx="380.6" cy="199.4" r="8.14"/><circle cx="385.6" cy="199.4" r="8.14"/><circle cx="388.8" cy="199.4" r="8.14"/>
<circle cx="416.5" cy="198.1" r="8.14"/><circle cx="294.4" cy="209.8" r="8.14"/><circle cx="345.0" cy="212.1" r="8.14"/><circle cx="318.1" cy="214.0" r="8.14"/><circle cx="314.4" cy="216.9" r="8.14"/><circle cx="311.2" cy="218.5" r="8.14"/>
<circle cx="307.8" cy="222.2" r="8.14"/><circle cx="318.8" cy="226.9" r="8.14"/><circle cx="382.5" cy="222.2" r="8.14"/><circle cx="418.1" cy="223.8" r="8.14"/><circle cx="429.4" cy="230.0" r="8.14"/><circle cx="356.2" cy="233.1" r="8.14"/>
<circle cx="333.8" cy="239.4" r="8.14"/><circle cx="316.9" cy="236.2" r="8.14"/><circle cx="316.2" cy="240.0" r="8.14"/><circle cx="318.1" cy="241.9" r="8.14"/><circle cx="299.6" cy="253.8" r="8.14"/><circle cx="289.4" cy="268.8" r="8.14"/>
<circle cx="291.9" cy="277.5" r="8.14"/><circle cx="506.2" cy="200.6" r="8.14"/><circle cx="498.8" cy="206.2" r="8.14"/><circle cx="501.2" cy="209.4" r="8.14"/><circle cx="503.8" cy="212.5" r="8.14"/><circle cx="461.0" cy="215.6" r="8.14"/>
<circle cx="465.6" cy="215.2" r="8.14"/><circle cx="470.0" cy="214.8" r="8.14"/><circle cx="474.4" cy="213.1" r="8.14"/><circle cx="482.5" cy="222.2" r="8.14"/><circle cx="470.6" cy="223.8" r="8.14"/><circle cx="476.2" cy="226.2" r="8.14"/>
<circle cx="479.4" cy="230.0" r="8.14"/><circle cx="461.2" cy="234.0" r="8.14"/><circle cx="504.0" cy="226.9" r="8.14"/><circle cx="529.4" cy="229.8" r="8.14"/><circle cx="515.0" cy="237.1" r="8.14"/><circle cx="568.1" cy="213.8" r="8.14"/>
<circle cx="568.8" cy="217.5" r="8.14"/><circle cx="567.5" cy="225.0" r="8.14"/><circle cx="557.5" cy="240.6" r="8.14"/><circle cx="562.5" cy="254.4" r="8.14"/><circle cx="541.2" cy="254.8" r="8.14"/><circle cx="490.0" cy="243.1" r="8.14"/>
<circle cx="489.4" cy="245.0" r="8.14"/><circle cx="487.5" cy="253.8" r="8.14"/><circle cx="436.2" cy="247.5" r="8.14"/><circle cx="413.8" cy="244.4" r="8.14"/><circle cx="425.6" cy="254.4" r="8.14"/><circle cx="452.5" cy="245.6" r="8.14"/>
<circle cx="460.9" cy="248.8" r="8.14"/><circle cx="403.1" cy="258.8" r="8.14"/><circle cx="411.9" cy="256.9" r="8.14"/><circle cx="368.1" cy="251.0" r="8.14"/><circle cx="371.9" cy="260.0" r="8.14"/><circle cx="384.4" cy="265.0" r="8.14"/>
<circle cx="366.9" cy="273.1" r="8.14"/><circle cx="371.2" cy="271.9" r="8.14"/><circle cx="373.8" cy="275.0" r="8.14"/><circle cx="370.0" cy="276.2" r="8.14"/><circle cx="396.9" cy="273.8" r="8.14"/><circle cx="398.1" cy="276.2" r="8.14"/>
<circle cx="344.6" cy="275.6" r="8.14"/><circle cx="419.4" cy="278.8" r="8.14"/><circle cx="450.6" cy="273.8" r="8.14"/><circle cx="462.5" cy="275.6" r="8.14"/><circle cx="510.6" cy="255.6" r="8.14"/><circle cx="508.8" cy="257.5" r="8.14"/>
<circle cx="513.1" cy="265.0" r="8.14"/><circle cx="490.0" cy="263.1" r="8.14"/><circle cx="486.2" cy="267.5" r="8.14"/><circle cx="487.5" cy="271.9" r="8.14"/><circle cx="491.2" cy="273.1" r="8.14"/><circle cx="497.5" cy="277.5" r="8.14"/>
<circle cx="553.1" cy="280.6" r="8.14"/><circle cx="299.4" cy="287.9" r="8.14"/><circle cx="302.5" cy="295.4" r="8.14"/><circle cx="297.5" cy="298.5" r="8.14"/><circle cx="301.9" cy="301.0" r="8.14"/><circle cx="300.0" cy="306.0" r="8.14"/>
<circle cx="291.9" cy="299.1" r="8.14"/><circle cx="328.8" cy="289.1" r="8.14"/><circle cx="325.6" cy="292.9" r="8.14"/><circle cx="331.2" cy="294.8" r="8.14"/><circle cx="344.4" cy="286.0" r="8.14"/><circle cx="338.8" cy="301.6" r="8.14"/>
<circle cx="331.2" cy="309.1" r="8.14"/><circle cx="319.4" cy="306.6" r="8.14"/><circle cx="297.5" cy="319.8" r="8.14"/><circle cx="301.9" cy="327.9" r="8.14"/><circle cx="312.5" cy="319.1" r="8.14"/><circle cx="316.2" cy="328.5" r="8.14"/>
<circle cx="368.1" cy="299.8" r="8.14"/><circle cx="386.2" cy="292.2" r="8.14"/><circle cx="378.1" cy="304.8" r="8.14"/><circle cx="378.1" cy="309.1" r="8.14"/><circle cx="378.8" cy="314.1" r="8.14"/><circle cx="412.1" cy="304.1" r="8.14"/>
<circle cx="430.0" cy="304.1" r="8.14"/><circle cx="440.0" cy="293.5" r="8.14"/><circle cx="438.8" cy="298.5" r="8.14"/><circle cx="440.6" cy="302.9" r="8.14"/><circle cx="430.6" cy="285.4" r="8.14"/><circle cx="447.9" cy="318.1" r="8.14"/>
<circle cx="474.8" cy="298.2" r="8.14"/><circle cx="475.4" cy="298.9" r="8.14"/><circle cx="496.9" cy="299.8" r="8.14"/><circle cx="510.6" cy="288.5" r="8.14"/><circle cx="511.9" cy="292.9" r="8.14"/><circle cx="515.0" cy="297.2" r="8.14"/>
<circle cx="507.5" cy="310.4" r="8.14"/><circle cx="499.4" cy="318.5" r="8.14"/><circle cx="498.8" cy="321.6" r="8.14"/><circle cx="530.0" cy="308.5" r="8.14"/><circle cx="532.5" cy="317.2" r="8.14"/><circle cx="553.1" cy="310.4" r="8.14"/>
<circle cx="493.8" cy="333.5" r="8.14"/><circle cx="500.0" cy="332.2" r="8.14"/><circle cx="513.1" cy="337.9" r="8.14"/><circle cx="534.4" cy="336.0" r="8.14"/><circle cx="548.8" cy="331.0" r="8.14"/><circle cx="555.0" cy="333.5" r="8.14"/>
<circle cx="562.5" cy="336.0" r="8.14"/><circle cx="377.5" cy="327.9" r="8.14"/><circle cx="390.6" cy="334.1" r="8.14"/><circle cx="401.2" cy="338.5" r="8.14"/><circle cx="417.5" cy="335.4" r="8.14"/><circle cx="331.2" cy="341.9" r="8.14"/>
<circle cx="368.1" cy="346.0" r="8.14"/><circle cx="372.5" cy="345.4" r="8.14"/><circle cx="376.2" cy="344.1" r="8.14"/><circle cx="380.0" cy="343.5" r="8.14"/><circle cx="383.8" cy="344.8" r="8.14"/><circle cx="443.1" cy="342.2" r="8.14"/>
<circle cx="445.0" cy="343.5" r="8.14"/><circle cx="440.0" cy="344.1" r="8.14"/><circle cx="433.1" cy="357.9" r="8.14"/><circle cx="435.6" cy="367.2" r="8.14"/><circle cx="466.9" cy="351.6" r="8.14"/><circle cx="483.1" cy="353.5" r="8.14"/>
<circle cx="334.4" cy="362.6" r="8.14"/><circle cx="315.0" cy="370.0" r="8.14"/><circle cx="301.2" cy="377.9" r="8.14"/><circle cx="372.9" cy="365.6" r="8.14"/><circle cx="388.1" cy="360.4" r="8.14"/><circle cx="391.9" cy="364.1" r="8.14"/>
<circle cx="411.2" cy="377.5" r="8.14"/><circle cx="412.0" cy="378.5" r="8.14"/><circle cx="477.5" cy="368.5" r="8.14"/><circle cx="518.8" cy="370.4" r="8.14"/><circle cx="465.0" cy="382.9" r="8.14"/><circle cx="472.5" cy="382.2" r="8.14"/>
<circle cx="475.0" cy="384.8" r="8.14"/><circle cx="480.0" cy="381.0" r="8.14"/><circle cx="477.5" cy="388.5" r="8.14"/><circle cx="566.2" cy="376.0" r="8.14"/><circle cx="558.8" cy="387.2" r="8.14"/><circle cx="541.9" cy="389.1" r="8.14"/>
<circle cx="301.9" cy="394.1" r="8.14"/><circle cx="301.2" cy="397.2" r="8.14"/><circle cx="326.2" cy="389.8" r="8.14"/><circle cx="325.0" cy="394.8" r="8.14"/><circle cx="323.8" cy="399.8" r="8.14"/><circle cx="325.0" cy="406.0" r="8.14"/>
<circle cx="322.5" cy="404.8" r="8.14"/><circle cx="340.0" cy="387.2" r="8.14"/><circle cx="339.4" cy="390.4" r="8.14"/><circle cx="340.0" cy="394.8" r="8.14"/><circle cx="374.1" cy="392.0" r="8.14"/><circle cx="390.6" cy="395.4" r="8.14"/>
<circle cx="405.6" cy="396.0" r="8.14"/><circle cx="407.5" cy="398.5" r="8.14"/><circle cx="391.2" cy="406.0" r="8.14"/><circle cx="420.6" cy="404.8" r="8.14"/><circle cx="448.8" cy="404.8" r="8.14"/><circle cx="448.1" cy="407.2" r="8.14"/>
<circle cx="485.0" cy="395.4" r="8.14"/><circle cx="496.9" cy="399.1" r="8.14"/><circle cx="503.8" cy="391.0" r="8.14"/><circle cx="516.9" cy="399.8" r="8.14"/><circle cx="533.1" cy="407.2" r="8.14"/><circle cx="523.8" cy="409.8" r="8.14"/>
<circle cx="550.6" cy="404.1" r="8.14"/><circle cx="293.1" cy="422.6" r="8.14"/><circle cx="301.9" cy="421.4" r="8.14"/><circle cx="320.0" cy="431.4" r="8.14"/><circle cx="325.0" cy="430.8" r="8.14"/><circle cx="328.8" cy="431.4" r="8.14"/>
<circle cx="360.6" cy="419.5" r="8.14"/><circle cx="370.6" cy="416.4" r="8.14"/><circle cx="371.9" cy="422.0" r="8.14"/><circle cx="370.0" cy="427.0" r="8.14"/><circle cx="383.1" cy="417.6" r="8.14"/><circle cx="380.0" cy="437.0" r="8.14"/>
<circle cx="405.6" cy="421.4" r="8.14"/><circle cx="406.2" cy="433.2" r="8.14"/><circle cx="425.6" cy="432.0" r="8.14"/><circle cx="426.9" cy="437.0" r="8.14"/><circle cx="427.5" cy="441.4" r="8.14"/><circle cx="428.1" cy="445.8" r="8.14"/>
<circle cx="429.4" cy="449.5" r="8.14"/><circle cx="421.9" cy="453.2" r="8.14"/><circle cx="426.9" cy="460.1" r="8.14"/><circle cx="441.9" cy="419.5" r="8.14"/><circle cx="444.4" cy="430.1" r="8.14"/><circle cx="455.6" cy="416.4" r="8.14"/>
<circle cx="458.1" cy="432.0" r="8.14"/><circle cx="476.2" cy="437.0" r="8.14"/><circle cx="465.6" cy="445.1" r="8.14"/><circle cx="450.0" cy="448.2" r="8.14"/><circle cx="447.5" cy="453.2" r="8.14"/><circle cx="443.8" cy="455.8" r="8.14"/>
<circle cx="457.5" cy="455.8" r="8.14"/><circle cx="437.5" cy="454.5" r="8.14"/><circle cx="445.0" cy="462.0" r="8.14"/><circle cx="455.0" cy="472.6" r="8.14"/><circle cx="490.0" cy="451.8" r="8.14"/><circle cx="498.1" cy="420.8" r="8.14"/>
<circle cx="494.4" cy="429.5" r="8.14"/><circle cx="508.8" cy="425.1" r="8.14"/><circle cx="512.1" cy="445.5" r="8.14"/><circle cx="541.9" cy="445.8" r="8.14"/><circle cx="520.6" cy="461.4" r="8.14"/><circle cx="512.5" cy="465.1" r="8.14"/>
<circle cx="516.9" cy="466.4" r="8.14"/><circle cx="513.1" cy="475.8" r="8.14"/><circle cx="528.1" cy="477.0" r="8.14"/><circle cx="563.8" cy="430.1" r="8.14"/><circle cx="567.5" cy="437.0" r="8.14"/><circle cx="568.8" cy="442.0" r="8.14"/>
<circle cx="565.6" cy="480.1" r="8.14"/><circle cx="308.1" cy="472.6" r="8.14"/><circle cx="307.2" cy="482.6" r="8.14"/><circle cx="308.5" cy="484.2" r="8.14"/><circle cx="323.1" cy="468.9" r="8.14"/><circle cx="330.6" cy="478.9" r="8.14"/>
<circle cx="341.6" cy="469.5" r="8.14"/><circle cx="363.1" cy="480.8" r="8.14"/><circle cx="374.1" cy="458.9" r="8.14"/><circle cx="376.2" cy="468.9" r="8.14"/><circle cx="385.0" cy="469.5" r="8.14"/><circle cx="388.1" cy="470.8" r="8.14"/>
<circle cx="391.9" cy="478.2" r="8.14"/><circle cx="388.1" cy="482.0" r="8.14"/><circle cx="391.9" cy="452.0" r="8.14"/><circle cx="411.6" cy="468.9" r="8.14"/><circle cx="580.0" cy="167.5" r="8.14"/><circle cx="608.8" cy="168.1" r="8.14"/>
<circle cx="671.2" cy="168.8" r="8.14"/><circle cx="692.5" cy="176.2" r="8.14"/><circle cx="703.1" cy="178.8" r="8.14"/><circle cx="731.9" cy="167.8" r="8.14"/><circle cx="768.8" cy="170.4" r="8.14"/><circle cx="826.9" cy="171.5" r="8.14"/>
<circle cx="841.9" cy="169.8" r="8.14"/><circle cx="845.6" cy="183.8" r="8.14"/><circle cx="824.4" cy="186.9" r="8.14"/><circle cx="822.5" cy="195.0" r="8.14"/><circle cx="830.0" cy="200.0" r="8.14"/><circle cx="621.9" cy="190.2" r="8.14"/>
<circle cx="651.9" cy="187.2" r="8.14"/><circle cx="675.0" cy="180.6" r="8.14"/><circle cx="673.8" cy="183.1" r="8.14"/><circle cx="670.6" cy="193.1" r="8.14"/><circle cx="727.5" cy="184.4" r="8.14"/><circle cx="720.0" cy="199.4" r="8.14"/>
<circle cx="716.9" cy="210.6" r="8.14"/><circle cx="623.8" cy="207.5" r="8.14"/><circle cx="647.5" cy="205.0" r="8.14"/><circle cx="651.2" cy="208.8" r="8.14"/><circle cx="648.1" cy="220.0" r="8.14"/><circle cx="655.0" cy="214.4" r="8.14"/>
<circle cx="677.5" cy="207.5" r="8.14"/><circle cx="581.9" cy="213.8" r="8.14"/><circle cx="705.0" cy="220.6" r="8.14"/><circle cx="743.8" cy="223.1" r="8.14"/><circle cx="750.0" cy="225.0" r="8.14"/><circle cx="801.2" cy="207.5" r="8.14"/>
<circle cx="803.8" cy="215.6" r="8.14"/><circle cx="814.0" cy="212.5" r="8.14"/><circle cx="606.5" cy="231.0" r="8.14"/><circle cx="666.2" cy="228.1" r="8.14"/><circle cx="580.6" cy="238.1" r="8.14"/><circle cx="776.9" cy="226.2" r="8.14"/>
<circle cx="777.5" cy="235.0" r="8.14"/><circle cx="791.2" cy="233.1" r="8.14"/><circle cx="795.0" cy="242.2" r="8.14"/><circle cx="845.0" cy="226.9" r="8.14"/><circle cx="841.2" cy="238.1" r="8.14"/><circle cx="824.4" cy="229.4" r="8.14"/>
<circle cx="825.0" cy="233.8" r="8.14"/><circle cx="823.1" cy="242.5" r="8.14"/><circle cx="825.6" cy="246.9" r="8.14"/><circle cx="831.2" cy="246.2" r="8.14"/><circle cx="823.8" cy="250.0" r="8.14"/><circle cx="818.1" cy="256.2" r="8.14"/>
<circle cx="829.4" cy="258.1" r="8.14"/><circle cx="720.6" cy="239.4" r="8.14"/><circle cx="730.6" cy="242.5" r="8.14"/><circle cx="743.1" cy="239.4" r="8.14"/><circle cx="739.4" cy="250.0" r="8.14"/><circle cx="736.2" cy="245.0" r="8.14"/>
<circle cx="696.9" cy="243.1" r="8.14"/><circle cx="687.5" cy="251.0" r="8.14"/><circle cx="636.2" cy="249.4" r="8.14"/><circle cx="636.2" cy="260.0" r="8.14"/><circle cx="668.1" cy="255.6" r="8.14"/><circle cx="664.4" cy="264.4" r="8.14"/>
<circle cx="717.5" cy="259.4" r="8.14"/><circle cx="646.2" cy="270.6" r="8.14"/><circle cx="588.8" cy="272.5" r="8.14"/><circle cx="614.4" cy="274.4" r="8.14"/><circle cx="636.9" cy="279.4" r="8.14"/><circle cx="841.9" cy="264.4" r="8.14"/>
<circle cx="840.6" cy="275.6" r="8.14"/><circle cx="801.2" cy="273.1" r="8.14"/><circle cx="804.4" cy="273.8" r="8.14"/><circle cx="696.9" cy="275.6" r="8.14"/><circle cx="707.5" cy="275.0" r="8.14"/><circle cx="691.9" cy="280.0" r="8.14"/>
<circle cx="711.9" cy="280.0" r="8.14"/><circle cx="604.4" cy="285.4" r="8.14"/><circle cx="606.0" cy="289.8" r="8.14"/><circle cx="610.0" cy="296.6" r="8.14"/><circle cx="595.6" cy="299.1" r="8.14"/><circle cx="596.9" cy="307.9" r="8.14"/>
<circle cx="631.2" cy="292.9" r="8.14"/><circle cx="683.1" cy="293.5" r="8.14"/><circle cx="748.8" cy="293.2" r="8.14"/><circle cx="792.5" cy="298.5" r="8.14"/><circle cx="818.8" cy="286.0" r="8.14"/><circle cx="832.5" cy="304.1" r="8.14"/>
<circle cx="828.1" cy="312.9" r="8.14"/><circle cx="826.2" cy="316.0" r="8.14"/><circle cx="841.9" cy="319.8" r="8.14"/><circle cx="815.0" cy="324.8" r="8.14"/><circle cx="838.8" cy="329.8" r="8.14"/><circle cx="667.5" cy="312.2" r="8.14"/>
<circle cx="683.1" cy="310.4" r="8.14"/><circle cx="682.5" cy="326.6" r="8.14"/><circle cx="722.5" cy="311.6" r="8.14"/><circle cx="722.5" cy="312.9" r="8.14"/><circle cx="705.6" cy="321.0" r="8.14"/><circle cx="743.8" cy="318.5" r="8.14"/>
<circle cx="763.4" cy="328.2" r="8.14"/><circle cx="785.0" cy="321.0" r="8.14"/><circle cx="781.2" cy="329.1" r="8.14"/><circle cx="790.0" cy="333.5" r="8.14"/><circle cx="785.0" cy="338.5" r="8.14"/><circle cx="787.5" cy="343.5" r="8.14"/>
<circle cx="786.2" cy="349.1" r="8.14"/><circle cx="801.2" cy="341.0" r="8.14"/><circle cx="817.5" cy="341.6" r="8.14"/><circle cx="733.8" cy="336.6" r="8.14"/><circle cx="713.1" cy="337.9" r="8.14"/><circle cx="701.2" cy="342.2" r="8.14"/>
<circle cx="705.6" cy="349.8" r="8.14"/><circle cx="627.5" cy="326.6" r="8.14"/><circle cx="631.9" cy="334.8" r="8.14"/><circle cx="650.6" cy="337.9" r="8.14"/><circle cx="642.5" cy="346.0" r="8.14"/><circle cx="638.1" cy="353.5" r="8.14"/>
<circle cx="639.4" cy="358.5" r="8.14"/><circle cx="645.0" cy="361.0" r="8.14"/><circle cx="647.5" cy="367.2" r="8.14"/><circle cx="648.8" cy="373.5" r="8.14"/><circle cx="666.2" cy="350.4" r="8.14"/><circle cx="602.5" cy="335.4" r="8.14"/>
<circle cx="583.8" cy="347.9" r="8.14"/><circle cx="617.5" cy="367.5" r="8.14"/><circle cx="590.6" cy="371.0" r="8.14"/><circle cx="639.4" cy="378.5" r="8.14"/><circle cx="656.2" cy="379.8" r="8.14"/><circle cx="665.0" cy="370.4" r="8.14"/>
<circle cx="741.9" cy="356.0" r="8.14"/><circle cx="768.1" cy="354.1" r="8.14"/><circle cx="792.5" cy="362.2" r="8.14"/><circle cx="786.2" cy="370.4" r="8.14"/><circle cx="798.1" cy="382.2" r="8.14"/><circle cx="829.4" cy="374.5" r="8.14"/>
<circle cx="837.5" cy="397.2" r="8.14"/><circle cx="733.8" cy="374.8" r="8.14"/><circle cx="751.9" cy="372.9" r="8.14"/><circle cx="753.1" cy="374.1" r="8.14"/><circle cx="746.9" cy="387.9" r="8.14"/><circle cx="762.5" cy="382.2" r="8.14"/>
<circle cx="765.0" cy="388.5" r="8.14"/><circle cx="768.1" cy="391.0" r="8.14"/><circle cx="679.4" cy="384.8" r="8.14"/><circle cx="678.1" cy="389.8" r="8.14"/><circle cx="707.5" cy="387.9" r="8.14"/><circle cx="713.1" cy="396.0" r="8.14"/>
<circle cx="598.8" cy="388.5" r="8.14"/><circle cx="604.4" cy="395.4" r="8.14"/><circle cx="603.8" cy="402.9" r="8.14"/><circle cx="623.8" cy="407.2" r="8.14"/><circle cx="694.4" cy="406.6" r="8.14"/><circle cx="707.5" cy="407.2" r="8.14"/>
<circle cx="722.5" cy="406.0" r="8.14"/><circle cx="730.6" cy="406.0" r="8.14"/><circle cx="696.9" cy="411.0" r="8.14"/><circle cx="758.8" cy="406.6" r="8.14"/><circle cx="778.8" cy="408.5" r="8.14"/><circle cx="580.0" cy="418.9" r="8.14"/>
<circle cx="594.4" cy="422.6" r="8.14"/><circle cx="595.0" cy="423.9" r="8.14"/><circle cx="613.1" cy="415.8" r="8.14"/><circle cx="673.1" cy="422.6" r="8.14"/><circle cx="778.8" cy="420.1" r="8.14"/><circle cx="820.0" cy="416.4" r="8.14"/>
<circle cx="830.6" cy="429.5" r="8.14"/><circle cx="843.8" cy="434.5" r="8.14"/><circle cx="726.9" cy="427.6" r="8.14"/><circle cx="731.2" cy="426.4" r="8.14"/><circle cx="734.4" cy="427.6" r="8.14"/><circle cx="741.9" cy="428.2" r="8.14"/>
<circle cx="756.9" cy="427.6" r="8.14"/><circle cx="725.6" cy="438.9" r="8.14"/><circle cx="771.2" cy="433.9" r="8.14"/><circle cx="769.4" cy="438.9" r="8.14"/><circle cx="779.4" cy="442.6" r="8.14"/><circle cx="811.2" cy="443.9" r="8.14"/>
<circle cx="641.9" cy="435.5" r="8.14"/><circle cx="663.1" cy="447.0" r="8.14"/><circle cx="703.8" cy="442.6" r="8.14"/><circle cx="701.9" cy="449.5" r="8.14"/><circle cx="587.5" cy="451.0" r="8.14"/><circle cx="581.2" cy="468.2" r="8.14"/>
<circle cx="624.4" cy="455.1" r="8.14"/><circle cx="618.8" cy="467.0" r="8.14"/><circle cx="651.9" cy="462.0" r="8.14"/><circle cx="636.9" cy="476.4" r="8.14"/><circle cx="652.2" cy="472.0" r="8.14"/><circle cx="653.5" cy="475.1" r="8.14"/>
<circle cx="681.9" cy="456.4" r="8.14"/><circle cx="683.8" cy="468.2" r="8.14"/><circle cx="688.1" cy="467.0" r="8.14"/><circle cx="693.1" cy="465.1" r="8.14"/><circle cx="726.9" cy="457.0" r="8.14"/><circle cx="732.5" cy="455.1" r="8.14"/>
<circle cx="734.4" cy="460.8" r="8.14"/><circle cx="737.5" cy="463.2" r="8.14"/><circle cx="716.2" cy="467.0" r="8.14"/><circle cx="726.2" cy="472.0" r="8.14"/><circle cx="724.4" cy="477.0" r="8.14"/><circle cx="728.8" cy="485.8" r="8.14"/>
<circle cx="706.9" cy="477.0" r="8.14"/><circle cx="707.5" cy="479.5" r="8.14"/><circle cx="743.1" cy="483.9" r="8.14"/><circle cx="746.9" cy="482.6" r="8.14"/><circle cx="774.4" cy="482.0" r="8.14"/><circle cx="780.0" cy="483.9" r="8.14"/>
<circle cx="790.0" cy="481.4" r="8.14"/><circle cx="806.2" cy="462.6" r="8.14"/><circle cx="821.2" cy="470.1" r="8.14"/><circle cx="828.1" cy="468.9" r="8.14"/><circle cx="821.9" cy="487.0" r="8.14"/>
</g>
<g fill="#212f3f" fill-opacity=".6" stroke="#262626" stroke-width="4.45" stroke-linejoin="round">
<path d="M367.1 728.0 L367.2 727.2 L367.4 726.4 L367.7 725.7 L368.2 724.9 L368.8 724.1 L369.6 723.3 L370.5 722.5 L371.5 721.7 L372.7 721.0 L373.9 720.2 L375.4 719.4 L376.9 718.6 L378.5 717.8 L380.3 717.0 L382.2 716.3 L384.2 715.5 L386.3 714.7 L388.5 713.9 L390.7 713.1 L393.1 712.3 L395.6 711.6 L398.1 710.8 L400.8 710.0 L403.5 709.2 L406.3 708.4 L409.1 707.6 L412.0 706.9 L414.9 706.1 L417.9 705.3 L421.0 704.5 L424.1 703.7 L427.2 702.9 L430.3 702.2 L433.5 701.4 L436.6 700.6 L439.8 699.8 L443.0 699.0 L446.3 698.2 L449.5 697.5 L452.7 696.7 L455.9 695.9 L459.0 695.1 L462.2 694.3 L465.4 693.5 L468.5 692.8 L471.6 692.0 L474.6 691.2 L477.7 690.4 L480.6 689.6 L483.6 688.8 L486.5 688.1 L489.4 687.3 L492.2 686.5 L494.9 685.7 L497.6 684.9 L500.3 684.1 L502.9 683.4 L505.4 682.6 L507.9 681.8 L510.3 681.0 L512.7 680.2 L515.0 679.4 L517.3 678.7 L519.4 677.9 L521.6 677.1 L523.6 676.3 L525.6 675.5 L527.6 674.7 L529.4 674.0 L531.2 673.2 L533.0 672.4 L534.7 671.6 L536.3 670.8 L537.9 670.0 L539.4 669.3 L540.9 668.5 L542.3 667.7 L543.6 666.9 L544.9 666.1 L546.1 665.3 L547.3 664.6 L548.4 663.8 L549.5 663.0 L550.6 662.2 L551.5 661.4 L552.5 660.6 L553.4 659.9 L554.2 659.1 L555.0 658.3 L555.8 657.5 L556.6 656.7 L557.3 655.9 L557.9 655.2 L558.5 654.4 L559.1 653.6 L559.7 652.8 L560.2 652.0 L560.7 651.2 L561.2 650.5 L561.6 649.7 L562.1 648.9 L562.5 648.1 L562.8 647.3 L563.2 646.6 L563.5 645.8 L563.8 645.0 L564.1 644.2 L564.4 643.4 L564.6 642.6 L564.9 641.9 L565.1 641.1 L565.3 640.3 L565.5 639.5 L565.7 638.7 L565.9 637.9 L566.0 637.2 L566.2 636.4 L566.3 635.6 L566.4 634.8 L566.5 634.0 L566.6 633.2 L566.7 632.5 L566.8 631.7 L566.9 630.9 L567.0 630.1 L567.1 629.3 L567.1 628.5 L567.2 627.8 L567.3 627.0 L567.3 626.2 L567.4 625.4 L567.4 624.6 L567.5 623.8 L567.5 623.1 L567.5 622.3 L567.6 621.5 L567.6 620.7 L567.6 619.9 L567.6 619.1 L567.7 618.4 L567.7 617.6 L567.7 616.8 L567.7 616.0 L567.7 615.2 L567.8 614.4 L567.8 613.7 L567.8 612.9 L567.8 612.1 L567.8 611.3 L567.8 610.5 L567.8 609.7 L567.8 609.0 L567.8 608.2 L567.8 607.4 L567.8 606.6 L567.8 605.8 L567.8 605.0 L567.9 604.3 L567.9 603.5 L567.9 602.7 L567.9 601.9 L567.9 601.1 L567.9 600.3 L567.9 599.6 L567.9 598.8 L567.9 598.0 L567.9 597.2 L567.9 596.4 L567.9 595.6 L567.9 594.9 L567.9 594.1 L567.9 593.3 L567.9 592.5 L567.9 591.7 L567.9 590.9 L567.9 590.2 L567.9 589.4 L567.9 588.6 L567.9 587.8 L567.9 587.0 L567.9 586.2 L567.9 585.5 L567.9 584.7 L567.9 583.9 L567.9 583.1 L567.9 582.3 L567.9 581.5 L567.9 580.8 L567.9 580.0 L567.9 579.2 L567.9 578.4 L567.9 577.6 L567.9 576.8 L567.9 576.1 L567.9 575.3 L567.9 574.5 L567.9 573.7 L567.9 572.9 L567.9 572.1 L567.9 571.4 L567.9 570.6 L567.9 569.8 L567.9 569.0 L567.9 568.2 L567.9 567.5 L567.9 566.7 L567.9 565.9 L567.9 565.1 L567.9 564.3 L567.9 563.5 L567.9 562.8 L567.9 562.0 L567.9 561.2 L567.9 560.4 L567.9 559.6 L567.9 558.8 L567.9 558.1 L567.9 557.3 L567.9 556.5 L567.9 555.7 L567.9 554.9 L567.9 554.1 L567.9 553.4 L567.9 552.6 L567.9 551.8 L567.9 551.0 L567.9 550.2 L567.9 549.4 L567.9 548.7 L567.9 547.9 L567.9 547.1 L567.9 546.3 L567.9 545.5 L567.9 544.7 L567.9 544.0 L567.9 543.2 L567.9 542.4 L567.9 541.6 L567.9 540.8 L567.9 540.0 L567.9 539.3 L567.9 538.5 L567.9 537.7 L567.9 536.9 L567.9 536.1 L567.9 535.3 L567.9 534.6 L567.9 533.8 L567.9 533.0 L567.9 532.2 L567.9 531.4 L567.9 530.6 L567.9 529.9 L567.9 529.1 L567.9 528.3 L567.9 527.5 L567.9 526.7 L567.9 525.9 L567.9 525.2 L567.9 524.4 L567.9 523.6 L567.9 522.8 L567.9 522.0 L567.9 521.2 L567.9 520.5 L567.9 519.7 L567.9 518.9 L567.9 518.1 L567.9 517.3 L567.9 516.5 L567.9 515.8 L567.9 515.0 L567.9 514.2 L567.9 513.4 L567.9 512.6 L567.9 511.8 L567.9 511.1 L567.9 510.3 L567.9 509.5 L567.9 508.7 L567.9 507.9 L567.9 507.1 L567.9 506.4 L567.9 505.6 L567.9 504.8 L567.9 504.0 L567.9 503.2 L567.9 502.4 L567.9 501.7 L567.9 500.9 L567.9 500.1 L567.9 499.3 L567.9 498.5 L567.9 497.7 L567.9 497.0 L567.9 496.2 L567.9 495.4 L567.9 494.6 L567.9 493.8 L567.9 493.0 L567.9 492.3 L567.9 491.5 L567.9 490.7 L567.9 489.9 L567.9 489.1 L567.9 488.3 L567.9 487.6 L567.9 486.8 L567.9 486.0 L567.9 485.2 L567.9 484.4 L567.9 483.7 L567.9 482.9 L567.9 482.1 L567.9 481.3 L567.9 480.5 L567.9 479.7 L567.9 479.0 L567.9 478.2 L567.9 477.4 L567.9 476.6 L567.9 475.8 L567.9 475.0 L567.9 474.3 L567.9 473.5 L567.9 472.7 L567.9 471.9 L567.9 471.1 L567.9 470.3 L567.9 469.6 L567.9 468.8 L567.9 468.0 L567.9 467.2 L567.9 466.4 L567.9 465.6 L567.9 464.9 L567.9 464.1 L567.9 463.3 L567.9 462.5 L567.9 461.7 L567.9 460.9 L567.9 460.2 L567.9 459.4 L567.9 458.6 L567.9 457.8 L567.9 457.0 L567.9 456.2 L567.9 455.5 L567.9 454.7 L567.9 453.9 L567.9 453.1 L567.9 452.3 L567.9 451.5 L567.9 450.8 L567.9 450.0 L567.9 449.2 L567.9 448.4 L567.9 447.6 L567.9 446.8 L567.9 446.1 L567.9 445.3 L567.9 444.5 L567.9 443.7 L567.9 442.9 L567.9 442.1 L567.9 441.4 L567.9 440.6 L567.8 439.8 L567.8 439.0 L567.8 438.2 L567.8 437.4 L567.8 436.7 L567.8 435.9 L567.8 435.1 L567.8 434.3 L567.8 433.5 L567.8 432.7 L567.8 432.0 L567.8 431.2 L567.8 430.4 L567.8 429.6 L567.7 428.8 L567.7 428.0 L567.7 427.3 L567.7 426.5 L567.7 425.7 L567.7 424.9 L567.6 424.1 L567.6 423.3 L567.6 422.6 L567.6 421.8 L567.5 421.0 L567.5 420.2 L567.5 419.4 L567.4 418.6 L567.4 417.9 L567.4 417.1 L567.3 416.3 L567.3 415.5 L567.2 414.7 L567.2 413.9 L567.1 413.2 L567.1 412.4 L567.0 411.6 L566.9 410.8 L566.9 410.0 L566.8 409.2 L566.7 408.5 L566.6 407.7 L566.5 406.9 L566.4 406.1 L566.3 405.3 L566.2 404.6 L566.1 403.8 L566.0 403.0 L565.8 402.2 L565.7 401.4 L565.6 400.6 L565.4 399.9 L565.2 399.1 L565.1 398.3 L564.9 397.5 L564.7 396.7 L564.5 395.9 L564.3 395.2 L564.1 394.4 L563.8 393.6 L563.6 392.8 L563.3 392.0 L563.1 391.2 L562.8 390.5 L562.5 389.7 L562.2 388.9 L561.9 388.1 L561.6 387.3 L561.2 386.5 L560.9 385.8 L560.5 385.0 L560.1 384.2 L559.7 383.4 L559.3 382.6 L558.9 381.8 L558.5 381.1 L558.0 380.3 L557.5 379.5 L557.1 378.7 L556.6 377.9 L556.0 377.1 L555.5 376.4 L555.0 375.6 L554.4 374.8 L553.9 374.0 L553.3 373.2 L552.7 372.4 L552.1 371.7 L551.5 370.9 L550.8 370.1 L550.2 369.3 L549.5 368.5 L548.8 367.7 L548.2 367.0 L547.5 366.2 L546.8 365.4 L546.1 364.6 L545.4 363.8 L544.6 363.0 L543.9 362.3 L543.2 361.5 L542.4 360.7 L541.7 359.9 L540.9 359.1 L540.2 358.3 L539.4 357.6 L538.7 356.8 L537.9 356.0 L537.2 355.2 L536.4 354.4 L535.7 353.6 L535.0 352.9 L534.2 352.1 L533.5 351.3 L532.8 350.5 L532.1 349.7 L531.4 348.9 L530.7 348.2 L530.1 347.4 L529.4 346.6 L528.8 345.8 L528.2 345.0 L527.6 344.2 L527.0 343.5 L526.4 342.7 L525.9 341.9 L525.4 341.1 L524.9 340.3 L524.4 339.5 L524.0 338.8 L523.6 338.0 L523.2 337.2 L522.8 336.4 L522.5 335.6 L522.2 334.8 L521.9 334.1 L521.7 333.3 L521.5 332.5 L521.3 331.7 L521.2 330.9 L521.1 330.1 L521.0 329.4 L520.9 328.6 L520.9 327.8 L614.9 327.8 L614.8 328.6 L614.8 329.4 L614.7 330.1 L614.6 330.9 L614.5 331.7 L614.3 332.5 L614.1 333.3 L613.8 334.1 L613.6 334.8 L613.3 335.6 L612.9 336.4 L612.6 337.2 L612.2 338.0 L611.8 338.8 L611.3 339.5 L610.9 340.3 L610.4 341.1 L609.9 341.9 L609.3 342.7 L608.8 343.5 L608.2 344.2 L607.6 345.0 L607.0 345.8 L606.3 346.6 L605.7 347.4 L605.0 348.2 L604.4 348.9 L603.7 349.7 L603.0 350.5 L602.3 351.3 L601.5 352.1 L600.8 352.9 L600.1 353.6 L599.3 354.4 L598.6 355.2 L597.8 356.0 L597.1 356.8 L596.3 357.6 L595.6 358.3 L594.8 359.1 L594.1 359.9 L593.4 360.7 L592.6 361.5 L591.9 362.3 L591.1 363.0 L590.4 363.8 L589.7 364.6 L589.0 365.4 L588.3 366.2 L587.6 367.0 L586.9 367.7 L586.3 368.5 L585.6 369.3 L585.0 370.1 L584.3 370.9 L583.7 371.7 L583.1 372.4 L582.5 373.2 L581.9 374.0 L581.3 374.8 L580.8 375.6 L580.3 376.4 L579.7 377.1 L579.2 377.9 L578.7 378.7 L578.2 379.5 L577.8 380.3 L577.3 381.1 L576.9 381.8 L576.5 382.6 L576.0 383.4 L575.7 384.2 L575.3 385.0 L574.9 385.8 L574.6 386.5 L574.2 387.3 L573.9 388.1 L573.6 388.9 L573.3 389.7 L573.0 390.5 L572.7 391.2 L572.4 392.0 L572.2 392.8 L571.9 393.6 L571.7 394.4 L571.5 395.2 L571.3 395.9 L571.1 396.7 L570.9 397.5 L570.7 398.3 L570.5 399.1 L570.4 399.9 L570.2 400.6 L570.1 401.4 L569.9 402.2 L569.8 403.0 L569.7 403.8 L569.6 404.6 L569.5 405.3 L569.3 406.1 L569.2 406.9 L569.2 407.7 L569.1 408.5 L569.0 409.2 L568.9 410.0 L568.8 410.8 L568.8 411.6 L568.7 412.4 L568.6 413.2 L568.6 413.9 L568.5 414.7 L568.5 415.5 L568.4 416.3 L568.4 417.1 L568.4 417.9 L568.3 418.6 L568.3 419.4 L568.3 420.2 L568.2 421.0 L568.2 421.8 L568.2 422.6 L568.2 423.3 L568.1 424.1 L568.1 424.9 L568.1 425.7 L568.1 426.5 L568.1 427.3 L568.0 428.0 L568.0 428.8 L568.0 429.6 L568.0 430.4 L568.0 431.2 L568.0 432.0 L568.0 432.7 L568.0 433.5 L568.0 434.3 L568.0 435.1 L568.0 435.9 L567.9 436.7 L567.9 437.4 L567.9 438.2 L567.9 439.0 L567.9 439.8 L567.9 440.6 L567.9 441.4 L567.9 442.1 L567.9 442.9 L567.9 443.7 L567.9 444.5 L567.9 445.3 L567.9 446.1 L567.9 446.8 L567.9 447.6 L567.9 448.4 L567.9 449.2 L567.9 450.0 L567.9 450.8 L567.9 451.5 L567.9 452.3 L567.9 453.1 L567.9 453.9 L567.9 454.7 L567.9 455.5 L567.9 456.2 L567.9 457.0 L567.9 457.8 L567.9 458.6 L567.9 459.4 L567.9 460.2 L567.9 460.9 L567.9 461.7 L567.9 462.5 L567.9 463.3 L567.9 464.1 L567.9 464.9 L567.9 465.6 L567.9 466.4 L567.9 467.2 L567.9 468.0 L567.9 468.8 L567.9 469.6 L567.9 470.3 L567.9 471.1 L567.9 471.9 L567.9 472.7 L567.9 473.5 L567.9 474.3 L567.9 475.0 L567.9 475.8 L567.9 476.6 L567.9 477.4 L567.9 478.2 L567.9 479.0 L567.9 479.7 L567.9 480.5 L567.9 481.3 L567.9 482.1 L567.9 482.9 L567.9 483.7 L567.9 484.4 L567.9 485.2 L567.9 486.0 L567.9 486.8 L567.9 487.6 L567.9 488.3 L567.9 489.1 L567.9 489.9 L567.9 490.7 L567.9 491.5 L567.9 492.3 L567.9 493.0 L567.9 493.8 L567.9 494.6 L567.9 495.4 L567.9 496.2 L567.9 497.0 L567.9 497.7 L567.9 498.5 L567.9 499.3 L567.9 500.1 L567.9 500.9 L567.9 501.7 L567.9 502.4 L567.9 503.2 L567.9 504.0 L567.9 504.8 L567.9 505.6 L567.9 506.4 L567.9 507.1 L567.9 507.9 L567.9 508.7 L567.9 509.5 L567.9 510.3 L567.9 511.1 L567.9 511.8 L567.9 512.6 L567.9 513.4 L567.9 514.2 L567.9 515.0 L567.9 515.8 L567.9 516.5 L567.9 517.3 L567.9 518.1 L567.9 518.9 L567.9 519.7 L567.9 520.5 L567.9 521.2 L567.9 522.0 L567.9 522.8 L567.9 523.6 L567.9 524.4 L567.9 525.2 L567.9 525.9 L567.9 526.7 L567.9 527.5 L567.9 528.3 L567.9 529.1 L567.9 529.9 L567.9 530.6 L567.9 531.4 L567.9 532.2 L567.9 533.0 L567.9 533.8 L567.9 534.6 L567.9 535.3 L567.9 536.1 L567.9 536.9 L567.9 537.7 L567.9 538.5 L567.9 539.3 L567.9 540.0 L567.9 540.8 L567.9 541.6 L567.9 542.4 L567.9 543.2 L567.9 544.0 L567.9 544.7 L567.9 545.5 L567.9 546.3 L567.9 547.1 L567.9 547.9 L567.9 548.7 L567.9 549.4 L567.9 550.2 L567.9 551.0 L567.9 551.8 L567.9 552.6 L567.9 553.4 L567.9 554.1 L567.9 554.9 L567.9 555.7 L567.9 556.5 L567.9 557.3 L567.9 558.1 L567.9 558.8 L567.9 559.6 L567.9 560.4 L567.9 561.2 L567.9 562.0 L567.9 562.8 L567.9 563.5 L567.9 564.3 L567.9 565.1 L567.9 565.9 L567.9 566.7 L567.9 567.5 L567.9 568.2 L567.9 569.0 L567.9 569.8 L567.9 570.6 L567.9 571.4 L567.9 572.1 L567.9 572.9 L567.9 573.7 L567.9 574.5 L567.9 575.3 L567.9 576.1 L567.9 576.8 L567.9 577.6 L567.9 578.4 L567.9 579.2 L567.9 580.0 L567.9 580.8 L567.9 581.5 L567.9 582.3 L567.9 583.1 L567.9 583.9 L567.9 584.7 L567.9 585.5 L567.9 586.2 L567.9 587.0 L567.9 587.8 L567.9 588.6 L567.9 589.4 L567.9 590.2 L567.9 590.9 L567.9 591.7 L567.9 592.5 L567.9 593.3 L567.9 594.1 L567.9 594.9 L567.9 595.6 L567.9 596.4 L567.9 597.2 L567.9 598.0 L567.9 598.8 L567.9 599.6 L567.9 600.3 L567.9 601.1 L567.9 601.9 L567.9 602.7 L567.9 603.5 L567.9 604.3 L567.9 605.0 L567.9 605.8 L567.9 606.6 L567.9 607.4 L567.9 608.2 L568.0 609.0 L568.0 609.7 L568.0 610.5 L568.0 611.3 L568.0 612.1 L568.0 612.9 L568.0 613.7 L568.0 614.4 L568.0 615.2 L568.1 616.0 L568.1 616.8 L568.1 617.6 L568.1 618.4 L568.1 619.1 L568.2 619.9 L568.2 620.7 L568.2 621.5 L568.2 622.3 L568.3 623.1 L568.3 623.8 L568.4 624.6 L568.4 625.4 L568.5 626.2 L568.5 627.0 L568.6 627.8 L568.6 628.5 L568.7 629.3 L568.8 630.1 L568.9 630.9 L568.9 631.7 L569.0 632.5 L569.1 633.2 L569.2 634.0 L569.4 634.8 L569.5 635.6 L569.6 636.4 L569.8 637.2 L569.9 637.9 L570.1 638.7 L570.3 639.5 L570.5 640.3 L570.7 641.1 L570.9 641.9 L571.1 642.6 L571.4 643.4 L571.7 644.2 L571.9 645.0 L572.3 645.8 L572.6 646.6 L572.9 647.3 L573.3 648.1 L573.7 648.9 L574.1 649.7 L574.6 650.5 L575.0 651.2 L575.5 652.0 L576.1 652.8 L576.6 653.6 L577.2 654.4 L577.9 655.2 L578.5 655.9 L579.2 656.7 L580.0 657.5 L580.7 658.3 L581.5 659.1 L582.4 659.9 L583.3 660.6 L584.2 661.4 L585.2 662.2 L586.3 663.0 L587.3 663.8 L588.5 664.6 L589.7 665.3 L590.9 666.1 L592.2 666.9 L593.5 667.7 L594.9 668.5 L596.4 669.3 L597.9 670.0 L599.5 670.8 L601.1 671.6 L602.8 672.4 L604.5 673.2 L606.3 674.0 L608.2 674.7 L610.1 675.5 L612.1 676.3 L614.2 677.1 L616.3 677.9 L618.5 678.7 L620.8 679.4 L623.1 680.2 L625.4 681.0 L627.9 681.8 L630.3 682.6 L632.9 683.4 L635.5 684.1 L638.1 684.9 L640.9 685.7 L643.6 686.5 L646.4 687.3 L649.3 688.1 L652.2 688.8 L655.1 689.6 L658.1 690.4 L661.1 691.2 L664.2 692.0 L667.3 692.8 L670.4 693.5 L673.6 694.3 L676.7 695.1 L679.9 695.9 L683.1 696.7 L686.3 697.5 L689.5 698.2 L692.7 699.0 L695.9 699.8 L699.1 700.6 L702.3 701.4 L705.5 702.2 L708.6 702.9 L711.7 703.7 L714.8 704.5 L717.8 705.3 L720.8 706.1 L723.8 706.9 L726.7 707.6 L729.5 708.4 L732.3 709.2 L735.0 710.0 L737.6 710.8 L740.2 711.6 L742.6 712.3 L745.0 713.1 L747.3 713.9 L749.5 714.7 L751.6 715.5 L753.6 716.3 L755.5 717.0 L757.2 717.8 L758.9 718.6 L760.4 719.4 L761.8 720.2 L763.1 721.0 L764.3 721.7 L765.3 722.5 L766.2 723.3 L766.9 724.1 L767.6 724.9 L768.1 725.7 L768.4 726.4 L768.6 727.2 L768.7 728.0Z"/>
<path d="M1143.5 728.0 L1143.6 727.2 L1143.7 726.4 L1143.8 725.7 L1144.0 724.9 L1144.3 724.1 L1144.6 723.3 L1145.0 722.5 L1145.4 721.7 L1145.9 721.0 L1146.4 720.2 L1147.0 719.4 L1147.7 718.6 L1148.4 717.8 L1149.1 717.0 L1149.9 716.3 L1150.8 715.5 L1151.7 714.7 L1152.6 713.9 L1153.6 713.1 L1154.6 712.3 L1155.7 711.6 L1156.8 710.8 L1158.0 710.0 L1159.2 709.2 L1160.4 708.4 L1161.7 707.6 L1163.0 706.9 L1164.3 706.1 L1165.7 705.3 L1167.0 704.5 L1168.5 703.7 L1169.9 702.9 L1171.4 702.2 L1172.8 701.4 L1174.3 700.6 L1175.9 699.8 L1177.4 699.0 L1179.0 698.2 L1180.5 697.5 L1182.1 696.7 L1183.7 695.9 L1185.3 695.1 L1186.9 694.3 L1188.5 693.5 L1190.1 692.8 L1191.7 692.0 L1193.3 691.2 L1194.9 690.4 L1196.5 689.6 L1198.1 688.8 L1199.6 688.1 L1201.2 687.3 L1202.8 686.5 L1204.3 685.7 L1205.9 684.9 L1207.4 684.1 L1208.9 683.4 L1210.4 682.6 L1211.9 681.8 L1213.4 681.0 L1214.8 680.2 L1216.3 679.4 L1217.7 678.7 L1219.1 677.9 L1220.4 677.1 L1221.8 676.3 L1223.1 675.5 L1224.4 674.7 L1225.7 674.0 L1227.0 673.2 L1228.2 672.4 L1229.4 671.6 L1230.6 670.8 L1231.7 670.0 L1232.9 669.3 L1234.0 668.5 L1235.0 667.7 L1236.1 666.9 L1237.1 666.1 L1238.1 665.3 L1239.1 664.6 L1240.1 663.8 L1241.0 663.0 L1241.9 662.2 L1242.8 661.4 L1243.6 660.6 L1244.4 659.9 L1245.2 659.1 L1246.0 658.3 L1246.8 657.5 L1247.5 656.7 L1248.2 655.9 L1248.9 655.2 L1249.5 654.4 L1250.1 653.6 L1250.8 652.8 L1251.3 652.0 L1251.9 651.2 L1252.5 650.5 L1253.0 649.7 L1253.5 648.9 L1254.0 648.1 L1254.5 647.3 L1254.9 646.6 L1255.3 645.8 L1255.8 645.0 L1256.2 644.2 L1256.5 643.4 L1256.9 642.6 L1257.3 641.9 L1257.6 641.1 L1257.9 640.3 L1258.2 639.5 L1258.5 638.7 L1258.8 637.9 L1259.1 637.2 L1259.3 636.4 L1259.6 635.6 L1259.8 634.8 L1260.0 634.0 L1260.2 633.2 L1260.4 632.5 L1260.6 631.7 L1260.8 630.9 L1261.0 630.1 L1261.1 629.3 L1261.3 628.5 L1261.4 627.8 L1261.6 627.0 L1261.7 626.2 L1261.8 625.4 L1261.9 624.6 L1262.0 623.8 L1262.1 623.1 L1262.2 622.3 L1262.3 621.5 L1262.4 620.7 L1262.5 619.9 L1262.6 619.1 L1262.6 618.4 L1262.7 617.6 L1262.8 616.8 L1262.8 616.0 L1262.9 615.2 L1263.0 614.4 L1263.0 613.7 L1263.1 612.9 L1263.1 612.1 L1263.1 611.3 L1263.2 610.5 L1263.2 609.7 L1263.2 609.0 L1263.3 608.2 L1263.3 607.4 L1263.3 606.6 L1263.4 605.8 L1263.4 605.0 L1263.4 604.3 L1263.4 603.5 L1263.5 602.7 L1263.5 601.9 L1263.5 601.1 L1263.5 600.3 L1263.5 599.6 L1263.5 598.8 L1263.5 598.0 L1263.6 597.2 L1263.6 596.4 L1263.6 595.6 L1263.6 594.9 L1263.6 594.1 L1263.6 593.3 L1263.6 592.5 L1263.6 591.7 L1263.6 590.9 L1263.6 590.2 L1263.6 589.4 L1263.6 588.6 L1263.6 587.8 L1263.7 587.0 L1263.7 586.2 L1263.7 585.5 L1263.7 584.7 L1263.7 583.9 L1263.7 583.1 L1263.7 582.3 L1263.7 581.5 L1263.7 580.8 L1263.7 580.0 L1263.7 579.2 L1263.7 578.4 L1263.7 577.6 L1263.7 576.8 L1263.7 576.1 L1263.7 575.3 L1263.7 574.5 L1263.7 573.7 L1263.7 572.9 L1263.7 572.1 L1263.7 571.4 L1263.7 570.6 L1263.7 569.8 L1263.7 569.0 L1263.7 568.2 L1263.7 567.5 L1263.7 566.7 L1263.7 565.9 L1263.7 565.1 L1263.7 564.3 L1263.7 563.5 L1263.7 562.8 L1263.7 562.0 L1263.7 561.2 L1263.7 560.4 L1263.7 559.6 L1263.7 558.8 L1263.7 558.1 L1263.7 557.3 L1263.7 556.5 L1263.7 555.7 L1263.7 554.9 L1263.7 554.1 L1263.7 553.4 L1263.7 552.6 L1263.7 551.8 L1263.7 551.0 L1263.7 550.2 L1263.7 549.4 L1263.7 548.7 L1263.7 547.9 L1263.7 547.1 L1263.7 546.3 L1263.7 545.5 L1263.7 544.7 L1263.7 544.0 L1263.7 543.2 L1263.7 542.4 L1263.7 541.6 L1263.7 540.8 L1263.7 540.0 L1263.7 539.3 L1263.7 538.5 L1263.7 537.7 L1263.7 536.9 L1263.7 536.1 L1263.7 535.3 L1263.7 534.6 L1263.7 533.8 L1263.7 533.0 L1263.7 532.2 L1263.7 531.4 L1263.7 530.6 L1263.7 529.9 L1263.7 529.1 L1263.7 528.3 L1263.7 527.5 L1263.7 526.7 L1263.7 525.9 L1263.7 525.2 L1263.7 524.4 L1263.7 523.6 L1263.7 522.8 L1263.7 522.0 L1263.7 521.2 L1263.7 520.5 L1263.7 519.7 L1263.7 518.9 L1263.7 518.1 L1263.7 517.3 L1263.7 516.5 L1263.7 515.8 L1263.7 515.0 L1263.7 514.2 L1263.7 513.4 L1263.7 512.6 L1263.7 511.8 L1263.7 511.1 L1263.7 510.3 L1263.7 509.5 L1263.7 508.7 L1263.7 507.9 L1263.7 507.1 L1263.7 506.4 L1263.7 505.6 L1263.7 504.8 L1263.7 504.0 L1263.7 503.2 L1263.7 502.4 L1263.7 501.7 L1263.7 500.9 L1263.7 500.1 L1263.7 499.3 L1263.7 498.5 L1263.7 497.7 L1263.7 497.0 L1263.7 496.2 L1263.7 495.4 L1263.7 494.6 L1263.7 493.8 L1263.7 493.0 L1263.7 492.3 L1263.7 491.5 L1263.7 490.7 L1263.7 489.9 L1263.7 489.1 L1263.7 488.3 L1263.7 487.6 L1263.7 486.8 L1263.7 486.0 L1263.7 485.2 L1263.7 484.4 L1263.7 483.7 L1263.7 482.9 L1263.7 482.1 L1263.7 481.3 L1263.7 480.5 L1263.7 479.7 L1263.7 479.0 L1263.7 478.2 L1263.7 477.4 L1263.7 476.6 L1263.7 475.8 L1263.7 475.0 L1263.7 474.3 L1263.7 473.5 L1263.7 472.7 L1263.7 471.9 L1263.7 471.1 L1263.7 470.3 L1263.7 469.6 L1263.7 468.8 L1263.7 468.0 L1263.7 467.2 L1263.7 466.4 L1263.7 465.6 L1263.6 464.9 L1263.6 464.1 L1263.6 463.3 L1263.6 462.5 L1263.6 461.7 L1263.6 460.9 L1263.6 460.2 L1263.6 459.4 L1263.6 458.6 L1263.6 457.8 L1263.6 457.0 L1263.6 456.2 L1263.6 455.5 L1263.5 454.7 L1263.5 453.9 L1263.5 453.1 L1263.5 452.3 L1263.5 451.5 L1263.5 450.8 L1263.5 450.0 L1263.4 449.2 L1263.4 448.4 L1263.4 447.6 L1263.4 446.8 L1263.4 446.1 L1263.3 445.3 L1263.3 444.5 L1263.3 443.7 L1263.2 442.9 L1263.2 442.1 L1263.2 441.4 L1263.1 440.6 L1263.1 439.8 L1263.0 439.0 L1263.0 438.2 L1262.9 437.4 L1262.9 436.7 L1262.8 435.9 L1262.8 435.1 L1262.7 434.3 L1262.6 433.5 L1262.6 432.7 L1262.5 432.0 L1262.4 431.2 L1262.3 430.4 L1262.2 429.6 L1262.2 428.8 L1262.1 428.0 L1261.9 427.3 L1261.8 426.5 L1261.7 425.7 L1261.6 424.9 L1261.5 424.1 L1261.3 423.3 L1261.2 422.6 L1261.0 421.8 L1260.9 421.0 L1260.7 420.2 L1260.5 419.4 L1260.4 418.6 L1260.2 417.9 L1260.0 417.1 L1259.7 416.3 L1259.5 415.5 L1259.3 414.7 L1259.1 413.9 L1258.8 413.2 L1258.5 412.4 L1258.3 411.6 L1258.0 410.8 L1257.7 410.0 L1257.4 409.2 L1257.0 408.5 L1256.7 407.7 L1256.3 406.9 L1256.0 406.1 L1255.6 405.3 L1255.2 404.6 L1254.8 403.8 L1254.4 403.0 L1253.9 402.2 L1253.5 401.4 L1253.0 400.6 L1252.5 399.9 L1252.0 399.1 L1251.5 398.3 L1250.9 397.5 L1250.4 396.7 L1249.8 395.9 L1249.2 395.2 L1248.6 394.4 L1248.0 393.6 L1247.3 392.8 L1246.7 392.0 L1246.0 391.2 L1245.3 390.5 L1244.5 389.7 L1243.8 388.9 L1243.0 388.1 L1242.3 387.3 L1241.5 386.5 L1240.7 385.8 L1239.8 385.0 L1239.0 384.2 L1238.1 383.4 L1237.2 382.6 L1236.3 381.8 L1235.4 381.1 L1234.4 380.3 L1233.5 379.5 L1232.5 378.7 L1231.5 377.9 L1230.5 377.1 L1229.5 376.4 L1228.5 375.6 L1227.4 374.8 L1226.4 374.0 L1225.3 373.2 L1224.2 372.4 L1223.1 371.7 L1222.0 370.9 L1220.9 370.1 L1219.8 369.3 L1218.6 368.5 L1217.5 367.7 L1216.4 367.0 L1215.2 366.2 L1214.1 365.4 L1212.9 364.6 L1211.8 363.8 L1210.6 363.0 L1209.5 362.3 L1208.3 361.5 L1207.2 360.7 L1206.0 359.9 L1204.9 359.1 L1203.7 358.3 L1202.6 357.6 L1201.5 356.8 L1200.4 356.0 L1199.3 355.2 L1198.2 354.4 L1197.1 353.6 L1196.1 352.9 L1195.0 352.1 L1194.0 351.3 L1193.0 350.5 L1192.0 349.7 L1191.1 348.9 L1190.1 348.2 L1189.2 347.4 L1188.3 346.6 L1187.5 345.8 L1186.6 345.0 L1185.8 344.2 L1185.1 343.5 L1184.3 342.7 L1183.6 341.9 L1182.9 341.1 L1182.3 340.3 L1181.7 339.5 L1181.1 338.8 L1180.5 338.0 L1180.0 337.2 L1179.6 336.4 L1179.1 335.6 L1178.8 334.8 L1178.4 334.1 L1178.1 333.3 L1177.8 332.5 L1177.6 331.7 L1177.4 330.9 L1177.3 330.1 L1177.2 329.4 L1177.1 328.6 L1177.1 327.8 L1350.3 327.8 L1350.3 328.6 L1350.2 329.4 L1350.1 330.1 L1350.0 330.9 L1349.8 331.7 L1349.6 332.5 L1349.3 333.3 L1349.0 334.1 L1348.6 334.8 L1348.3 335.6 L1347.8 336.4 L1347.4 337.2 L1346.9 338.0 L1346.3 338.8 L1345.7 339.5 L1345.1 340.3 L1344.5 341.1 L1343.8 341.9 L1343.1 342.7 L1342.3 343.5 L1341.6 344.2 L1340.8 345.0 L1339.9 345.8 L1339.1 346.6 L1338.2 347.4 L1337.3 348.2 L1336.3 348.9 L1335.4 349.7 L1334.4 350.5 L1333.4 351.3 L1332.4 352.1 L1331.3 352.9 L1330.3 353.6 L1329.2 354.4 L1328.1 355.2 L1327.0 356.0 L1325.9 356.8 L1324.8 357.6 L1323.7 358.3 L1322.5 359.1 L1321.4 359.9 L1320.2 360.7 L1319.1 361.5 L1317.9 362.3 L1316.8 363.0 L1315.6 363.8 L1314.5 364.6 L1313.3 365.4 L1312.2 366.2 L1311.0 367.0 L1309.9 367.7 L1308.8 368.5 L1307.6 369.3 L1306.5 370.1 L1305.4 370.9 L1304.3 371.7 L1303.2 372.4 L1302.1 373.2 L1301.0 374.0 L1300.0 374.8 L1298.9 375.6 L1297.9 376.4 L1296.9 377.1 L1295.9 377.9 L1294.9 378.7 L1293.9 379.5 L1293.0 380.3 L1292.0 381.1 L1291.1 381.8 L1290.2 382.6 L1289.3 383.4 L1288.4 384.2 L1287.6 385.0 L1286.7 385.8 L1285.9 386.5 L1285.1 387.3 L1284.4 388.1 L1283.6 388.9 L1282.9 389.7 L1282.1 390.5 L1281.4 391.2 L1280.7 392.0 L1280.1 392.8 L1279.4 393.6 L1278.8 394.4 L1278.2 395.2 L1277.6 395.9 L1277.0 396.7 L1276.5 397.5 L1275.9 398.3 L1275.4 399.1 L1274.9 399.9 L1274.4 400.6 L1273.9 401.4 L1273.5 402.2 L1273.0 403.0 L1272.6 403.8 L1272.2 404.6 L1271.8 405.3 L1271.4 406.1 L1271.1 406.9 L1270.7 407.7 L1270.4 408.5 L1270.0 409.2 L1269.7 410.0 L1269.4 410.8 L1269.1 411.6 L1268.9 412.4 L1268.6 413.2 L1268.3 413.9 L1268.1 414.7 L1267.9 415.5 L1267.7 416.3 L1267.4 417.1 L1267.2 417.9 L1267.0 418.6 L1266.9 419.4 L1266.7 420.2 L1266.5 421.0 L1266.4 421.8 L1266.2 422.6 L1266.1 423.3 L1265.9 424.1 L1265.8 424.9 L1265.7 425.7 L1265.6 426.5 L1265.5 427.3 L1265.3 428.0 L1265.2 428.8 L1265.2 429.6 L1265.1 430.4 L1265.0 431.2 L1264.9 432.0 L1264.8 432.7 L1264.8 433.5 L1264.7 434.3 L1264.6 435.1 L1264.6 435.9 L1264.5 436.7 L1264.5 437.4 L1264.4 438.2 L1264.4 439.0 L1264.3 439.8 L1264.3 440.6 L1264.2 441.4 L1264.2 442.1 L1264.2 442.9 L1264.1 443.7 L1264.1 444.5 L1264.1 445.3 L1264.0 446.1 L1264.0 446.8 L1264.0 447.6 L1264.0 448.4 L1264.0 449.2 L1263.9 450.0 L1263.9 450.8 L1263.9 451.5 L1263.9 452.3 L1263.9 453.1 L1263.9 453.9 L1263.9 454.7 L1263.8 455.5 L1263.8 456.2 L1263.8 457.0 L1263.8 457.8 L1263.8 458.6 L1263.8 459.4 L1263.8 460.2 L1263.8 460.9 L1263.8 461.7 L1263.8 462.5 L1263.8 463.3 L1263.8 464.1 L1263.8 464.9 L1263.7 465.6 L1263.7 466.4 L1263.7 467.2 L1263.7 468.0 L1263.7 468.8 L1263.7 469.6 L1263.7 470.3 L1263.7 471.1 L1263.7 471.9 L1263.7 472.7 L1263.7 473.5 L1263.7 474.3 L1263.7 475.0 L1263.7 475.8 L1263.7 476.6 L1263.7 477.4 L1263.7 478.2 L1263.7 479.0 L1263.7 479.7 L1263.7 480.5 L1263.7 481.3 L1263.7 482.1 L1263.7 482.9 L1263.7 483.7 L1263.7 484.4 L1263.7 485.2 L1263.7 486.0 L1263.7 486.8 L1263.7 487.6 L1263.7 488.3 L1263.7 489.1 L1263.7 489.9 L1263.7 490.7 L1263.7 491.5 L1263.7 492.3 L1263.7 493.0 L1263.7 493.8 L1263.7 494.6 L1263.7 495.4 L1263.7 496.2 L1263.7 497.0 L1263.7 497.7 L1263.7 498.5 L1263.7 499.3 L1263.7 500.1 L1263.7 500.9 L1263.7 501.7 L1263.7 502.4 L1263.7 503.2 L1263.7 504.0 L1263.7 504.8 L1263.7 505.6 L1263.7 506.4 L1263.7 507.1 L1263.7 507.9 L1263.7 508.7 L1263.7 509.5 L1263.7 510.3 L1263.7 511.1 L1263.7 511.8 L1263.7 512.6 L1263.7 513.4 L1263.7 514.2 L1263.7 515.0 L1263.7 515.8 L1263.7 516.5 L1263.7 517.3 L1263.7 518.1 L1263.7 518.9 L1263.7 519.7 L1263.7 520.5 L1263.7 521.2 L1263.7 522.0 L1263.7 522.8 L1263.7 523.6 L1263.7 524.4 L1263.7 525.2 L1263.7 525.9 L1263.7 526.7 L1263.7 527.5 L1263.7 528.3 L1263.7 529.1 L1263.7 529.9 L1263.7 530.6 L1263.7 531.4 L1263.7 532.2 L1263.7 533.0 L1263.7 533.8 L1263.7 534.6 L1263.7 535.3 L1263.7 536.1 L1263.7 536.9 L1263.7 537.7 L1263.7 538.5 L1263.7 539.3 L1263.7 540.0 L1263.7 540.8 L1263.7 541.6 L1263.7 542.4 L1263.7 543.2 L1263.7 544.0 L1263.7 544.7 L1263.7 545.5 L1263.7 546.3 L1263.7 547.1 L1263.7 547.9 L1263.7 548.7 L1263.7 549.4 L1263.7 550.2 L1263.7 551.0 L1263.7 551.8 L1263.7 552.6 L1263.7 553.4 L1263.7 554.1 L1263.7 554.9 L1263.7 555.7 L1263.7 556.5 L1263.7 557.3 L1263.7 558.1 L1263.7 558.8 L1263.7 559.6 L1263.7 560.4 L1263.7 561.2 L1263.7 562.0 L1263.7 562.8 L1263.7 563.5 L1263.7 564.3 L1263.7 565.1 L1263.7 565.9 L1263.7 566.7 L1263.7 567.5 L1263.7 568.2 L1263.7 569.0 L1263.7 569.8 L1263.7 570.6 L1263.7 571.4 L1263.7 572.1 L1263.7 572.9 L1263.7 573.7 L1263.7 574.5 L1263.7 575.3 L1263.7 576.1 L1263.7 576.8 L1263.7 577.6 L1263.7 578.4 L1263.7 579.2 L1263.7 580.0 L1263.7 580.8 L1263.7 581.5 L1263.7 582.3 L1263.7 583.1 L1263.7 583.9 L1263.7 584.7 L1263.7 585.5 L1263.7 586.2 L1263.7 587.0 L1263.8 587.8 L1263.8 588.6 L1263.8 589.4 L1263.8 590.2 L1263.8 590.9 L1263.8 591.7 L1263.8 592.5 L1263.8 593.3 L1263.8 594.1 L1263.8 594.9 L1263.8 595.6 L1263.8 596.4 L1263.8 597.2 L1263.9 598.0 L1263.9 598.8 L1263.9 599.6 L1263.9 600.3 L1263.9 601.1 L1263.9 601.9 L1263.9 602.7 L1264.0 603.5 L1264.0 604.3 L1264.0 605.0 L1264.0 605.8 L1264.1 606.6 L1264.1 607.4 L1264.1 608.2 L1264.2 609.0 L1264.2 609.7 L1264.2 610.5 L1264.3 611.3 L1264.3 612.1 L1264.3 612.9 L1264.4 613.7 L1264.4 614.4 L1264.5 615.2 L1264.6 616.0 L1264.6 616.8 L1264.7 617.6 L1264.8 618.4 L1264.8 619.1 L1264.9 619.9 L1265.0 620.7 L1265.1 621.5 L1265.2 622.3 L1265.3 623.1 L1265.4 623.8 L1265.5 624.6 L1265.6 625.4 L1265.7 626.2 L1265.8 627.0 L1266.0 627.8 L1266.1 628.5 L1266.3 629.3 L1266.4 630.1 L1266.6 630.9 L1266.8 631.7 L1267.0 632.5 L1267.2 633.2 L1267.4 634.0 L1267.6 634.8 L1267.8 635.6 L1268.1 636.4 L1268.3 637.2 L1268.6 637.9 L1268.9 638.7 L1269.2 639.5 L1269.5 640.3 L1269.8 641.1 L1270.1 641.9 L1270.5 642.6 L1270.9 643.4 L1271.2 644.2 L1271.6 645.0 L1272.1 645.8 L1272.5 646.6 L1272.9 647.3 L1273.4 648.1 L1273.9 648.9 L1274.4 649.7 L1274.9 650.5 L1275.5 651.2 L1276.1 652.0 L1276.6 652.8 L1277.3 653.6 L1277.9 654.4 L1278.5 655.2 L1279.2 655.9 L1279.9 656.7 L1280.6 657.5 L1281.4 658.3 L1282.2 659.1 L1283.0 659.9 L1283.8 660.6 L1284.6 661.4 L1285.5 662.2 L1286.4 663.0 L1287.3 663.8 L1288.3 664.6 L1289.3 665.3 L1290.3 666.1 L1291.3 666.9 L1292.4 667.7 L1293.4 668.5 L1294.5 669.3 L1295.7 670.0 L1296.8 670.8 L1298.0 671.6 L1299.2 672.4 L1300.4 673.2 L1301.7 674.0 L1303.0 674.7 L1304.3 675.5 L1305.6 676.3 L1307.0 677.1 L1308.3 677.9 L1309.7 678.7 L1311.1 679.4 L1312.6 680.2 L1314.0 681.0 L1315.5 681.8 L1317.0 682.6 L1318.5 683.4 L1320.0 684.1 L1321.5 684.9 L1323.1 685.7 L1324.6 686.5 L1326.2 687.3 L1327.8 688.1 L1329.3 688.8 L1330.9 689.6 L1332.5 690.4 L1334.1 691.2 L1335.7 692.0 L1337.3 692.8 L1338.9 693.5 L1340.5 694.3 L1342.1 695.1 L1343.7 695.9 L1345.3 696.7 L1346.9 697.5 L1348.4 698.2 L1350.0 699.0 L1351.5 699.8 L1353.1 700.6 L1354.6 701.4 L1356.0 702.2 L1357.5 702.9 L1358.9 703.7 L1360.4 704.5 L1361.7 705.3 L1363.1 706.1 L1364.4 706.9 L1365.7 707.6 L1367.0 708.4 L1368.2 709.2 L1369.4 710.0 L1370.6 710.8 L1371.7 711.6 L1372.8 712.3 L1373.8 713.1 L1374.8 713.9 L1375.7 714.7 L1376.6 715.5 L1377.5 716.3 L1378.3 717.0 L1379.0 717.8 L1379.7 718.6 L1380.4 719.4 L1381.0 720.2 L1381.5 721.0 L1382.0 721.7 L1382.4 722.5 L1382.8 723.3 L1383.1 724.1 L1383.4 724.9 L1383.6 725.7 L1383.7 726.4 L1383.8 727.2 L1383.9 728.0Z"/>
<path d="M1646.4 728.0 L1646.6 727.2 L1647.2 726.4 L1648.2 725.7 L1649.6 724.9 L1651.4 724.1 L1653.6 723.3 L1656.2 722.5 L1659.1 721.7 L1662.4 721.0 L1666.0 720.2 L1670.0 719.4 L1674.2 718.6 L1678.8 717.8 L1683.7 717.0 L1688.8 716.3 L1694.2 715.5 L1699.8 714.7 L1705.6 713.9 L1711.6 713.1 L1717.8 712.3 L1724.1 711.6 L1730.5 710.8 L1737.1 710.0 L1743.8 709.2 L1750.5 708.4 L1757.3 707.6 L1764.1 706.9 L1770.9 706.1 L1777.7 705.3 L1784.5 704.5 L1791.3 703.7 L1798.0 702.9 L1804.7 702.2 L1811.2 701.4 L1817.7 700.6 L1824.1 699.8 L1830.3 699.0 L1836.4 698.2 L1842.4 697.5 L1848.2 696.7 L1853.9 695.9 L1859.4 695.1 L1864.8 694.3 L1870.0 693.5 L1875.0 692.8 L1879.8 692.0 L1884.5 691.2 L1888.9 690.4 L1893.2 689.6 L1897.3 688.8 L1901.3 688.1 L1905.0 687.3 L1908.6 686.5 L1912.0 685.7 L1915.2 684.9 L1918.3 684.1 L1921.2 683.4 L1924.0 682.6 L1926.5 681.8 L1929.0 681.0 L1931.3 680.2 L1933.4 679.4 L1935.5 678.7 L1937.4 677.9 L1939.1 677.1 L1940.8 676.3 L1942.3 675.5 L1943.8 674.7 L1945.1 674.0 L1946.3 673.2 L1947.5 672.4 L1948.6 671.6 L1949.5 670.8 L1950.4 670.0 L1951.3 669.3 L1952.0 668.5 L1952.7 667.7 L1953.4 666.9 L1954.0 666.1 L1954.5 665.3 L1955.0 664.6 L1955.5 663.8 L1955.9 663.0 L1956.2 662.2 L1956.6 661.4 L1956.9 660.6 L1957.2 659.9 L1957.4 659.1 L1957.6 658.3 L1957.8 657.5 L1958.0 656.7 L1958.2 655.9 L1958.3 655.2 L1958.5 654.4 L1958.6 653.6 L1958.7 652.8 L1958.8 652.0 L1958.9 651.2 L1959.0 650.5 L1959.0 649.7 L1959.1 648.9 L1959.1 648.1 L1959.2 647.3 L1959.2 646.6 L1959.3 645.8 L1959.3 645.0 L1959.3 644.2 L1959.3 643.4 L1959.4 642.6 L1959.4 641.9 L1959.4 641.1 L1959.4 640.3 L1959.4 639.5 L1959.4 638.7 L1959.5 637.9 L1959.5 637.2 L1959.5 636.4 L1959.5 635.6 L1959.5 634.8 L1959.5 634.0 L1959.5 633.2 L1959.5 632.5 L1959.5 631.7 L1959.5 630.9 L1959.5 630.1 L1959.5 629.3 L1959.5 628.5 L1959.5 627.8 L1959.5 627.0 L1959.5 626.2 L1959.5 625.4 L1959.5 624.6 L1959.5 623.8 L1959.5 623.1 L1959.5 622.3 L1959.5 621.5 L1959.5 620.7 L1959.5 619.9 L1959.5 619.1 L1959.5 618.4 L1959.5 617.6 L1959.5 616.8 L1959.5 616.0 L1959.5 615.2 L1959.5 614.4 L1959.5 613.7 L1959.5 612.9 L1959.5 612.1 L1959.5 611.3 L1959.5 610.5 L1959.5 609.7 L1959.5 609.0 L1959.5 608.2 L1959.5 607.4 L1959.5 606.6 L1959.5 605.8 L1959.5 605.0 L1959.5 604.3 L1959.5 603.5 L1959.5 602.7 L1959.5 601.9 L1959.5 601.1 L1959.5 600.3 L1959.5 599.6 L1959.5 598.8 L1959.5 598.0 L1959.5 597.2 L1959.5 596.4 L1959.5 595.6 L1959.5 594.9 L1959.5 594.1 L1959.5 593.3 L1959.5 592.5 L1959.5 591.7 L1959.5 590.9 L1959.5 590.2 L1959.5 589.4 L1959.5 588.6 L1959.5 587.8 L1959.5 587.0 L1959.5 586.2 L1959.5 585.5 L1959.5 584.7 L1959.5 583.9 L1959.5 583.1 L1959.5 582.3 L1959.5 581.5 L1959.5 580.8 L1959.5 580.0 L1959.5 579.2 L1959.5 578.4 L1959.5 577.6 L1959.5 576.8 L1959.5 576.1 L1959.5 575.3 L1959.5 574.5 L1959.5 573.7 L1959.5 572.9 L1959.5 572.1 L1959.5 571.4 L1959.5 570.6 L1959.5 569.8 L1959.5 569.0 L1959.5 568.2 L1959.5 567.5 L1959.5 566.7 L1959.5 565.9 L1959.5 565.1 L1959.5 564.3 L1959.5 563.5 L1959.5 562.8 L1959.5 562.0 L1959.5 561.2 L1959.5 560.4 L1959.5 559.6 L1959.5 558.8 L1959.5 558.1 L1959.5 557.3 L1959.5 556.5 L1959.5 555.7 L1959.5 554.9 L1959.5 554.1 L1959.5 553.4 L1959.5 552.6 L1959.5 551.8 L1959.5 551.0 L1959.5 550.2 L1959.5 549.4 L1959.5 548.7 L1959.5 547.9 L1959.5 547.1 L1959.5 546.3 L1959.5 545.5 L1959.5 544.7 L1959.5 544.0 L1959.5 543.2 L1959.5 542.4 L1959.5 541.6 L1959.5 540.8 L1959.5 540.0 L1959.5 539.3 L1959.5 538.5 L1959.5 537.7 L1959.5 536.9 L1959.5 536.1 L1959.5 535.3 L1959.5 534.6 L1959.5 533.8 L1959.5 533.0 L1959.5 532.2 L1959.5 531.4 L1959.5 530.6 L1959.5 529.9 L1959.5 529.1 L1959.5 528.3 L1959.5 527.5 L1959.5 526.7 L1959.5 525.9 L1959.5 525.2 L1959.5 524.4 L1959.5 523.6 L1959.5 522.8 L1959.5 522.0 L1959.5 521.2 L1959.5 520.5 L1959.5 519.7 L1959.5 518.9 L1959.5 518.1 L1959.5 517.3 L1959.5 516.5 L1959.5 515.8 L1959.5 515.0 L1959.5 514.2 L1959.5 513.4 L1959.5 512.6 L1959.5 511.8 L1959.5 511.1 L1959.5 510.3 L1959.5 509.5 L1959.5 508.7 L1959.5 507.9 L1959.5 507.1 L1959.5 506.4 L1959.5 505.6 L1959.5 504.8 L1959.5 504.0 L1959.5 503.2 L1959.5 502.4 L1959.5 501.7 L1959.5 500.9 L1959.5 500.1 L1959.5 499.3 L1959.5 498.5 L1959.5 497.7 L1959.5 497.0 L1959.5 496.2 L1959.5 495.4 L1959.5 494.6 L1959.5 493.8 L1959.5 493.0 L1959.5 492.3 L1959.5 491.5 L1959.5 490.7 L1959.5 489.9 L1959.5 489.1 L1959.5 488.3 L1959.5 487.6 L1959.5 486.8 L1959.5 486.0 L1959.5 485.2 L1959.5 484.4 L1959.5 483.7 L1959.5 482.9 L1959.5 482.1 L1959.5 481.3 L1959.5 480.5 L1959.5 479.7 L1959.5 479.0 L1959.5 478.2 L1959.5 477.4 L1959.5 476.6 L1959.5 475.8 L1959.5 475.0 L1959.5 474.3 L1959.5 473.5 L1959.5 472.7 L1959.5 471.9 L1959.5 471.1 L1959.5 470.3 L1959.5 469.6 L1959.5 468.8 L1959.5 468.0 L1959.5 467.2 L1959.5 466.4 L1959.5 465.6 L1959.5 464.9 L1959.5 464.1 L1959.5 463.3 L1959.5 462.5 L1959.5 461.7 L1959.5 460.9 L1959.5 460.2 L1959.5 459.4 L1959.5 458.6 L1959.5 457.8 L1959.5 457.0 L1959.5 456.2 L1959.5 455.5 L1959.5 454.7 L1959.5 453.9 L1959.5 453.1 L1959.5 452.3 L1959.5 451.5 L1959.5 450.8 L1959.5 450.0 L1959.5 449.2 L1959.5 448.4 L1959.5 447.6 L1959.5 446.8 L1959.5 446.1 L1959.5 445.3 L1959.5 444.5 L1959.5 443.7 L1959.5 442.9 L1959.5 442.1 L1959.5 441.4 L1959.5 440.6 L1959.5 439.8 L1959.5 439.0 L1959.5 438.2 L1959.5 437.4 L1959.5 436.7 L1959.5 435.9 L1959.5 435.1 L1959.5 434.3 L1959.5 433.5 L1959.5 432.7 L1959.5 432.0 L1959.5 431.2 L1959.5 430.4 L1959.5 429.6 L1959.5 428.8 L1959.5 428.0 L1959.5 427.3 L1959.5 426.5 L1959.5 425.7 L1959.5 424.9 L1959.5 424.1 L1959.5 423.3 L1959.5 422.6 L1959.5 421.8 L1959.5 421.0 L1959.5 420.2 L1959.5 419.4 L1959.5 418.6 L1959.5 417.9 L1959.5 417.1 L1959.5 416.3 L1959.5 415.5 L1959.5 414.7 L1959.5 413.9 L1959.5 413.2 L1959.5 412.4 L1959.5 411.6 L1959.5 410.8 L1959.5 410.0 L1959.5 409.2 L1959.5 408.5 L1959.5 407.7 L1959.5 406.9 L1959.5 406.1 L1959.5 405.3 L1959.5 404.6 L1959.5 403.8 L1959.4 403.0 L1959.4 402.2 L1959.4 401.4 L1959.4 400.6 L1959.4 399.9 L1959.4 399.1 L1959.4 398.3 L1959.4 397.5 L1959.3 396.7 L1959.3 395.9 L1959.3 395.2 L1959.3 394.4 L1959.3 393.6 L1959.2 392.8 L1959.2 392.0 L1959.2 391.2 L1959.1 390.5 L1959.1 389.7 L1959.0 388.9 L1959.0 388.1 L1958.9 387.3 L1958.9 386.5 L1958.8 385.8 L1958.7 385.0 L1958.6 384.2 L1958.6 383.4 L1958.5 382.6 L1958.4 381.8 L1958.3 381.1 L1958.1 380.3 L1958.0 379.5 L1957.9 378.7 L1957.7 377.9 L1957.6 377.1 L1957.4 376.4 L1957.3 375.6 L1957.1 374.8 L1956.9 374.0 L1956.7 373.2 L1956.4 372.4 L1956.2 371.7 L1956.0 370.9 L1955.7 370.1 L1955.4 369.3 L1955.2 368.5 L1954.9 367.7 L1954.5 367.0 L1954.2 366.2 L1953.9 365.4 L1953.5 364.6 L1953.1 363.8 L1952.8 363.0 L1952.4 362.3 L1951.9 361.5 L1951.5 360.7 L1951.1 359.9 L1950.6 359.1 L1950.1 358.3 L1949.7 357.6 L1949.2 356.8 L1948.7 356.0 L1948.2 355.2 L1947.7 354.4 L1947.1 353.6 L1946.6 352.9 L1946.1 352.1 L1945.5 351.3 L1945.0 350.5 L1944.4 349.7 L1943.9 348.9 L1943.3 348.2 L1942.8 347.4 L1942.3 346.6 L1941.7 345.8 L1941.2 345.0 L1940.7 344.2 L1940.2 343.5 L1939.7 342.7 L1939.2 341.9 L1938.7 341.1 L1938.3 340.3 L1937.9 339.5 L1937.5 338.8 L1937.1 338.0 L1936.7 337.2 L1936.4 336.4 L1936.0 335.6 L1935.7 334.8 L1935.5 334.1 L1935.3 333.3 L1935.0 332.5 L1934.9 331.7 L1934.7 330.9 L1934.6 330.1 L1934.5 329.4 L1934.5 328.6 L1934.5 327.8 L1984.6 327.8 L1984.5 328.6 L1984.5 329.4 L1984.4 330.1 L1984.3 330.9 L1984.2 331.7 L1984.0 332.5 L1983.8 333.3 L1983.5 334.1 L1983.3 334.8 L1983.0 335.6 L1982.7 336.4 L1982.3 337.2 L1982.0 338.0 L1981.6 338.8 L1981.2 339.5 L1980.7 340.3 L1980.3 341.1 L1979.8 341.9 L1979.3 342.7 L1978.8 343.5 L1978.3 344.2 L1977.8 345.0 L1977.3 345.8 L1976.8 346.6 L1976.2 347.4 L1975.7 348.2 L1975.1 348.9 L1974.6 349.7 L1974.0 350.5 L1973.5 351.3 L1973.0 352.1 L1972.4 352.9 L1971.9 353.6 L1971.4 354.4 L1970.9 355.2 L1970.3 356.0 L1969.8 356.8 L1969.4 357.6 L1968.9 358.3 L1968.4 359.1 L1968.0 359.9 L1967.5 360.7 L1967.1 361.5 L1966.7 362.3 L1966.3 363.0 L1965.9 363.8 L1965.5 364.6 L1965.2 365.4 L1964.8 366.2 L1964.5 367.0 L1964.2 367.7 L1963.9 368.5 L1963.6 369.3 L1963.3 370.1 L1963.1 370.9 L1962.8 371.7 L1962.6 372.4 L1962.4 373.2 L1962.1 374.0 L1962.0 374.8 L1961.8 375.6 L1961.6 376.4 L1961.4 377.1 L1961.3 377.9 L1961.1 378.7 L1961.0 379.5 L1960.9 380.3 L1960.8 381.1 L1960.7 381.8 L1960.6 382.6 L1960.5 383.4 L1960.4 384.2 L1960.3 385.0 L1960.2 385.8 L1960.2 386.5 L1960.1 387.3 L1960.1 388.1 L1960.0 388.9 L1960.0 389.7 L1959.9 390.5 L1959.9 391.2 L1959.8 392.0 L1959.8 392.8 L1959.8 393.6 L1959.7 394.4 L1959.7 395.2 L1959.7 395.9 L1959.7 396.7 L1959.7 397.5 L1959.6 398.3 L1959.6 399.1 L1959.6 399.9 L1959.6 400.6 L1959.6 401.4 L1959.6 402.2 L1959.6 403.0 L1959.6 403.8 L1959.6 404.6 L1959.6 405.3 L1959.6 406.1 L1959.5 406.9 L1959.5 407.7 L1959.5 408.5 L1959.5 409.2 L1959.5 410.0 L1959.5 410.8 L1959.5 411.6 L1959.5 412.4 L1959.5 413.2 L1959.5 413.9 L1959.5 414.7 L1959.5 415.5 L1959.5 416.3 L1959.5 417.1 L1959.5 417.9 L1959.5 418.6 L1959.5 419.4 L1959.5 420.2 L1959.5 421.0 L1959.5 421.8 L1959.5 422.6 L1959.5 423.3 L1959.5 424.1 L1959.5 424.9 L1959.5 425.7 L1959.5 426.5 L1959.5 427.3 L1959.5 428.0 L1959.5 428.8 L1959.5 429.6 L1959.5 430.4 L1959.5 431.2 L1959.5 432.0 L1959.5 432.7 L1959.5 433.5 L1959.5 434.3 L1959.5 435.1 L1959.5 435.9 L1959.5 436.7 L1959.5 437.4 L1959.5 438.2 L1959.5 439.0 L1959.5 439.8 L1959.5 440.6 L1959.5 441.4 L1959.5 442.1 L1959.5 442.9 L1959.5 443.7 L1959.5 444.5 L1959.5 445.3 L1959.5 446.1 L1959.5 446.8 L1959.5 447.6 L1959.5 448.4 L1959.5 449.2 L1959.5 450.0 L1959.5 450.8 L1959.5 451.5 L1959.5 452.3 L1959.5 453.1 L1959.5 453.9 L1959.5 454.7 L1959.5 455.5 L1959.5 456.2 L1959.5 457.0 L1959.5 457.8 L1959.5 458.6 L1959.5 459.4 L1959.5 460.2 L1959.5 460.9 L1959.5 461.7 L1959.5 462.5 L1959.5 463.3 L1959.5 464.1 L1959.5 464.9 L1959.5 465.6 L1959.5 466.4 L1959.5 467.2 L1959.5 468.0 L1959.5 468.8 L1959.5 469.6 L1959.5 470.3 L1959.5 471.1 L1959.5 471.9 L1959.5 472.7 L1959.5 473.5 L1959.5 474.3 L1959.5 475.0 L1959.5 475.8 L1959.5 476.6 L1959.5 477.4 L1959.5 478.2 L1959.5 479.0 L1959.5 479.7 L1959.5 480.5 L1959.5 481.3 L1959.5 482.1 L1959.5 482.9 L1959.5 483.7 L1959.5 484.4 L1959.5 485.2 L1959.5 486.0 L1959.5 486.8 L1959.5 487.6 L1959.5 488.3 L1959.5 489.1 L1959.5 489.9 L1959.5 490.7 L1959.5 491.5 L1959.5 492.3 L1959.5 493.0 L1959.5 493.8 L1959.5 494.6 L1959.5 495.4 L1959.5 496.2 L1959.5 497.0 L1959.5 497.7 L1959.5 498.5 L1959.5 499.3 L1959.5 500.1 L1959.5 500.9 L1959.5 501.7 L1959.5 502.4 L1959.5 503.2 L1959.5 504.0 L1959.5 504.8 L1959.5 505.6 L1959.5 506.4 L1959.5 507.1 L1959.5 507.9 L1959.5 508.7 L1959.5 509.5 L1959.5 510.3 L1959.5 511.1 L1959.5 511.8 L1959.5 512.6 L1959.5 513.4 L1959.5 514.2 L1959.5 515.0 L1959.5 515.8 L1959.5 516.5 L1959.5 517.3 L1959.5 518.1 L1959.5 518.9 L1959.5 519.7 L1959.5 520.5 L1959.5 521.2 L1959.5 522.0 L1959.5 522.8 L1959.5 523.6 L1959.5 524.4 L1959.5 525.2 L1959.5 525.9 L1959.5 526.7 L1959.5 527.5 L1959.5 528.3 L1959.5 529.1 L1959.5 529.9 L1959.5 530.6 L1959.5 531.4 L1959.5 532.2 L1959.5 533.0 L1959.5 533.8 L1959.5 534.6 L1959.5 535.3 L1959.5 536.1 L1959.5 536.9 L1959.5 537.7 L1959.5 538.5 L1959.5 539.3 L1959.5 540.0 L1959.5 540.8 L1959.5 541.6 L1959.5 542.4 L1959.5 543.2 L1959.5 544.0 L1959.5 544.7 L1959.5 545.5 L1959.5 546.3 L1959.5 547.1 L1959.5 547.9 L1959.5 548.7 L1959.5 549.4 L1959.5 550.2 L1959.5 551.0 L1959.5 551.8 L1959.5 552.6 L1959.5 553.4 L1959.5 554.1 L1959.5 554.9 L1959.5 555.7 L1959.5 556.5 L1959.5 557.3 L1959.5 558.1 L1959.5 558.8 L1959.5 559.6 L1959.5 560.4 L1959.5 561.2 L1959.5 562.0 L1959.5 562.8 L1959.5 563.5 L1959.5 564.3 L1959.5 565.1 L1959.5 565.9 L1959.5 566.7 L1959.5 567.5 L1959.5 568.2 L1959.5 569.0 L1959.5 569.8 L1959.5 570.6 L1959.5 571.4 L1959.5 572.1 L1959.5 572.9 L1959.5 573.7 L1959.5 574.5 L1959.5 575.3 L1959.5 576.1 L1959.5 576.8 L1959.5 577.6 L1959.5 578.4 L1959.5 579.2 L1959.5 580.0 L1959.5 580.8 L1959.5 581.5 L1959.5 582.3 L1959.5 583.1 L1959.5 583.9 L1959.5 584.7 L1959.5 585.5 L1959.5 586.2 L1959.5 587.0 L1959.5 587.8 L1959.5 588.6 L1959.5 589.4 L1959.5 590.2 L1959.5 590.9 L1959.5 591.7 L1959.5 592.5 L1959.5 593.3 L1959.5 594.1 L1959.5 594.9 L1959.5 595.6 L1959.5 596.4 L1959.5 597.2 L1959.5 598.0 L1959.5 598.8 L1959.5 599.6 L1959.5 600.3 L1959.5 601.1 L1959.5 601.9 L1959.5 602.7 L1959.5 603.5 L1959.5 604.3 L1959.5 605.0 L1959.5 605.8 L1959.5 606.6 L1959.5 607.4 L1959.5 608.2 L1959.5 609.0 L1959.5 609.7 L1959.5 610.5 L1959.5 611.3 L1959.5 612.1 L1959.5 612.9 L1959.5 613.7 L1959.5 614.4 L1959.5 615.2 L1959.5 616.0 L1959.5 616.8 L1959.5 617.6 L1959.5 618.4 L1959.5 619.1 L1959.5 619.9 L1959.5 620.7 L1959.5 621.5 L1959.5 622.3 L1959.5 623.1 L1959.5 623.8 L1959.5 624.6 L1959.5 625.4 L1959.5 626.2 L1959.5 627.0 L1959.5 627.8 L1959.5 628.5 L1959.5 629.3 L1959.5 630.1 L1959.5 630.9 L1959.5 631.7 L1959.5 632.5 L1959.5 633.2 L1959.5 634.0 L1959.5 634.8 L1959.6 635.6 L1959.6 636.4 L1959.6 637.2 L1959.6 637.9 L1959.6 638.7 L1959.6 639.5 L1959.6 640.3 L1959.6 641.1 L1959.6 641.9 L1959.7 642.6 L1959.7 643.4 L1959.7 644.2 L1959.7 645.0 L1959.8 645.8 L1959.8 646.6 L1959.8 647.3 L1959.9 648.1 L1959.9 648.9 L1960.0 649.7 L1960.1 650.5 L1960.1 651.2 L1960.2 652.0 L1960.3 652.8 L1960.4 653.6 L1960.5 654.4 L1960.7 655.2 L1960.8 655.9 L1961.0 656.7 L1961.2 657.5 L1961.4 658.3 L1961.6 659.1 L1961.9 659.9 L1962.1 660.6 L1962.4 661.4 L1962.8 662.2 L1963.2 663.0 L1963.6 663.8 L1964.0 664.6 L1964.5 665.3 L1965.0 666.1 L1965.6 666.9 L1966.3 667.7 L1967.0 668.5 L1967.8 669.3 L1968.6 670.0 L1969.5 670.8 L1970.5 671.6 L1971.5 672.4 L1972.7 673.2 L1973.9 674.0 L1975.3 674.7 L1976.7 675.5 L1978.2 676.3 L1979.9 677.1 L1981.7 677.9 L1983.6 678.7 L1985.6 679.4 L1987.7 680.2 L1990.0 681.0 L1992.5 681.8 L1995.1 682.6 L1997.8 683.4 L2000.7 684.1 L2003.8 684.9 L2007.0 685.7 L2010.4 686.5 L2014.0 687.3 L2017.8 688.1 L2021.7 688.8 L2025.8 689.6 L2030.1 690.4 L2034.6 691.2 L2039.2 692.0 L2044.0 692.8 L2049.1 693.5 L2054.2 694.3 L2059.6 695.1 L2065.1 695.9 L2070.8 696.7 L2076.6 697.5 L2082.6 698.2 L2088.7 699.0 L2095.0 699.8 L2101.3 700.6 L2107.8 701.4 L2114.3 702.2 L2121.0 702.9 L2127.7 703.7 L2134.5 704.5 L2141.3 705.3 L2148.1 706.1 L2154.9 706.9 L2161.7 707.6 L2168.5 708.4 L2175.3 709.2 L2181.9 710.0 L2188.5 710.8 L2194.9 711.6 L2201.3 712.3 L2207.4 713.1 L2213.4 713.9 L2219.3 714.7 L2224.9 715.5 L2230.2 716.3 L2235.4 717.0 L2240.2 717.8 L2244.8 718.6 L2249.1 719.4 L2253.0 720.2 L2256.6 721.0 L2259.9 721.7 L2262.9 722.5 L2265.4 723.3 L2267.6 724.1 L2269.4 724.9 L2270.8 725.7 L2271.8 726.4 L2272.4 727.2 L2272.6 728.0Z"/>
</g>
<rect x="151.00" y="132.50" width="2225.40" height="790.80" fill="none" stroke="#212f3f" stroke-width="1.25"/>
<g filter="url(#f)">
<text x="129.7" y="741.9" font-size="36.67" text-anchor="end">0.0</text>
<text x="129.7" y="541.8" font-size="36.67" text-anchor="end">0.5</text>
<text x="129.7" y="341.7" font-size="36.67" text-anchor="end">1.0</text>
<text x="567.9" y="971" font-size="36.67" text-anchor="middle">DSL</text>
<text x="1263.7" y="971" font-size="36.67" text-anchor="middle">Fiber optic</text>
<text x="1959.5" y="971" font-size="36.67" text-anchor="middle">No</text>
<text x="1263.7" y="1026.3" font-size="45.83" text-anchor="middle">Internet Service</text>
<text transform="translate(56 527.9) rotate(-90)" font-size="45.83" text-anchor="middle">Churn</text>
</g>
</svg>
</body></html>
